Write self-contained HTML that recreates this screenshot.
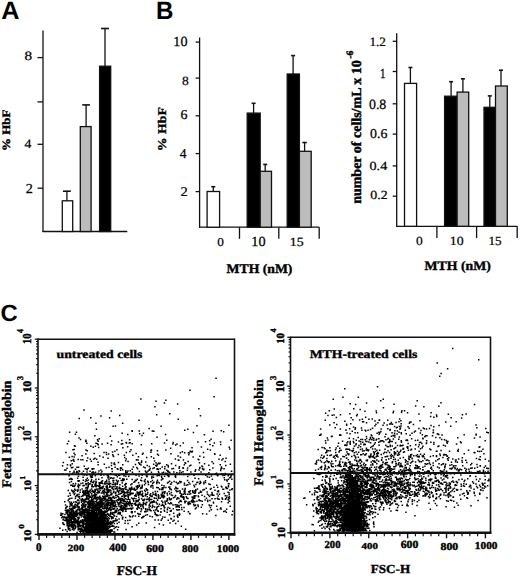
<!DOCTYPE html>
<html><head><meta charset="utf-8"><style>
html,body{margin:0;padding:0;background:#fff;width:520px;height:577px;overflow:hidden}
svg{display:block;text-rendering:geometricPrecision}
</style></head><body><svg width="520" height="577" viewBox="0 0 520 577"><line x1="43.00" y1="30.50" x2="43.00" y2="232.00" stroke="#111" stroke-width="1.3"/><line x1="42.40" y1="231.50" x2="127.30" y2="231.50" stroke="#111" stroke-width="1.3"/><line x1="37.50" y1="57.60" x2="43.00" y2="57.60" stroke="#111" stroke-width="1.3"/><line x1="37.50" y1="101.90" x2="43.00" y2="101.90" stroke="#111" stroke-width="1.3"/><line x1="37.50" y1="144.30" x2="43.00" y2="144.30" stroke="#111" stroke-width="1.3"/><line x1="37.50" y1="188.20" x2="43.00" y2="188.20" stroke="#111" stroke-width="1.3"/><rect x="62.30" y="200.80" width="10.40" height="30.70" fill="#fff" stroke="#111" stroke-width="1.3"/><line x1="66.90" y1="200.80" x2="66.90" y2="191.20" stroke="#111" stroke-width="1.3"/><line x1="62.95" y1="191.20" x2="70.85" y2="191.20" stroke="#111" stroke-width="1.6"/><rect x="80.30" y="126.60" width="10.80" height="104.90" fill="#bcbcbc" stroke="#111" stroke-width="1.3"/><line x1="86.10" y1="126.60" x2="86.10" y2="104.90" stroke="#111" stroke-width="1.3"/><line x1="82.25" y1="104.90" x2="89.95" y2="104.90" stroke="#111" stroke-width="1.6"/><rect x="99.60" y="66.20" width="11.10" height="165.30" fill="#000" stroke="#111" stroke-width="1.3"/><line x1="105.00" y1="66.20" x2="105.00" y2="28.50" stroke="#111" stroke-width="1.3"/><line x1="101.00" y1="28.50" x2="109.00" y2="28.50" stroke="#111" stroke-width="1.6"/><line x1="199.60" y1="37.50" x2="199.60" y2="227.80" stroke="#111" stroke-width="1.3"/><line x1="199.00" y1="227.20" x2="319.20" y2="227.20" stroke="#111" stroke-width="1.3"/><line x1="195.60" y1="42.10" x2="199.60" y2="42.10" stroke="#111" stroke-width="1.3"/><line x1="195.60" y1="78.10" x2="199.60" y2="78.10" stroke="#111" stroke-width="1.3"/><line x1="195.60" y1="115.80" x2="199.60" y2="115.80" stroke="#111" stroke-width="1.3"/><line x1="195.60" y1="153.60" x2="199.60" y2="153.60" stroke="#111" stroke-width="1.3"/><line x1="195.60" y1="191.60" x2="199.60" y2="191.60" stroke="#111" stroke-width="1.3"/><line x1="239.50" y1="227.20" x2="239.50" y2="238.80" stroke="#111" stroke-width="1.3"/><line x1="278.80" y1="227.20" x2="278.80" y2="238.80" stroke="#111" stroke-width="1.3"/><line x1="319.20" y1="227.20" x2="319.20" y2="238.80" stroke="#111" stroke-width="1.3"/><rect x="207.10" y="191.50" width="12.50" height="35.70" fill="#fff" stroke="#111" stroke-width="1.3"/><line x1="213.30" y1="191.50" x2="213.30" y2="186.70" stroke="#111" stroke-width="1.3"/><line x1="211.30" y1="186.70" x2="215.30" y2="186.70" stroke="#111" stroke-width="1.6"/><rect x="247.20" y="113.10" width="13.00" height="114.10" fill="#000" stroke="#111" stroke-width="1.3"/><line x1="253.60" y1="113.10" x2="253.60" y2="103.30" stroke="#111" stroke-width="1.3"/><line x1="251.60" y1="103.30" x2="255.60" y2="103.30" stroke="#111" stroke-width="1.6"/><rect x="260.20" y="171.30" width="11.30" height="55.90" fill="#bcbcbc" stroke="#111" stroke-width="1.3"/><line x1="265.20" y1="171.30" x2="265.20" y2="164.40" stroke="#111" stroke-width="1.3"/><line x1="263.20" y1="164.40" x2="267.20" y2="164.40" stroke="#111" stroke-width="1.6"/><rect x="287.20" y="74.00" width="12.20" height="153.20" fill="#000" stroke="#111" stroke-width="1.3"/><line x1="293.10" y1="74.00" x2="293.10" y2="55.60" stroke="#111" stroke-width="1.3"/><line x1="291.10" y1="55.60" x2="295.10" y2="55.60" stroke="#111" stroke-width="1.6"/><rect x="299.40" y="151.30" width="11.80" height="75.90" fill="#bcbcbc" stroke="#111" stroke-width="1.3"/><line x1="304.60" y1="151.30" x2="304.60" y2="142.50" stroke="#111" stroke-width="1.3"/><line x1="302.35" y1="142.50" x2="306.85" y2="142.50" stroke="#111" stroke-width="1.6"/><line x1="396.70" y1="33.30" x2="396.70" y2="226.90" stroke="#111" stroke-width="1.3"/><line x1="396.10" y1="226.30" x2="517.20" y2="226.30" stroke="#111" stroke-width="1.3"/><line x1="392.70" y1="41.30" x2="396.70" y2="41.30" stroke="#111" stroke-width="1.3"/><line x1="392.70" y1="71.50" x2="396.70" y2="71.50" stroke="#111" stroke-width="1.3"/><line x1="392.70" y1="103.80" x2="396.70" y2="103.80" stroke="#111" stroke-width="1.3"/><line x1="392.70" y1="134.10" x2="396.70" y2="134.10" stroke="#111" stroke-width="1.3"/><line x1="392.70" y1="165.90" x2="396.70" y2="165.90" stroke="#111" stroke-width="1.3"/><line x1="392.70" y1="196.20" x2="396.70" y2="196.20" stroke="#111" stroke-width="1.3"/><line x1="436.90" y1="226.30" x2="436.90" y2="238.10" stroke="#111" stroke-width="1.3"/><line x1="476.60" y1="226.30" x2="476.60" y2="238.10" stroke="#111" stroke-width="1.3"/><line x1="517.20" y1="226.30" x2="517.20" y2="238.10" stroke="#111" stroke-width="1.3"/><rect x="404.50" y="83.40" width="12.10" height="142.90" fill="#fff" stroke="#111" stroke-width="1.3"/><line x1="410.40" y1="83.40" x2="410.40" y2="67.50" stroke="#111" stroke-width="1.3"/><line x1="408.40" y1="67.50" x2="412.40" y2="67.50" stroke="#111" stroke-width="1.6"/><rect x="444.60" y="96.20" width="12.50" height="130.10" fill="#000" stroke="#111" stroke-width="1.3"/><line x1="451.10" y1="96.20" x2="451.10" y2="81.70" stroke="#111" stroke-width="1.3"/><line x1="449.10" y1="81.70" x2="453.10" y2="81.70" stroke="#111" stroke-width="1.6"/><rect x="457.10" y="92.10" width="11.60" height="134.20" fill="#bcbcbc" stroke="#111" stroke-width="1.3"/><line x1="462.90" y1="92.10" x2="462.90" y2="78.80" stroke="#111" stroke-width="1.3"/><line x1="460.90" y1="78.80" x2="464.90" y2="78.80" stroke="#111" stroke-width="1.6"/><rect x="484.00" y="107.30" width="11.50" height="119.00" fill="#000" stroke="#111" stroke-width="1.3"/><line x1="489.80" y1="107.30" x2="489.80" y2="95.90" stroke="#111" stroke-width="1.3"/><line x1="487.80" y1="95.90" x2="491.80" y2="95.90" stroke="#111" stroke-width="1.6"/><rect x="495.50" y="86.00" width="11.80" height="140.30" fill="#bcbcbc" stroke="#111" stroke-width="1.3"/><line x1="501.00" y1="86.00" x2="501.00" y2="70.20" stroke="#111" stroke-width="1.3"/><line x1="499.00" y1="70.20" x2="503.00" y2="70.20" stroke="#111" stroke-width="1.6"/><path fill="#000" d="M96.0 510.0h1.5v1.5h-1.5zM98.1 528.5h1.5v1.5h-1.5zM92.8 517.3h1.5v1.5h-1.5zM89.1 524.5h1.5v1.5h-1.5zM96.4 516.2h1.5v1.5h-1.5zM105.4 530.4h1.5v1.5h-1.5zM92.6 514.9h1.5v1.5h-1.5zM91.7 523.7h1.5v1.5h-1.5zM99.4 526.3h1.5v1.5h-1.5zM98.5 518.2h1.5v1.5h-1.5zM96.7 528.1h1.5v1.5h-1.5zM89.5 529.4h1.5v1.5h-1.5zM95.8 530.5h1.5v1.5h-1.5zM100.9 518.6h1.5v1.5h-1.5zM86.6 501.9h1.5v1.5h-1.5zM92.8 521.7h1.5v1.5h-1.5zM82.7 519.2h1.5v1.5h-1.5zM87.0 518.0h1.5v1.5h-1.5zM83.1 521.4h1.5v1.5h-1.5zM94.4 521.6h1.5v1.5h-1.5zM87.1 529.3h1.5v1.5h-1.5zM97.9 520.9h1.5v1.5h-1.5zM97.1 531.9h1.5v1.5h-1.5zM94.7 527.9h1.5v1.5h-1.5zM78.4 523.2h1.5v1.5h-1.5zM92.2 531.8h1.5v1.5h-1.5zM95.7 510.2h1.5v1.5h-1.5zM96.8 529.0h1.5v1.5h-1.5zM85.3 524.5h1.5v1.5h-1.5zM89.2 520.5h1.5v1.5h-1.5zM90.3 529.8h1.5v1.5h-1.5zM103.4 521.3h1.5v1.5h-1.5zM90.3 521.9h1.5v1.5h-1.5zM95.8 530.7h1.5v1.5h-1.5zM102.2 517.7h1.5v1.5h-1.5zM91.9 526.5h1.5v1.5h-1.5zM95.2 531.0h1.5v1.5h-1.5zM96.8 519.0h1.5v1.5h-1.5zM96.4 521.9h1.5v1.5h-1.5zM87.4 526.3h1.5v1.5h-1.5zM96.5 503.2h1.5v1.5h-1.5zM105.5 527.9h1.5v1.5h-1.5zM85.2 526.2h1.5v1.5h-1.5zM102.0 525.8h1.5v1.5h-1.5zM96.8 531.3h1.5v1.5h-1.5zM91.5 524.5h1.5v1.5h-1.5zM110.0 531.0h1.5v1.5h-1.5zM101.3 504.8h1.5v1.5h-1.5zM87.6 530.7h1.5v1.5h-1.5zM96.5 513.4h1.5v1.5h-1.5zM100.0 529.8h1.5v1.5h-1.5zM94.7 525.2h1.5v1.5h-1.5zM100.8 513.4h1.5v1.5h-1.5zM95.5 531.9h1.5v1.5h-1.5zM106.1 530.2h1.5v1.5h-1.5zM91.3 503.5h1.5v1.5h-1.5zM97.4 521.3h1.5v1.5h-1.5zM92.8 528.2h1.5v1.5h-1.5zM96.9 527.5h1.5v1.5h-1.5zM87.7 530.1h1.5v1.5h-1.5zM91.9 530.5h1.5v1.5h-1.5zM94.6 528.0h1.5v1.5h-1.5zM102.3 515.9h1.5v1.5h-1.5zM104.0 520.6h1.5v1.5h-1.5zM86.7 529.6h1.5v1.5h-1.5zM90.4 531.6h1.5v1.5h-1.5zM100.5 528.4h1.5v1.5h-1.5zM82.1 525.6h1.5v1.5h-1.5zM92.8 522.0h1.5v1.5h-1.5zM104.8 517.1h1.5v1.5h-1.5zM100.8 518.8h1.5v1.5h-1.5zM93.7 512.3h1.5v1.5h-1.5zM93.4 521.8h1.5v1.5h-1.5zM94.2 527.3h1.5v1.5h-1.5zM106.7 522.7h1.5v1.5h-1.5zM93.0 513.1h1.5v1.5h-1.5zM93.9 509.4h1.5v1.5h-1.5zM98.5 515.6h1.5v1.5h-1.5zM95.2 527.9h1.5v1.5h-1.5zM94.6 529.1h1.5v1.5h-1.5zM88.2 526.4h1.5v1.5h-1.5zM92.9 503.8h1.5v1.5h-1.5zM104.2 526.7h1.5v1.5h-1.5zM100.6 513.8h1.5v1.5h-1.5zM95.8 524.4h1.5v1.5h-1.5zM100.7 527.9h1.5v1.5h-1.5zM93.6 517.5h1.5v1.5h-1.5zM103.4 514.5h1.5v1.5h-1.5zM96.0 519.6h1.5v1.5h-1.5zM87.0 525.4h1.5v1.5h-1.5zM98.4 525.8h1.5v1.5h-1.5zM84.2 519.7h1.5v1.5h-1.5zM81.8 522.6h1.5v1.5h-1.5zM93.9 520.8h1.5v1.5h-1.5zM89.7 527.4h1.5v1.5h-1.5zM97.1 505.1h1.5v1.5h-1.5zM111.7 516.3h1.5v1.5h-1.5zM90.2 526.9h1.5v1.5h-1.5zM91.6 522.7h1.5v1.5h-1.5zM97.4 528.9h1.5v1.5h-1.5zM99.5 519.2h1.5v1.5h-1.5zM94.8 528.9h1.5v1.5h-1.5zM94.6 518.9h1.5v1.5h-1.5zM100.9 531.8h1.5v1.5h-1.5zM99.6 516.4h1.5v1.5h-1.5zM88.8 516.2h1.5v1.5h-1.5zM96.2 513.5h1.5v1.5h-1.5zM88.6 531.3h1.5v1.5h-1.5zM90.0 520.7h1.5v1.5h-1.5zM102.8 529.6h1.5v1.5h-1.5zM97.3 522.8h1.5v1.5h-1.5zM96.6 515.3h1.5v1.5h-1.5zM91.9 524.6h1.5v1.5h-1.5zM95.2 528.8h1.5v1.5h-1.5zM82.0 529.8h1.5v1.5h-1.5zM88.1 502.8h1.5v1.5h-1.5zM81.1 524.6h1.5v1.5h-1.5zM101.9 523.0h1.5v1.5h-1.5zM101.3 500.4h1.5v1.5h-1.5zM90.1 524.3h1.5v1.5h-1.5zM101.5 524.4h1.5v1.5h-1.5zM96.9 521.5h1.5v1.5h-1.5zM85.2 507.9h1.5v1.5h-1.5zM104.7 524.0h1.5v1.5h-1.5zM106.1 530.3h1.5v1.5h-1.5zM95.5 522.3h1.5v1.5h-1.5zM94.1 520.7h1.5v1.5h-1.5zM94.9 525.0h1.5v1.5h-1.5zM89.2 502.3h1.5v1.5h-1.5zM103.7 522.0h1.5v1.5h-1.5zM92.2 523.8h1.5v1.5h-1.5zM95.6 529.8h1.5v1.5h-1.5zM90.4 519.3h1.5v1.5h-1.5zM91.6 517.0h1.5v1.5h-1.5zM87.1 509.5h1.5v1.5h-1.5zM104.8 523.8h1.5v1.5h-1.5zM94.9 509.5h1.5v1.5h-1.5zM102.8 517.2h1.5v1.5h-1.5zM96.1 518.1h1.5v1.5h-1.5zM91.1 522.1h1.5v1.5h-1.5zM93.7 517.5h1.5v1.5h-1.5zM92.1 521.5h1.5v1.5h-1.5zM96.1 531.3h1.5v1.5h-1.5zM93.4 514.3h1.5v1.5h-1.5zM93.9 513.8h1.5v1.5h-1.5zM86.3 519.9h1.5v1.5h-1.5zM90.4 524.2h1.5v1.5h-1.5zM107.6 501.7h1.5v1.5h-1.5zM88.6 524.7h1.5v1.5h-1.5zM98.4 522.5h1.5v1.5h-1.5zM105.9 508.4h1.5v1.5h-1.5zM85.8 526.8h1.5v1.5h-1.5zM94.5 516.6h1.5v1.5h-1.5zM91.6 528.5h1.5v1.5h-1.5zM83.7 514.4h1.5v1.5h-1.5zM101.1 526.7h1.5v1.5h-1.5zM95.8 522.8h1.5v1.5h-1.5zM96.5 519.4h1.5v1.5h-1.5zM90.7 531.7h1.5v1.5h-1.5zM99.2 518.2h1.5v1.5h-1.5zM92.2 528.3h1.5v1.5h-1.5zM95.0 523.1h1.5v1.5h-1.5zM88.2 529.5h1.5v1.5h-1.5zM105.3 517.5h1.5v1.5h-1.5zM92.5 523.7h1.5v1.5h-1.5zM98.0 511.8h1.5v1.5h-1.5zM95.8 528.0h1.5v1.5h-1.5zM92.9 521.1h1.5v1.5h-1.5zM92.4 527.3h1.5v1.5h-1.5zM100.4 519.2h1.5v1.5h-1.5zM93.9 526.0h1.5v1.5h-1.5zM94.9 520.3h1.5v1.5h-1.5zM96.2 520.6h1.5v1.5h-1.5zM104.2 518.7h1.5v1.5h-1.5zM100.8 503.4h1.5v1.5h-1.5zM98.7 519.3h1.5v1.5h-1.5zM92.1 523.5h1.5v1.5h-1.5zM86.3 529.4h1.5v1.5h-1.5zM102.6 514.1h1.5v1.5h-1.5zM102.8 515.1h1.5v1.5h-1.5zM95.0 517.5h1.5v1.5h-1.5zM99.8 528.6h1.5v1.5h-1.5zM101.5 528.5h1.5v1.5h-1.5zM101.8 501.5h1.5v1.5h-1.5zM102.4 523.1h1.5v1.5h-1.5zM92.8 517.1h1.5v1.5h-1.5zM106.6 518.7h1.5v1.5h-1.5zM87.3 524.2h1.5v1.5h-1.5zM99.5 512.1h1.5v1.5h-1.5zM102.1 507.8h1.5v1.5h-1.5zM109.2 521.6h1.5v1.5h-1.5zM106.4 530.2h1.5v1.5h-1.5zM88.0 530.9h1.5v1.5h-1.5zM84.2 513.9h1.5v1.5h-1.5zM101.7 527.3h1.5v1.5h-1.5zM88.9 519.5h1.5v1.5h-1.5zM95.9 523.3h1.5v1.5h-1.5zM101.9 517.9h1.5v1.5h-1.5zM84.5 523.0h1.5v1.5h-1.5zM81.2 528.6h1.5v1.5h-1.5zM97.8 507.1h1.5v1.5h-1.5zM96.3 529.2h1.5v1.5h-1.5zM96.3 502.3h1.5v1.5h-1.5zM90.0 528.6h1.5v1.5h-1.5zM85.4 522.2h1.5v1.5h-1.5zM94.8 523.4h1.5v1.5h-1.5zM89.2 517.1h1.5v1.5h-1.5zM84.5 517.9h1.5v1.5h-1.5zM99.5 516.8h1.5v1.5h-1.5zM95.6 525.6h1.5v1.5h-1.5zM98.8 524.9h1.5v1.5h-1.5zM89.1 531.2h1.5v1.5h-1.5zM89.0 520.0h1.5v1.5h-1.5zM89.8 525.7h1.5v1.5h-1.5zM97.4 505.1h1.5v1.5h-1.5zM90.5 527.6h1.5v1.5h-1.5zM98.5 528.0h1.5v1.5h-1.5zM98.4 529.8h1.5v1.5h-1.5zM110.2 529.3h1.5v1.5h-1.5zM86.3 516.5h1.5v1.5h-1.5zM102.2 525.4h1.5v1.5h-1.5zM95.4 531.1h1.5v1.5h-1.5zM95.9 524.5h1.5v1.5h-1.5zM85.9 514.5h1.5v1.5h-1.5zM92.8 517.1h1.5v1.5h-1.5zM101.2 528.6h1.5v1.5h-1.5zM95.4 520.2h1.5v1.5h-1.5zM94.0 518.8h1.5v1.5h-1.5zM104.1 519.2h1.5v1.5h-1.5zM95.8 511.8h1.5v1.5h-1.5zM80.6 529.5h1.5v1.5h-1.5zM91.2 518.5h1.5v1.5h-1.5zM82.2 519.4h1.5v1.5h-1.5zM73.2 529.3h1.5v1.5h-1.5zM92.3 517.9h1.5v1.5h-1.5zM96.3 516.9h1.5v1.5h-1.5zM87.8 521.8h1.5v1.5h-1.5zM89.4 523.6h1.5v1.5h-1.5zM103.9 526.6h1.5v1.5h-1.5zM97.1 528.1h1.5v1.5h-1.5zM96.3 530.4h1.5v1.5h-1.5zM95.6 530.5h1.5v1.5h-1.5zM96.3 519.8h1.5v1.5h-1.5zM101.6 526.5h1.5v1.5h-1.5zM99.9 509.4h1.5v1.5h-1.5zM88.7 519.9h1.5v1.5h-1.5zM91.2 530.2h1.5v1.5h-1.5zM103.7 505.2h1.5v1.5h-1.5zM87.1 529.3h1.5v1.5h-1.5zM95.0 515.8h1.5v1.5h-1.5zM95.9 523.7h1.5v1.5h-1.5zM86.7 529.2h1.5v1.5h-1.5zM108.1 503.5h1.5v1.5h-1.5zM106.2 530.8h1.5v1.5h-1.5zM92.8 520.6h1.5v1.5h-1.5zM101.4 519.6h1.5v1.5h-1.5zM98.7 528.7h1.5v1.5h-1.5zM77.7 524.2h1.5v1.5h-1.5zM97.8 508.4h1.5v1.5h-1.5zM95.6 523.9h1.5v1.5h-1.5zM96.6 525.2h1.5v1.5h-1.5zM88.5 529.4h1.5v1.5h-1.5zM94.1 519.3h1.5v1.5h-1.5zM104.3 530.0h1.5v1.5h-1.5zM98.3 501.1h1.5v1.5h-1.5zM96.0 525.3h1.5v1.5h-1.5zM106.7 526.1h1.5v1.5h-1.5zM92.1 527.5h1.5v1.5h-1.5zM93.3 514.9h1.5v1.5h-1.5zM83.3 512.9h1.5v1.5h-1.5zM107.0 529.9h1.5v1.5h-1.5zM102.8 519.4h1.5v1.5h-1.5zM102.4 513.9h1.5v1.5h-1.5zM100.7 526.4h1.5v1.5h-1.5zM96.8 522.3h1.5v1.5h-1.5zM97.5 530.3h1.5v1.5h-1.5zM106.6 518.1h1.5v1.5h-1.5zM99.9 531.9h1.5v1.5h-1.5zM95.6 531.5h1.5v1.5h-1.5zM91.9 529.8h1.5v1.5h-1.5zM91.6 528.9h1.5v1.5h-1.5zM107.2 521.1h1.5v1.5h-1.5zM99.5 526.6h1.5v1.5h-1.5zM93.6 525.7h1.5v1.5h-1.5zM88.2 532.0h1.5v1.5h-1.5zM95.5 525.1h1.5v1.5h-1.5zM102.1 505.6h1.5v1.5h-1.5zM93.3 515.0h1.5v1.5h-1.5zM94.4 527.4h1.5v1.5h-1.5zM96.8 503.0h1.5v1.5h-1.5zM84.8 529.1h1.5v1.5h-1.5zM90.0 529.4h1.5v1.5h-1.5zM102.2 529.4h1.5v1.5h-1.5zM90.6 513.9h1.5v1.5h-1.5zM106.7 504.3h1.5v1.5h-1.5zM93.8 521.3h1.5v1.5h-1.5zM91.8 523.9h1.5v1.5h-1.5zM97.3 519.6h1.5v1.5h-1.5zM96.0 508.2h1.5v1.5h-1.5zM89.0 529.0h1.5v1.5h-1.5zM110.1 520.7h1.5v1.5h-1.5zM94.2 516.1h1.5v1.5h-1.5zM94.6 518.1h1.5v1.5h-1.5zM88.7 528.8h1.5v1.5h-1.5zM98.2 514.1h1.5v1.5h-1.5zM87.3 531.7h1.5v1.5h-1.5zM105.0 528.8h1.5v1.5h-1.5zM89.7 524.1h1.5v1.5h-1.5zM103.6 528.2h1.5v1.5h-1.5zM106.7 523.2h1.5v1.5h-1.5zM97.8 526.2h1.5v1.5h-1.5zM99.9 512.4h1.5v1.5h-1.5zM109.7 506.6h1.5v1.5h-1.5zM91.8 527.8h1.5v1.5h-1.5zM86.5 526.8h1.5v1.5h-1.5zM96.3 520.3h1.5v1.5h-1.5zM106.4 531.6h1.5v1.5h-1.5zM102.7 519.1h1.5v1.5h-1.5zM89.4 523.9h1.5v1.5h-1.5zM92.5 531.4h1.5v1.5h-1.5zM98.0 528.5h1.5v1.5h-1.5zM94.6 530.2h1.5v1.5h-1.5zM97.5 511.9h1.5v1.5h-1.5zM98.1 525.3h1.5v1.5h-1.5zM93.9 529.6h1.5v1.5h-1.5zM95.7 531.5h1.5v1.5h-1.5zM97.4 519.9h1.5v1.5h-1.5zM95.4 516.6h1.5v1.5h-1.5zM99.5 518.4h1.5v1.5h-1.5zM109.1 522.7h1.5v1.5h-1.5zM100.1 512.0h1.5v1.5h-1.5zM96.4 513.8h1.5v1.5h-1.5zM84.2 523.3h1.5v1.5h-1.5zM98.7 517.1h1.5v1.5h-1.5zM82.4 524.7h1.5v1.5h-1.5zM86.1 526.7h1.5v1.5h-1.5zM102.0 511.5h1.5v1.5h-1.5zM95.0 515.7h1.5v1.5h-1.5zM84.0 516.7h1.5v1.5h-1.5zM93.4 520.8h1.5v1.5h-1.5zM91.2 524.1h1.5v1.5h-1.5zM111.8 524.8h1.5v1.5h-1.5zM97.5 522.3h1.5v1.5h-1.5zM90.5 528.9h1.5v1.5h-1.5zM95.6 522.1h1.5v1.5h-1.5zM94.8 509.2h1.5v1.5h-1.5zM87.9 524.6h1.5v1.5h-1.5zM96.8 518.2h1.5v1.5h-1.5zM103.8 523.7h1.5v1.5h-1.5zM103.4 526.9h1.5v1.5h-1.5zM103.6 508.0h1.5v1.5h-1.5zM92.7 514.4h1.5v1.5h-1.5zM99.6 526.1h1.5v1.5h-1.5zM93.3 515.7h1.5v1.5h-1.5zM93.6 530.2h1.5v1.5h-1.5zM86.9 531.5h1.5v1.5h-1.5zM85.9 495.8h1.5v1.5h-1.5zM94.7 504.3h1.5v1.5h-1.5zM97.5 524.2h1.5v1.5h-1.5zM83.9 516.1h1.5v1.5h-1.5zM90.5 521.5h1.5v1.5h-1.5zM97.2 528.5h1.5v1.5h-1.5zM98.7 528.9h1.5v1.5h-1.5zM93.4 531.3h1.5v1.5h-1.5zM103.2 521.2h1.5v1.5h-1.5zM97.5 522.6h1.5v1.5h-1.5zM87.5 526.1h1.5v1.5h-1.5zM89.5 526.7h1.5v1.5h-1.5zM101.6 514.3h1.5v1.5h-1.5zM99.2 522.6h1.5v1.5h-1.5zM82.7 524.5h1.5v1.5h-1.5zM105.4 511.0h1.5v1.5h-1.5zM105.4 523.6h1.5v1.5h-1.5zM93.3 528.4h1.5v1.5h-1.5zM93.9 530.3h1.5v1.5h-1.5zM88.1 518.0h1.5v1.5h-1.5zM113.8 515.3h1.5v1.5h-1.5zM94.8 518.2h1.5v1.5h-1.5zM107.1 530.4h1.5v1.5h-1.5zM91.5 509.1h1.5v1.5h-1.5zM97.1 519.0h1.5v1.5h-1.5zM84.3 520.0h1.5v1.5h-1.5zM93.3 509.7h1.5v1.5h-1.5zM102.9 529.5h1.5v1.5h-1.5zM87.2 516.2h1.5v1.5h-1.5zM103.5 525.1h1.5v1.5h-1.5zM98.4 531.0h1.5v1.5h-1.5zM92.5 527.7h1.5v1.5h-1.5zM92.8 512.2h1.5v1.5h-1.5zM95.7 520.5h1.5v1.5h-1.5zM92.2 515.1h1.5v1.5h-1.5zM90.2 517.6h1.5v1.5h-1.5zM93.9 514.7h1.5v1.5h-1.5zM88.8 528.7h1.5v1.5h-1.5zM87.0 524.5h1.5v1.5h-1.5zM95.7 500.5h1.5v1.5h-1.5zM102.2 522.3h1.5v1.5h-1.5zM85.3 531.5h1.5v1.5h-1.5zM96.0 527.0h1.5v1.5h-1.5zM91.5 504.1h1.5v1.5h-1.5zM89.2 531.7h1.5v1.5h-1.5zM102.0 523.1h1.5v1.5h-1.5zM106.5 519.1h1.5v1.5h-1.5zM90.5 523.0h1.5v1.5h-1.5zM98.7 528.2h1.5v1.5h-1.5zM94.4 525.9h1.5v1.5h-1.5zM90.7 527.3h1.5v1.5h-1.5zM100.1 510.3h1.5v1.5h-1.5zM94.9 521.6h1.5v1.5h-1.5zM100.2 522.4h1.5v1.5h-1.5zM95.7 526.2h1.5v1.5h-1.5zM88.4 526.9h1.5v1.5h-1.5zM95.3 513.3h1.5v1.5h-1.5zM102.7 507.7h1.5v1.5h-1.5zM89.7 520.3h1.5v1.5h-1.5zM95.7 530.1h1.5v1.5h-1.5zM83.9 514.3h1.5v1.5h-1.5zM100.6 528.8h1.5v1.5h-1.5zM88.4 526.4h1.5v1.5h-1.5zM83.4 513.3h1.5v1.5h-1.5zM95.6 524.4h1.5v1.5h-1.5zM85.3 528.6h1.5v1.5h-1.5zM88.4 523.3h1.5v1.5h-1.5zM90.8 517.0h1.5v1.5h-1.5zM98.7 509.4h1.5v1.5h-1.5zM100.1 524.4h1.5v1.5h-1.5zM90.7 519.5h1.5v1.5h-1.5zM99.0 514.3h1.5v1.5h-1.5zM89.2 507.5h1.5v1.5h-1.5zM87.5 514.9h1.5v1.5h-1.5zM83.2 511.8h1.5v1.5h-1.5zM109.0 525.2h1.5v1.5h-1.5zM93.8 528.6h1.5v1.5h-1.5zM97.7 517.5h1.5v1.5h-1.5zM95.8 519.1h1.5v1.5h-1.5zM97.1 509.4h1.5v1.5h-1.5zM96.3 520.6h1.5v1.5h-1.5zM109.4 529.5h1.5v1.5h-1.5zM88.7 518.9h1.5v1.5h-1.5zM85.1 528.9h1.5v1.5h-1.5zM88.9 505.7h1.5v1.5h-1.5zM86.7 525.7h1.5v1.5h-1.5zM101.2 526.1h1.5v1.5h-1.5zM101.7 516.1h1.5v1.5h-1.5zM89.3 504.3h1.5v1.5h-1.5zM86.3 523.4h1.5v1.5h-1.5zM93.5 502.7h1.5v1.5h-1.5zM105.7 531.9h1.5v1.5h-1.5zM76.3 531.7h1.5v1.5h-1.5zM99.7 506.8h1.5v1.5h-1.5zM88.5 528.9h1.5v1.5h-1.5zM88.5 525.3h1.5v1.5h-1.5zM94.0 511.4h1.5v1.5h-1.5zM89.2 519.1h1.5v1.5h-1.5zM105.7 526.4h1.5v1.5h-1.5zM101.7 529.5h1.5v1.5h-1.5zM82.7 520.8h1.5v1.5h-1.5zM93.2 516.7h1.5v1.5h-1.5zM95.8 514.3h1.5v1.5h-1.5zM95.4 517.3h1.5v1.5h-1.5zM95.3 520.3h1.5v1.5h-1.5zM95.5 522.9h1.5v1.5h-1.5zM95.7 530.5h1.5v1.5h-1.5zM105.0 527.0h1.5v1.5h-1.5zM109.1 523.2h1.5v1.5h-1.5zM95.0 529.6h1.5v1.5h-1.5zM90.6 519.8h1.5v1.5h-1.5zM95.5 525.8h1.5v1.5h-1.5zM91.7 530.4h1.5v1.5h-1.5zM90.8 511.7h1.5v1.5h-1.5zM95.6 523.0h1.5v1.5h-1.5zM88.7 531.5h1.5v1.5h-1.5zM100.2 527.8h1.5v1.5h-1.5zM95.3 517.4h1.5v1.5h-1.5zM97.8 524.0h1.5v1.5h-1.5zM94.7 494.2h1.5v1.5h-1.5zM89.4 513.3h1.5v1.5h-1.5zM94.3 518.7h1.5v1.5h-1.5zM92.2 498.8h1.5v1.5h-1.5zM97.6 526.4h1.5v1.5h-1.5zM86.5 530.1h1.5v1.5h-1.5zM96.5 528.7h1.5v1.5h-1.5zM86.6 524.6h1.5v1.5h-1.5zM91.7 515.6h1.5v1.5h-1.5zM93.9 519.8h1.5v1.5h-1.5zM81.5 511.6h1.5v1.5h-1.5zM96.6 520.6h1.5v1.5h-1.5zM97.1 529.8h1.5v1.5h-1.5zM94.9 517.4h1.5v1.5h-1.5zM93.0 523.7h1.5v1.5h-1.5zM93.4 520.5h1.5v1.5h-1.5zM89.2 523.8h1.5v1.5h-1.5zM94.1 527.2h1.5v1.5h-1.5zM96.6 517.6h1.5v1.5h-1.5zM87.6 515.6h1.5v1.5h-1.5zM97.6 527.1h1.5v1.5h-1.5zM97.0 525.1h1.5v1.5h-1.5zM95.0 525.8h1.5v1.5h-1.5zM92.9 527.1h1.5v1.5h-1.5zM99.9 512.4h1.5v1.5h-1.5zM84.3 526.8h1.5v1.5h-1.5zM99.2 521.7h1.5v1.5h-1.5zM97.7 525.8h1.5v1.5h-1.5zM98.0 508.5h1.5v1.5h-1.5zM98.7 507.1h1.5v1.5h-1.5zM91.4 515.7h1.5v1.5h-1.5zM94.2 530.0h1.5v1.5h-1.5zM100.5 529.7h1.5v1.5h-1.5zM99.0 520.1h1.5v1.5h-1.5zM97.4 507.5h1.5v1.5h-1.5zM85.4 528.3h1.5v1.5h-1.5zM99.8 524.0h1.5v1.5h-1.5zM104.2 526.7h1.5v1.5h-1.5zM103.1 513.0h1.5v1.5h-1.5zM97.6 513.6h1.5v1.5h-1.5zM85.1 529.8h1.5v1.5h-1.5zM102.6 530.2h1.5v1.5h-1.5zM95.0 523.7h1.5v1.5h-1.5zM78.3 522.6h1.5v1.5h-1.5zM98.6 517.8h1.5v1.5h-1.5zM85.6 526.0h1.5v1.5h-1.5zM91.6 531.2h1.5v1.5h-1.5zM104.9 513.8h1.5v1.5h-1.5zM93.4 529.9h1.5v1.5h-1.5zM97.9 521.1h1.5v1.5h-1.5zM108.2 531.4h1.5v1.5h-1.5zM107.2 507.5h1.5v1.5h-1.5zM95.3 524.9h1.5v1.5h-1.5zM94.3 529.3h1.5v1.5h-1.5zM87.2 510.9h1.5v1.5h-1.5zM91.1 513.8h1.5v1.5h-1.5zM99.0 510.0h1.5v1.5h-1.5zM98.8 523.5h1.5v1.5h-1.5zM96.8 522.9h1.5v1.5h-1.5zM90.6 524.9h1.5v1.5h-1.5zM101.1 514.0h1.5v1.5h-1.5zM100.1 524.1h1.5v1.5h-1.5zM103.5 528.9h1.5v1.5h-1.5zM98.8 522.4h1.5v1.5h-1.5zM93.8 521.4h1.5v1.5h-1.5zM98.5 519.3h1.5v1.5h-1.5zM89.0 517.8h1.5v1.5h-1.5zM84.5 514.2h1.5v1.5h-1.5zM100.1 513.9h1.5v1.5h-1.5zM95.6 527.1h1.5v1.5h-1.5zM98.2 497.7h1.5v1.5h-1.5zM84.1 519.7h1.5v1.5h-1.5zM93.4 520.3h1.5v1.5h-1.5zM91.8 530.1h1.5v1.5h-1.5zM90.0 518.2h1.5v1.5h-1.5zM80.2 529.8h1.5v1.5h-1.5zM93.7 530.4h1.5v1.5h-1.5zM102.3 524.0h1.5v1.5h-1.5zM98.7 506.6h1.5v1.5h-1.5zM91.8 507.0h1.5v1.5h-1.5zM95.9 528.3h1.5v1.5h-1.5zM101.3 529.0h1.5v1.5h-1.5zM76.7 525.5h1.5v1.5h-1.5zM95.1 531.6h1.5v1.5h-1.5zM99.8 521.4h1.5v1.5h-1.5zM100.8 531.5h1.5v1.5h-1.5zM107.9 527.8h1.5v1.5h-1.5zM103.9 523.9h1.5v1.5h-1.5zM98.2 505.2h1.5v1.5h-1.5zM98.1 513.0h1.5v1.5h-1.5zM101.5 501.8h1.5v1.5h-1.5zM92.2 519.9h1.5v1.5h-1.5zM95.7 519.5h1.5v1.5h-1.5zM102.3 513.9h1.5v1.5h-1.5zM109.7 532.0h1.5v1.5h-1.5zM94.9 522.3h1.5v1.5h-1.5zM95.7 525.4h1.5v1.5h-1.5zM97.4 520.1h1.5v1.5h-1.5zM105.4 522.4h1.5v1.5h-1.5zM95.8 531.8h1.5v1.5h-1.5zM106.3 506.9h1.5v1.5h-1.5zM89.2 531.4h1.5v1.5h-1.5zM94.6 523.8h1.5v1.5h-1.5zM101.5 523.6h1.5v1.5h-1.5zM103.3 507.2h1.5v1.5h-1.5zM85.4 516.7h1.5v1.5h-1.5zM89.6 518.9h1.5v1.5h-1.5zM98.4 522.3h1.5v1.5h-1.5zM91.4 516.9h1.5v1.5h-1.5zM85.3 504.2h1.5v1.5h-1.5zM103.3 529.0h1.5v1.5h-1.5zM99.5 523.6h1.5v1.5h-1.5zM99.5 527.7h1.5v1.5h-1.5zM92.7 518.7h1.5v1.5h-1.5zM103.2 520.9h1.5v1.5h-1.5zM94.3 513.3h1.5v1.5h-1.5zM103.7 513.8h1.5v1.5h-1.5zM90.0 524.6h1.5v1.5h-1.5zM97.4 523.2h1.5v1.5h-1.5zM91.1 511.9h1.5v1.5h-1.5zM100.7 518.9h1.5v1.5h-1.5zM97.8 517.1h1.5v1.5h-1.5zM89.5 528.4h1.5v1.5h-1.5zM96.5 522.9h1.5v1.5h-1.5zM102.4 530.6h1.5v1.5h-1.5zM91.6 519.8h1.5v1.5h-1.5zM92.9 511.3h1.5v1.5h-1.5zM104.5 520.5h1.5v1.5h-1.5zM111.7 513.3h1.5v1.5h-1.5zM110.0 506.2h1.5v1.5h-1.5zM96.4 524.5h1.5v1.5h-1.5zM97.5 517.0h1.5v1.5h-1.5zM106.7 526.4h1.5v1.5h-1.5zM89.2 529.7h1.5v1.5h-1.5zM96.8 518.5h1.5v1.5h-1.5zM99.2 519.8h1.5v1.5h-1.5zM84.5 529.2h1.5v1.5h-1.5zM85.9 518.8h1.5v1.5h-1.5zM100.7 528.2h1.5v1.5h-1.5zM90.7 530.0h1.5v1.5h-1.5zM95.0 519.4h1.5v1.5h-1.5zM100.3 529.4h1.5v1.5h-1.5zM93.7 531.9h1.5v1.5h-1.5zM99.5 531.2h1.5v1.5h-1.5zM89.8 524.3h1.5v1.5h-1.5zM93.5 528.0h1.5v1.5h-1.5zM88.8 523.2h1.5v1.5h-1.5zM103.9 524.6h1.5v1.5h-1.5zM95.8 515.6h1.5v1.5h-1.5zM90.8 509.9h1.5v1.5h-1.5zM93.5 528.1h1.5v1.5h-1.5zM94.4 527.8h1.5v1.5h-1.5zM100.9 531.2h1.5v1.5h-1.5zM84.8 527.3h1.5v1.5h-1.5zM88.7 526.5h1.5v1.5h-1.5zM93.4 522.7h1.5v1.5h-1.5zM113.7 531.2h1.5v1.5h-1.5zM102.7 517.3h1.5v1.5h-1.5zM95.2 515.0h1.5v1.5h-1.5zM101.0 519.7h1.5v1.5h-1.5zM110.4 525.6h1.5v1.5h-1.5zM94.4 522.0h1.5v1.5h-1.5zM93.4 523.4h1.5v1.5h-1.5zM104.5 517.9h1.5v1.5h-1.5zM99.5 530.6h1.5v1.5h-1.5zM100.7 522.4h1.5v1.5h-1.5zM92.4 528.4h1.5v1.5h-1.5zM109.5 522.9h1.5v1.5h-1.5zM108.0 531.0h1.5v1.5h-1.5zM100.0 531.2h1.5v1.5h-1.5zM81.8 525.9h1.5v1.5h-1.5zM100.5 482.4h1.5v1.5h-1.5zM99.0 507.1h1.5v1.5h-1.5zM100.8 530.2h1.5v1.5h-1.5zM93.6 517.8h1.5v1.5h-1.5zM84.2 529.8h1.5v1.5h-1.5zM98.6 528.2h1.5v1.5h-1.5zM90.8 531.1h1.5v1.5h-1.5zM93.7 531.8h1.5v1.5h-1.5zM91.8 526.0h1.5v1.5h-1.5zM93.6 525.5h1.5v1.5h-1.5zM79.8 520.7h1.5v1.5h-1.5zM104.5 517.0h1.5v1.5h-1.5zM103.8 520.3h1.5v1.5h-1.5zM109.9 530.1h1.5v1.5h-1.5zM83.4 531.3h1.5v1.5h-1.5zM89.7 527.2h1.5v1.5h-1.5zM87.6 522.1h1.5v1.5h-1.5zM92.5 530.3h1.5v1.5h-1.5zM96.6 524.2h1.5v1.5h-1.5zM82.0 522.7h1.5v1.5h-1.5zM98.4 510.4h1.5v1.5h-1.5zM85.4 529.7h1.5v1.5h-1.5zM98.1 529.6h1.5v1.5h-1.5zM95.2 513.1h1.5v1.5h-1.5zM93.8 518.4h1.5v1.5h-1.5zM95.5 526.2h1.5v1.5h-1.5zM92.2 528.1h1.5v1.5h-1.5zM91.7 500.7h1.5v1.5h-1.5zM84.2 528.1h1.5v1.5h-1.5zM95.8 526.0h1.5v1.5h-1.5zM108.9 531.3h1.5v1.5h-1.5zM109.9 513.8h1.5v1.5h-1.5zM105.3 515.0h1.5v1.5h-1.5zM100.9 528.0h1.5v1.5h-1.5zM91.3 528.2h1.5v1.5h-1.5zM106.1 530.3h1.5v1.5h-1.5zM95.6 517.2h1.5v1.5h-1.5zM95.5 513.5h1.5v1.5h-1.5zM94.0 529.1h1.5v1.5h-1.5zM96.6 513.3h1.5v1.5h-1.5zM93.0 521.1h1.5v1.5h-1.5zM95.4 517.5h1.5v1.5h-1.5zM88.4 494.0h1.5v1.5h-1.5zM93.4 521.4h1.5v1.5h-1.5zM112.0 525.4h1.5v1.5h-1.5zM95.5 521.4h1.5v1.5h-1.5zM94.3 485.3h1.5v1.5h-1.5zM99.7 525.3h1.5v1.5h-1.5zM101.0 531.2h1.5v1.5h-1.5zM88.2 520.1h1.5v1.5h-1.5zM94.5 525.1h1.5v1.5h-1.5zM102.4 525.4h1.5v1.5h-1.5zM97.9 530.7h1.5v1.5h-1.5zM96.9 524.4h1.5v1.5h-1.5zM106.9 513.4h1.5v1.5h-1.5zM91.3 518.7h1.5v1.5h-1.5zM96.6 527.2h1.5v1.5h-1.5zM92.4 514.2h1.5v1.5h-1.5zM106.4 511.0h1.5v1.5h-1.5zM82.3 515.5h1.5v1.5h-1.5zM91.3 523.1h1.5v1.5h-1.5zM92.3 516.9h1.5v1.5h-1.5zM100.6 531.2h1.5v1.5h-1.5zM100.2 530.4h1.5v1.5h-1.5zM85.0 531.0h1.5v1.5h-1.5zM101.3 526.4h1.5v1.5h-1.5zM93.9 528.1h1.5v1.5h-1.5zM91.3 521.7h1.5v1.5h-1.5zM99.8 530.3h1.5v1.5h-1.5zM89.6 529.5h1.5v1.5h-1.5zM93.4 527.5h1.5v1.5h-1.5zM85.5 522.3h1.5v1.5h-1.5zM91.5 529.8h1.5v1.5h-1.5zM98.6 529.5h1.5v1.5h-1.5zM98.2 528.2h1.5v1.5h-1.5zM107.1 512.9h1.5v1.5h-1.5zM94.6 521.0h1.5v1.5h-1.5zM85.3 518.8h1.5v1.5h-1.5zM90.7 524.1h1.5v1.5h-1.5zM89.6 527.8h1.5v1.5h-1.5zM87.5 510.5h1.5v1.5h-1.5zM99.0 520.4h1.5v1.5h-1.5zM91.5 526.5h1.5v1.5h-1.5zM82.2 522.2h1.5v1.5h-1.5zM100.9 517.1h1.5v1.5h-1.5zM95.2 523.3h1.5v1.5h-1.5zM98.5 530.3h1.5v1.5h-1.5zM96.7 528.3h1.5v1.5h-1.5zM100.4 527.6h1.5v1.5h-1.5zM96.3 529.4h1.5v1.5h-1.5zM104.7 523.1h1.5v1.5h-1.5zM98.7 525.5h1.5v1.5h-1.5zM85.8 527.3h1.5v1.5h-1.5zM94.8 518.4h1.5v1.5h-1.5zM94.2 531.3h1.5v1.5h-1.5zM97.5 528.8h1.5v1.5h-1.5zM86.5 530.0h1.5v1.5h-1.5zM107.4 522.9h1.5v1.5h-1.5zM96.7 526.1h1.5v1.5h-1.5zM87.5 498.9h1.5v1.5h-1.5zM84.0 529.4h1.5v1.5h-1.5zM94.0 528.9h1.5v1.5h-1.5zM95.4 528.4h1.5v1.5h-1.5zM91.0 497.7h1.5v1.5h-1.5zM96.6 531.9h1.5v1.5h-1.5zM91.5 523.8h1.5v1.5h-1.5zM99.9 514.3h1.5v1.5h-1.5zM90.9 530.1h1.5v1.5h-1.5zM95.7 522.8h1.5v1.5h-1.5zM102.9 530.6h1.5v1.5h-1.5zM114.0 531.3h1.5v1.5h-1.5zM88.9 525.8h1.5v1.5h-1.5zM90.1 514.7h1.5v1.5h-1.5zM101.5 530.5h1.5v1.5h-1.5zM88.0 522.8h1.5v1.5h-1.5zM92.6 506.1h1.5v1.5h-1.5zM95.8 523.8h1.5v1.5h-1.5zM89.1 529.8h1.5v1.5h-1.5zM89.3 517.1h1.5v1.5h-1.5zM92.7 519.4h1.5v1.5h-1.5zM81.3 510.4h1.5v1.5h-1.5zM85.9 518.5h1.5v1.5h-1.5zM93.1 532.0h1.5v1.5h-1.5zM97.0 530.0h1.5v1.5h-1.5zM94.7 531.1h1.5v1.5h-1.5zM83.6 529.4h1.5v1.5h-1.5zM92.8 530.8h1.5v1.5h-1.5zM101.6 522.7h1.5v1.5h-1.5zM99.9 504.2h1.5v1.5h-1.5zM95.4 524.2h1.5v1.5h-1.5zM89.8 505.3h1.5v1.5h-1.5zM87.8 510.2h1.5v1.5h-1.5zM90.4 524.0h1.5v1.5h-1.5zM106.1 521.5h1.5v1.5h-1.5zM104.1 510.3h1.5v1.5h-1.5zM92.6 507.4h1.5v1.5h-1.5zM102.6 516.8h1.5v1.5h-1.5zM91.8 519.1h1.5v1.5h-1.5zM94.9 527.5h1.5v1.5h-1.5zM113.4 527.8h1.5v1.5h-1.5zM101.4 520.6h1.5v1.5h-1.5zM92.5 523.6h1.5v1.5h-1.5zM95.4 525.4h1.5v1.5h-1.5zM98.3 522.1h1.5v1.5h-1.5zM104.5 523.1h1.5v1.5h-1.5zM83.8 513.3h1.5v1.5h-1.5zM94.0 519.0h1.5v1.5h-1.5zM96.1 525.6h1.5v1.5h-1.5zM105.2 528.3h1.5v1.5h-1.5zM98.2 507.2h1.5v1.5h-1.5zM101.7 522.7h1.5v1.5h-1.5zM88.3 525.9h1.5v1.5h-1.5zM110.7 525.4h1.5v1.5h-1.5zM101.4 520.6h1.5v1.5h-1.5zM89.5 523.7h1.5v1.5h-1.5zM95.2 527.0h1.5v1.5h-1.5zM99.2 517.9h1.5v1.5h-1.5zM101.2 527.2h1.5v1.5h-1.5zM92.9 531.5h1.5v1.5h-1.5zM94.1 526.4h1.5v1.5h-1.5zM96.8 519.4h1.5v1.5h-1.5zM95.1 520.4h1.5v1.5h-1.5zM88.0 528.4h1.5v1.5h-1.5zM95.9 521.4h1.5v1.5h-1.5zM102.1 532.0h1.5v1.5h-1.5zM89.2 516.1h1.5v1.5h-1.5zM100.7 504.6h1.5v1.5h-1.5zM88.5 514.9h1.5v1.5h-1.5zM88.6 517.3h1.5v1.5h-1.5zM103.9 530.9h1.5v1.5h-1.5zM112.2 521.3h1.5v1.5h-1.5zM110.2 504.2h1.5v1.5h-1.5zM94.5 526.7h1.5v1.5h-1.5zM101.2 511.7h1.5v1.5h-1.5zM96.8 526.0h1.5v1.5h-1.5zM96.7 528.1h1.5v1.5h-1.5zM106.8 506.8h1.5v1.5h-1.5zM86.8 518.9h1.5v1.5h-1.5zM103.4 502.2h1.5v1.5h-1.5zM105.9 528.8h1.5v1.5h-1.5zM97.3 527.8h1.5v1.5h-1.5zM91.3 503.7h1.5v1.5h-1.5zM97.9 527.7h1.5v1.5h-1.5zM101.2 510.2h1.5v1.5h-1.5zM96.3 506.9h1.5v1.5h-1.5zM99.4 517.3h1.5v1.5h-1.5zM92.3 525.7h1.5v1.5h-1.5zM81.1 500.8h1.5v1.5h-1.5zM102.3 527.5h1.5v1.5h-1.5zM100.9 531.0h1.5v1.5h-1.5zM97.0 518.2h1.5v1.5h-1.5zM96.5 526.3h1.5v1.5h-1.5zM103.3 525.4h1.5v1.5h-1.5zM92.8 523.7h1.5v1.5h-1.5zM91.1 526.5h1.5v1.5h-1.5zM94.7 508.6h1.5v1.5h-1.5zM104.3 505.2h1.5v1.5h-1.5zM86.3 528.8h1.5v1.5h-1.5zM104.3 525.1h1.5v1.5h-1.5zM91.5 528.9h1.5v1.5h-1.5zM88.3 511.8h1.5v1.5h-1.5zM104.8 514.7h1.5v1.5h-1.5zM95.3 526.7h1.5v1.5h-1.5zM86.9 526.4h1.5v1.5h-1.5zM102.5 517.9h1.5v1.5h-1.5zM104.3 527.0h1.5v1.5h-1.5zM93.0 526.8h1.5v1.5h-1.5zM98.8 525.2h1.5v1.5h-1.5zM101.0 518.5h1.5v1.5h-1.5zM91.5 530.5h1.5v1.5h-1.5zM98.5 520.5h1.5v1.5h-1.5zM95.8 518.8h1.5v1.5h-1.5zM92.2 527.3h1.5v1.5h-1.5zM96.5 514.9h1.5v1.5h-1.5zM92.0 522.9h1.5v1.5h-1.5zM93.0 523.8h1.5v1.5h-1.5zM103.8 532.0h1.5v1.5h-1.5zM97.5 522.3h1.5v1.5h-1.5zM102.2 520.7h1.5v1.5h-1.5zM104.4 523.5h1.5v1.5h-1.5zM100.1 525.3h1.5v1.5h-1.5zM111.9 517.4h1.5v1.5h-1.5zM90.2 529.5h1.5v1.5h-1.5zM101.7 529.3h1.5v1.5h-1.5zM93.8 531.9h1.5v1.5h-1.5zM109.0 523.1h1.5v1.5h-1.5zM107.9 527.5h1.5v1.5h-1.5zM82.3 531.4h1.5v1.5h-1.5zM89.2 512.2h1.5v1.5h-1.5zM100.7 512.7h1.5v1.5h-1.5zM101.5 530.0h1.5v1.5h-1.5zM101.2 511.1h1.5v1.5h-1.5zM99.2 528.3h1.5v1.5h-1.5zM100.6 521.3h1.5v1.5h-1.5zM95.5 529.6h1.5v1.5h-1.5zM103.2 499.8h1.5v1.5h-1.5zM80.2 530.2h1.5v1.5h-1.5zM100.4 516.9h1.5v1.5h-1.5zM88.8 515.4h1.5v1.5h-1.5zM102.7 527.9h1.5v1.5h-1.5zM94.4 529.4h1.5v1.5h-1.5zM89.8 491.8h1.5v1.5h-1.5zM98.6 519.6h1.5v1.5h-1.5zM89.6 522.2h1.5v1.5h-1.5zM89.6 522.5h1.5v1.5h-1.5zM85.0 520.0h1.5v1.5h-1.5zM95.8 510.0h1.5v1.5h-1.5zM103.2 520.5h1.5v1.5h-1.5zM95.0 523.2h1.5v1.5h-1.5zM103.3 528.7h1.5v1.5h-1.5zM96.1 518.9h1.5v1.5h-1.5zM95.3 528.2h1.5v1.5h-1.5zM100.0 515.0h1.5v1.5h-1.5zM103.4 528.6h1.5v1.5h-1.5zM93.6 531.1h1.5v1.5h-1.5zM94.3 522.2h1.5v1.5h-1.5zM94.9 527.6h1.5v1.5h-1.5zM96.6 528.0h1.5v1.5h-1.5zM89.7 511.7h1.5v1.5h-1.5zM103.2 518.1h1.5v1.5h-1.5zM93.2 508.9h1.5v1.5h-1.5zM99.2 512.4h1.5v1.5h-1.5zM90.2 530.5h1.5v1.5h-1.5zM98.5 525.1h1.5v1.5h-1.5zM98.7 524.7h1.5v1.5h-1.5zM93.1 516.5h1.5v1.5h-1.5zM110.1 529.1h1.5v1.5h-1.5zM98.6 531.7h1.5v1.5h-1.5zM108.4 522.4h1.5v1.5h-1.5zM102.7 524.6h1.5v1.5h-1.5zM91.4 517.4h1.5v1.5h-1.5zM93.3 519.6h1.5v1.5h-1.5zM99.1 518.2h1.5v1.5h-1.5zM96.4 528.5h1.5v1.5h-1.5zM96.3 525.1h1.5v1.5h-1.5zM94.0 528.0h1.5v1.5h-1.5zM94.4 521.9h1.5v1.5h-1.5zM80.5 516.2h1.5v1.5h-1.5zM90.9 531.4h1.5v1.5h-1.5zM91.0 518.1h1.5v1.5h-1.5zM94.5 530.6h1.5v1.5h-1.5zM86.0 527.9h1.5v1.5h-1.5zM83.8 528.1h1.5v1.5h-1.5zM88.5 513.8h1.5v1.5h-1.5zM89.2 527.6h1.5v1.5h-1.5zM107.1 529.7h1.5v1.5h-1.5zM88.6 518.6h1.5v1.5h-1.5zM100.6 516.8h1.5v1.5h-1.5zM86.4 512.5h1.5v1.5h-1.5zM98.1 530.3h1.5v1.5h-1.5zM93.8 527.3h1.5v1.5h-1.5zM95.6 504.0h1.5v1.5h-1.5zM100.0 525.0h1.5v1.5h-1.5zM108.3 521.4h1.5v1.5h-1.5zM97.4 522.4h1.5v1.5h-1.5zM96.9 521.8h1.5v1.5h-1.5zM89.2 512.8h1.5v1.5h-1.5zM100.1 497.1h1.5v1.5h-1.5zM94.3 529.1h1.5v1.5h-1.5zM101.8 523.6h1.5v1.5h-1.5zM95.7 525.8h1.5v1.5h-1.5zM108.2 508.3h1.5v1.5h-1.5zM82.1 529.7h1.5v1.5h-1.5zM93.9 516.6h1.5v1.5h-1.5zM102.2 519.3h1.5v1.5h-1.5zM93.5 514.2h1.5v1.5h-1.5zM90.5 513.7h1.5v1.5h-1.5zM94.1 513.0h1.5v1.5h-1.5zM86.3 526.5h1.5v1.5h-1.5zM96.8 530.5h1.5v1.5h-1.5zM113.1 531.3h1.5v1.5h-1.5zM104.0 524.0h1.5v1.5h-1.5zM88.2 512.1h1.5v1.5h-1.5zM89.9 524.4h1.5v1.5h-1.5zM93.2 526.6h1.5v1.5h-1.5zM103.0 528.4h1.5v1.5h-1.5zM90.2 519.0h1.5v1.5h-1.5zM91.2 526.6h1.5v1.5h-1.5zM102.2 523.2h1.5v1.5h-1.5zM102.1 517.3h1.5v1.5h-1.5zM93.4 526.5h1.5v1.5h-1.5zM88.2 503.0h1.5v1.5h-1.5zM85.2 526.4h1.5v1.5h-1.5zM91.1 531.8h1.5v1.5h-1.5zM80.4 521.2h1.5v1.5h-1.5zM101.2 520.2h1.5v1.5h-1.5zM91.6 524.9h1.5v1.5h-1.5zM99.4 511.0h1.5v1.5h-1.5zM109.1 526.6h1.5v1.5h-1.5zM104.2 517.1h1.5v1.5h-1.5zM87.9 522.1h1.5v1.5h-1.5zM102.1 526.0h1.5v1.5h-1.5zM104.1 529.5h1.5v1.5h-1.5zM90.8 522.3h1.5v1.5h-1.5zM89.3 489.6h1.5v1.5h-1.5zM95.2 522.8h1.5v1.5h-1.5zM84.8 523.5h1.5v1.5h-1.5zM106.3 521.1h1.5v1.5h-1.5zM79.2 524.6h1.5v1.5h-1.5zM88.3 518.8h1.5v1.5h-1.5zM94.1 526.2h1.5v1.5h-1.5zM94.4 518.4h1.5v1.5h-1.5zM97.2 524.4h1.5v1.5h-1.5zM97.9 530.7h1.5v1.5h-1.5zM94.5 519.6h1.5v1.5h-1.5zM104.0 513.8h1.5v1.5h-1.5zM81.0 514.6h1.5v1.5h-1.5zM96.0 527.3h1.5v1.5h-1.5zM96.9 519.3h1.5v1.5h-1.5zM97.5 519.0h1.5v1.5h-1.5zM89.6 528.9h1.5v1.5h-1.5zM91.5 524.3h1.5v1.5h-1.5zM101.5 513.5h1.5v1.5h-1.5zM98.4 501.7h1.5v1.5h-1.5zM91.2 516.9h1.5v1.5h-1.5zM110.3 530.6h1.5v1.5h-1.5zM112.2 517.4h1.5v1.5h-1.5zM85.8 528.3h1.5v1.5h-1.5zM98.1 507.5h1.5v1.5h-1.5zM113.6 522.7h1.5v1.5h-1.5zM101.5 523.2h1.5v1.5h-1.5zM94.5 526.8h1.5v1.5h-1.5zM92.2 520.3h1.5v1.5h-1.5zM94.5 519.1h1.5v1.5h-1.5zM92.1 529.7h1.5v1.5h-1.5zM101.2 526.7h1.5v1.5h-1.5zM93.2 521.8h1.5v1.5h-1.5zM92.9 527.2h1.5v1.5h-1.5zM87.6 519.7h1.5v1.5h-1.5zM95.7 507.0h1.5v1.5h-1.5zM89.7 525.5h1.5v1.5h-1.5zM94.7 505.8h1.5v1.5h-1.5zM103.3 518.3h1.5v1.5h-1.5zM98.6 525.2h1.5v1.5h-1.5zM99.5 516.9h1.5v1.5h-1.5zM98.5 514.9h1.5v1.5h-1.5zM96.4 531.4h1.5v1.5h-1.5zM95.1 524.2h1.5v1.5h-1.5zM93.8 515.8h1.5v1.5h-1.5zM101.3 517.1h1.5v1.5h-1.5zM88.4 522.5h1.5v1.5h-1.5zM105.4 531.8h1.5v1.5h-1.5zM96.2 528.3h1.5v1.5h-1.5zM90.8 525.3h1.5v1.5h-1.5zM92.6 508.5h1.5v1.5h-1.5zM91.3 511.0h1.5v1.5h-1.5zM97.1 525.8h1.5v1.5h-1.5zM91.0 527.7h1.5v1.5h-1.5zM104.0 519.3h1.5v1.5h-1.5zM90.5 509.9h1.5v1.5h-1.5zM80.1 514.6h1.5v1.5h-1.5zM90.9 526.0h1.5v1.5h-1.5zM81.9 528.9h1.5v1.5h-1.5zM95.7 517.8h1.5v1.5h-1.5zM103.4 526.3h1.5v1.5h-1.5zM100.5 511.8h1.5v1.5h-1.5zM86.6 529.0h1.5v1.5h-1.5zM90.7 525.5h1.5v1.5h-1.5zM108.5 514.7h1.5v1.5h-1.5zM98.2 527.2h1.5v1.5h-1.5zM103.4 525.1h1.5v1.5h-1.5zM113.2 511.9h1.5v1.5h-1.5zM105.1 517.3h1.5v1.5h-1.5zM97.0 526.9h1.5v1.5h-1.5zM98.5 530.6h1.5v1.5h-1.5zM100.3 528.7h1.5v1.5h-1.5zM91.7 525.9h1.5v1.5h-1.5zM88.6 530.5h1.5v1.5h-1.5zM96.4 530.6h1.5v1.5h-1.5zM89.4 519.5h1.5v1.5h-1.5zM95.6 503.5h1.5v1.5h-1.5zM96.7 526.4h1.5v1.5h-1.5zM112.4 520.3h1.5v1.5h-1.5zM90.0 524.5h1.5v1.5h-1.5zM95.1 529.8h1.5v1.5h-1.5zM94.8 516.2h1.5v1.5h-1.5zM99.1 518.1h1.5v1.5h-1.5zM90.3 524.5h1.5v1.5h-1.5zM84.5 526.7h1.5v1.5h-1.5zM89.5 530.6h1.5v1.5h-1.5zM99.8 519.4h1.5v1.5h-1.5zM88.9 507.3h1.5v1.5h-1.5zM93.4 524.2h1.5v1.5h-1.5zM96.2 517.3h1.5v1.5h-1.5zM99.5 514.4h1.5v1.5h-1.5zM91.8 512.7h1.5v1.5h-1.5zM94.2 522.1h1.5v1.5h-1.5zM83.3 505.4h1.5v1.5h-1.5zM107.3 530.1h1.5v1.5h-1.5zM80.7 530.4h1.5v1.5h-1.5zM93.6 525.2h1.5v1.5h-1.5zM93.4 531.2h1.5v1.5h-1.5zM90.3 515.7h1.5v1.5h-1.5zM95.6 523.5h1.5v1.5h-1.5zM96.0 519.0h1.5v1.5h-1.5zM95.4 522.5h1.5v1.5h-1.5zM82.9 523.8h1.5v1.5h-1.5zM95.0 518.3h1.5v1.5h-1.5zM90.0 518.6h1.5v1.5h-1.5zM92.2 518.5h1.5v1.5h-1.5zM97.6 526.9h1.5v1.5h-1.5zM100.5 509.0h1.5v1.5h-1.5zM102.3 516.2h1.5v1.5h-1.5zM92.5 530.6h1.5v1.5h-1.5zM102.5 529.8h1.5v1.5h-1.5zM104.2 511.4h1.5v1.5h-1.5zM104.0 523.6h1.5v1.5h-1.5zM105.7 517.9h1.5v1.5h-1.5zM95.0 527.1h1.5v1.5h-1.5zM94.8 523.5h1.5v1.5h-1.5zM101.8 521.5h1.5v1.5h-1.5zM86.4 519.8h1.5v1.5h-1.5zM97.5 519.8h1.5v1.5h-1.5zM92.3 522.6h1.5v1.5h-1.5zM83.8 519.2h1.5v1.5h-1.5zM89.8 524.5h1.5v1.5h-1.5zM95.9 523.2h1.5v1.5h-1.5zM102.2 522.1h1.5v1.5h-1.5zM102.9 511.8h1.5v1.5h-1.5zM95.4 517.5h1.5v1.5h-1.5zM94.7 497.3h1.5v1.5h-1.5zM90.2 513.3h1.5v1.5h-1.5zM98.8 519.5h1.5v1.5h-1.5zM94.3 531.7h1.5v1.5h-1.5zM100.2 525.0h1.5v1.5h-1.5zM108.3 531.6h1.5v1.5h-1.5zM95.8 523.8h1.5v1.5h-1.5zM85.5 531.5h1.5v1.5h-1.5zM90.0 520.2h1.5v1.5h-1.5zM87.6 524.7h1.5v1.5h-1.5zM105.1 496.1h1.5v1.5h-1.5zM97.6 522.2h1.5v1.5h-1.5zM85.4 522.0h1.5v1.5h-1.5zM100.6 519.7h1.5v1.5h-1.5zM104.8 527.5h1.5v1.5h-1.5zM93.5 510.6h1.5v1.5h-1.5zM91.3 523.4h1.5v1.5h-1.5zM93.6 523.3h1.5v1.5h-1.5zM98.0 521.3h1.5v1.5h-1.5zM100.5 527.7h1.5v1.5h-1.5zM104.3 522.6h1.5v1.5h-1.5zM104.5 514.9h1.5v1.5h-1.5zM104.3 517.2h1.5v1.5h-1.5zM100.6 530.6h1.5v1.5h-1.5zM85.3 517.8h1.5v1.5h-1.5zM95.1 524.8h1.5v1.5h-1.5zM98.2 518.8h1.5v1.5h-1.5zM93.3 530.1h1.5v1.5h-1.5zM93.5 505.5h1.5v1.5h-1.5zM89.5 515.6h1.5v1.5h-1.5zM106.1 523.3h1.5v1.5h-1.5zM100.7 514.1h1.5v1.5h-1.5zM97.5 530.8h1.5v1.5h-1.5zM102.5 523.0h1.5v1.5h-1.5zM103.4 527.9h1.5v1.5h-1.5zM98.4 528.5h1.5v1.5h-1.5zM78.8 524.4h1.5v1.5h-1.5zM91.3 520.0h1.5v1.5h-1.5zM92.8 528.9h1.5v1.5h-1.5zM89.1 530.4h1.5v1.5h-1.5zM97.4 529.1h1.5v1.5h-1.5zM104.3 525.9h1.5v1.5h-1.5zM92.6 529.1h1.5v1.5h-1.5zM88.1 522.0h1.5v1.5h-1.5zM110.2 509.6h1.5v1.5h-1.5zM92.8 530.1h1.5v1.5h-1.5zM97.7 513.0h1.5v1.5h-1.5zM99.0 519.3h1.5v1.5h-1.5zM101.5 526.1h1.5v1.5h-1.5zM92.6 518.7h1.5v1.5h-1.5zM89.5 524.7h1.5v1.5h-1.5zM97.3 502.0h1.5v1.5h-1.5zM101.4 516.6h1.5v1.5h-1.5zM91.6 507.1h1.5v1.5h-1.5zM98.3 524.1h1.5v1.5h-1.5zM95.3 522.0h1.5v1.5h-1.5zM115.8 519.9h1.5v1.5h-1.5zM91.0 530.9h1.5v1.5h-1.5zM105.7 529.9h1.5v1.5h-1.5zM95.6 525.1h1.5v1.5h-1.5zM95.1 508.8h1.5v1.5h-1.5zM101.1 528.6h1.5v1.5h-1.5zM102.3 521.3h1.5v1.5h-1.5zM104.9 525.3h1.5v1.5h-1.5zM98.3 523.7h1.5v1.5h-1.5zM91.8 531.5h1.5v1.5h-1.5zM92.2 527.2h1.5v1.5h-1.5zM105.8 531.0h1.5v1.5h-1.5zM98.9 528.0h1.5v1.5h-1.5zM103.4 526.5h1.5v1.5h-1.5zM106.6 523.3h1.5v1.5h-1.5zM97.2 523.2h1.5v1.5h-1.5zM85.6 509.9h1.5v1.5h-1.5zM87.7 525.0h1.5v1.5h-1.5zM85.9 511.9h1.5v1.5h-1.5zM107.1 495.7h1.5v1.5h-1.5zM90.1 523.9h1.5v1.5h-1.5zM104.6 524.0h1.5v1.5h-1.5zM100.1 510.5h1.5v1.5h-1.5zM108.0 497.3h1.5v1.5h-1.5zM103.0 497.4h1.5v1.5h-1.5zM95.3 513.5h1.5v1.5h-1.5zM94.6 511.8h1.5v1.5h-1.5zM96.6 520.8h1.5v1.5h-1.5zM97.2 530.5h1.5v1.5h-1.5zM92.3 528.6h1.5v1.5h-1.5zM95.8 521.1h1.5v1.5h-1.5zM107.3 522.3h1.5v1.5h-1.5zM84.1 518.0h1.5v1.5h-1.5zM97.8 529.8h1.5v1.5h-1.5zM89.7 519.7h1.5v1.5h-1.5zM97.3 518.0h1.5v1.5h-1.5zM101.9 528.6h1.5v1.5h-1.5zM95.6 531.4h1.5v1.5h-1.5zM101.4 514.9h1.5v1.5h-1.5zM84.9 517.3h1.5v1.5h-1.5zM103.7 528.9h1.5v1.5h-1.5zM91.8 512.4h1.5v1.5h-1.5zM97.3 522.8h1.5v1.5h-1.5zM77.9 524.4h1.5v1.5h-1.5zM97.5 523.7h1.5v1.5h-1.5zM106.9 520.1h1.5v1.5h-1.5zM98.0 523.8h1.5v1.5h-1.5zM97.8 519.9h1.5v1.5h-1.5zM106.0 521.7h1.5v1.5h-1.5zM108.6 526.1h1.5v1.5h-1.5zM96.2 526.6h1.5v1.5h-1.5zM94.5 517.5h1.5v1.5h-1.5zM84.7 525.6h1.5v1.5h-1.5zM102.2 520.5h1.5v1.5h-1.5zM114.9 504.0h1.5v1.5h-1.5zM101.0 515.6h1.5v1.5h-1.5zM104.8 530.2h1.5v1.5h-1.5zM99.8 530.7h1.5v1.5h-1.5zM89.1 528.2h1.5v1.5h-1.5zM87.4 513.2h1.5v1.5h-1.5zM94.5 520.4h1.5v1.5h-1.5zM98.0 521.9h1.5v1.5h-1.5zM102.2 524.0h1.5v1.5h-1.5zM98.9 514.5h1.5v1.5h-1.5zM98.7 529.3h1.5v1.5h-1.5zM90.7 530.4h1.5v1.5h-1.5zM87.0 517.0h1.5v1.5h-1.5zM96.4 528.2h1.5v1.5h-1.5zM91.0 529.7h1.5v1.5h-1.5zM86.8 527.2h1.5v1.5h-1.5zM87.1 506.2h1.5v1.5h-1.5zM92.6 521.6h1.5v1.5h-1.5zM83.0 516.7h1.5v1.5h-1.5zM86.6 525.7h1.5v1.5h-1.5zM84.6 523.2h1.5v1.5h-1.5zM97.3 523.5h1.5v1.5h-1.5zM85.5 510.1h1.5v1.5h-1.5zM102.4 513.0h1.5v1.5h-1.5zM94.5 529.3h1.5v1.5h-1.5zM93.7 528.5h1.5v1.5h-1.5zM93.6 505.0h1.5v1.5h-1.5zM87.9 526.3h1.5v1.5h-1.5zM86.8 525.3h1.5v1.5h-1.5zM98.3 531.7h1.5v1.5h-1.5zM98.1 531.0h1.5v1.5h-1.5zM86.4 520.1h1.5v1.5h-1.5zM89.1 518.2h1.5v1.5h-1.5zM99.7 515.4h1.5v1.5h-1.5zM100.0 518.9h1.5v1.5h-1.5zM91.5 526.5h1.5v1.5h-1.5zM100.4 520.2h1.5v1.5h-1.5zM100.0 527.1h1.5v1.5h-1.5zM83.5 516.2h1.5v1.5h-1.5zM93.8 517.2h1.5v1.5h-1.5zM98.9 508.1h1.5v1.5h-1.5zM92.0 530.1h1.5v1.5h-1.5zM81.0 513.8h1.5v1.5h-1.5zM94.0 528.8h1.5v1.5h-1.5zM101.3 528.6h1.5v1.5h-1.5zM107.1 507.8h1.5v1.5h-1.5zM80.7 501.6h1.5v1.5h-1.5zM114.3 511.2h1.5v1.5h-1.5zM88.1 529.8h1.5v1.5h-1.5zM104.6 530.2h1.5v1.5h-1.5zM102.9 529.7h1.5v1.5h-1.5zM97.0 525.2h1.5v1.5h-1.5zM87.9 504.2h1.5v1.5h-1.5zM100.4 529.4h1.5v1.5h-1.5zM91.0 522.1h1.5v1.5h-1.5zM78.3 516.4h1.5v1.5h-1.5zM115.8 526.0h1.5v1.5h-1.5zM101.0 531.9h1.5v1.5h-1.5zM108.7 529.9h1.5v1.5h-1.5zM89.6 513.3h1.5v1.5h-1.5zM106.3 526.9h1.5v1.5h-1.5zM107.1 505.4h1.5v1.5h-1.5zM106.9 518.9h1.5v1.5h-1.5zM95.9 510.0h1.5v1.5h-1.5zM87.6 529.8h1.5v1.5h-1.5zM94.8 525.3h1.5v1.5h-1.5zM80.6 527.2h1.5v1.5h-1.5zM84.1 518.0h1.5v1.5h-1.5zM96.6 519.7h1.5v1.5h-1.5zM89.1 522.7h1.5v1.5h-1.5zM94.8 517.8h1.5v1.5h-1.5zM95.2 525.1h1.5v1.5h-1.5zM105.1 523.7h1.5v1.5h-1.5zM95.7 524.9h1.5v1.5h-1.5zM90.5 520.6h1.5v1.5h-1.5zM102.4 521.1h1.5v1.5h-1.5zM87.3 514.0h1.5v1.5h-1.5zM94.0 511.6h1.5v1.5h-1.5zM86.8 522.8h1.5v1.5h-1.5zM96.8 514.2h1.5v1.5h-1.5zM107.4 529.4h1.5v1.5h-1.5zM97.6 526.8h1.5v1.5h-1.5zM89.7 527.3h1.5v1.5h-1.5zM88.0 514.2h1.5v1.5h-1.5zM87.3 498.2h1.5v1.5h-1.5zM106.2 521.3h1.5v1.5h-1.5zM112.5 501.5h1.5v1.5h-1.5zM100.9 523.5h1.5v1.5h-1.5zM93.7 508.0h1.5v1.5h-1.5zM101.6 517.0h1.5v1.5h-1.5zM98.0 531.0h1.5v1.5h-1.5zM100.3 525.8h1.5v1.5h-1.5zM91.9 531.4h1.5v1.5h-1.5zM93.2 524.4h1.5v1.5h-1.5zM84.0 527.7h1.5v1.5h-1.5zM86.0 524.3h1.5v1.5h-1.5zM95.0 524.3h1.5v1.5h-1.5zM89.3 531.7h1.5v1.5h-1.5zM96.7 531.7h1.5v1.5h-1.5zM99.2 517.2h1.5v1.5h-1.5zM86.1 511.7h1.5v1.5h-1.5zM90.3 531.8h1.5v1.5h-1.5zM89.4 514.3h1.5v1.5h-1.5zM101.2 518.2h1.5v1.5h-1.5zM107.9 523.2h1.5v1.5h-1.5zM102.0 526.5h1.5v1.5h-1.5zM106.3 530.1h1.5v1.5h-1.5zM85.4 531.3h1.5v1.5h-1.5zM106.5 525.6h1.5v1.5h-1.5zM76.5 505.2h1.5v1.5h-1.5zM114.6 502.3h1.5v1.5h-1.5zM88.8 527.6h1.5v1.5h-1.5zM97.2 518.9h1.5v1.5h-1.5zM94.5 514.5h1.5v1.5h-1.5zM96.7 503.4h1.5v1.5h-1.5zM85.6 528.4h1.5v1.5h-1.5zM91.2 504.5h1.5v1.5h-1.5zM99.3 526.1h1.5v1.5h-1.5zM104.4 527.0h1.5v1.5h-1.5zM96.6 524.8h1.5v1.5h-1.5zM112.4 517.1h1.5v1.5h-1.5zM91.0 527.5h1.5v1.5h-1.5zM97.8 531.6h1.5v1.5h-1.5zM82.6 531.2h1.5v1.5h-1.5zM87.2 514.7h1.5v1.5h-1.5zM105.3 522.2h1.5v1.5h-1.5zM89.4 519.6h1.5v1.5h-1.5zM99.7 524.8h1.5v1.5h-1.5zM95.6 529.0h1.5v1.5h-1.5zM88.7 524.9h1.5v1.5h-1.5zM93.6 528.4h1.5v1.5h-1.5zM92.4 520.3h1.5v1.5h-1.5zM92.6 530.0h1.5v1.5h-1.5zM101.3 527.7h1.5v1.5h-1.5zM100.6 519.7h1.5v1.5h-1.5zM89.7 504.6h1.5v1.5h-1.5zM95.3 488.9h1.5v1.5h-1.5zM103.2 519.6h1.5v1.5h-1.5zM114.6 526.7h1.5v1.5h-1.5zM101.9 526.7h1.5v1.5h-1.5zM95.8 494.1h1.5v1.5h-1.5zM94.8 531.5h1.5v1.5h-1.5zM90.0 531.2h1.5v1.5h-1.5zM89.7 506.7h1.5v1.5h-1.5zM89.0 514.3h1.5v1.5h-1.5zM93.2 507.0h1.5v1.5h-1.5zM93.0 530.1h1.5v1.5h-1.5zM101.2 523.5h1.5v1.5h-1.5zM93.2 498.1h1.5v1.5h-1.5zM94.6 531.7h1.5v1.5h-1.5zM87.5 528.8h1.5v1.5h-1.5zM107.5 524.1h1.5v1.5h-1.5zM108.5 517.7h1.5v1.5h-1.5zM101.6 520.4h1.5v1.5h-1.5zM106.4 523.9h1.5v1.5h-1.5zM94.3 525.3h1.5v1.5h-1.5zM101.0 519.5h1.5v1.5h-1.5zM114.9 518.2h1.5v1.5h-1.5zM104.2 514.6h1.5v1.5h-1.5zM107.9 514.3h1.5v1.5h-1.5zM98.9 514.8h1.5v1.5h-1.5zM101.4 523.7h1.5v1.5h-1.5zM91.3 527.6h1.5v1.5h-1.5zM91.2 528.9h1.5v1.5h-1.5zM91.6 523.9h1.5v1.5h-1.5zM95.0 503.3h1.5v1.5h-1.5zM97.0 530.5h1.5v1.5h-1.5zM99.2 525.2h1.5v1.5h-1.5zM85.8 515.4h1.5v1.5h-1.5zM110.2 523.5h1.5v1.5h-1.5zM104.3 523.6h1.5v1.5h-1.5zM101.2 523.0h1.5v1.5h-1.5zM93.4 530.6h1.5v1.5h-1.5zM99.9 529.4h1.5v1.5h-1.5zM99.0 518.1h1.5v1.5h-1.5zM84.0 515.4h1.5v1.5h-1.5zM101.3 528.4h1.5v1.5h-1.5zM116.9 499.0h1.5v1.5h-1.5zM82.7 523.1h1.5v1.5h-1.5zM103.1 531.7h1.5v1.5h-1.5zM98.6 521.3h1.5v1.5h-1.5zM95.2 530.2h1.5v1.5h-1.5zM105.8 514.2h1.5v1.5h-1.5zM87.5 520.4h1.5v1.5h-1.5zM106.5 528.8h1.5v1.5h-1.5zM93.0 519.6h1.5v1.5h-1.5zM96.8 519.8h1.5v1.5h-1.5zM92.8 529.1h1.5v1.5h-1.5zM89.5 530.1h1.5v1.5h-1.5zM102.3 525.9h1.5v1.5h-1.5zM87.0 520.8h1.5v1.5h-1.5zM95.2 527.4h1.5v1.5h-1.5zM77.4 529.1h1.5v1.5h-1.5zM96.0 513.9h1.5v1.5h-1.5zM88.3 519.6h1.5v1.5h-1.5zM92.8 522.9h1.5v1.5h-1.5zM107.1 527.4h1.5v1.5h-1.5zM88.0 511.4h1.5v1.5h-1.5zM106.4 521.5h1.5v1.5h-1.5zM96.8 515.1h1.5v1.5h-1.5zM107.1 519.7h1.5v1.5h-1.5zM98.3 525.1h1.5v1.5h-1.5zM89.7 531.1h1.5v1.5h-1.5zM95.5 531.8h1.5v1.5h-1.5zM104.8 519.8h1.5v1.5h-1.5zM102.8 527.0h1.5v1.5h-1.5zM96.0 519.3h1.5v1.5h-1.5zM96.4 526.9h1.5v1.5h-1.5zM95.2 506.0h1.5v1.5h-1.5zM91.8 529.6h1.5v1.5h-1.5zM109.9 530.8h1.5v1.5h-1.5zM96.1 530.3h1.5v1.5h-1.5zM87.9 523.7h1.5v1.5h-1.5zM92.6 527.8h1.5v1.5h-1.5zM100.6 510.4h1.5v1.5h-1.5zM95.0 525.1h1.5v1.5h-1.5zM91.2 526.1h1.5v1.5h-1.5zM96.2 530.5h1.5v1.5h-1.5zM84.0 513.9h1.5v1.5h-1.5zM101.7 521.7h1.5v1.5h-1.5zM92.6 520.3h1.5v1.5h-1.5zM104.8 510.3h1.5v1.5h-1.5zM100.7 523.4h1.5v1.5h-1.5zM96.1 522.0h1.5v1.5h-1.5zM111.3 530.4h1.5v1.5h-1.5zM100.8 530.7h1.5v1.5h-1.5zM93.4 524.5h1.5v1.5h-1.5zM101.3 520.7h1.5v1.5h-1.5zM98.9 523.7h1.5v1.5h-1.5zM89.8 526.8h1.5v1.5h-1.5zM96.5 497.0h1.5v1.5h-1.5zM81.8 530.1h1.5v1.5h-1.5zM94.8 524.0h1.5v1.5h-1.5zM94.0 513.4h1.5v1.5h-1.5zM92.8 517.0h1.5v1.5h-1.5zM71.3 517.6h1.5v1.5h-1.5zM72.5 517.3h1.5v1.5h-1.5zM80.2 519.8h1.5v1.5h-1.5zM83.5 511.4h1.5v1.5h-1.5zM66.6 505.7h1.5v1.5h-1.5zM76.3 520.2h1.5v1.5h-1.5zM74.1 520.1h1.5v1.5h-1.5zM73.4 518.6h1.5v1.5h-1.5zM70.9 520.7h1.5v1.5h-1.5zM74.1 515.6h1.5v1.5h-1.5zM72.7 513.5h1.5v1.5h-1.5zM77.2 522.8h1.5v1.5h-1.5zM75.5 520.3h1.5v1.5h-1.5zM73.3 524.4h1.5v1.5h-1.5zM72.6 512.3h1.5v1.5h-1.5zM79.8 528.3h1.5v1.5h-1.5zM73.6 519.8h1.5v1.5h-1.5zM70.6 504.0h1.5v1.5h-1.5zM66.7 517.3h1.5v1.5h-1.5zM69.3 514.4h1.5v1.5h-1.5zM65.8 518.7h1.5v1.5h-1.5zM71.6 525.9h1.5v1.5h-1.5zM72.3 517.9h1.5v1.5h-1.5zM60.8 514.8h1.5v1.5h-1.5zM71.1 524.8h1.5v1.5h-1.5zM74.3 515.3h1.5v1.5h-1.5zM71.8 508.9h1.5v1.5h-1.5zM66.2 510.2h1.5v1.5h-1.5zM77.4 528.7h1.5v1.5h-1.5zM67.5 524.5h1.5v1.5h-1.5zM64.9 528.9h1.5v1.5h-1.5zM65.6 510.2h1.5v1.5h-1.5zM70.9 513.4h1.5v1.5h-1.5zM75.9 512.7h1.5v1.5h-1.5zM76.8 523.8h1.5v1.5h-1.5zM72.1 525.8h1.5v1.5h-1.5zM65.0 517.1h1.5v1.5h-1.5zM67.7 516.9h1.5v1.5h-1.5zM66.5 523.6h1.5v1.5h-1.5zM70.1 516.7h1.5v1.5h-1.5zM62.1 513.1h1.5v1.5h-1.5zM71.6 516.1h1.5v1.5h-1.5zM74.2 524.9h1.5v1.5h-1.5zM73.3 519.5h1.5v1.5h-1.5zM66.3 516.5h1.5v1.5h-1.5zM63.7 519.5h1.5v1.5h-1.5zM67.8 520.6h1.5v1.5h-1.5zM76.8 522.5h1.5v1.5h-1.5zM76.2 512.6h1.5v1.5h-1.5zM68.7 518.0h1.5v1.5h-1.5zM77.0 516.8h1.5v1.5h-1.5zM69.4 524.5h1.5v1.5h-1.5zM78.6 522.0h1.5v1.5h-1.5zM73.4 516.5h1.5v1.5h-1.5zM68.7 524.7h1.5v1.5h-1.5zM75.0 526.5h1.5v1.5h-1.5zM67.1 520.0h1.5v1.5h-1.5zM66.3 509.2h1.5v1.5h-1.5zM63.7 516.3h1.5v1.5h-1.5zM72.3 507.4h1.5v1.5h-1.5zM70.7 518.6h1.5v1.5h-1.5zM70.6 519.8h1.5v1.5h-1.5zM69.0 527.4h1.5v1.5h-1.5zM78.2 521.7h1.5v1.5h-1.5zM68.9 507.6h1.5v1.5h-1.5zM67.4 515.4h1.5v1.5h-1.5zM77.2 512.5h1.5v1.5h-1.5zM78.1 512.7h1.5v1.5h-1.5zM72.7 517.7h1.5v1.5h-1.5zM62.3 519.1h1.5v1.5h-1.5zM68.0 516.8h1.5v1.5h-1.5zM74.1 513.0h1.5v1.5h-1.5zM71.1 514.4h1.5v1.5h-1.5zM78.8 514.2h1.5v1.5h-1.5zM64.2 516.6h1.5v1.5h-1.5zM74.4 523.0h1.5v1.5h-1.5zM67.9 519.5h1.5v1.5h-1.5zM77.6 524.2h1.5v1.5h-1.5zM70.6 510.6h1.5v1.5h-1.5zM67.8 519.2h1.5v1.5h-1.5zM64.0 500.9h1.5v1.5h-1.5zM65.4 520.0h1.5v1.5h-1.5zM68.0 525.6h1.5v1.5h-1.5zM65.9 517.8h1.5v1.5h-1.5zM77.0 508.6h1.5v1.5h-1.5zM77.7 518.8h1.5v1.5h-1.5zM72.4 513.4h1.5v1.5h-1.5zM65.8 517.0h1.5v1.5h-1.5zM70.4 520.3h1.5v1.5h-1.5zM67.6 495.6h1.5v1.5h-1.5zM78.3 517.2h1.5v1.5h-1.5zM72.6 521.4h1.5v1.5h-1.5zM73.4 521.1h1.5v1.5h-1.5zM69.0 515.0h1.5v1.5h-1.5zM60.9 514.8h1.5v1.5h-1.5zM67.1 512.2h1.5v1.5h-1.5zM65.4 516.7h1.5v1.5h-1.5zM72.9 527.7h1.5v1.5h-1.5zM71.5 513.9h1.5v1.5h-1.5zM67.0 519.8h1.5v1.5h-1.5zM69.1 519.7h1.5v1.5h-1.5zM78.8 528.0h1.5v1.5h-1.5zM66.2 521.7h1.5v1.5h-1.5zM66.4 522.7h1.5v1.5h-1.5zM69.9 517.9h1.5v1.5h-1.5zM67.5 527.8h1.5v1.5h-1.5zM68.9 517.3h1.5v1.5h-1.5zM73.7 516.8h1.5v1.5h-1.5zM79.7 525.5h1.5v1.5h-1.5zM62.1 522.0h1.5v1.5h-1.5zM70.9 523.7h1.5v1.5h-1.5zM71.2 511.3h1.5v1.5h-1.5zM70.1 520.1h1.5v1.5h-1.5zM69.3 529.3h1.5v1.5h-1.5zM76.0 520.7h1.5v1.5h-1.5zM68.7 511.7h1.5v1.5h-1.5zM70.4 522.1h1.5v1.5h-1.5zM71.0 516.7h1.5v1.5h-1.5zM71.5 523.6h1.5v1.5h-1.5zM70.1 504.1h1.5v1.5h-1.5zM76.0 511.3h1.5v1.5h-1.5zM71.0 509.8h1.5v1.5h-1.5zM71.9 526.9h1.5v1.5h-1.5zM70.7 525.4h1.5v1.5h-1.5zM66.0 510.1h1.5v1.5h-1.5zM66.9 519.0h1.5v1.5h-1.5zM65.7 519.5h1.5v1.5h-1.5zM72.0 515.3h1.5v1.5h-1.5zM67.4 526.4h1.5v1.5h-1.5zM65.7 512.2h1.5v1.5h-1.5zM72.2 517.5h1.5v1.5h-1.5zM73.6 514.3h1.5v1.5h-1.5zM62.2 522.3h1.5v1.5h-1.5zM79.4 514.1h1.5v1.5h-1.5zM71.2 522.6h1.5v1.5h-1.5zM70.5 511.0h1.5v1.5h-1.5zM76.3 509.7h1.5v1.5h-1.5zM71.3 511.3h1.5v1.5h-1.5zM68.0 514.0h1.5v1.5h-1.5zM82.0 513.2h1.5v1.5h-1.5zM70.5 511.8h1.5v1.5h-1.5zM75.2 519.6h1.5v1.5h-1.5zM65.7 517.0h1.5v1.5h-1.5zM70.5 519.6h1.5v1.5h-1.5zM72.9 527.4h1.5v1.5h-1.5zM83.0 521.4h1.5v1.5h-1.5zM66.5 513.0h1.5v1.5h-1.5zM70.8 507.7h1.5v1.5h-1.5zM74.3 522.0h1.5v1.5h-1.5zM71.4 524.0h1.5v1.5h-1.5zM65.0 507.5h1.5v1.5h-1.5zM73.0 523.8h1.5v1.5h-1.5zM71.5 503.1h1.5v1.5h-1.5zM73.2 517.3h1.5v1.5h-1.5zM76.7 523.8h1.5v1.5h-1.5zM76.1 510.8h1.5v1.5h-1.5zM73.0 505.8h1.5v1.5h-1.5zM72.6 527.7h1.5v1.5h-1.5zM65.5 506.7h1.5v1.5h-1.5zM70.3 519.6h1.5v1.5h-1.5zM72.1 507.2h1.5v1.5h-1.5zM69.0 520.3h1.5v1.5h-1.5zM71.5 528.7h1.5v1.5h-1.5zM66.9 514.1h1.5v1.5h-1.5zM78.7 511.2h1.5v1.5h-1.5zM81.8 503.0h1.5v1.5h-1.5zM69.1 505.6h1.5v1.5h-1.5zM73.0 512.8h1.5v1.5h-1.5zM69.8 519.3h1.5v1.5h-1.5zM77.3 521.3h1.5v1.5h-1.5zM73.2 519.7h1.5v1.5h-1.5zM71.4 523.5h1.5v1.5h-1.5zM69.9 519.6h1.5v1.5h-1.5zM66.0 516.4h1.5v1.5h-1.5zM74.4 517.9h1.5v1.5h-1.5zM67.4 499.7h1.5v1.5h-1.5zM73.7 512.3h1.5v1.5h-1.5zM71.6 521.0h1.5v1.5h-1.5zM76.5 513.7h1.5v1.5h-1.5zM70.9 526.2h1.5v1.5h-1.5zM76.1 521.9h1.5v1.5h-1.5zM66.4 530.7h1.5v1.5h-1.5zM74.0 507.6h1.5v1.5h-1.5zM69.9 513.5h1.5v1.5h-1.5zM72.0 525.9h1.5v1.5h-1.5zM71.4 518.1h1.5v1.5h-1.5zM75.7 511.0h1.5v1.5h-1.5zM60.9 514.2h1.5v1.5h-1.5zM72.6 515.0h1.5v1.5h-1.5zM63.5 523.7h1.5v1.5h-1.5zM77.0 522.1h1.5v1.5h-1.5zM61.1 517.0h1.5v1.5h-1.5zM66.0 511.2h1.5v1.5h-1.5zM62.6 523.5h1.5v1.5h-1.5zM79.2 525.5h1.5v1.5h-1.5zM64.6 509.6h1.5v1.5h-1.5zM71.6 524.2h1.5v1.5h-1.5zM68.3 510.1h1.5v1.5h-1.5zM62.0 515.9h1.5v1.5h-1.5zM69.3 511.5h1.5v1.5h-1.5zM74.3 505.4h1.5v1.5h-1.5zM70.1 512.8h1.5v1.5h-1.5zM75.7 512.2h1.5v1.5h-1.5zM69.2 524.1h1.5v1.5h-1.5zM71.0 522.5h1.5v1.5h-1.5zM69.1 513.1h1.5v1.5h-1.5zM72.7 506.9h1.5v1.5h-1.5zM80.5 507.9h1.5v1.5h-1.5zM72.8 501.4h1.5v1.5h-1.5zM72.0 515.5h1.5v1.5h-1.5zM67.9 516.2h1.5v1.5h-1.5zM67.2 510.6h1.5v1.5h-1.5zM78.3 517.5h1.5v1.5h-1.5zM65.4 518.1h1.5v1.5h-1.5zM66.4 525.0h1.5v1.5h-1.5zM70.5 510.7h1.5v1.5h-1.5zM68.9 525.2h1.5v1.5h-1.5zM80.8 514.1h1.5v1.5h-1.5zM59.2 527.6h1.5v1.5h-1.5zM72.8 510.0h1.5v1.5h-1.5zM74.6 524.9h1.5v1.5h-1.5zM65.4 511.7h1.5v1.5h-1.5zM67.8 528.8h1.5v1.5h-1.5zM73.2 520.7h1.5v1.5h-1.5zM79.1 509.4h1.5v1.5h-1.5zM66.4 523.3h1.5v1.5h-1.5zM63.1 517.2h1.5v1.5h-1.5zM75.9 521.0h1.5v1.5h-1.5zM69.3 515.5h1.5v1.5h-1.5zM59.9 514.6h1.5v1.5h-1.5zM78.3 525.4h1.5v1.5h-1.5zM70.0 513.6h1.5v1.5h-1.5zM76.6 523.2h1.5v1.5h-1.5zM70.8 524.7h1.5v1.5h-1.5zM69.1 517.6h1.5v1.5h-1.5zM68.7 522.4h1.5v1.5h-1.5zM78.4 501.6h1.5v1.5h-1.5zM78.2 528.5h1.5v1.5h-1.5zM60.3 512.5h1.5v1.5h-1.5zM66.3 510.7h1.5v1.5h-1.5zM79.9 531.5h1.5v1.5h-1.5zM69.2 529.8h1.5v1.5h-1.5zM64.2 513.7h1.5v1.5h-1.5zM71.0 521.0h1.5v1.5h-1.5zM70.5 515.0h1.5v1.5h-1.5zM70.5 509.7h1.5v1.5h-1.5zM68.6 520.3h1.5v1.5h-1.5zM69.4 525.1h1.5v1.5h-1.5zM72.7 516.2h1.5v1.5h-1.5zM66.9 524.2h1.5v1.5h-1.5zM69.6 515.5h1.5v1.5h-1.5zM70.3 516.0h1.5v1.5h-1.5zM77.5 527.3h1.5v1.5h-1.5zM72.9 505.6h1.5v1.5h-1.5zM70.5 510.1h1.5v1.5h-1.5zM73.7 511.7h1.5v1.5h-1.5zM73.0 525.9h1.5v1.5h-1.5zM76.4 520.5h1.5v1.5h-1.5zM73.5 521.5h1.5v1.5h-1.5zM80.0 520.6h1.5v1.5h-1.5zM77.7 525.5h1.5v1.5h-1.5zM70.8 514.6h1.5v1.5h-1.5zM68.9 516.0h1.5v1.5h-1.5zM75.4 515.1h1.5v1.5h-1.5zM73.6 521.2h1.5v1.5h-1.5zM70.5 508.6h1.5v1.5h-1.5zM63.6 516.3h1.5v1.5h-1.5zM72.7 522.1h1.5v1.5h-1.5zM74.9 518.0h1.5v1.5h-1.5zM75.0 510.9h1.5v1.5h-1.5zM64.6 519.8h1.5v1.5h-1.5zM76.2 519.4h1.5v1.5h-1.5zM68.3 522.3h1.5v1.5h-1.5zM72.9 513.0h1.5v1.5h-1.5zM73.1 520.8h1.5v1.5h-1.5zM67.0 521.9h1.5v1.5h-1.5zM68.0 522.8h1.5v1.5h-1.5zM60.6 513.8h1.5v1.5h-1.5zM66.4 521.4h1.5v1.5h-1.5zM62.0 529.4h1.5v1.5h-1.5zM73.2 513.3h1.5v1.5h-1.5zM71.3 522.6h1.5v1.5h-1.5zM75.6 515.2h1.5v1.5h-1.5zM72.8 515.0h1.5v1.5h-1.5zM67.8 509.2h1.5v1.5h-1.5zM72.7 510.3h1.5v1.5h-1.5zM69.0 521.7h1.5v1.5h-1.5zM74.0 518.8h1.5v1.5h-1.5zM72.6 526.7h1.5v1.5h-1.5zM66.1 505.9h1.5v1.5h-1.5zM166.7 509.1h1.5v1.5h-1.5zM108.3 480.4h1.5v1.5h-1.5zM75.6 501.4h1.5v1.5h-1.5zM97.5 503.1h1.5v1.5h-1.5zM144.8 482.4h1.5v1.5h-1.5zM204.4 499.2h1.5v1.5h-1.5zM72.5 491.9h1.5v1.5h-1.5zM74.1 492.5h1.5v1.5h-1.5zM71.9 518.2h1.5v1.5h-1.5zM164.0 467.9h1.5v1.5h-1.5zM179.2 490.1h1.5v1.5h-1.5zM124.9 516.7h1.5v1.5h-1.5zM123.1 502.5h1.5v1.5h-1.5zM133.6 487.5h1.5v1.5h-1.5zM138.0 496.4h1.5v1.5h-1.5zM109.4 489.3h1.5v1.5h-1.5zM91.5 468.6h1.5v1.5h-1.5zM121.6 487.9h1.5v1.5h-1.5zM214.7 473.0h1.5v1.5h-1.5zM170.6 489.1h1.5v1.5h-1.5zM80.7 512.4h1.5v1.5h-1.5zM117.6 480.2h1.5v1.5h-1.5zM98.8 511.4h1.5v1.5h-1.5zM111.4 487.8h1.5v1.5h-1.5zM78.2 493.4h1.5v1.5h-1.5zM155.9 508.5h1.5v1.5h-1.5zM163.3 506.1h1.5v1.5h-1.5zM128.2 502.0h1.5v1.5h-1.5zM163.8 492.6h1.5v1.5h-1.5zM106.4 482.7h1.5v1.5h-1.5zM90.0 500.9h1.5v1.5h-1.5zM106.6 474.8h1.5v1.5h-1.5zM152.3 487.2h1.5v1.5h-1.5zM126.7 508.1h1.5v1.5h-1.5zM119.7 508.3h1.5v1.5h-1.5zM120.1 498.9h1.5v1.5h-1.5zM184.2 502.0h1.5v1.5h-1.5zM89.8 503.1h1.5v1.5h-1.5zM88.9 490.8h1.5v1.5h-1.5zM103.9 497.3h1.5v1.5h-1.5zM101.6 487.5h1.5v1.5h-1.5zM115.4 509.5h1.5v1.5h-1.5zM70.7 515.6h1.5v1.5h-1.5zM216.7 508.8h1.5v1.5h-1.5zM87.7 527.3h1.5v1.5h-1.5zM145.2 503.9h1.5v1.5h-1.5zM223.5 492.7h1.5v1.5h-1.5zM169.4 499.1h1.5v1.5h-1.5zM159.3 497.3h1.5v1.5h-1.5zM97.8 472.5h1.5v1.5h-1.5zM89.0 517.2h1.5v1.5h-1.5zM107.8 504.2h1.5v1.5h-1.5zM82.9 509.0h1.5v1.5h-1.5zM91.1 514.4h1.5v1.5h-1.5zM150.1 480.9h1.5v1.5h-1.5zM114.0 500.5h1.5v1.5h-1.5zM226.5 480.3h1.5v1.5h-1.5zM104.2 516.2h1.5v1.5h-1.5zM141.4 474.4h1.5v1.5h-1.5zM100.1 469.3h1.5v1.5h-1.5zM114.8 511.7h1.5v1.5h-1.5zM115.9 500.0h1.5v1.5h-1.5zM191.6 496.7h1.5v1.5h-1.5zM137.2 491.4h1.5v1.5h-1.5zM74.9 521.4h1.5v1.5h-1.5zM176.1 490.7h1.5v1.5h-1.5zM107.2 490.4h1.5v1.5h-1.5zM72.3 511.3h1.5v1.5h-1.5zM189.7 503.1h1.5v1.5h-1.5zM114.5 505.2h1.5v1.5h-1.5zM91.2 490.5h1.5v1.5h-1.5zM84.7 510.6h1.5v1.5h-1.5zM194.6 508.0h1.5v1.5h-1.5zM115.2 491.5h1.5v1.5h-1.5zM179.4 491.6h1.5v1.5h-1.5zM110.1 490.1h1.5v1.5h-1.5zM88.8 500.8h1.5v1.5h-1.5zM109.9 485.7h1.5v1.5h-1.5zM183.7 489.7h1.5v1.5h-1.5zM170.1 517.8h1.5v1.5h-1.5zM163.2 494.5h1.5v1.5h-1.5zM94.6 490.1h1.5v1.5h-1.5zM127.8 498.5h1.5v1.5h-1.5zM112.2 480.1h1.5v1.5h-1.5zM120.6 505.5h1.5v1.5h-1.5zM108.3 490.6h1.5v1.5h-1.5zM98.3 518.0h1.5v1.5h-1.5zM99.0 500.8h1.5v1.5h-1.5zM82.4 509.7h1.5v1.5h-1.5zM104.8 514.2h1.5v1.5h-1.5zM102.3 518.7h1.5v1.5h-1.5zM180.7 493.2h1.5v1.5h-1.5zM136.8 492.9h1.5v1.5h-1.5zM160.5 504.8h1.5v1.5h-1.5zM93.8 518.5h1.5v1.5h-1.5zM75.3 515.0h1.5v1.5h-1.5zM122.6 489.2h1.5v1.5h-1.5zM209.7 507.0h1.5v1.5h-1.5zM97.1 484.9h1.5v1.5h-1.5zM201.9 512.9h1.5v1.5h-1.5zM68.2 498.4h1.5v1.5h-1.5zM146.2 489.5h1.5v1.5h-1.5zM87.8 483.9h1.5v1.5h-1.5zM140.1 503.7h1.5v1.5h-1.5zM115.1 510.1h1.5v1.5h-1.5zM220.4 508.3h1.5v1.5h-1.5zM150.2 486.2h1.5v1.5h-1.5zM148.6 499.3h1.5v1.5h-1.5zM128.9 504.9h1.5v1.5h-1.5zM217.2 498.0h1.5v1.5h-1.5zM85.7 497.9h1.5v1.5h-1.5zM99.8 500.2h1.5v1.5h-1.5zM112.6 483.8h1.5v1.5h-1.5zM111.4 529.2h1.5v1.5h-1.5zM156.0 486.8h1.5v1.5h-1.5zM91.9 508.7h1.5v1.5h-1.5zM110.7 501.0h1.5v1.5h-1.5zM131.6 502.8h1.5v1.5h-1.5zM106.4 501.4h1.5v1.5h-1.5zM117.0 489.4h1.5v1.5h-1.5zM85.4 498.3h1.5v1.5h-1.5zM142.0 516.4h1.5v1.5h-1.5zM92.9 502.0h1.5v1.5h-1.5zM91.6 502.5h1.5v1.5h-1.5zM144.8 493.2h1.5v1.5h-1.5zM148.7 497.1h1.5v1.5h-1.5zM213.1 494.6h1.5v1.5h-1.5zM121.9 485.6h1.5v1.5h-1.5zM86.4 517.0h1.5v1.5h-1.5zM78.3 470.1h1.5v1.5h-1.5zM84.4 509.6h1.5v1.5h-1.5zM145.2 510.9h1.5v1.5h-1.5zM76.8 490.5h1.5v1.5h-1.5zM102.7 485.5h1.5v1.5h-1.5zM108.2 482.9h1.5v1.5h-1.5zM77.8 480.6h1.5v1.5h-1.5zM83.3 500.6h1.5v1.5h-1.5zM94.7 495.5h1.5v1.5h-1.5zM107.3 500.1h1.5v1.5h-1.5zM119.6 506.6h1.5v1.5h-1.5zM208.6 476.6h1.5v1.5h-1.5zM89.8 475.2h1.5v1.5h-1.5zM119.5 499.2h1.5v1.5h-1.5zM176.1 498.6h1.5v1.5h-1.5zM206.9 499.4h1.5v1.5h-1.5zM111.3 522.7h1.5v1.5h-1.5zM83.9 511.2h1.5v1.5h-1.5zM96.5 507.9h1.5v1.5h-1.5zM201.3 494.6h1.5v1.5h-1.5zM197.5 505.8h1.5v1.5h-1.5zM113.1 525.5h1.5v1.5h-1.5zM69.1 492.6h1.5v1.5h-1.5zM167.7 475.7h1.5v1.5h-1.5zM85.9 531.8h1.5v1.5h-1.5zM124.1 500.8h1.5v1.5h-1.5zM94.3 488.7h1.5v1.5h-1.5zM104.6 516.3h1.5v1.5h-1.5zM121.8 518.2h1.5v1.5h-1.5zM85.0 500.8h1.5v1.5h-1.5zM76.7 505.2h1.5v1.5h-1.5zM83.3 510.6h1.5v1.5h-1.5zM161.0 476.7h1.5v1.5h-1.5zM144.5 478.7h1.5v1.5h-1.5zM117.3 490.5h1.5v1.5h-1.5zM113.4 500.5h1.5v1.5h-1.5zM123.9 503.2h1.5v1.5h-1.5zM118.3 487.4h1.5v1.5h-1.5zM226.2 495.2h1.5v1.5h-1.5zM77.2 479.9h1.5v1.5h-1.5zM116.6 482.5h1.5v1.5h-1.5zM112.3 507.7h1.5v1.5h-1.5zM116.5 489.0h1.5v1.5h-1.5zM95.2 478.4h1.5v1.5h-1.5zM213.1 486.4h1.5v1.5h-1.5zM71.7 515.8h1.5v1.5h-1.5zM96.0 504.1h1.5v1.5h-1.5zM75.2 506.6h1.5v1.5h-1.5zM113.7 497.6h1.5v1.5h-1.5zM95.9 499.9h1.5v1.5h-1.5zM142.6 502.0h1.5v1.5h-1.5zM103.8 487.9h1.5v1.5h-1.5zM68.8 481.8h1.5v1.5h-1.5zM120.5 506.3h1.5v1.5h-1.5zM106.6 519.8h1.5v1.5h-1.5zM74.9 495.9h1.5v1.5h-1.5zM162.5 496.1h1.5v1.5h-1.5zM138.3 492.2h1.5v1.5h-1.5zM112.7 508.4h1.5v1.5h-1.5zM88.3 496.3h1.5v1.5h-1.5zM124.8 510.4h1.5v1.5h-1.5zM77.1 485.2h1.5v1.5h-1.5zM108.1 476.2h1.5v1.5h-1.5zM121.9 510.8h1.5v1.5h-1.5zM113.4 505.5h1.5v1.5h-1.5zM134.9 504.4h1.5v1.5h-1.5zM102.8 496.8h1.5v1.5h-1.5zM118.0 498.3h1.5v1.5h-1.5zM121.8 491.7h1.5v1.5h-1.5zM170.8 463.1h1.5v1.5h-1.5zM114.1 506.3h1.5v1.5h-1.5zM129.7 502.7h1.5v1.5h-1.5zM225.6 487.7h1.5v1.5h-1.5zM124.3 522.6h1.5v1.5h-1.5zM74.7 489.4h1.5v1.5h-1.5zM187.8 501.5h1.5v1.5h-1.5zM156.0 514.0h1.5v1.5h-1.5zM192.9 503.6h1.5v1.5h-1.5zM121.3 491.5h1.5v1.5h-1.5zM193.2 484.5h1.5v1.5h-1.5zM147.3 481.0h1.5v1.5h-1.5zM156.7 490.7h1.5v1.5h-1.5zM123.3 507.6h1.5v1.5h-1.5zM118.0 490.9h1.5v1.5h-1.5zM126.4 498.9h1.5v1.5h-1.5zM77.8 466.5h1.5v1.5h-1.5zM78.8 530.5h1.5v1.5h-1.5zM187.0 475.8h1.5v1.5h-1.5zM67.5 489.7h1.5v1.5h-1.5zM209.6 488.5h1.5v1.5h-1.5zM179.9 495.7h1.5v1.5h-1.5zM111.3 506.2h1.5v1.5h-1.5zM125.2 510.5h1.5v1.5h-1.5zM116.4 519.3h1.5v1.5h-1.5zM111.5 470.8h1.5v1.5h-1.5zM106.4 485.9h1.5v1.5h-1.5zM99.3 489.8h1.5v1.5h-1.5zM92.8 494.4h1.5v1.5h-1.5zM99.2 526.0h1.5v1.5h-1.5zM85.0 504.0h1.5v1.5h-1.5zM110.1 496.9h1.5v1.5h-1.5zM191.9 480.7h1.5v1.5h-1.5zM115.0 511.8h1.5v1.5h-1.5zM170.6 491.8h1.5v1.5h-1.5zM107.4 501.9h1.5v1.5h-1.5zM97.0 498.8h1.5v1.5h-1.5zM129.7 507.6h1.5v1.5h-1.5zM87.5 494.6h1.5v1.5h-1.5zM95.3 498.2h1.5v1.5h-1.5zM92.1 526.0h1.5v1.5h-1.5zM112.7 481.8h1.5v1.5h-1.5zM131.4 468.5h1.5v1.5h-1.5zM101.1 511.1h1.5v1.5h-1.5zM109.8 482.7h1.5v1.5h-1.5zM176.7 506.1h1.5v1.5h-1.5zM137.9 503.6h1.5v1.5h-1.5zM107.3 474.3h1.5v1.5h-1.5zM125.4 494.8h1.5v1.5h-1.5zM119.2 477.5h1.5v1.5h-1.5zM78.7 495.8h1.5v1.5h-1.5zM99.3 484.8h1.5v1.5h-1.5zM69.4 503.0h1.5v1.5h-1.5zM85.3 479.1h1.5v1.5h-1.5zM86.6 474.0h1.5v1.5h-1.5zM105.7 489.1h1.5v1.5h-1.5zM97.0 506.9h1.5v1.5h-1.5zM117.4 502.7h1.5v1.5h-1.5zM122.4 510.1h1.5v1.5h-1.5zM93.6 490.6h1.5v1.5h-1.5zM94.0 491.7h1.5v1.5h-1.5zM140.0 505.4h1.5v1.5h-1.5zM141.5 484.6h1.5v1.5h-1.5zM192.5 500.0h1.5v1.5h-1.5zM166.7 473.0h1.5v1.5h-1.5zM102.1 487.1h1.5v1.5h-1.5zM227.6 475.1h1.5v1.5h-1.5zM89.6 509.4h1.5v1.5h-1.5zM175.8 506.1h1.5v1.5h-1.5zM107.5 523.3h1.5v1.5h-1.5zM120.5 488.8h1.5v1.5h-1.5zM104.1 513.9h1.5v1.5h-1.5zM121.8 479.5h1.5v1.5h-1.5zM135.2 494.7h1.5v1.5h-1.5zM137.4 486.6h1.5v1.5h-1.5zM163.8 510.5h1.5v1.5h-1.5zM97.2 507.0h1.5v1.5h-1.5zM138.8 494.0h1.5v1.5h-1.5zM140.1 486.8h1.5v1.5h-1.5zM177.2 509.3h1.5v1.5h-1.5zM75.6 494.9h1.5v1.5h-1.5zM81.8 511.5h1.5v1.5h-1.5zM125.1 486.4h1.5v1.5h-1.5zM93.2 502.1h1.5v1.5h-1.5zM136.2 500.3h1.5v1.5h-1.5zM101.6 492.3h1.5v1.5h-1.5zM104.0 482.3h1.5v1.5h-1.5zM111.1 501.1h1.5v1.5h-1.5zM146.9 480.4h1.5v1.5h-1.5zM116.0 511.0h1.5v1.5h-1.5zM161.6 491.6h1.5v1.5h-1.5zM149.7 509.7h1.5v1.5h-1.5zM115.0 494.8h1.5v1.5h-1.5zM92.4 511.8h1.5v1.5h-1.5zM184.5 493.4h1.5v1.5h-1.5zM227.8 484.9h1.5v1.5h-1.5zM90.0 512.8h1.5v1.5h-1.5zM110.8 521.7h1.5v1.5h-1.5zM138.5 498.6h1.5v1.5h-1.5zM122.8 490.3h1.5v1.5h-1.5zM127.9 493.9h1.5v1.5h-1.5zM99.7 511.2h1.5v1.5h-1.5zM108.8 486.6h1.5v1.5h-1.5zM129.0 500.7h1.5v1.5h-1.5zM90.8 488.2h1.5v1.5h-1.5zM142.7 507.3h1.5v1.5h-1.5zM117.9 491.6h1.5v1.5h-1.5zM101.2 482.2h1.5v1.5h-1.5zM75.5 509.6h1.5v1.5h-1.5zM119.4 501.4h1.5v1.5h-1.5zM102.7 489.8h1.5v1.5h-1.5zM92.6 491.6h1.5v1.5h-1.5zM84.8 494.3h1.5v1.5h-1.5zM123.4 498.9h1.5v1.5h-1.5zM86.2 521.7h1.5v1.5h-1.5zM83.1 499.6h1.5v1.5h-1.5zM154.0 511.5h1.5v1.5h-1.5zM116.8 529.0h1.5v1.5h-1.5zM90.9 478.9h1.5v1.5h-1.5zM92.3 472.3h1.5v1.5h-1.5zM139.4 490.8h1.5v1.5h-1.5zM90.8 511.2h1.5v1.5h-1.5zM114.1 502.0h1.5v1.5h-1.5zM105.5 486.2h1.5v1.5h-1.5zM73.5 490.6h1.5v1.5h-1.5zM105.6 507.9h1.5v1.5h-1.5zM116.8 481.7h1.5v1.5h-1.5zM95.3 488.8h1.5v1.5h-1.5zM174.1 488.2h1.5v1.5h-1.5zM187.2 497.8h1.5v1.5h-1.5zM171.8 494.7h1.5v1.5h-1.5zM192.1 501.5h1.5v1.5h-1.5zM139.0 494.1h1.5v1.5h-1.5zM158.6 503.5h1.5v1.5h-1.5zM179.0 480.7h1.5v1.5h-1.5zM80.3 499.3h1.5v1.5h-1.5zM161.7 492.7h1.5v1.5h-1.5zM163.2 491.2h1.5v1.5h-1.5zM86.4 494.9h1.5v1.5h-1.5zM77.9 520.6h1.5v1.5h-1.5zM143.6 480.2h1.5v1.5h-1.5zM217.8 491.1h1.5v1.5h-1.5zM81.0 507.7h1.5v1.5h-1.5zM86.4 513.3h1.5v1.5h-1.5zM161.8 503.5h1.5v1.5h-1.5zM218.4 498.5h1.5v1.5h-1.5zM151.1 495.7h1.5v1.5h-1.5zM74.4 512.7h1.5v1.5h-1.5zM111.9 496.6h1.5v1.5h-1.5zM121.1 495.7h1.5v1.5h-1.5zM137.3 505.5h1.5v1.5h-1.5zM86.0 468.2h1.5v1.5h-1.5zM93.2 500.9h1.5v1.5h-1.5zM86.8 494.8h1.5v1.5h-1.5zM154.9 494.4h1.5v1.5h-1.5zM92.2 501.5h1.5v1.5h-1.5zM112.8 489.1h1.5v1.5h-1.5zM197.9 478.1h1.5v1.5h-1.5zM161.1 496.3h1.5v1.5h-1.5zM70.9 513.1h1.5v1.5h-1.5zM93.5 491.6h1.5v1.5h-1.5zM82.5 530.7h1.5v1.5h-1.5zM124.9 495.5h1.5v1.5h-1.5zM168.5 497.3h1.5v1.5h-1.5zM141.9 492.5h1.5v1.5h-1.5zM90.9 520.7h1.5v1.5h-1.5zM134.6 502.6h1.5v1.5h-1.5zM113.6 512.0h1.5v1.5h-1.5zM120.9 505.0h1.5v1.5h-1.5zM92.5 491.2h1.5v1.5h-1.5zM100.4 501.8h1.5v1.5h-1.5zM94.2 507.8h1.5v1.5h-1.5zM114.7 482.5h1.5v1.5h-1.5zM91.9 499.5h1.5v1.5h-1.5zM167.5 519.4h1.5v1.5h-1.5zM208.4 504.2h1.5v1.5h-1.5zM203.5 488.8h1.5v1.5h-1.5zM154.5 490.8h1.5v1.5h-1.5zM69.3 497.8h1.5v1.5h-1.5zM137.8 493.8h1.5v1.5h-1.5zM73.1 514.0h1.5v1.5h-1.5zM123.4 499.3h1.5v1.5h-1.5zM77.5 517.9h1.5v1.5h-1.5zM70.5 513.4h1.5v1.5h-1.5zM104.8 511.7h1.5v1.5h-1.5zM120.7 509.4h1.5v1.5h-1.5zM74.2 506.0h1.5v1.5h-1.5zM208.8 495.7h1.5v1.5h-1.5zM122.1 508.9h1.5v1.5h-1.5zM183.7 482.5h1.5v1.5h-1.5zM225.9 497.0h1.5v1.5h-1.5zM108.2 478.5h1.5v1.5h-1.5zM105.7 485.8h1.5v1.5h-1.5zM99.4 516.5h1.5v1.5h-1.5zM136.4 486.4h1.5v1.5h-1.5zM220.0 507.3h1.5v1.5h-1.5zM101.8 480.0h1.5v1.5h-1.5zM128.4 494.0h1.5v1.5h-1.5zM75.7 515.7h1.5v1.5h-1.5zM85.9 531.8h1.5v1.5h-1.5zM92.3 506.1h1.5v1.5h-1.5zM183.4 510.5h1.5v1.5h-1.5zM73.7 485.8h1.5v1.5h-1.5zM98.3 517.4h1.5v1.5h-1.5zM102.1 503.2h1.5v1.5h-1.5zM139.6 491.6h1.5v1.5h-1.5zM111.6 499.4h1.5v1.5h-1.5zM98.0 496.8h1.5v1.5h-1.5zM125.5 502.0h1.5v1.5h-1.5zM118.9 489.6h1.5v1.5h-1.5zM178.5 506.4h1.5v1.5h-1.5zM210.4 487.7h1.5v1.5h-1.5zM104.4 516.5h1.5v1.5h-1.5zM182.5 493.4h1.5v1.5h-1.5zM92.7 516.7h1.5v1.5h-1.5zM80.9 504.4h1.5v1.5h-1.5zM83.7 493.0h1.5v1.5h-1.5zM103.6 483.3h1.5v1.5h-1.5zM154.3 519.2h1.5v1.5h-1.5zM187.8 503.8h1.5v1.5h-1.5zM100.3 513.8h1.5v1.5h-1.5zM179.8 481.7h1.5v1.5h-1.5zM110.0 511.5h1.5v1.5h-1.5zM94.0 491.0h1.5v1.5h-1.5zM196.2 500.4h1.5v1.5h-1.5zM149.2 515.4h1.5v1.5h-1.5zM180.9 494.4h1.5v1.5h-1.5zM215.9 505.5h1.5v1.5h-1.5zM122.5 489.6h1.5v1.5h-1.5zM106.2 488.9h1.5v1.5h-1.5zM133.2 481.5h1.5v1.5h-1.5zM152.9 509.8h1.5v1.5h-1.5zM123.5 478.5h1.5v1.5h-1.5zM228.3 483.0h1.5v1.5h-1.5zM78.9 527.5h1.5v1.5h-1.5zM230.8 470.4h1.5v1.5h-1.5zM86.5 477.6h1.5v1.5h-1.5zM209.0 505.1h1.5v1.5h-1.5zM127.6 494.6h1.5v1.5h-1.5zM144.9 514.6h1.5v1.5h-1.5zM136.3 500.1h1.5v1.5h-1.5zM149.8 495.3h1.5v1.5h-1.5zM107.9 491.7h1.5v1.5h-1.5zM104.1 511.6h1.5v1.5h-1.5zM121.2 499.7h1.5v1.5h-1.5zM103.1 513.1h1.5v1.5h-1.5zM135.1 493.6h1.5v1.5h-1.5zM133.5 497.6h1.5v1.5h-1.5zM87.4 485.1h1.5v1.5h-1.5zM87.3 490.7h1.5v1.5h-1.5zM155.1 492.7h1.5v1.5h-1.5zM204.8 481.7h1.5v1.5h-1.5zM229.5 505.4h1.5v1.5h-1.5zM207.9 494.5h1.5v1.5h-1.5zM74.5 527.8h1.5v1.5h-1.5zM122.3 499.5h1.5v1.5h-1.5zM144.8 503.8h1.5v1.5h-1.5zM130.0 488.1h1.5v1.5h-1.5zM118.3 505.4h1.5v1.5h-1.5zM88.3 510.3h1.5v1.5h-1.5zM88.7 502.6h1.5v1.5h-1.5zM203.8 495.8h1.5v1.5h-1.5zM83.1 494.3h1.5v1.5h-1.5zM88.4 513.6h1.5v1.5h-1.5zM141.6 517.0h1.5v1.5h-1.5zM80.3 524.6h1.5v1.5h-1.5zM124.1 484.1h1.5v1.5h-1.5zM154.6 512.7h1.5v1.5h-1.5zM136.0 504.3h1.5v1.5h-1.5zM200.6 506.6h1.5v1.5h-1.5zM70.9 489.5h1.5v1.5h-1.5zM201.5 500.6h1.5v1.5h-1.5zM131.3 482.9h1.5v1.5h-1.5zM176.6 504.2h1.5v1.5h-1.5zM179.3 492.4h1.5v1.5h-1.5zM116.6 489.5h1.5v1.5h-1.5zM227.6 483.0h1.5v1.5h-1.5zM160.2 511.4h1.5v1.5h-1.5zM100.1 505.6h1.5v1.5h-1.5zM69.8 503.6h1.5v1.5h-1.5zM127.3 522.7h1.5v1.5h-1.5zM146.8 488.9h1.5v1.5h-1.5zM214.2 489.6h1.5v1.5h-1.5zM120.6 492.6h1.5v1.5h-1.5zM76.8 522.1h1.5v1.5h-1.5zM189.9 493.1h1.5v1.5h-1.5zM176.1 490.9h1.5v1.5h-1.5zM77.8 487.0h1.5v1.5h-1.5zM85.5 508.8h1.5v1.5h-1.5zM176.1 488.1h1.5v1.5h-1.5zM122.4 473.3h1.5v1.5h-1.5zM72.1 508.5h1.5v1.5h-1.5zM98.7 506.3h1.5v1.5h-1.5zM127.7 503.1h1.5v1.5h-1.5zM168.8 514.1h1.5v1.5h-1.5zM95.8 505.8h1.5v1.5h-1.5zM71.4 478.5h1.5v1.5h-1.5zM95.5 513.7h1.5v1.5h-1.5zM105.3 502.8h1.5v1.5h-1.5zM111.7 483.7h1.5v1.5h-1.5zM84.0 493.4h1.5v1.5h-1.5zM112.3 496.7h1.5v1.5h-1.5zM91.8 505.7h1.5v1.5h-1.5zM87.9 502.8h1.5v1.5h-1.5zM87.4 501.1h1.5v1.5h-1.5zM116.8 490.3h1.5v1.5h-1.5zM90.6 499.9h1.5v1.5h-1.5zM99.3 487.5h1.5v1.5h-1.5zM103.1 525.8h1.5v1.5h-1.5zM165.2 486.8h1.5v1.5h-1.5zM193.5 500.7h1.5v1.5h-1.5zM109.4 499.7h1.5v1.5h-1.5zM124.0 504.6h1.5v1.5h-1.5zM83.4 492.3h1.5v1.5h-1.5zM90.3 502.7h1.5v1.5h-1.5zM96.2 492.0h1.5v1.5h-1.5zM114.4 510.3h1.5v1.5h-1.5zM80.7 498.9h1.5v1.5h-1.5zM171.0 481.7h1.5v1.5h-1.5zM98.7 485.1h1.5v1.5h-1.5zM128.6 503.3h1.5v1.5h-1.5zM105.0 498.2h1.5v1.5h-1.5zM133.5 503.2h1.5v1.5h-1.5zM150.9 498.8h1.5v1.5h-1.5zM83.1 501.2h1.5v1.5h-1.5zM107.7 483.5h1.5v1.5h-1.5zM129.6 491.1h1.5v1.5h-1.5zM135.6 479.7h1.5v1.5h-1.5zM82.6 479.5h1.5v1.5h-1.5zM107.6 517.1h1.5v1.5h-1.5zM188.8 491.6h1.5v1.5h-1.5zM137.6 503.8h1.5v1.5h-1.5zM124.6 520.0h1.5v1.5h-1.5zM85.5 516.6h1.5v1.5h-1.5zM97.2 507.5h1.5v1.5h-1.5zM140.8 476.9h1.5v1.5h-1.5zM88.9 499.8h1.5v1.5h-1.5zM178.2 497.8h1.5v1.5h-1.5zM129.1 499.0h1.5v1.5h-1.5zM156.6 506.1h1.5v1.5h-1.5zM151.5 495.2h1.5v1.5h-1.5zM211.9 494.6h1.5v1.5h-1.5zM162.1 516.2h1.5v1.5h-1.5zM148.7 504.0h1.5v1.5h-1.5zM150.6 456.0h1.5v1.5h-1.5zM184.4 488.1h1.5v1.5h-1.5zM145.8 498.8h1.5v1.5h-1.5zM84.9 491.8h1.5v1.5h-1.5zM94.8 514.2h1.5v1.5h-1.5zM91.0 499.6h1.5v1.5h-1.5zM112.1 487.9h1.5v1.5h-1.5zM178.5 514.1h1.5v1.5h-1.5zM130.3 508.0h1.5v1.5h-1.5zM91.1 506.5h1.5v1.5h-1.5zM166.4 499.7h1.5v1.5h-1.5zM156.5 503.2h1.5v1.5h-1.5zM123.6 495.4h1.5v1.5h-1.5zM114.2 485.9h1.5v1.5h-1.5zM194.5 490.9h1.5v1.5h-1.5zM112.5 485.9h1.5v1.5h-1.5zM189.2 483.3h1.5v1.5h-1.5zM97.4 508.7h1.5v1.5h-1.5zM117.0 495.7h1.5v1.5h-1.5zM109.2 504.8h1.5v1.5h-1.5zM92.8 491.6h1.5v1.5h-1.5zM130.1 503.0h1.5v1.5h-1.5zM76.1 504.4h1.5v1.5h-1.5zM76.9 477.4h1.5v1.5h-1.5zM127.0 501.0h1.5v1.5h-1.5zM179.0 513.5h1.5v1.5h-1.5zM107.4 498.3h1.5v1.5h-1.5zM145.4 493.9h1.5v1.5h-1.5zM103.6 507.0h1.5v1.5h-1.5zM86.0 486.8h1.5v1.5h-1.5zM142.8 500.1h1.5v1.5h-1.5zM91.0 510.7h1.5v1.5h-1.5zM140.6 493.7h1.5v1.5h-1.5zM191.4 496.2h1.5v1.5h-1.5zM194.7 504.8h1.5v1.5h-1.5zM87.2 503.2h1.5v1.5h-1.5zM145.7 474.9h1.5v1.5h-1.5zM118.3 521.6h1.5v1.5h-1.5zM81.1 521.0h1.5v1.5h-1.5zM106.4 495.4h1.5v1.5h-1.5zM84.8 520.7h1.5v1.5h-1.5zM82.0 473.7h1.5v1.5h-1.5zM157.2 514.8h1.5v1.5h-1.5zM104.1 517.7h1.5v1.5h-1.5zM95.5 507.6h1.5v1.5h-1.5zM97.8 485.6h1.5v1.5h-1.5zM139.8 487.8h1.5v1.5h-1.5zM196.7 488.3h1.5v1.5h-1.5zM145.0 493.9h1.5v1.5h-1.5zM173.4 480.8h1.5v1.5h-1.5zM205.9 513.3h1.5v1.5h-1.5zM78.9 497.6h1.5v1.5h-1.5zM211.6 478.6h1.5v1.5h-1.5zM83.9 516.2h1.5v1.5h-1.5zM192.0 491.2h1.5v1.5h-1.5zM125.4 482.9h1.5v1.5h-1.5zM167.6 481.5h1.5v1.5h-1.5zM99.4 502.1h1.5v1.5h-1.5zM68.3 475.1h1.5v1.5h-1.5zM103.4 493.2h1.5v1.5h-1.5zM138.5 484.5h1.5v1.5h-1.5zM131.2 512.0h1.5v1.5h-1.5zM124.6 508.5h1.5v1.5h-1.5zM180.2 504.1h1.5v1.5h-1.5zM151.2 475.7h1.5v1.5h-1.5zM125.3 528.8h1.5v1.5h-1.5zM82.6 527.1h1.5v1.5h-1.5zM107.8 489.1h1.5v1.5h-1.5zM170.7 494.3h1.5v1.5h-1.5zM184.9 528.4h1.5v1.5h-1.5zM81.9 506.9h1.5v1.5h-1.5zM151.5 500.9h1.5v1.5h-1.5zM91.6 484.0h1.5v1.5h-1.5zM160.4 519.4h1.5v1.5h-1.5zM124.9 505.6h1.5v1.5h-1.5zM92.7 486.0h1.5v1.5h-1.5zM162.2 487.5h1.5v1.5h-1.5zM112.2 511.7h1.5v1.5h-1.5zM166.8 499.6h1.5v1.5h-1.5zM210.6 509.1h1.5v1.5h-1.5zM186.8 479.8h1.5v1.5h-1.5zM99.5 506.1h1.5v1.5h-1.5zM88.5 483.2h1.5v1.5h-1.5zM136.6 488.0h1.5v1.5h-1.5zM102.4 512.0h1.5v1.5h-1.5zM137.7 499.8h1.5v1.5h-1.5zM227.7 486.1h1.5v1.5h-1.5zM94.6 494.4h1.5v1.5h-1.5zM105.9 479.4h1.5v1.5h-1.5zM147.7 483.7h1.5v1.5h-1.5zM155.0 493.0h1.5v1.5h-1.5zM107.2 490.5h1.5v1.5h-1.5zM162.9 504.8h1.5v1.5h-1.5zM194.0 501.1h1.5v1.5h-1.5zM225.1 486.6h1.5v1.5h-1.5zM109.0 495.1h1.5v1.5h-1.5zM105.4 514.6h1.5v1.5h-1.5zM148.1 498.2h1.5v1.5h-1.5zM228.8 500.4h1.5v1.5h-1.5zM178.1 501.8h1.5v1.5h-1.5zM156.0 481.3h1.5v1.5h-1.5zM102.3 512.7h1.5v1.5h-1.5zM108.0 508.3h1.5v1.5h-1.5zM85.2 493.1h1.5v1.5h-1.5zM82.7 500.1h1.5v1.5h-1.5zM198.1 492.4h1.5v1.5h-1.5zM90.6 520.5h1.5v1.5h-1.5zM181.1 495.6h1.5v1.5h-1.5zM145.6 501.9h1.5v1.5h-1.5zM116.0 509.7h1.5v1.5h-1.5zM88.5 508.5h1.5v1.5h-1.5zM84.5 505.1h1.5v1.5h-1.5zM141.2 487.2h1.5v1.5h-1.5zM115.6 474.5h1.5v1.5h-1.5zM76.8 499.8h1.5v1.5h-1.5zM113.0 479.7h1.5v1.5h-1.5zM188.4 493.5h1.5v1.5h-1.5zM98.4 520.2h1.5v1.5h-1.5zM100.3 499.2h1.5v1.5h-1.5zM153.1 481.4h1.5v1.5h-1.5zM105.9 480.9h1.5v1.5h-1.5zM100.9 511.8h1.5v1.5h-1.5zM125.0 469.9h1.5v1.5h-1.5zM152.2 505.8h1.5v1.5h-1.5zM132.1 507.3h1.5v1.5h-1.5zM125.8 505.1h1.5v1.5h-1.5zM140.0 479.6h1.5v1.5h-1.5zM139.2 492.6h1.5v1.5h-1.5zM81.4 488.3h1.5v1.5h-1.5zM231.3 514.1h1.5v1.5h-1.5zM117.7 499.6h1.5v1.5h-1.5zM111.0 500.7h1.5v1.5h-1.5zM87.5 491.0h1.5v1.5h-1.5zM87.1 507.2h1.5v1.5h-1.5zM71.1 484.5h1.5v1.5h-1.5zM72.8 511.3h1.5v1.5h-1.5zM79.5 520.7h1.5v1.5h-1.5zM99.2 522.1h1.5v1.5h-1.5zM101.7 482.8h1.5v1.5h-1.5zM129.1 488.5h1.5v1.5h-1.5zM138.7 507.3h1.5v1.5h-1.5zM77.5 485.6h1.5v1.5h-1.5zM83.9 503.2h1.5v1.5h-1.5zM193.5 495.7h1.5v1.5h-1.5zM85.8 521.0h1.5v1.5h-1.5zM170.0 502.1h1.5v1.5h-1.5zM99.1 498.4h1.5v1.5h-1.5zM157.6 494.0h1.5v1.5h-1.5zM120.0 505.9h1.5v1.5h-1.5zM98.8 486.5h1.5v1.5h-1.5zM90.4 480.6h1.5v1.5h-1.5zM105.7 510.3h1.5v1.5h-1.5zM231.5 488.1h1.5v1.5h-1.5zM142.4 516.1h1.5v1.5h-1.5zM222.9 488.4h1.5v1.5h-1.5zM148.8 508.6h1.5v1.5h-1.5zM91.3 502.4h1.5v1.5h-1.5zM93.7 497.8h1.5v1.5h-1.5zM99.1 503.1h1.5v1.5h-1.5zM91.1 486.0h1.5v1.5h-1.5zM107.1 509.7h1.5v1.5h-1.5zM106.1 505.6h1.5v1.5h-1.5zM94.0 495.7h1.5v1.5h-1.5zM110.6 499.6h1.5v1.5h-1.5zM85.9 497.1h1.5v1.5h-1.5zM133.0 500.5h1.5v1.5h-1.5zM124.9 508.6h1.5v1.5h-1.5zM79.4 491.6h1.5v1.5h-1.5zM84.0 499.6h1.5v1.5h-1.5zM111.3 487.2h1.5v1.5h-1.5zM99.9 481.8h1.5v1.5h-1.5zM110.0 503.8h1.5v1.5h-1.5zM84.0 511.0h1.5v1.5h-1.5zM162.0 501.4h1.5v1.5h-1.5zM151.8 504.5h1.5v1.5h-1.5zM107.2 525.7h1.5v1.5h-1.5zM174.9 476.6h1.5v1.5h-1.5zM105.7 493.9h1.5v1.5h-1.5zM194.9 468.9h1.5v1.5h-1.5zM228.4 497.7h1.5v1.5h-1.5zM98.5 491.8h1.5v1.5h-1.5zM91.1 496.5h1.5v1.5h-1.5zM153.7 497.4h1.5v1.5h-1.5zM99.4 486.5h1.5v1.5h-1.5zM102.4 499.5h1.5v1.5h-1.5zM162.7 496.9h1.5v1.5h-1.5zM115.3 496.7h1.5v1.5h-1.5zM131.3 525.9h1.5v1.5h-1.5zM99.3 509.4h1.5v1.5h-1.5zM149.6 505.6h1.5v1.5h-1.5zM113.1 477.3h1.5v1.5h-1.5zM104.8 491.6h1.5v1.5h-1.5zM175.0 486.4h1.5v1.5h-1.5zM184.5 487.7h1.5v1.5h-1.5zM166.6 498.0h1.5v1.5h-1.5zM70.2 477.8h1.5v1.5h-1.5zM113.3 501.6h1.5v1.5h-1.5zM134.7 515.3h1.5v1.5h-1.5zM92.5 491.5h1.5v1.5h-1.5zM116.4 483.4h1.5v1.5h-1.5zM104.8 498.0h1.5v1.5h-1.5zM183.4 490.7h1.5v1.5h-1.5zM84.9 487.2h1.5v1.5h-1.5zM162.1 478.1h1.5v1.5h-1.5zM106.4 491.5h1.5v1.5h-1.5zM101.2 477.0h1.5v1.5h-1.5zM104.0 495.5h1.5v1.5h-1.5zM94.8 471.5h1.5v1.5h-1.5zM128.8 515.3h1.5v1.5h-1.5zM125.3 486.1h1.5v1.5h-1.5zM88.8 496.3h1.5v1.5h-1.5zM141.8 495.7h1.5v1.5h-1.5zM120.9 514.8h1.5v1.5h-1.5zM169.8 483.2h1.5v1.5h-1.5zM82.8 503.3h1.5v1.5h-1.5zM193.4 504.9h1.5v1.5h-1.5zM188.8 501.3h1.5v1.5h-1.5zM126.5 501.0h1.5v1.5h-1.5zM101.4 498.1h1.5v1.5h-1.5zM75.4 513.8h1.5v1.5h-1.5zM177.3 505.5h1.5v1.5h-1.5zM202.1 489.2h1.5v1.5h-1.5zM111.5 499.8h1.5v1.5h-1.5zM98.3 505.4h1.5v1.5h-1.5zM145.5 487.9h1.5v1.5h-1.5zM160.7 475.6h1.5v1.5h-1.5zM113.8 501.4h1.5v1.5h-1.5zM101.4 486.3h1.5v1.5h-1.5zM88.1 496.1h1.5v1.5h-1.5zM100.7 498.8h1.5v1.5h-1.5zM151.0 477.3h1.5v1.5h-1.5zM94.8 513.3h1.5v1.5h-1.5zM92.6 508.2h1.5v1.5h-1.5zM77.0 525.8h1.5v1.5h-1.5zM197.5 495.2h1.5v1.5h-1.5zM101.7 486.3h1.5v1.5h-1.5zM97.8 503.1h1.5v1.5h-1.5zM79.5 489.3h1.5v1.5h-1.5zM109.9 509.0h1.5v1.5h-1.5zM177.5 482.2h1.5v1.5h-1.5zM159.5 497.4h1.5v1.5h-1.5zM155.6 502.0h1.5v1.5h-1.5zM109.8 477.5h1.5v1.5h-1.5zM180.2 495.0h1.5v1.5h-1.5zM122.2 491.0h1.5v1.5h-1.5zM166.7 494.3h1.5v1.5h-1.5zM133.5 488.9h1.5v1.5h-1.5zM77.1 499.2h1.5v1.5h-1.5zM195.5 507.0h1.5v1.5h-1.5zM89.7 496.3h1.5v1.5h-1.5zM128.1 491.9h1.5v1.5h-1.5zM110.9 493.9h1.5v1.5h-1.5zM74.2 504.3h1.5v1.5h-1.5zM77.7 475.5h1.5v1.5h-1.5zM120.7 507.7h1.5v1.5h-1.5zM142.6 495.6h1.5v1.5h-1.5zM133.9 495.0h1.5v1.5h-1.5zM134.2 511.1h1.5v1.5h-1.5zM113.1 514.3h1.5v1.5h-1.5zM127.4 489.6h1.5v1.5h-1.5zM158.8 488.2h1.5v1.5h-1.5zM109.7 497.2h1.5v1.5h-1.5zM96.4 521.4h1.5v1.5h-1.5zM148.4 500.3h1.5v1.5h-1.5zM137.6 494.4h1.5v1.5h-1.5zM143.9 489.5h1.5v1.5h-1.5zM108.7 483.5h1.5v1.5h-1.5zM114.7 492.8h1.5v1.5h-1.5zM138.5 485.5h1.5v1.5h-1.5zM206.6 476.0h1.5v1.5h-1.5zM85.8 486.8h1.5v1.5h-1.5zM94.1 505.9h1.5v1.5h-1.5zM184.1 489.4h1.5v1.5h-1.5zM112.9 496.1h1.5v1.5h-1.5zM148.4 509.1h1.5v1.5h-1.5zM74.6 513.8h1.5v1.5h-1.5zM138.3 492.0h1.5v1.5h-1.5zM64.8 504.3h1.5v1.5h-1.5zM107.9 489.5h1.5v1.5h-1.5zM205.7 497.5h1.5v1.5h-1.5zM167.0 471.0h1.5v1.5h-1.5zM98.7 503.1h1.5v1.5h-1.5zM180.6 471.8h1.5v1.5h-1.5zM187.2 502.9h1.5v1.5h-1.5zM97.2 492.3h1.5v1.5h-1.5zM91.3 484.8h1.5v1.5h-1.5zM139.5 513.4h1.5v1.5h-1.5zM88.7 513.5h1.5v1.5h-1.5zM93.1 494.5h1.5v1.5h-1.5zM83.4 484.8h1.5v1.5h-1.5zM95.5 481.5h1.5v1.5h-1.5zM141.3 490.5h1.5v1.5h-1.5zM170.2 483.6h1.5v1.5h-1.5zM163.5 509.5h1.5v1.5h-1.5zM130.2 503.2h1.5v1.5h-1.5zM160.7 479.2h1.5v1.5h-1.5zM225.0 497.9h1.5v1.5h-1.5zM185.9 497.3h1.5v1.5h-1.5zM92.4 523.7h1.5v1.5h-1.5zM124.6 500.7h1.5v1.5h-1.5zM99.3 521.0h1.5v1.5h-1.5zM193.6 490.3h1.5v1.5h-1.5zM120.5 479.7h1.5v1.5h-1.5zM184.4 491.3h1.5v1.5h-1.5zM135.5 495.6h1.5v1.5h-1.5zM84.4 506.1h1.5v1.5h-1.5zM87.4 492.9h1.5v1.5h-1.5zM166.6 508.6h1.5v1.5h-1.5zM91.0 506.5h1.5v1.5h-1.5zM182.3 470.9h1.5v1.5h-1.5zM115.9 515.7h1.5v1.5h-1.5zM71.0 509.4h1.5v1.5h-1.5zM89.1 519.4h1.5v1.5h-1.5zM175.5 481.4h1.5v1.5h-1.5zM156.7 499.2h1.5v1.5h-1.5zM106.6 516.1h1.5v1.5h-1.5zM113.4 515.3h1.5v1.5h-1.5zM124.5 484.3h1.5v1.5h-1.5zM177.0 487.7h1.5v1.5h-1.5zM103.8 489.0h1.5v1.5h-1.5zM174.1 496.2h1.5v1.5h-1.5zM106.9 487.6h1.5v1.5h-1.5zM80.3 482.7h1.5v1.5h-1.5zM97.3 491.0h1.5v1.5h-1.5zM70.1 524.3h1.5v1.5h-1.5zM170.6 518.2h1.5v1.5h-1.5zM71.5 522.2h1.5v1.5h-1.5zM94.8 496.6h1.5v1.5h-1.5zM80.0 521.9h1.5v1.5h-1.5zM146.7 510.2h1.5v1.5h-1.5zM74.7 500.9h1.5v1.5h-1.5zM115.4 510.4h1.5v1.5h-1.5zM92.9 517.7h1.5v1.5h-1.5zM118.7 486.5h1.5v1.5h-1.5zM120.5 492.5h1.5v1.5h-1.5zM92.0 489.8h1.5v1.5h-1.5zM101.6 487.7h1.5v1.5h-1.5zM100.9 480.8h1.5v1.5h-1.5zM115.6 499.7h1.5v1.5h-1.5zM70.9 504.5h1.5v1.5h-1.5zM173.4 515.7h1.5v1.5h-1.5zM153.1 499.9h1.5v1.5h-1.5zM170.8 502.8h1.5v1.5h-1.5zM151.4 484.6h1.5v1.5h-1.5zM221.1 486.2h1.5v1.5h-1.5zM84.7 480.8h1.5v1.5h-1.5zM138.8 484.5h1.5v1.5h-1.5zM200.1 481.7h1.5v1.5h-1.5zM106.3 492.9h1.5v1.5h-1.5zM151.0 495.5h1.5v1.5h-1.5zM113.6 504.4h1.5v1.5h-1.5zM108.3 500.0h1.5v1.5h-1.5zM96.2 513.4h1.5v1.5h-1.5zM77.7 496.2h1.5v1.5h-1.5zM70.2 503.3h1.5v1.5h-1.5zM145.5 522.3h1.5v1.5h-1.5zM121.9 508.4h1.5v1.5h-1.5zM164.4 501.9h1.5v1.5h-1.5zM78.4 505.9h1.5v1.5h-1.5zM180.4 481.1h1.5v1.5h-1.5zM94.4 509.2h1.5v1.5h-1.5zM84.8 518.9h1.5v1.5h-1.5zM99.1 495.4h1.5v1.5h-1.5zM100.0 487.0h1.5v1.5h-1.5zM230.0 476.5h1.5v1.5h-1.5zM183.3 506.7h1.5v1.5h-1.5zM119.1 502.5h1.5v1.5h-1.5zM198.4 499.1h1.5v1.5h-1.5zM121.9 479.9h1.5v1.5h-1.5zM158.8 488.7h1.5v1.5h-1.5zM85.4 501.0h1.5v1.5h-1.5zM98.4 490.9h1.5v1.5h-1.5zM155.7 501.4h1.5v1.5h-1.5zM120.7 501.8h1.5v1.5h-1.5zM115.9 500.0h1.5v1.5h-1.5zM167.5 502.2h1.5v1.5h-1.5zM112.5 503.0h1.5v1.5h-1.5zM102.5 495.7h1.5v1.5h-1.5zM127.5 495.8h1.5v1.5h-1.5zM90.0 480.9h1.5v1.5h-1.5zM116.5 488.4h1.5v1.5h-1.5zM138.0 499.2h1.5v1.5h-1.5zM177.4 520.5h1.5v1.5h-1.5zM155.7 514.7h1.5v1.5h-1.5zM228.7 497.8h1.5v1.5h-1.5zM101.2 505.6h1.5v1.5h-1.5zM132.4 515.0h1.5v1.5h-1.5zM92.5 506.2h1.5v1.5h-1.5zM81.0 500.2h1.5v1.5h-1.5zM94.5 509.5h1.5v1.5h-1.5zM192.3 496.6h1.5v1.5h-1.5zM149.7 498.8h1.5v1.5h-1.5zM172.3 504.3h1.5v1.5h-1.5zM164.0 506.8h1.5v1.5h-1.5zM108.5 501.9h1.5v1.5h-1.5zM194.7 492.1h1.5v1.5h-1.5zM83.0 516.1h1.5v1.5h-1.5zM173.4 519.4h1.5v1.5h-1.5zM118.0 511.9h1.5v1.5h-1.5zM164.3 491.0h1.5v1.5h-1.5zM189.2 512.9h1.5v1.5h-1.5zM130.8 487.4h1.5v1.5h-1.5zM122.2 506.9h1.5v1.5h-1.5zM121.8 497.9h1.5v1.5h-1.5zM140.6 507.8h1.5v1.5h-1.5zM136.8 491.4h1.5v1.5h-1.5zM110.0 499.6h1.5v1.5h-1.5zM89.6 496.4h1.5v1.5h-1.5zM162.1 488.7h1.5v1.5h-1.5zM80.0 525.3h1.5v1.5h-1.5zM134.8 502.9h1.5v1.5h-1.5zM81.9 494.8h1.5v1.5h-1.5zM107.6 502.9h1.5v1.5h-1.5zM118.0 493.4h1.5v1.5h-1.5zM90.7 499.2h1.5v1.5h-1.5zM105.8 499.3h1.5v1.5h-1.5zM105.0 511.2h1.5v1.5h-1.5zM106.0 487.3h1.5v1.5h-1.5zM105.4 485.8h1.5v1.5h-1.5zM224.7 498.6h1.5v1.5h-1.5zM103.5 512.5h1.5v1.5h-1.5zM186.6 493.4h1.5v1.5h-1.5zM102.5 510.7h1.5v1.5h-1.5zM109.7 498.5h1.5v1.5h-1.5zM106.7 489.8h1.5v1.5h-1.5zM122.4 491.1h1.5v1.5h-1.5zM91.7 481.5h1.5v1.5h-1.5zM86.1 495.5h1.5v1.5h-1.5zM117.2 513.2h1.5v1.5h-1.5zM76.8 514.2h1.5v1.5h-1.5zM168.3 490.7h1.5v1.5h-1.5zM223.9 474.5h1.5v1.5h-1.5zM88.3 506.4h1.5v1.5h-1.5zM144.9 509.2h1.5v1.5h-1.5zM204.7 480.0h1.5v1.5h-1.5zM170.7 498.0h1.5v1.5h-1.5zM181.8 488.3h1.5v1.5h-1.5zM116.2 486.2h1.5v1.5h-1.5zM109.6 513.1h1.5v1.5h-1.5zM112.4 504.8h1.5v1.5h-1.5zM109.2 507.6h1.5v1.5h-1.5zM119.5 493.0h1.5v1.5h-1.5zM100.6 492.3h1.5v1.5h-1.5zM78.0 509.1h1.5v1.5h-1.5zM111.2 493.1h1.5v1.5h-1.5zM116.5 522.7h1.5v1.5h-1.5zM113.0 495.7h1.5v1.5h-1.5zM74.6 497.7h1.5v1.5h-1.5zM87.2 501.7h1.5v1.5h-1.5zM118.3 518.2h1.5v1.5h-1.5zM148.6 499.2h1.5v1.5h-1.5zM144.0 511.1h1.5v1.5h-1.5zM82.0 482.2h1.5v1.5h-1.5zM104.2 504.5h1.5v1.5h-1.5zM193.9 497.4h1.5v1.5h-1.5zM143.2 499.7h1.5v1.5h-1.5zM76.9 494.9h1.5v1.5h-1.5zM132.1 498.0h1.5v1.5h-1.5zM147.0 491.7h1.5v1.5h-1.5zM160.3 508.0h1.5v1.5h-1.5zM161.1 484.6h1.5v1.5h-1.5zM141.6 504.3h1.5v1.5h-1.5zM169.8 488.2h1.5v1.5h-1.5zM95.1 498.1h1.5v1.5h-1.5zM135.5 485.7h1.5v1.5h-1.5zM89.5 502.6h1.5v1.5h-1.5zM159.4 514.3h1.5v1.5h-1.5zM99.7 516.1h1.5v1.5h-1.5zM110.4 503.2h1.5v1.5h-1.5zM121.5 482.3h1.5v1.5h-1.5zM113.0 505.5h1.5v1.5h-1.5zM216.4 493.3h1.5v1.5h-1.5zM119.2 484.0h1.5v1.5h-1.5zM148.4 504.7h1.5v1.5h-1.5zM117.7 496.0h1.5v1.5h-1.5zM87.8 497.9h1.5v1.5h-1.5zM93.2 509.3h1.5v1.5h-1.5zM85.3 498.7h1.5v1.5h-1.5zM185.6 484.4h1.5v1.5h-1.5zM163.3 485.1h1.5v1.5h-1.5zM179.9 499.8h1.5v1.5h-1.5zM139.0 463.5h1.5v1.5h-1.5zM93.8 496.7h1.5v1.5h-1.5zM94.0 505.0h1.5v1.5h-1.5zM128.2 508.1h1.5v1.5h-1.5zM97.7 514.1h1.5v1.5h-1.5zM94.5 490.5h1.5v1.5h-1.5zM97.1 503.2h1.5v1.5h-1.5zM129.4 501.3h1.5v1.5h-1.5zM185.6 496.1h1.5v1.5h-1.5zM104.2 517.7h1.5v1.5h-1.5zM130.6 511.2h1.5v1.5h-1.5zM156.0 482.8h1.5v1.5h-1.5zM168.9 503.0h1.5v1.5h-1.5zM88.8 501.7h1.5v1.5h-1.5zM150.0 501.6h1.5v1.5h-1.5zM220.6 485.4h1.5v1.5h-1.5zM130.1 484.1h1.5v1.5h-1.5zM123.3 488.1h1.5v1.5h-1.5zM123.5 492.6h1.5v1.5h-1.5zM203.7 488.8h1.5v1.5h-1.5zM109.3 515.6h1.5v1.5h-1.5zM74.3 484.5h1.5v1.5h-1.5zM81.7 509.7h1.5v1.5h-1.5zM175.3 506.2h1.5v1.5h-1.5zM211.3 498.0h1.5v1.5h-1.5zM117.9 509.9h1.5v1.5h-1.5zM104.6 495.3h1.5v1.5h-1.5zM216.9 486.6h1.5v1.5h-1.5zM91.5 484.4h1.5v1.5h-1.5zM197.8 496.0h1.5v1.5h-1.5zM89.0 509.6h1.5v1.5h-1.5zM110.0 503.9h1.5v1.5h-1.5zM170.5 509.8h1.5v1.5h-1.5zM212.7 501.5h1.5v1.5h-1.5zM157.4 474.4h1.5v1.5h-1.5zM151.4 506.8h1.5v1.5h-1.5zM198.3 499.8h1.5v1.5h-1.5zM144.6 490.8h1.5v1.5h-1.5zM84.3 498.5h1.5v1.5h-1.5zM161.2 488.5h1.5v1.5h-1.5zM146.7 508.4h1.5v1.5h-1.5zM88.9 515.9h1.5v1.5h-1.5zM158.5 482.2h1.5v1.5h-1.5zM108.0 509.2h1.5v1.5h-1.5zM99.6 502.3h1.5v1.5h-1.5zM103.5 498.0h1.5v1.5h-1.5zM84.3 526.9h1.5v1.5h-1.5zM135.4 501.1h1.5v1.5h-1.5zM110.9 508.6h1.5v1.5h-1.5zM177.4 490.5h1.5v1.5h-1.5zM83.3 506.2h1.5v1.5h-1.5zM158.6 523.3h1.5v1.5h-1.5zM127.8 489.5h1.5v1.5h-1.5zM179.2 500.6h1.5v1.5h-1.5zM119.4 508.5h1.5v1.5h-1.5zM124.3 507.1h1.5v1.5h-1.5zM157.6 497.6h1.5v1.5h-1.5zM77.5 489.3h1.5v1.5h-1.5zM167.3 506.7h1.5v1.5h-1.5zM109.7 508.2h1.5v1.5h-1.5zM120.6 490.4h1.5v1.5h-1.5zM91.2 494.8h1.5v1.5h-1.5zM113.2 491.0h1.5v1.5h-1.5zM153.3 493.8h1.5v1.5h-1.5zM183.1 498.5h1.5v1.5h-1.5zM199.8 500.0h1.5v1.5h-1.5zM116.0 506.0h1.5v1.5h-1.5zM168.1 486.6h1.5v1.5h-1.5zM231.1 478.6h1.5v1.5h-1.5zM168.0 474.5h1.5v1.5h-1.5zM172.6 508.1h1.5v1.5h-1.5zM95.5 504.4h1.5v1.5h-1.5zM210.3 494.2h1.5v1.5h-1.5zM112.1 502.3h1.5v1.5h-1.5zM157.5 510.5h1.5v1.5h-1.5zM77.6 472.4h1.5v1.5h-1.5zM116.5 480.8h1.5v1.5h-1.5zM156.9 499.4h1.5v1.5h-1.5zM69.6 509.1h1.5v1.5h-1.5zM77.0 502.5h1.5v1.5h-1.5zM169.5 510.3h1.5v1.5h-1.5zM125.2 503.6h1.5v1.5h-1.5zM82.0 491.5h1.5v1.5h-1.5zM136.5 478.6h1.5v1.5h-1.5zM86.8 489.8h1.5v1.5h-1.5zM94.2 484.1h1.5v1.5h-1.5zM96.1 515.2h1.5v1.5h-1.5zM77.7 483.4h1.5v1.5h-1.5zM110.5 497.9h1.5v1.5h-1.5zM176.6 497.2h1.5v1.5h-1.5zM194.3 477.5h1.5v1.5h-1.5zM117.8 512.0h1.5v1.5h-1.5zM169.0 507.5h1.5v1.5h-1.5zM79.4 512.4h1.5v1.5h-1.5zM86.1 479.9h1.5v1.5h-1.5zM128.7 487.5h1.5v1.5h-1.5zM82.8 526.3h1.5v1.5h-1.5zM223.5 477.1h1.5v1.5h-1.5zM94.9 501.1h1.5v1.5h-1.5zM187.9 491.0h1.5v1.5h-1.5zM130.8 508.6h1.5v1.5h-1.5zM116.6 476.0h1.5v1.5h-1.5zM231.0 488.7h1.5v1.5h-1.5zM85.4 483.9h1.5v1.5h-1.5zM94.4 514.6h1.5v1.5h-1.5zM225.6 486.4h1.5v1.5h-1.5zM163.7 496.0h1.5v1.5h-1.5zM94.7 504.3h1.5v1.5h-1.5zM70.8 514.1h1.5v1.5h-1.5zM100.5 510.1h1.5v1.5h-1.5zM96.9 516.7h1.5v1.5h-1.5zM137.3 506.8h1.5v1.5h-1.5zM124.9 492.1h1.5v1.5h-1.5zM208.7 510.3h1.5v1.5h-1.5zM111.9 513.6h1.5v1.5h-1.5zM83.2 510.4h1.5v1.5h-1.5zM129.2 519.5h1.5v1.5h-1.5zM146.1 501.6h1.5v1.5h-1.5zM95.1 504.8h1.5v1.5h-1.5zM120.7 502.1h1.5v1.5h-1.5zM199.7 490.5h1.5v1.5h-1.5zM76.6 489.3h1.5v1.5h-1.5zM84.1 491.0h1.5v1.5h-1.5zM144.5 494.9h1.5v1.5h-1.5zM69.6 494.5h1.5v1.5h-1.5zM88.0 512.5h1.5v1.5h-1.5zM119.6 511.7h1.5v1.5h-1.5zM115.1 491.7h1.5v1.5h-1.5zM195.0 489.1h1.5v1.5h-1.5zM126.4 471.8h1.5v1.5h-1.5zM127.7 502.1h1.5v1.5h-1.5zM154.8 509.2h1.5v1.5h-1.5zM104.1 496.9h1.5v1.5h-1.5zM101.3 506.8h1.5v1.5h-1.5zM94.3 513.3h1.5v1.5h-1.5zM94.8 483.0h1.5v1.5h-1.5zM91.1 475.5h1.5v1.5h-1.5zM166.5 492.6h1.5v1.5h-1.5zM80.5 511.2h1.5v1.5h-1.5zM109.3 497.1h1.5v1.5h-1.5zM122.6 500.2h1.5v1.5h-1.5zM138.0 515.6h1.5v1.5h-1.5zM107.0 489.6h1.5v1.5h-1.5zM200.7 491.2h1.5v1.5h-1.5zM82.6 484.7h1.5v1.5h-1.5zM98.7 508.4h1.5v1.5h-1.5zM104.7 500.9h1.5v1.5h-1.5zM87.4 503.3h1.5v1.5h-1.5zM176.7 515.5h1.5v1.5h-1.5zM171.2 468.1h1.5v1.5h-1.5zM117.7 526.6h1.5v1.5h-1.5zM175.9 509.1h1.5v1.5h-1.5zM120.2 504.2h1.5v1.5h-1.5zM113.7 520.2h1.5v1.5h-1.5zM116.3 494.5h1.5v1.5h-1.5zM96.5 507.3h1.5v1.5h-1.5zM106.5 499.5h1.5v1.5h-1.5zM112.0 497.1h1.5v1.5h-1.5zM206.7 493.6h1.5v1.5h-1.5zM119.1 498.4h1.5v1.5h-1.5zM86.3 495.8h1.5v1.5h-1.5zM135.3 488.7h1.5v1.5h-1.5zM93.0 504.7h1.5v1.5h-1.5zM185.2 500.5h1.5v1.5h-1.5zM149.4 502.6h1.5v1.5h-1.5zM123.7 495.4h1.5v1.5h-1.5zM151.3 502.0h1.5v1.5h-1.5zM94.8 506.2h1.5v1.5h-1.5zM178.6 512.8h1.5v1.5h-1.5zM123.3 474.9h1.5v1.5h-1.5zM110.7 516.1h1.5v1.5h-1.5zM122.1 478.0h1.5v1.5h-1.5zM175.4 487.2h1.5v1.5h-1.5zM183.6 484.3h1.5v1.5h-1.5zM155.2 494.3h1.5v1.5h-1.5zM129.4 492.7h1.5v1.5h-1.5zM121.7 495.6h1.5v1.5h-1.5zM126.2 491.6h1.5v1.5h-1.5zM97.1 489.5h1.5v1.5h-1.5zM70.7 480.8h1.5v1.5h-1.5zM131.5 511.1h1.5v1.5h-1.5zM130.9 492.6h1.5v1.5h-1.5zM87.6 479.2h1.5v1.5h-1.5zM92.7 482.1h1.5v1.5h-1.5zM92.8 514.9h1.5v1.5h-1.5zM96.8 496.5h1.5v1.5h-1.5zM192.6 491.9h1.5v1.5h-1.5zM81.5 498.2h1.5v1.5h-1.5zM169.3 522.2h1.5v1.5h-1.5zM85.6 489.4h1.5v1.5h-1.5zM188.9 512.8h1.5v1.5h-1.5zM125.1 471.1h1.5v1.5h-1.5zM87.8 492.1h1.5v1.5h-1.5zM181.5 496.6h1.5v1.5h-1.5zM205.5 487.4h1.5v1.5h-1.5zM146.5 495.9h1.5v1.5h-1.5zM109.0 506.9h1.5v1.5h-1.5zM172.8 497.1h1.5v1.5h-1.5zM229.2 489.2h1.5v1.5h-1.5zM228.4 500.6h1.5v1.5h-1.5zM93.8 491.0h1.5v1.5h-1.5zM199.5 482.4h1.5v1.5h-1.5zM102.6 485.8h1.5v1.5h-1.5zM196.1 481.8h1.5v1.5h-1.5zM147.6 481.7h1.5v1.5h-1.5zM85.0 491.4h1.5v1.5h-1.5zM85.1 483.0h1.5v1.5h-1.5zM88.9 500.1h1.5v1.5h-1.5zM107.4 494.4h1.5v1.5h-1.5zM105.7 481.0h1.5v1.5h-1.5zM83.6 474.2h1.5v1.5h-1.5zM77.2 506.5h1.5v1.5h-1.5zM172.9 512.5h1.5v1.5h-1.5zM173.1 471.3h1.5v1.5h-1.5zM177.9 482.5h1.5v1.5h-1.5zM204.9 474.6h1.5v1.5h-1.5zM100.3 488.0h1.5v1.5h-1.5zM183.8 492.5h1.5v1.5h-1.5zM137.1 505.9h1.5v1.5h-1.5zM86.1 514.3h1.5v1.5h-1.5zM152.1 485.2h1.5v1.5h-1.5zM146.7 493.5h1.5v1.5h-1.5zM88.2 516.3h1.5v1.5h-1.5zM81.9 508.6h1.5v1.5h-1.5zM164.9 503.6h1.5v1.5h-1.5zM111.9 503.4h1.5v1.5h-1.5zM85.8 497.8h1.5v1.5h-1.5zM229.1 476.9h1.5v1.5h-1.5zM131.4 505.2h1.5v1.5h-1.5zM211.5 493.2h1.5v1.5h-1.5zM88.7 497.0h1.5v1.5h-1.5zM106.8 513.1h1.5v1.5h-1.5zM82.1 495.2h1.5v1.5h-1.5zM78.4 507.6h1.5v1.5h-1.5zM93.7 497.1h1.5v1.5h-1.5zM98.7 501.0h1.5v1.5h-1.5zM99.1 498.9h1.5v1.5h-1.5zM201.6 504.0h1.5v1.5h-1.5zM82.5 491.0h1.5v1.5h-1.5zM90.7 515.7h1.5v1.5h-1.5zM129.9 487.6h1.5v1.5h-1.5zM142.6 503.6h1.5v1.5h-1.5zM181.1 508.7h1.5v1.5h-1.5zM92.0 501.8h1.5v1.5h-1.5zM210.7 504.7h1.5v1.5h-1.5zM79.0 508.9h1.5v1.5h-1.5zM142.0 499.5h1.5v1.5h-1.5zM130.5 488.4h1.5v1.5h-1.5zM82.4 490.0h1.5v1.5h-1.5zM85.1 494.3h1.5v1.5h-1.5zM97.1 504.2h1.5v1.5h-1.5zM99.1 520.9h1.5v1.5h-1.5zM113.5 502.3h1.5v1.5h-1.5zM87.2 505.4h1.5v1.5h-1.5zM119.8 500.6h1.5v1.5h-1.5zM76.9 509.0h1.5v1.5h-1.5zM91.1 507.9h1.5v1.5h-1.5zM157.5 487.1h1.5v1.5h-1.5zM85.9 519.6h1.5v1.5h-1.5zM110.5 499.4h1.5v1.5h-1.5zM137.8 482.1h1.5v1.5h-1.5zM84.3 511.9h1.5v1.5h-1.5zM131.0 510.9h1.5v1.5h-1.5zM137.3 500.7h1.5v1.5h-1.5zM118.3 503.5h1.5v1.5h-1.5zM199.7 491.4h1.5v1.5h-1.5zM144.1 480.8h1.5v1.5h-1.5zM123.2 500.4h1.5v1.5h-1.5zM88.1 493.1h1.5v1.5h-1.5zM184.3 501.7h1.5v1.5h-1.5zM96.5 507.0h1.5v1.5h-1.5zM141.6 494.0h1.5v1.5h-1.5zM80.2 510.8h1.5v1.5h-1.5zM70.1 484.6h1.5v1.5h-1.5zM81.2 507.0h1.5v1.5h-1.5zM135.3 500.1h1.5v1.5h-1.5zM140.1 510.8h1.5v1.5h-1.5zM127.2 504.1h1.5v1.5h-1.5zM88.6 514.8h1.5v1.5h-1.5zM122.4 505.2h1.5v1.5h-1.5zM91.2 525.3h1.5v1.5h-1.5zM110.6 499.7h1.5v1.5h-1.5zM174.4 475.6h1.5v1.5h-1.5zM157.6 519.3h1.5v1.5h-1.5zM230.3 475.0h1.5v1.5h-1.5zM74.7 503.4h1.5v1.5h-1.5zM98.3 488.1h1.5v1.5h-1.5zM117.8 512.4h1.5v1.5h-1.5zM100.4 472.5h1.5v1.5h-1.5zM131.4 512.1h1.5v1.5h-1.5zM146.7 498.4h1.5v1.5h-1.5zM126.0 478.5h1.5v1.5h-1.5zM87.5 518.8h1.5v1.5h-1.5zM174.9 522.8h1.5v1.5h-1.5zM132.7 499.2h1.5v1.5h-1.5zM120.2 509.1h1.5v1.5h-1.5zM101.9 513.3h1.5v1.5h-1.5zM95.5 513.1h1.5v1.5h-1.5zM107.8 519.5h1.5v1.5h-1.5zM104.7 480.9h1.5v1.5h-1.5zM98.7 483.5h1.5v1.5h-1.5zM121.8 516.8h1.5v1.5h-1.5zM182.9 496.5h1.5v1.5h-1.5zM70.3 508.7h1.5v1.5h-1.5zM87.5 485.5h1.5v1.5h-1.5zM144.9 508.0h1.5v1.5h-1.5zM68.8 478.4h1.5v1.5h-1.5zM93.1 500.6h1.5v1.5h-1.5zM97.5 511.3h1.5v1.5h-1.5zM78.2 502.8h1.5v1.5h-1.5zM187.4 501.6h1.5v1.5h-1.5zM86.4 469.1h1.5v1.5h-1.5zM78.1 499.4h1.5v1.5h-1.5zM217.2 498.3h1.5v1.5h-1.5zM174.8 494.7h1.5v1.5h-1.5zM123.0 479.5h1.5v1.5h-1.5zM111.3 512.5h1.5v1.5h-1.5zM164.2 516.6h1.5v1.5h-1.5zM95.3 482.3h1.5v1.5h-1.5zM97.3 491.9h1.5v1.5h-1.5zM180.6 500.7h1.5v1.5h-1.5zM99.8 501.4h1.5v1.5h-1.5zM91.4 485.3h1.5v1.5h-1.5zM86.1 483.0h1.5v1.5h-1.5zM110.6 502.0h1.5v1.5h-1.5zM127.4 489.8h1.5v1.5h-1.5zM182.8 495.9h1.5v1.5h-1.5zM86.9 457.2h1.5v1.5h-1.5zM91.3 509.5h1.5v1.5h-1.5zM176.7 482.9h1.5v1.5h-1.5zM180.6 525.6h1.5v1.5h-1.5zM228.4 492.2h1.5v1.5h-1.5zM125.0 488.5h1.5v1.5h-1.5zM112.6 520.4h1.5v1.5h-1.5zM135.9 524.2h1.5v1.5h-1.5zM120.6 497.8h1.5v1.5h-1.5zM203.1 483.1h1.5v1.5h-1.5zM114.2 483.5h1.5v1.5h-1.5zM174.4 503.9h1.5v1.5h-1.5zM129.7 494.1h1.5v1.5h-1.5zM143.3 515.6h1.5v1.5h-1.5zM146.4 475.6h1.5v1.5h-1.5zM124.0 506.5h1.5v1.5h-1.5zM89.7 482.9h1.5v1.5h-1.5zM82.8 505.3h1.5v1.5h-1.5zM166.0 500.4h1.5v1.5h-1.5zM70.5 478.2h1.5v1.5h-1.5zM74.5 514.6h1.5v1.5h-1.5zM99.3 482.4h1.5v1.5h-1.5zM133.8 503.0h1.5v1.5h-1.5zM163.7 507.2h1.5v1.5h-1.5zM75.2 514.1h1.5v1.5h-1.5zM114.6 484.3h1.5v1.5h-1.5zM87.3 502.3h1.5v1.5h-1.5zM152.7 501.6h1.5v1.5h-1.5zM141.0 517.1h1.5v1.5h-1.5zM188.1 481.7h1.5v1.5h-1.5zM95.4 485.9h1.5v1.5h-1.5zM217.7 489.9h1.5v1.5h-1.5zM193.8 486.0h1.5v1.5h-1.5zM190.6 501.0h1.5v1.5h-1.5zM123.6 496.9h1.5v1.5h-1.5zM104.0 498.7h1.5v1.5h-1.5zM169.1 503.1h1.5v1.5h-1.5zM103.0 497.0h1.5v1.5h-1.5zM118.3 509.1h1.5v1.5h-1.5zM70.4 511.9h1.5v1.5h-1.5zM166.4 511.4h1.5v1.5h-1.5zM160.7 495.1h1.5v1.5h-1.5zM80.6 512.0h1.5v1.5h-1.5zM91.4 508.1h1.5v1.5h-1.5zM227.7 478.5h1.5v1.5h-1.5zM143.8 498.4h1.5v1.5h-1.5zM113.2 500.1h1.5v1.5h-1.5zM69.0 525.0h1.5v1.5h-1.5zM104.1 507.4h1.5v1.5h-1.5zM195.2 483.7h1.5v1.5h-1.5zM76.4 493.8h1.5v1.5h-1.5zM157.6 496.3h1.5v1.5h-1.5zM109.3 502.3h1.5v1.5h-1.5zM68.7 501.3h1.5v1.5h-1.5zM107.2 494.5h1.5v1.5h-1.5zM138.9 502.3h1.5v1.5h-1.5zM110.0 473.0h1.5v1.5h-1.5zM72.6 485.3h1.5v1.5h-1.5zM77.1 504.1h1.5v1.5h-1.5zM140.9 480.0h1.5v1.5h-1.5zM146.6 514.1h1.5v1.5h-1.5zM108.3 482.3h1.5v1.5h-1.5zM82.2 498.7h1.5v1.5h-1.5zM96.3 488.2h1.5v1.5h-1.5zM110.3 504.5h1.5v1.5h-1.5zM109.0 497.8h1.5v1.5h-1.5zM105.7 492.0h1.5v1.5h-1.5zM198.7 482.9h1.5v1.5h-1.5zM84.0 494.0h1.5v1.5h-1.5zM152.2 491.8h1.5v1.5h-1.5zM227.4 498.9h1.5v1.5h-1.5zM91.6 476.6h1.5v1.5h-1.5zM198.1 492.2h1.5v1.5h-1.5zM119.1 502.3h1.5v1.5h-1.5zM228.6 496.0h1.5v1.5h-1.5zM170.1 510.6h1.5v1.5h-1.5zM125.0 508.7h1.5v1.5h-1.5zM101.1 521.6h1.5v1.5h-1.5zM194.1 492.5h1.5v1.5h-1.5zM143.3 498.9h1.5v1.5h-1.5zM135.3 495.5h1.5v1.5h-1.5zM89.0 518.9h1.5v1.5h-1.5zM214.3 498.1h1.5v1.5h-1.5zM73.5 511.5h1.5v1.5h-1.5zM208.1 483.2h1.5v1.5h-1.5zM151.6 515.9h1.5v1.5h-1.5zM225.9 508.6h1.5v1.5h-1.5zM157.0 481.2h1.5v1.5h-1.5zM127.1 494.1h1.5v1.5h-1.5zM176.7 514.3h1.5v1.5h-1.5zM87.5 481.9h1.5v1.5h-1.5zM78.6 480.0h1.5v1.5h-1.5zM78.2 485.1h1.5v1.5h-1.5zM172.2 520.6h1.5v1.5h-1.5zM119.3 497.7h1.5v1.5h-1.5zM197.2 504.3h1.5v1.5h-1.5zM192.4 497.9h1.5v1.5h-1.5zM79.1 524.7h1.5v1.5h-1.5zM163.8 475.6h1.5v1.5h-1.5zM158.0 505.5h1.5v1.5h-1.5zM95.8 496.8h1.5v1.5h-1.5zM84.3 489.8h1.5v1.5h-1.5zM86.2 492.5h1.5v1.5h-1.5zM195.2 490.1h1.5v1.5h-1.5zM112.1 505.0h1.5v1.5h-1.5zM87.5 498.0h1.5v1.5h-1.5zM117.6 502.4h1.5v1.5h-1.5zM162.6 524.3h1.5v1.5h-1.5zM87.1 486.9h1.5v1.5h-1.5zM142.3 505.9h1.5v1.5h-1.5zM221.8 498.6h1.5v1.5h-1.5zM137.7 503.5h1.5v1.5h-1.5zM219.6 507.9h1.5v1.5h-1.5zM86.5 518.7h1.5v1.5h-1.5zM225.6 511.6h1.5v1.5h-1.5zM132.1 492.4h1.5v1.5h-1.5zM166.8 482.2h1.5v1.5h-1.5zM125.0 498.0h1.5v1.5h-1.5zM178.7 509.1h1.5v1.5h-1.5zM126.4 503.1h1.5v1.5h-1.5zM77.7 525.1h1.5v1.5h-1.5zM105.8 526.1h1.5v1.5h-1.5zM211.2 491.8h1.5v1.5h-1.5zM95.2 480.4h1.5v1.5h-1.5zM80.9 507.2h1.5v1.5h-1.5zM86.7 510.4h1.5v1.5h-1.5zM160.9 500.2h1.5v1.5h-1.5zM194.8 504.3h1.5v1.5h-1.5zM209.2 499.8h1.5v1.5h-1.5zM206.4 491.3h1.5v1.5h-1.5zM153.9 506.2h1.5v1.5h-1.5zM73.9 488.4h1.5v1.5h-1.5zM87.8 515.2h1.5v1.5h-1.5zM129.9 489.4h1.5v1.5h-1.5zM92.1 496.1h1.5v1.5h-1.5zM216.6 497.6h1.5v1.5h-1.5zM122.9 503.1h1.5v1.5h-1.5zM153.7 501.3h1.5v1.5h-1.5zM152.8 476.5h1.5v1.5h-1.5zM100.0 511.8h1.5v1.5h-1.5zM197.0 481.4h1.5v1.5h-1.5zM116.3 485.9h1.5v1.5h-1.5zM84.8 506.3h1.5v1.5h-1.5zM112.0 477.8h1.5v1.5h-1.5zM153.8 526.8h1.5v1.5h-1.5zM127.2 495.7h1.5v1.5h-1.5zM227.3 491.5h1.5v1.5h-1.5zM99.8 500.3h1.5v1.5h-1.5zM169.1 486.3h1.5v1.5h-1.5zM227.9 496.9h1.5v1.5h-1.5zM100.9 503.1h1.5v1.5h-1.5zM95.6 484.6h1.5v1.5h-1.5zM182.6 496.9h1.5v1.5h-1.5zM101.4 514.8h1.5v1.5h-1.5zM73.6 493.7h1.5v1.5h-1.5zM177.0 496.9h1.5v1.5h-1.5zM123.0 506.6h1.5v1.5h-1.5zM114.9 492.2h1.5v1.5h-1.5zM103.5 511.0h1.5v1.5h-1.5zM119.5 512.5h1.5v1.5h-1.5zM117.4 503.0h1.5v1.5h-1.5zM224.6 495.0h1.5v1.5h-1.5zM70.5 501.5h1.5v1.5h-1.5zM95.4 517.8h1.5v1.5h-1.5zM90.4 476.7h1.5v1.5h-1.5zM127.6 490.0h1.5v1.5h-1.5zM99.2 498.6h1.5v1.5h-1.5zM149.3 494.7h1.5v1.5h-1.5zM100.3 487.6h1.5v1.5h-1.5zM99.4 514.8h1.5v1.5h-1.5zM126.5 492.3h1.5v1.5h-1.5zM81.7 518.9h1.5v1.5h-1.5zM111.5 486.4h1.5v1.5h-1.5zM78.8 509.6h1.5v1.5h-1.5zM118.1 502.3h1.5v1.5h-1.5zM161.7 478.2h1.5v1.5h-1.5zM150.3 485.1h1.5v1.5h-1.5zM85.5 521.1h1.5v1.5h-1.5zM125.3 508.2h1.5v1.5h-1.5zM162.1 494.4h1.5v1.5h-1.5zM103.2 503.6h1.5v1.5h-1.5zM136.6 487.9h1.5v1.5h-1.5zM123.1 508.2h1.5v1.5h-1.5zM104.7 526.2h1.5v1.5h-1.5zM96.6 513.5h1.5v1.5h-1.5zM168.9 498.6h1.5v1.5h-1.5zM106.0 492.6h1.5v1.5h-1.5zM85.0 490.7h1.5v1.5h-1.5zM199.5 480.7h1.5v1.5h-1.5zM98.3 497.3h1.5v1.5h-1.5zM170.1 498.7h1.5v1.5h-1.5zM86.8 490.9h1.5v1.5h-1.5zM137.6 499.5h1.5v1.5h-1.5zM124.6 505.3h1.5v1.5h-1.5zM131.0 504.8h1.5v1.5h-1.5zM86.6 488.0h1.5v1.5h-1.5zM115.7 479.5h1.5v1.5h-1.5zM225.9 479.3h1.5v1.5h-1.5zM112.3 521.5h1.5v1.5h-1.5zM98.7 485.3h1.5v1.5h-1.5zM137.0 512.7h1.5v1.5h-1.5zM117.7 504.1h1.5v1.5h-1.5zM123.7 491.3h1.5v1.5h-1.5zM131.6 516.0h1.5v1.5h-1.5zM76.6 519.9h1.5v1.5h-1.5zM105.5 510.5h1.5v1.5h-1.5zM110.4 476.9h1.5v1.5h-1.5zM109.0 485.2h1.5v1.5h-1.5zM149.2 508.8h1.5v1.5h-1.5zM118.3 497.6h1.5v1.5h-1.5zM127.6 497.1h1.5v1.5h-1.5zM71.1 497.6h1.5v1.5h-1.5zM175.7 504.3h1.5v1.5h-1.5zM93.2 480.6h1.5v1.5h-1.5zM144.2 502.7h1.5v1.5h-1.5zM131.1 487.9h1.5v1.5h-1.5zM95.9 524.4h1.5v1.5h-1.5zM137.8 493.2h1.5v1.5h-1.5zM96.5 498.7h1.5v1.5h-1.5zM223.9 478.9h1.5v1.5h-1.5zM94.2 493.0h1.5v1.5h-1.5zM72.3 490.2h1.5v1.5h-1.5zM81.4 505.5h1.5v1.5h-1.5zM168.9 480.6h1.5v1.5h-1.5zM168.0 471.2h1.5v1.5h-1.5zM119.8 487.5h1.5v1.5h-1.5zM89.5 489.6h1.5v1.5h-1.5zM134.1 481.0h1.5v1.5h-1.5zM191.8 490.0h1.5v1.5h-1.5zM104.9 483.3h1.5v1.5h-1.5zM82.7 492.9h1.5v1.5h-1.5zM131.1 507.6h1.5v1.5h-1.5zM156.8 510.0h1.5v1.5h-1.5zM203.1 481.4h1.5v1.5h-1.5zM110.2 491.7h1.5v1.5h-1.5zM130.1 507.5h1.5v1.5h-1.5zM90.5 500.7h1.5v1.5h-1.5zM134.6 479.4h1.5v1.5h-1.5zM94.2 525.0h1.5v1.5h-1.5zM227.4 502.1h1.5v1.5h-1.5zM134.5 489.4h1.5v1.5h-1.5zM163.2 486.7h1.5v1.5h-1.5zM138.0 513.3h1.5v1.5h-1.5zM150.3 509.9h1.5v1.5h-1.5zM103.8 498.0h1.5v1.5h-1.5zM151.7 479.8h1.5v1.5h-1.5zM140.9 497.9h1.5v1.5h-1.5zM87.2 486.5h1.5v1.5h-1.5zM105.1 500.5h1.5v1.5h-1.5zM139.1 504.0h1.5v1.5h-1.5zM160.2 511.1h1.5v1.5h-1.5zM79.0 484.4h1.5v1.5h-1.5zM149.2 494.2h1.5v1.5h-1.5zM80.8 495.8h1.5v1.5h-1.5zM101.9 495.5h1.5v1.5h-1.5zM94.6 494.7h1.5v1.5h-1.5zM129.9 487.7h1.5v1.5h-1.5zM146.2 476.1h1.5v1.5h-1.5zM91.9 516.1h1.5v1.5h-1.5zM96.3 501.8h1.5v1.5h-1.5zM80.2 508.3h1.5v1.5h-1.5zM107.1 476.9h1.5v1.5h-1.5zM88.3 505.3h1.5v1.5h-1.5zM178.7 514.6h1.5v1.5h-1.5zM195.1 495.1h1.5v1.5h-1.5zM136.1 507.8h1.5v1.5h-1.5zM220.8 501.0h1.5v1.5h-1.5zM104.4 506.4h1.5v1.5h-1.5zM122.1 516.6h1.5v1.5h-1.5zM92.3 528.4h1.5v1.5h-1.5zM224.6 472.7h1.5v1.5h-1.5zM183.2 497.0h1.5v1.5h-1.5zM103.2 513.3h1.5v1.5h-1.5zM126.6 490.7h1.5v1.5h-1.5zM98.4 481.9h1.5v1.5h-1.5zM231.9 510.4h1.5v1.5h-1.5zM190.8 500.1h1.5v1.5h-1.5zM169.0 493.0h1.5v1.5h-1.5zM101.3 512.2h1.5v1.5h-1.5zM109.8 493.7h1.5v1.5h-1.5zM76.9 520.0h1.5v1.5h-1.5zM90.6 510.5h1.5v1.5h-1.5zM228.4 494.0h1.5v1.5h-1.5zM87.5 495.1h1.5v1.5h-1.5zM100.1 500.0h1.5v1.5h-1.5zM188.7 503.0h1.5v1.5h-1.5zM191.7 499.2h1.5v1.5h-1.5zM101.9 529.8h1.5v1.5h-1.5zM101.2 470.7h1.5v1.5h-1.5zM96.2 506.5h1.5v1.5h-1.5zM105.4 504.3h1.5v1.5h-1.5zM141.4 494.6h1.5v1.5h-1.5zM90.9 492.9h1.5v1.5h-1.5zM88.3 496.3h1.5v1.5h-1.5zM163.2 505.0h1.5v1.5h-1.5zM82.0 525.6h1.5v1.5h-1.5zM82.7 504.1h1.5v1.5h-1.5zM156.1 507.0h1.5v1.5h-1.5zM102.5 508.1h1.5v1.5h-1.5zM153.5 497.3h1.5v1.5h-1.5zM102.4 497.0h1.5v1.5h-1.5zM72.5 483.1h1.5v1.5h-1.5zM88.8 503.3h1.5v1.5h-1.5zM161.4 517.9h1.5v1.5h-1.5zM112.8 491.8h1.5v1.5h-1.5zM131.0 486.5h1.5v1.5h-1.5zM224.4 510.2h1.5v1.5h-1.5zM112.7 491.5h1.5v1.5h-1.5zM142.1 495.6h1.5v1.5h-1.5zM137.5 505.3h1.5v1.5h-1.5zM155.7 495.1h1.5v1.5h-1.5zM89.3 495.6h1.5v1.5h-1.5zM103.1 492.1h1.5v1.5h-1.5zM82.3 485.0h1.5v1.5h-1.5zM155.5 497.4h1.5v1.5h-1.5zM218.7 493.5h1.5v1.5h-1.5zM182.6 467.6h1.5v1.5h-1.5zM109.1 514.7h1.5v1.5h-1.5zM97.3 504.6h1.5v1.5h-1.5zM93.9 505.9h1.5v1.5h-1.5zM125.8 488.8h1.5v1.5h-1.5zM106.4 484.9h1.5v1.5h-1.5zM81.8 520.8h1.5v1.5h-1.5zM124.9 482.7h1.5v1.5h-1.5zM94.4 517.7h1.5v1.5h-1.5zM97.4 464.1h1.5v1.5h-1.5zM130.0 507.5h1.5v1.5h-1.5zM143.8 483.9h1.5v1.5h-1.5zM98.9 504.4h1.5v1.5h-1.5zM169.0 487.9h1.5v1.5h-1.5zM82.2 512.5h1.5v1.5h-1.5zM110.4 498.1h1.5v1.5h-1.5zM135.2 498.1h1.5v1.5h-1.5zM83.1 500.2h1.5v1.5h-1.5zM161.6 487.1h1.5v1.5h-1.5zM113.5 505.7h1.5v1.5h-1.5zM164.3 500.6h1.5v1.5h-1.5zM73.8 521.5h1.5v1.5h-1.5zM193.9 496.5h1.5v1.5h-1.5zM84.2 508.6h1.5v1.5h-1.5zM116.0 487.6h1.5v1.5h-1.5zM160.7 488.7h1.5v1.5h-1.5zM148.4 506.7h1.5v1.5h-1.5zM189.5 490.1h1.5v1.5h-1.5zM95.1 482.3h1.5v1.5h-1.5zM106.0 503.1h1.5v1.5h-1.5zM88.2 518.0h1.5v1.5h-1.5zM221.1 467.4h1.5v1.5h-1.5zM136.3 491.2h1.5v1.5h-1.5zM101.8 490.6h1.5v1.5h-1.5zM161.5 466.3h1.5v1.5h-1.5zM86.6 512.8h1.5v1.5h-1.5zM152.4 493.6h1.5v1.5h-1.5zM138.0 522.6h1.5v1.5h-1.5zM226.7 487.8h1.5v1.5h-1.5zM122.8 493.9h1.5v1.5h-1.5zM136.6 508.4h1.5v1.5h-1.5zM140.8 509.0h1.5v1.5h-1.5zM102.7 502.8h1.5v1.5h-1.5zM73.4 505.5h1.5v1.5h-1.5zM98.0 478.4h1.5v1.5h-1.5zM122.2 502.4h1.5v1.5h-1.5zM88.3 503.5h1.5v1.5h-1.5zM217.5 495.3h1.5v1.5h-1.5zM102.4 522.6h1.5v1.5h-1.5zM106.1 506.9h1.5v1.5h-1.5zM96.7 519.7h1.5v1.5h-1.5zM82.8 499.7h1.5v1.5h-1.5zM101.1 516.1h1.5v1.5h-1.5zM160.5 493.8h1.5v1.5h-1.5zM87.6 523.6h1.5v1.5h-1.5zM187.1 483.9h1.5v1.5h-1.5zM80.7 521.0h1.5v1.5h-1.5zM83.8 501.6h1.5v1.5h-1.5zM86.2 497.0h1.5v1.5h-1.5zM108.1 514.6h1.5v1.5h-1.5zM222.9 510.8h1.5v1.5h-1.5zM131.4 478.7h1.5v1.5h-1.5zM70.6 510.6h1.5v1.5h-1.5zM175.3 489.9h1.5v1.5h-1.5zM178.4 504.7h1.5v1.5h-1.5zM123.9 494.3h1.5v1.5h-1.5zM129.5 516.0h1.5v1.5h-1.5zM187.6 511.0h1.5v1.5h-1.5zM119.3 513.4h1.5v1.5h-1.5zM116.5 508.0h1.5v1.5h-1.5zM162.0 504.5h1.5v1.5h-1.5zM84.3 506.3h1.5v1.5h-1.5zM131.4 493.0h1.5v1.5h-1.5zM126.0 506.1h1.5v1.5h-1.5zM209.4 483.8h1.5v1.5h-1.5zM92.5 510.4h1.5v1.5h-1.5zM121.8 490.4h1.5v1.5h-1.5zM74.9 482.8h1.5v1.5h-1.5zM82.3 476.4h1.5v1.5h-1.5zM215.1 514.8h1.5v1.5h-1.5zM168.2 475.7h1.5v1.5h-1.5zM177.2 516.6h1.5v1.5h-1.5zM156.7 479.6h1.5v1.5h-1.5zM193.4 495.1h1.5v1.5h-1.5zM149.9 493.1h1.5v1.5h-1.5zM180.9 506.7h1.5v1.5h-1.5zM124.5 486.7h1.5v1.5h-1.5zM103.5 490.8h1.5v1.5h-1.5zM142.2 505.1h1.5v1.5h-1.5zM113.9 508.1h1.5v1.5h-1.5zM114.5 488.1h1.5v1.5h-1.5zM136.8 485.0h1.5v1.5h-1.5zM132.2 488.6h1.5v1.5h-1.5zM221.3 497.2h1.5v1.5h-1.5zM92.4 500.9h1.5v1.5h-1.5zM141.5 486.0h1.5v1.5h-1.5zM216.0 484.6h1.5v1.5h-1.5zM72.0 485.6h1.5v1.5h-1.5zM158.1 495.3h1.5v1.5h-1.5zM84.5 511.6h1.5v1.5h-1.5zM127.8 495.0h1.5v1.5h-1.5zM132.4 492.7h1.5v1.5h-1.5zM86.9 508.9h1.5v1.5h-1.5zM222.1 488.5h1.5v1.5h-1.5zM91.8 512.9h1.5v1.5h-1.5zM81.6 497.9h1.5v1.5h-1.5zM207.0 500.7h1.5v1.5h-1.5zM69.1 471.0h1.5v1.5h-1.5zM152.0 482.5h1.5v1.5h-1.5zM216.8 490.7h1.5v1.5h-1.5zM154.5 513.5h1.5v1.5h-1.5zM110.7 516.6h1.5v1.5h-1.5zM86.9 491.3h1.5v1.5h-1.5zM116.7 501.5h1.5v1.5h-1.5zM98.8 496.3h1.5v1.5h-1.5zM127.0 519.7h1.5v1.5h-1.5zM114.3 520.0h1.5v1.5h-1.5zM130.9 497.2h1.5v1.5h-1.5zM71.4 505.3h1.5v1.5h-1.5zM110.8 518.1h1.5v1.5h-1.5zM212.8 502.3h1.5v1.5h-1.5zM71.6 490.6h1.5v1.5h-1.5zM184.0 500.5h1.5v1.5h-1.5zM148.6 465.7h1.5v1.5h-1.5zM197.1 441.3h1.5v1.5h-1.5zM137.9 461.9h1.5v1.5h-1.5zM128.5 442.2h1.5v1.5h-1.5zM95.9 458.4h1.5v1.5h-1.5zM177.5 418.6h1.5v1.5h-1.5zM73.3 452.4h1.5v1.5h-1.5zM121.9 468.9h1.5v1.5h-1.5zM166.8 473.9h1.5v1.5h-1.5zM94.6 474.9h1.5v1.5h-1.5zM146.5 464.8h1.5v1.5h-1.5zM108.8 416.9h1.5v1.5h-1.5zM111.4 468.0h1.5v1.5h-1.5zM123.3 473.8h1.5v1.5h-1.5zM73.7 445.0h1.5v1.5h-1.5zM101.4 443.2h1.5v1.5h-1.5zM222.6 473.5h1.5v1.5h-1.5zM159.3 462.5h1.5v1.5h-1.5zM155.3 462.0h1.5v1.5h-1.5zM76.0 470.7h1.5v1.5h-1.5zM162.9 471.5h1.5v1.5h-1.5zM178.7 466.0h1.5v1.5h-1.5zM156.5 463.7h1.5v1.5h-1.5zM74.2 453.9h1.5v1.5h-1.5zM110.8 462.3h1.5v1.5h-1.5zM78.8 470.7h1.5v1.5h-1.5zM125.0 472.5h1.5v1.5h-1.5zM146.1 471.8h1.5v1.5h-1.5zM122.1 447.1h1.5v1.5h-1.5zM127.2 470.2h1.5v1.5h-1.5zM140.9 460.2h1.5v1.5h-1.5zM157.5 468.5h1.5v1.5h-1.5zM92.9 467.9h1.5v1.5h-1.5zM92.5 446.4h1.5v1.5h-1.5zM176.3 443.3h1.5v1.5h-1.5zM107.3 457.5h1.5v1.5h-1.5zM85.1 453.3h1.5v1.5h-1.5zM135.4 452.8h1.5v1.5h-1.5zM106.8 442.6h1.5v1.5h-1.5zM128.0 475.6h1.5v1.5h-1.5zM119.7 467.7h1.5v1.5h-1.5zM151.0 442.9h1.5v1.5h-1.5zM163.7 402.3h1.5v1.5h-1.5zM85.2 449.2h1.5v1.5h-1.5zM67.9 440.5h1.5v1.5h-1.5zM194.4 470.4h1.5v1.5h-1.5zM91.7 474.6h1.5v1.5h-1.5zM120.9 467.5h1.5v1.5h-1.5zM93.5 452.8h1.5v1.5h-1.5zM79.8 438.7h1.5v1.5h-1.5zM74.8 468.6h1.5v1.5h-1.5zM167.3 470.7h1.5v1.5h-1.5zM133.0 473.5h1.5v1.5h-1.5zM121.9 443.1h1.5v1.5h-1.5zM65.2 451.8h1.5v1.5h-1.5zM114.2 450.5h1.5v1.5h-1.5zM152.2 467.8h1.5v1.5h-1.5zM129.5 470.0h1.5v1.5h-1.5zM169.9 447.4h1.5v1.5h-1.5zM125.8 442.3h1.5v1.5h-1.5zM153.5 467.1h1.5v1.5h-1.5zM142.9 466.2h1.5v1.5h-1.5zM96.8 442.9h1.5v1.5h-1.5zM182.5 442.2h1.5v1.5h-1.5zM138.6 470.8h1.5v1.5h-1.5zM159.4 468.0h1.5v1.5h-1.5zM74.4 445.5h1.5v1.5h-1.5zM73.4 448.8h1.5v1.5h-1.5zM114.2 463.8h1.5v1.5h-1.5zM86.1 442.4h1.5v1.5h-1.5zM150.2 449.7h1.5v1.5h-1.5zM140.7 461.7h1.5v1.5h-1.5zM177.5 459.3h1.5v1.5h-1.5zM148.8 469.6h1.5v1.5h-1.5zM71.5 462.9h1.5v1.5h-1.5zM165.0 472.5h1.5v1.5h-1.5zM93.1 458.5h1.5v1.5h-1.5zM89.3 473.7h1.5v1.5h-1.5zM125.1 475.4h1.5v1.5h-1.5zM121.9 422.4h1.5v1.5h-1.5zM169.0 471.8h1.5v1.5h-1.5zM141.3 434.8h1.5v1.5h-1.5zM187.7 473.4h1.5v1.5h-1.5zM112.8 455.7h1.5v1.5h-1.5zM137.4 459.2h1.5v1.5h-1.5zM99.0 455.2h1.5v1.5h-1.5zM103.3 451.8h1.5v1.5h-1.5zM182.7 459.3h1.5v1.5h-1.5zM142.7 432.6h1.5v1.5h-1.5zM142.3 452.5h1.5v1.5h-1.5zM86.3 471.3h1.5v1.5h-1.5zM199.1 455.6h1.5v1.5h-1.5zM114.3 474.2h1.5v1.5h-1.5zM93.1 467.9h1.5v1.5h-1.5zM121.4 432.4h1.5v1.5h-1.5zM152.6 474.1h1.5v1.5h-1.5zM156.0 465.2h1.5v1.5h-1.5zM188.4 473.8h1.5v1.5h-1.5zM74.6 433.6h1.5v1.5h-1.5zM103.0 474.1h1.5v1.5h-1.5zM192.4 456.3h1.5v1.5h-1.5zM224.5 460.7h1.5v1.5h-1.5zM94.1 434.9h1.5v1.5h-1.5zM118.0 474.4h1.5v1.5h-1.5zM85.4 440.4h1.5v1.5h-1.5zM82.7 470.4h1.5v1.5h-1.5zM117.7 461.7h1.5v1.5h-1.5zM68.9 431.4h1.5v1.5h-1.5zM164.2 466.1h1.5v1.5h-1.5zM119.8 469.5h1.5v1.5h-1.5zM111.0 440.3h1.5v1.5h-1.5zM163.8 442.2h1.5v1.5h-1.5zM110.4 410.3h1.5v1.5h-1.5zM66.7 443.0h1.5v1.5h-1.5zM123.6 454.6h1.5v1.5h-1.5zM219.9 469.7h1.5v1.5h-1.5zM126.9 445.9h1.5v1.5h-1.5zM145.9 456.8h1.5v1.5h-1.5zM113.6 462.3h1.5v1.5h-1.5zM112.6 455.3h1.5v1.5h-1.5zM145.1 471.3h1.5v1.5h-1.5zM66.7 464.1h1.5v1.5h-1.5zM95.7 428.6h1.5v1.5h-1.5zM110.4 444.0h1.5v1.5h-1.5zM187.7 452.1h1.5v1.5h-1.5zM150.7 449.2h1.5v1.5h-1.5zM140.3 464.3h1.5v1.5h-1.5zM153.1 430.4h1.5v1.5h-1.5zM190.1 464.6h1.5v1.5h-1.5zM78.3 437.3h1.5v1.5h-1.5zM100.3 474.4h1.5v1.5h-1.5zM129.4 441.9h1.5v1.5h-1.5zM135.8 459.1h1.5v1.5h-1.5zM141.7 453.6h1.5v1.5h-1.5zM156.8 453.6h1.5v1.5h-1.5zM160.4 425.6h1.5v1.5h-1.5zM145.0 461.2h1.5v1.5h-1.5zM131.2 430.1h1.5v1.5h-1.5zM94.7 445.6h1.5v1.5h-1.5zM165.1 449.3h1.5v1.5h-1.5zM212.3 430.4h1.5v1.5h-1.5zM144.7 470.2h1.5v1.5h-1.5zM73.3 470.5h1.5v1.5h-1.5zM69.9 465.0h1.5v1.5h-1.5zM76.7 471.3h1.5v1.5h-1.5zM172.8 467.7h1.5v1.5h-1.5zM135.3 474.6h1.5v1.5h-1.5zM121.1 439.7h1.5v1.5h-1.5zM161.5 472.3h1.5v1.5h-1.5zM123.2 474.9h1.5v1.5h-1.5zM123.9 456.8h1.5v1.5h-1.5zM84.6 467.9h1.5v1.5h-1.5zM131.7 471.4h1.5v1.5h-1.5zM125.4 458.3h1.5v1.5h-1.5zM184.8 462.5h1.5v1.5h-1.5zM229.6 463.6h1.5v1.5h-1.5zM150.2 451.5h1.5v1.5h-1.5zM92.3 471.0h1.5v1.5h-1.5zM178.1 459.6h1.5v1.5h-1.5zM138.5 430.2h1.5v1.5h-1.5zM208.1 464.6h1.5v1.5h-1.5zM191.3 447.0h1.5v1.5h-1.5zM122.0 464.0h1.5v1.5h-1.5zM203.2 468.6h1.5v1.5h-1.5zM152.9 463.5h1.5v1.5h-1.5zM183.0 473.7h1.5v1.5h-1.5zM70.7 467.1h1.5v1.5h-1.5zM108.3 466.4h1.5v1.5h-1.5zM208.9 440.0h1.5v1.5h-1.5zM179.6 445.0h1.5v1.5h-1.5zM221.1 459.3h1.5v1.5h-1.5zM206.6 473.7h1.5v1.5h-1.5zM86.5 449.9h1.5v1.5h-1.5zM82.1 459.0h1.5v1.5h-1.5zM125.4 441.8h1.5v1.5h-1.5zM70.5 459.9h1.5v1.5h-1.5zM166.9 474.4h1.5v1.5h-1.5zM174.6 458.3h1.5v1.5h-1.5zM178.7 472.2h1.5v1.5h-1.5zM203.6 433.9h1.5v1.5h-1.5zM115.7 474.3h1.5v1.5h-1.5zM62.6 461.8h1.5v1.5h-1.5zM91.2 471.8h1.5v1.5h-1.5zM203.0 456.5h1.5v1.5h-1.5zM85.8 474.3h1.5v1.5h-1.5zM78.5 417.8h1.5v1.5h-1.5zM179.6 451.9h1.5v1.5h-1.5zM166.0 439.4h1.5v1.5h-1.5zM219.5 463.9h1.5v1.5h-1.5zM201.2 465.2h1.5v1.5h-1.5zM212.7 462.8h1.5v1.5h-1.5zM216.9 475.0h1.5v1.5h-1.5zM225.3 457.4h1.5v1.5h-1.5zM105.8 453.8h1.5v1.5h-1.5zM76.2 466.4h1.5v1.5h-1.5zM217.1 474.2h1.5v1.5h-1.5zM111.8 451.2h1.5v1.5h-1.5zM85.1 439.6h1.5v1.5h-1.5zM158.5 463.1h1.5v1.5h-1.5zM203.8 462.9h1.5v1.5h-1.5zM116.5 468.0h1.5v1.5h-1.5zM209.0 469.1h1.5v1.5h-1.5zM228.5 446.4h1.5v1.5h-1.5zM153.0 457.4h1.5v1.5h-1.5zM100.2 415.2h1.5v1.5h-1.5zM111.9 454.0h1.5v1.5h-1.5zM89.3 470.6h1.5v1.5h-1.5zM136.8 467.9h1.5v1.5h-1.5zM129.1 450.7h1.5v1.5h-1.5zM110.7 464.7h1.5v1.5h-1.5zM130.3 448.9h1.5v1.5h-1.5zM105.6 451.7h1.5v1.5h-1.5zM209.3 443.7h1.5v1.5h-1.5zM219.4 454.5h1.5v1.5h-1.5zM135.7 459.3h1.5v1.5h-1.5zM80.2 458.9h1.5v1.5h-1.5zM111.0 467.9h1.5v1.5h-1.5zM179.1 470.0h1.5v1.5h-1.5zM230.4 439.6h1.5v1.5h-1.5zM191.6 450.4h1.5v1.5h-1.5zM71.4 455.8h1.5v1.5h-1.5zM120.6 443.2h1.5v1.5h-1.5zM71.7 473.1h1.5v1.5h-1.5zM157.7 454.6h1.5v1.5h-1.5zM128.8 439.0h1.5v1.5h-1.5zM137.7 455.9h1.5v1.5h-1.5zM109.6 435.6h1.5v1.5h-1.5zM75.6 472.1h1.5v1.5h-1.5zM196.2 424.9h1.5v1.5h-1.5zM119.9 467.0h1.5v1.5h-1.5zM72.2 449.1h1.5v1.5h-1.5zM95.2 422.4h1.5v1.5h-1.5zM68.6 456.6h1.5v1.5h-1.5zM212.1 467.2h1.5v1.5h-1.5zM90.0 417.1h1.5v1.5h-1.5zM223.3 468.1h1.5v1.5h-1.5zM229.0 448.2h1.5v1.5h-1.5zM81.3 455.1h1.5v1.5h-1.5zM197.4 458.5h1.5v1.5h-1.5zM97.4 444.0h1.5v1.5h-1.5zM184.0 429.4h1.5v1.5h-1.5zM228.2 424.5h1.5v1.5h-1.5zM140.6 443.9h1.5v1.5h-1.5zM97.4 440.6h1.5v1.5h-1.5zM174.8 474.9h1.5v1.5h-1.5zM165.9 464.1h1.5v1.5h-1.5zM102.4 456.4h1.5v1.5h-1.5zM153.8 460.2h1.5v1.5h-1.5zM148.4 427.8h1.5v1.5h-1.5zM131.5 430.6h1.5v1.5h-1.5zM124.9 459.9h1.5v1.5h-1.5zM220.5 430.1h1.5v1.5h-1.5zM174.9 464.8h1.5v1.5h-1.5zM131.5 442.9h1.5v1.5h-1.5zM158.0 471.9h1.5v1.5h-1.5zM169.0 413.1h1.5v1.5h-1.5zM211.3 461.1h1.5v1.5h-1.5zM138.3 419.4h1.5v1.5h-1.5zM201.7 468.1h1.5v1.5h-1.5zM87.6 467.4h1.5v1.5h-1.5zM186.9 467.3h1.5v1.5h-1.5zM182.2 466.9h1.5v1.5h-1.5zM62.1 473.2h1.5v1.5h-1.5zM172.1 443.3h1.5v1.5h-1.5zM72.8 458.7h1.5v1.5h-1.5zM218.2 458.5h1.5v1.5h-1.5zM156.6 467.9h1.5v1.5h-1.5zM86.1 459.9h1.5v1.5h-1.5zM187.4 460.8h1.5v1.5h-1.5zM107.5 475.2h1.5v1.5h-1.5zM72.0 466.7h1.5v1.5h-1.5zM157.7 470.8h1.5v1.5h-1.5zM199.2 466.7h1.5v1.5h-1.5zM184.3 462.0h1.5v1.5h-1.5zM199.7 414.9h1.5v1.5h-1.5zM183.6 464.1h1.5v1.5h-1.5zM127.0 433.8h1.5v1.5h-1.5zM97.9 446.7h1.5v1.5h-1.5zM119.0 414.8h1.5v1.5h-1.5zM204.8 441.1h1.5v1.5h-1.5zM73.4 471.5h1.5v1.5h-1.5zM219.9 443.7h1.5v1.5h-1.5zM61.8 464.9h1.5v1.5h-1.5zM156.6 463.4h1.5v1.5h-1.5zM215.9 472.6h1.5v1.5h-1.5zM150.7 471.6h1.5v1.5h-1.5zM189.5 450.4h1.5v1.5h-1.5zM65.2 469.3h1.5v1.5h-1.5zM188.5 452.2h1.5v1.5h-1.5zM167.4 464.7h1.5v1.5h-1.5zM170.2 452.9h1.5v1.5h-1.5zM107.9 453.3h1.5v1.5h-1.5zM166.1 469.4h1.5v1.5h-1.5zM192.7 431.7h1.5v1.5h-1.5zM206.9 448.4h1.5v1.5h-1.5zM73.4 456.3h1.5v1.5h-1.5zM214.1 453.6h1.5v1.5h-1.5zM183.9 452.1h1.5v1.5h-1.5zM154.9 464.8h1.5v1.5h-1.5zM188.1 454.1h1.5v1.5h-1.5zM190.1 471.3h1.5v1.5h-1.5zM155.9 414.1h1.5v1.5h-1.5zM209.6 449.2h1.5v1.5h-1.5zM212.1 444.9h1.5v1.5h-1.5zM200.7 446.3h1.5v1.5h-1.5zM98.5 438.1h1.5v1.5h-1.5zM127.3 460.7h1.5v1.5h-1.5zM220.2 468.2h1.5v1.5h-1.5zM158.5 474.8h1.5v1.5h-1.5zM89.6 458.5h1.5v1.5h-1.5zM200.3 471.3h1.5v1.5h-1.5zM90.6 460.6h1.5v1.5h-1.5zM227.7 474.0h1.5v1.5h-1.5zM174.9 444.2h1.5v1.5h-1.5zM225.0 464.7h1.5v1.5h-1.5zM114.4 466.5h1.5v1.5h-1.5zM213.6 442.3h1.5v1.5h-1.5zM113.3 463.2h1.5v1.5h-1.5zM73.3 460.4h1.5v1.5h-1.5zM191.2 451.3h1.5v1.5h-1.5zM222.2 474.7h1.5v1.5h-1.5zM220.7 466.3h1.5v1.5h-1.5zM83.3 409.2h1.5v1.5h-1.5zM156.7 450.1h1.5v1.5h-1.5zM176.1 472.0h1.5v1.5h-1.5zM114.7 425.2h1.5v1.5h-1.5zM187.1 428.6h1.5v1.5h-1.5zM125.6 451.8h1.5v1.5h-1.5zM210.7 475.2h1.5v1.5h-1.5zM157.8 462.5h1.5v1.5h-1.5zM134.7 463.7h1.5v1.5h-1.5zM147.2 470.6h1.5v1.5h-1.5zM132.1 454.4h1.5v1.5h-1.5zM144.4 467.1h1.5v1.5h-1.5zM181.6 450.9h1.5v1.5h-1.5zM117.2 468.4h1.5v1.5h-1.5zM178.4 467.5h1.5v1.5h-1.5zM138.3 475.3h1.5v1.5h-1.5zM210.3 438.4h1.5v1.5h-1.5zM63.9 469.2h1.5v1.5h-1.5zM193.3 474.5h1.5v1.5h-1.5zM112.4 425.5h1.5v1.5h-1.5zM201.8 465.9h1.5v1.5h-1.5zM116.2 449.1h1.5v1.5h-1.5zM81.3 472.6h1.5v1.5h-1.5zM172.5 441.7h1.5v1.5h-1.5zM96.8 438.9h1.5v1.5h-1.5zM198.9 467.4h1.5v1.5h-1.5zM156.3 468.6h1.5v1.5h-1.5zM208.1 471.9h1.5v1.5h-1.5zM177.3 455.3h1.5v1.5h-1.5zM138.8 462.7h1.5v1.5h-1.5zM164.8 433.8h1.5v1.5h-1.5zM69.7 464.3h1.5v1.5h-1.5zM77.5 458.8h1.5v1.5h-1.5zM103.6 463.6h1.5v1.5h-1.5zM149.5 467.8h1.5v1.5h-1.5zM216.1 474.0h1.5v1.5h-1.5zM105.6 467.0h1.5v1.5h-1.5zM75.7 431.6h1.5v1.5h-1.5zM202.7 451.8h1.5v1.5h-1.5zM213.9 453.0h1.5v1.5h-1.5zM156.3 436.6h1.5v1.5h-1.5zM98.2 470.3h1.5v1.5h-1.5zM203.7 433.9h1.5v1.5h-1.5zM117.7 441.2h1.5v1.5h-1.5zM167.5 470.4h1.5v1.5h-1.5zM198.3 469.3h1.5v1.5h-1.5zM118.9 474.4h1.5v1.5h-1.5zM97.3 461.4h1.5v1.5h-1.5zM72.1 472.4h1.5v1.5h-1.5zM219.8 441.3h1.5v1.5h-1.5zM66.3 467.5h1.5v1.5h-1.5zM202.7 469.1h1.5v1.5h-1.5zM222.9 430.9h1.5v1.5h-1.5zM132.6 466.3h1.5v1.5h-1.5zM83.5 465.5h1.5v1.5h-1.5zM179.7 456.6h1.5v1.5h-1.5zM94.2 457.5h1.5v1.5h-1.5zM136.1 466.7h1.5v1.5h-1.5zM117.6 453.7h1.5v1.5h-1.5zM186.6 469.4h1.5v1.5h-1.5zM190.1 450.9h1.5v1.5h-1.5zM167.6 466.3h1.5v1.5h-1.5zM148.5 469.1h1.5v1.5h-1.5zM188.8 465.2h1.5v1.5h-1.5zM91.4 467.9h1.5v1.5h-1.5zM95.3 442.6h1.5v1.5h-1.5zM90.1 445.4h1.5v1.5h-1.5zM93.3 472.6h1.5v1.5h-1.5zM138.9 433.1h1.5v1.5h-1.5zM84.9 440.8h1.5v1.5h-1.5zM221.2 473.0h1.5v1.5h-1.5zM72.3 459.4h1.5v1.5h-1.5zM222.3 458.1h1.5v1.5h-1.5zM198.1 458.9h1.5v1.5h-1.5zM156.3 475.1h1.5v1.5h-1.5zM151.6 430.3h1.5v1.5h-1.5zM198.7 462.0h1.5v1.5h-1.5zM215.3 377.6h1.5v1.5h-1.5zM189.2 389.4h1.5v1.5h-1.5zM213.3 396.1h1.5v1.5h-1.5zM140.1 398.2h1.5v1.5h-1.5zM155.3 400.6h1.5v1.5h-1.5zM165.1 399.4h1.5v1.5h-1.5zM154.2 406.1h1.5v1.5h-1.5zM176.9 403.2h1.5v1.5h-1.5zM198.1 407.9h1.5v1.5h-1.5z"/><line x1="38.00" y1="339.20" x2="234.50" y2="339.20" stroke="#111" stroke-width="1.4"/><line x1="38.00" y1="338.50" x2="38.00" y2="535.60" stroke="#111" stroke-width="1.6"/><line x1="234.50" y1="338.50" x2="234.50" y2="535.60" stroke="#111" stroke-width="1.6"/><line x1="37.20" y1="534.40" x2="235.30" y2="534.40" stroke="#111" stroke-width="2.6"/><line x1="38.00" y1="474.30" x2="234.50" y2="474.30" stroke="#111" stroke-width="2.0"/><line x1="34.80" y1="534.40" x2="38.00" y2="534.40" stroke="#111" stroke-width="1.3"/><line x1="36.00" y1="519.71" x2="38.00" y2="519.71" stroke="#111" stroke-width="1.1"/><line x1="36.00" y1="511.12" x2="38.00" y2="511.12" stroke="#111" stroke-width="1.1"/><line x1="36.00" y1="505.02" x2="38.00" y2="505.02" stroke="#111" stroke-width="1.1"/><line x1="36.00" y1="500.29" x2="38.00" y2="500.29" stroke="#111" stroke-width="1.1"/><line x1="36.00" y1="496.43" x2="38.00" y2="496.43" stroke="#111" stroke-width="1.1"/><line x1="36.00" y1="493.16" x2="38.00" y2="493.16" stroke="#111" stroke-width="1.1"/><line x1="36.00" y1="490.33" x2="38.00" y2="490.33" stroke="#111" stroke-width="1.1"/><line x1="36.00" y1="487.83" x2="38.00" y2="487.83" stroke="#111" stroke-width="1.1"/><line x1="34.80" y1="485.60" x2="38.00" y2="485.60" stroke="#111" stroke-width="1.3"/><line x1="36.00" y1="470.91" x2="38.00" y2="470.91" stroke="#111" stroke-width="1.1"/><line x1="36.00" y1="462.32" x2="38.00" y2="462.32" stroke="#111" stroke-width="1.1"/><line x1="36.00" y1="456.22" x2="38.00" y2="456.22" stroke="#111" stroke-width="1.1"/><line x1="36.00" y1="451.49" x2="38.00" y2="451.49" stroke="#111" stroke-width="1.1"/><line x1="36.00" y1="447.63" x2="38.00" y2="447.63" stroke="#111" stroke-width="1.1"/><line x1="36.00" y1="444.36" x2="38.00" y2="444.36" stroke="#111" stroke-width="1.1"/><line x1="36.00" y1="441.53" x2="38.00" y2="441.53" stroke="#111" stroke-width="1.1"/><line x1="36.00" y1="439.03" x2="38.00" y2="439.03" stroke="#111" stroke-width="1.1"/><line x1="34.80" y1="436.80" x2="38.00" y2="436.80" stroke="#111" stroke-width="1.3"/><line x1="36.00" y1="422.11" x2="38.00" y2="422.11" stroke="#111" stroke-width="1.1"/><line x1="36.00" y1="413.52" x2="38.00" y2="413.52" stroke="#111" stroke-width="1.1"/><line x1="36.00" y1="407.42" x2="38.00" y2="407.42" stroke="#111" stroke-width="1.1"/><line x1="36.00" y1="402.69" x2="38.00" y2="402.69" stroke="#111" stroke-width="1.1"/><line x1="36.00" y1="398.83" x2="38.00" y2="398.83" stroke="#111" stroke-width="1.1"/><line x1="36.00" y1="395.56" x2="38.00" y2="395.56" stroke="#111" stroke-width="1.1"/><line x1="36.00" y1="392.73" x2="38.00" y2="392.73" stroke="#111" stroke-width="1.1"/><line x1="36.00" y1="390.23" x2="38.00" y2="390.23" stroke="#111" stroke-width="1.1"/><line x1="34.80" y1="388.00" x2="38.00" y2="388.00" stroke="#111" stroke-width="1.3"/><line x1="36.00" y1="373.31" x2="38.00" y2="373.31" stroke="#111" stroke-width="1.1"/><line x1="36.00" y1="364.72" x2="38.00" y2="364.72" stroke="#111" stroke-width="1.1"/><line x1="36.00" y1="358.62" x2="38.00" y2="358.62" stroke="#111" stroke-width="1.1"/><line x1="36.00" y1="353.89" x2="38.00" y2="353.89" stroke="#111" stroke-width="1.1"/><line x1="36.00" y1="350.03" x2="38.00" y2="350.03" stroke="#111" stroke-width="1.1"/><line x1="36.00" y1="346.76" x2="38.00" y2="346.76" stroke="#111" stroke-width="1.1"/><line x1="36.00" y1="343.93" x2="38.00" y2="343.93" stroke="#111" stroke-width="1.1"/><line x1="36.00" y1="341.43" x2="38.00" y2="341.43" stroke="#111" stroke-width="1.1"/><line x1="34.80" y1="339.20" x2="38.00" y2="339.20" stroke="#111" stroke-width="1.3"/><line x1="39.00" y1="534.40" x2="39.00" y2="539.90" stroke="#111" stroke-width="1.4"/><line x1="46.60" y1="534.40" x2="46.60" y2="537.90" stroke="#111" stroke-width="1.2"/><line x1="54.19" y1="534.40" x2="54.19" y2="537.90" stroke="#111" stroke-width="1.2"/><line x1="61.79" y1="534.40" x2="61.79" y2="537.90" stroke="#111" stroke-width="1.2"/><line x1="69.38" y1="534.40" x2="69.38" y2="537.90" stroke="#111" stroke-width="1.2"/><line x1="76.98" y1="534.40" x2="76.98" y2="539.90" stroke="#111" stroke-width="1.4"/><line x1="84.58" y1="534.40" x2="84.58" y2="537.90" stroke="#111" stroke-width="1.2"/><line x1="92.17" y1="534.40" x2="92.17" y2="537.90" stroke="#111" stroke-width="1.2"/><line x1="99.77" y1="534.40" x2="99.77" y2="537.90" stroke="#111" stroke-width="1.2"/><line x1="107.36" y1="534.40" x2="107.36" y2="537.90" stroke="#111" stroke-width="1.2"/><line x1="114.96" y1="534.40" x2="114.96" y2="539.90" stroke="#111" stroke-width="1.4"/><line x1="122.56" y1="534.40" x2="122.56" y2="537.90" stroke="#111" stroke-width="1.2"/><line x1="130.15" y1="534.40" x2="130.15" y2="537.90" stroke="#111" stroke-width="1.2"/><line x1="137.75" y1="534.40" x2="137.75" y2="537.90" stroke="#111" stroke-width="1.2"/><line x1="145.34" y1="534.40" x2="145.34" y2="537.90" stroke="#111" stroke-width="1.2"/><line x1="152.94" y1="534.40" x2="152.94" y2="539.90" stroke="#111" stroke-width="1.4"/><line x1="160.54" y1="534.40" x2="160.54" y2="537.90" stroke="#111" stroke-width="1.2"/><line x1="168.13" y1="534.40" x2="168.13" y2="537.90" stroke="#111" stroke-width="1.2"/><line x1="175.73" y1="534.40" x2="175.73" y2="537.90" stroke="#111" stroke-width="1.2"/><line x1="183.32" y1="534.40" x2="183.32" y2="537.90" stroke="#111" stroke-width="1.2"/><line x1="190.92" y1="534.40" x2="190.92" y2="539.90" stroke="#111" stroke-width="1.4"/><line x1="198.52" y1="534.40" x2="198.52" y2="537.90" stroke="#111" stroke-width="1.2"/><line x1="206.11" y1="534.40" x2="206.11" y2="537.90" stroke="#111" stroke-width="1.2"/><line x1="213.71" y1="534.40" x2="213.71" y2="537.90" stroke="#111" stroke-width="1.2"/><line x1="221.30" y1="534.40" x2="221.30" y2="537.90" stroke="#111" stroke-width="1.2"/><line x1="228.90" y1="534.40" x2="228.90" y2="539.90" stroke="#111" stroke-width="1.4"/><path fill="#000" d="M357.7 524.9h1.5v1.5h-1.5zM355.1 501.5h1.5v1.5h-1.5zM347.3 515.8h1.5v1.5h-1.5zM357.1 518.9h1.5v1.5h-1.5zM348.9 513.6h1.5v1.5h-1.5zM361.3 521.0h1.5v1.5h-1.5zM348.5 518.0h1.5v1.5h-1.5zM349.0 500.6h1.5v1.5h-1.5zM350.5 489.5h1.5v1.5h-1.5zM345.6 489.7h1.5v1.5h-1.5zM350.7 503.6h1.5v1.5h-1.5zM335.7 513.9h1.5v1.5h-1.5zM366.5 524.1h1.5v1.5h-1.5zM354.7 519.7h1.5v1.5h-1.5zM346.6 508.4h1.5v1.5h-1.5zM354.0 489.5h1.5v1.5h-1.5zM352.6 505.6h1.5v1.5h-1.5zM353.3 528.3h1.5v1.5h-1.5zM342.4 529.8h1.5v1.5h-1.5zM351.8 522.4h1.5v1.5h-1.5zM339.6 510.1h1.5v1.5h-1.5zM351.3 481.7h1.5v1.5h-1.5zM346.5 528.8h1.5v1.5h-1.5zM348.4 513.7h1.5v1.5h-1.5zM350.4 491.0h1.5v1.5h-1.5zM358.4 523.2h1.5v1.5h-1.5zM361.1 515.0h1.5v1.5h-1.5zM352.8 517.1h1.5v1.5h-1.5zM345.2 500.7h1.5v1.5h-1.5zM362.9 527.9h1.5v1.5h-1.5zM342.9 529.0h1.5v1.5h-1.5zM348.8 528.7h1.5v1.5h-1.5zM351.1 527.6h1.5v1.5h-1.5zM347.5 527.7h1.5v1.5h-1.5zM361.8 516.6h1.5v1.5h-1.5zM355.4 519.5h1.5v1.5h-1.5zM360.0 522.3h1.5v1.5h-1.5zM350.5 528.7h1.5v1.5h-1.5zM358.6 484.9h1.5v1.5h-1.5zM351.5 529.0h1.5v1.5h-1.5zM354.6 520.0h1.5v1.5h-1.5zM355.3 504.5h1.5v1.5h-1.5zM356.5 509.2h1.5v1.5h-1.5zM351.1 510.1h1.5v1.5h-1.5zM342.2 514.7h1.5v1.5h-1.5zM350.4 518.4h1.5v1.5h-1.5zM334.0 515.9h1.5v1.5h-1.5zM350.6 502.3h1.5v1.5h-1.5zM346.9 495.6h1.5v1.5h-1.5zM358.2 517.5h1.5v1.5h-1.5zM333.7 521.1h1.5v1.5h-1.5zM366.4 501.6h1.5v1.5h-1.5zM350.1 494.2h1.5v1.5h-1.5zM341.5 530.3h1.5v1.5h-1.5zM355.5 510.4h1.5v1.5h-1.5zM355.9 492.3h1.5v1.5h-1.5zM355.5 509.5h1.5v1.5h-1.5zM367.6 513.7h1.5v1.5h-1.5zM346.8 506.8h1.5v1.5h-1.5zM354.6 528.5h1.5v1.5h-1.5zM353.6 512.0h1.5v1.5h-1.5zM347.8 497.1h1.5v1.5h-1.5zM354.5 501.1h1.5v1.5h-1.5zM361.2 523.4h1.5v1.5h-1.5zM346.6 509.2h1.5v1.5h-1.5zM355.6 529.8h1.5v1.5h-1.5zM359.5 518.2h1.5v1.5h-1.5zM357.0 514.2h1.5v1.5h-1.5zM341.4 497.4h1.5v1.5h-1.5zM354.5 515.1h1.5v1.5h-1.5zM349.8 481.9h1.5v1.5h-1.5zM361.0 500.6h1.5v1.5h-1.5zM351.6 522.6h1.5v1.5h-1.5zM366.1 513.2h1.5v1.5h-1.5zM344.0 529.9h1.5v1.5h-1.5zM356.0 507.8h1.5v1.5h-1.5zM346.4 491.9h1.5v1.5h-1.5zM363.4 504.9h1.5v1.5h-1.5zM346.1 530.2h1.5v1.5h-1.5zM357.7 505.2h1.5v1.5h-1.5zM352.2 526.4h1.5v1.5h-1.5zM341.2 525.6h1.5v1.5h-1.5zM345.3 508.2h1.5v1.5h-1.5zM353.2 496.5h1.5v1.5h-1.5zM356.1 519.8h1.5v1.5h-1.5zM349.9 507.2h1.5v1.5h-1.5zM354.6 527.7h1.5v1.5h-1.5zM354.7 516.9h1.5v1.5h-1.5zM354.5 528.7h1.5v1.5h-1.5zM344.3 524.4h1.5v1.5h-1.5zM353.5 523.0h1.5v1.5h-1.5zM356.2 515.2h1.5v1.5h-1.5zM342.2 522.8h1.5v1.5h-1.5zM363.2 499.2h1.5v1.5h-1.5zM362.6 508.1h1.5v1.5h-1.5zM353.6 528.7h1.5v1.5h-1.5zM367.0 523.8h1.5v1.5h-1.5zM346.9 523.0h1.5v1.5h-1.5zM346.0 479.8h1.5v1.5h-1.5zM348.2 506.4h1.5v1.5h-1.5zM347.5 522.0h1.5v1.5h-1.5zM365.3 515.6h1.5v1.5h-1.5zM352.9 529.5h1.5v1.5h-1.5zM352.1 525.6h1.5v1.5h-1.5zM355.0 498.9h1.5v1.5h-1.5zM363.6 524.8h1.5v1.5h-1.5zM353.7 514.2h1.5v1.5h-1.5zM349.9 491.9h1.5v1.5h-1.5zM354.4 514.6h1.5v1.5h-1.5zM361.3 529.6h1.5v1.5h-1.5zM351.1 515.5h1.5v1.5h-1.5zM362.3 489.1h1.5v1.5h-1.5zM354.6 526.8h1.5v1.5h-1.5zM351.3 513.0h1.5v1.5h-1.5zM355.9 497.7h1.5v1.5h-1.5zM366.2 496.2h1.5v1.5h-1.5zM350.8 530.0h1.5v1.5h-1.5zM362.1 514.2h1.5v1.5h-1.5zM356.4 526.6h1.5v1.5h-1.5zM353.6 520.6h1.5v1.5h-1.5zM352.9 519.0h1.5v1.5h-1.5zM358.2 502.7h1.5v1.5h-1.5zM356.8 528.4h1.5v1.5h-1.5zM355.1 511.8h1.5v1.5h-1.5zM357.1 505.8h1.5v1.5h-1.5zM346.6 494.7h1.5v1.5h-1.5zM348.0 528.5h1.5v1.5h-1.5zM350.1 521.7h1.5v1.5h-1.5zM351.1 515.4h1.5v1.5h-1.5zM350.0 521.7h1.5v1.5h-1.5zM356.2 524.4h1.5v1.5h-1.5zM346.0 498.0h1.5v1.5h-1.5zM350.9 498.2h1.5v1.5h-1.5zM358.5 495.0h1.5v1.5h-1.5zM364.2 495.7h1.5v1.5h-1.5zM352.9 521.3h1.5v1.5h-1.5zM360.8 522.5h1.5v1.5h-1.5zM362.0 527.6h1.5v1.5h-1.5zM345.5 523.1h1.5v1.5h-1.5zM354.2 518.5h1.5v1.5h-1.5zM345.3 515.3h1.5v1.5h-1.5zM349.9 504.3h1.5v1.5h-1.5zM355.4 519.1h1.5v1.5h-1.5zM356.2 509.4h1.5v1.5h-1.5zM351.6 502.7h1.5v1.5h-1.5zM350.9 521.7h1.5v1.5h-1.5zM356.2 523.4h1.5v1.5h-1.5zM346.9 517.9h1.5v1.5h-1.5zM340.8 525.2h1.5v1.5h-1.5zM352.7 521.7h1.5v1.5h-1.5zM347.6 526.7h1.5v1.5h-1.5zM351.2 525.0h1.5v1.5h-1.5zM344.9 473.7h1.5v1.5h-1.5zM346.1 487.8h1.5v1.5h-1.5zM345.4 520.9h1.5v1.5h-1.5zM343.7 511.3h1.5v1.5h-1.5zM346.9 518.9h1.5v1.5h-1.5zM347.1 527.7h1.5v1.5h-1.5zM352.7 526.0h1.5v1.5h-1.5zM374.3 516.0h1.5v1.5h-1.5zM348.2 523.4h1.5v1.5h-1.5zM356.5 492.1h1.5v1.5h-1.5zM344.0 498.1h1.5v1.5h-1.5zM346.3 518.3h1.5v1.5h-1.5zM350.1 527.3h1.5v1.5h-1.5zM352.7 484.5h1.5v1.5h-1.5zM352.9 503.2h1.5v1.5h-1.5zM354.1 503.4h1.5v1.5h-1.5zM351.6 517.4h1.5v1.5h-1.5zM360.1 530.0h1.5v1.5h-1.5zM358.2 497.2h1.5v1.5h-1.5zM348.7 508.2h1.5v1.5h-1.5zM351.0 481.7h1.5v1.5h-1.5zM357.0 518.0h1.5v1.5h-1.5zM351.0 502.9h1.5v1.5h-1.5zM365.5 517.3h1.5v1.5h-1.5zM347.8 525.6h1.5v1.5h-1.5zM362.8 530.3h1.5v1.5h-1.5zM346.1 487.0h1.5v1.5h-1.5zM340.9 480.1h1.5v1.5h-1.5zM354.8 506.2h1.5v1.5h-1.5zM359.4 512.9h1.5v1.5h-1.5zM346.4 528.6h1.5v1.5h-1.5zM359.0 493.2h1.5v1.5h-1.5zM348.8 494.9h1.5v1.5h-1.5zM350.3 513.1h1.5v1.5h-1.5zM363.7 512.0h1.5v1.5h-1.5zM353.6 500.2h1.5v1.5h-1.5zM354.5 512.7h1.5v1.5h-1.5zM342.0 528.8h1.5v1.5h-1.5zM353.5 511.0h1.5v1.5h-1.5zM354.3 506.9h1.5v1.5h-1.5zM363.6 525.2h1.5v1.5h-1.5zM346.1 508.6h1.5v1.5h-1.5zM347.9 520.3h1.5v1.5h-1.5zM357.0 521.7h1.5v1.5h-1.5zM346.9 473.5h1.5v1.5h-1.5zM361.1 510.9h1.5v1.5h-1.5zM352.6 505.7h1.5v1.5h-1.5zM346.1 518.1h1.5v1.5h-1.5zM347.9 522.1h1.5v1.5h-1.5zM343.0 519.8h1.5v1.5h-1.5zM342.4 500.2h1.5v1.5h-1.5zM360.2 519.8h1.5v1.5h-1.5zM345.6 507.4h1.5v1.5h-1.5zM349.3 527.2h1.5v1.5h-1.5zM363.3 511.8h1.5v1.5h-1.5zM347.4 511.8h1.5v1.5h-1.5zM353.8 482.0h1.5v1.5h-1.5zM355.8 530.3h1.5v1.5h-1.5zM351.0 505.5h1.5v1.5h-1.5zM351.0 455.8h1.5v1.5h-1.5zM350.0 498.9h1.5v1.5h-1.5zM341.6 515.2h1.5v1.5h-1.5zM352.6 523.7h1.5v1.5h-1.5zM353.5 526.2h1.5v1.5h-1.5zM355.4 495.2h1.5v1.5h-1.5zM345.9 527.3h1.5v1.5h-1.5zM334.3 522.3h1.5v1.5h-1.5zM339.0 525.6h1.5v1.5h-1.5zM352.9 528.0h1.5v1.5h-1.5zM356.1 509.1h1.5v1.5h-1.5zM349.3 529.3h1.5v1.5h-1.5zM342.3 512.4h1.5v1.5h-1.5zM351.1 502.5h1.5v1.5h-1.5zM358.5 526.4h1.5v1.5h-1.5zM351.9 512.9h1.5v1.5h-1.5zM342.2 498.7h1.5v1.5h-1.5zM355.4 505.7h1.5v1.5h-1.5zM350.9 514.9h1.5v1.5h-1.5zM351.0 489.0h1.5v1.5h-1.5zM352.7 483.8h1.5v1.5h-1.5zM356.1 495.3h1.5v1.5h-1.5zM351.5 467.7h1.5v1.5h-1.5zM345.6 509.1h1.5v1.5h-1.5zM351.5 530.3h1.5v1.5h-1.5zM353.1 514.0h1.5v1.5h-1.5zM360.3 478.2h1.5v1.5h-1.5zM343.8 493.9h1.5v1.5h-1.5zM351.3 525.4h1.5v1.5h-1.5zM346.2 488.4h1.5v1.5h-1.5zM354.1 515.7h1.5v1.5h-1.5zM348.5 502.5h1.5v1.5h-1.5zM331.1 497.4h1.5v1.5h-1.5zM358.7 525.5h1.5v1.5h-1.5zM344.7 521.9h1.5v1.5h-1.5zM341.9 461.6h1.5v1.5h-1.5zM344.9 501.1h1.5v1.5h-1.5zM343.3 515.7h1.5v1.5h-1.5zM351.2 523.3h1.5v1.5h-1.5zM353.2 504.0h1.5v1.5h-1.5zM351.7 483.1h1.5v1.5h-1.5zM354.7 509.9h1.5v1.5h-1.5zM346.5 517.5h1.5v1.5h-1.5zM356.3 472.9h1.5v1.5h-1.5zM351.5 503.7h1.5v1.5h-1.5zM355.2 512.6h1.5v1.5h-1.5zM356.4 520.8h1.5v1.5h-1.5zM349.7 513.2h1.5v1.5h-1.5zM360.7 521.9h1.5v1.5h-1.5zM357.7 490.7h1.5v1.5h-1.5zM349.4 523.4h1.5v1.5h-1.5zM364.3 521.9h1.5v1.5h-1.5zM363.6 491.9h1.5v1.5h-1.5zM341.7 508.8h1.5v1.5h-1.5zM336.8 515.6h1.5v1.5h-1.5zM348.0 519.9h1.5v1.5h-1.5zM355.4 506.1h1.5v1.5h-1.5zM358.6 522.5h1.5v1.5h-1.5zM356.8 517.9h1.5v1.5h-1.5zM352.1 494.7h1.5v1.5h-1.5zM358.9 523.8h1.5v1.5h-1.5zM357.1 509.3h1.5v1.5h-1.5zM349.2 500.0h1.5v1.5h-1.5zM353.5 522.5h1.5v1.5h-1.5zM347.9 453.9h1.5v1.5h-1.5zM348.0 510.5h1.5v1.5h-1.5zM346.6 522.5h1.5v1.5h-1.5zM362.3 509.4h1.5v1.5h-1.5zM356.9 524.6h1.5v1.5h-1.5zM358.1 497.2h1.5v1.5h-1.5zM349.7 506.6h1.5v1.5h-1.5zM352.1 481.5h1.5v1.5h-1.5zM360.6 519.3h1.5v1.5h-1.5zM350.4 522.6h1.5v1.5h-1.5zM360.4 513.5h1.5v1.5h-1.5zM352.2 524.6h1.5v1.5h-1.5zM352.1 482.7h1.5v1.5h-1.5zM356.1 527.1h1.5v1.5h-1.5zM358.2 504.9h1.5v1.5h-1.5zM364.3 528.4h1.5v1.5h-1.5zM349.9 525.4h1.5v1.5h-1.5zM363.8 507.2h1.5v1.5h-1.5zM347.1 524.1h1.5v1.5h-1.5zM346.5 526.8h1.5v1.5h-1.5zM337.1 456.3h1.5v1.5h-1.5zM358.1 529.0h1.5v1.5h-1.5zM362.4 528.7h1.5v1.5h-1.5zM344.2 501.7h1.5v1.5h-1.5zM350.1 507.2h1.5v1.5h-1.5zM350.6 520.5h1.5v1.5h-1.5zM341.7 484.3h1.5v1.5h-1.5zM352.8 500.6h1.5v1.5h-1.5zM354.4 510.9h1.5v1.5h-1.5zM348.9 519.5h1.5v1.5h-1.5zM345.4 523.7h1.5v1.5h-1.5zM353.3 522.6h1.5v1.5h-1.5zM356.4 529.5h1.5v1.5h-1.5zM342.7 523.5h1.5v1.5h-1.5zM351.7 518.6h1.5v1.5h-1.5zM356.2 529.1h1.5v1.5h-1.5zM354.6 522.7h1.5v1.5h-1.5zM364.1 508.3h1.5v1.5h-1.5zM343.6 504.9h1.5v1.5h-1.5zM361.3 518.1h1.5v1.5h-1.5zM350.4 476.6h1.5v1.5h-1.5zM356.5 521.9h1.5v1.5h-1.5zM351.3 500.2h1.5v1.5h-1.5zM344.6 483.4h1.5v1.5h-1.5zM340.7 496.0h1.5v1.5h-1.5zM368.7 518.7h1.5v1.5h-1.5zM343.2 508.1h1.5v1.5h-1.5zM350.5 500.7h1.5v1.5h-1.5zM362.1 511.3h1.5v1.5h-1.5zM354.5 505.7h1.5v1.5h-1.5zM353.6 493.8h1.5v1.5h-1.5zM338.6 508.0h1.5v1.5h-1.5zM348.2 516.9h1.5v1.5h-1.5zM343.3 480.1h1.5v1.5h-1.5zM340.1 518.4h1.5v1.5h-1.5zM354.9 527.7h1.5v1.5h-1.5zM358.1 522.0h1.5v1.5h-1.5zM347.1 508.4h1.5v1.5h-1.5zM347.9 525.4h1.5v1.5h-1.5zM355.3 511.1h1.5v1.5h-1.5zM358.4 507.8h1.5v1.5h-1.5zM345.2 521.0h1.5v1.5h-1.5zM360.4 516.6h1.5v1.5h-1.5zM358.8 521.9h1.5v1.5h-1.5zM352.4 528.0h1.5v1.5h-1.5zM344.8 528.8h1.5v1.5h-1.5zM356.3 496.7h1.5v1.5h-1.5zM364.4 512.0h1.5v1.5h-1.5zM348.3 503.5h1.5v1.5h-1.5zM363.2 520.6h1.5v1.5h-1.5zM350.0 513.7h1.5v1.5h-1.5zM356.0 471.5h1.5v1.5h-1.5zM353.0 526.1h1.5v1.5h-1.5zM362.5 501.5h1.5v1.5h-1.5zM347.7 504.4h1.5v1.5h-1.5zM358.1 490.8h1.5v1.5h-1.5zM350.6 486.5h1.5v1.5h-1.5zM352.2 513.5h1.5v1.5h-1.5zM353.8 523.7h1.5v1.5h-1.5zM338.7 491.6h1.5v1.5h-1.5zM350.6 480.4h1.5v1.5h-1.5zM359.3 486.9h1.5v1.5h-1.5zM358.2 489.9h1.5v1.5h-1.5zM341.3 502.6h1.5v1.5h-1.5zM344.7 498.0h1.5v1.5h-1.5zM349.6 529.0h1.5v1.5h-1.5zM365.3 527.2h1.5v1.5h-1.5zM349.5 507.3h1.5v1.5h-1.5zM352.4 516.0h1.5v1.5h-1.5zM350.7 507.0h1.5v1.5h-1.5zM354.5 513.1h1.5v1.5h-1.5zM346.2 508.3h1.5v1.5h-1.5zM354.2 523.1h1.5v1.5h-1.5zM355.7 528.4h1.5v1.5h-1.5zM359.6 518.5h1.5v1.5h-1.5zM346.4 528.7h1.5v1.5h-1.5zM358.6 487.8h1.5v1.5h-1.5zM365.7 525.5h1.5v1.5h-1.5zM357.9 517.4h1.5v1.5h-1.5zM335.6 515.7h1.5v1.5h-1.5zM365.6 524.4h1.5v1.5h-1.5zM360.9 512.3h1.5v1.5h-1.5zM355.9 510.3h1.5v1.5h-1.5zM358.2 479.8h1.5v1.5h-1.5zM373.1 523.8h1.5v1.5h-1.5zM347.5 530.3h1.5v1.5h-1.5zM349.7 514.5h1.5v1.5h-1.5zM360.1 495.2h1.5v1.5h-1.5zM354.2 515.4h1.5v1.5h-1.5zM337.6 516.3h1.5v1.5h-1.5zM354.0 512.6h1.5v1.5h-1.5zM354.9 528.9h1.5v1.5h-1.5zM346.0 511.2h1.5v1.5h-1.5zM355.1 494.5h1.5v1.5h-1.5zM354.2 528.0h1.5v1.5h-1.5zM340.0 519.6h1.5v1.5h-1.5zM356.0 487.1h1.5v1.5h-1.5zM367.3 475.9h1.5v1.5h-1.5zM364.5 520.4h1.5v1.5h-1.5zM344.6 524.0h1.5v1.5h-1.5zM343.3 525.8h1.5v1.5h-1.5zM352.9 530.3h1.5v1.5h-1.5zM354.4 498.8h1.5v1.5h-1.5zM343.2 516.4h1.5v1.5h-1.5zM347.3 516.7h1.5v1.5h-1.5zM361.9 486.3h1.5v1.5h-1.5zM354.1 504.5h1.5v1.5h-1.5zM359.7 518.1h1.5v1.5h-1.5zM352.2 509.8h1.5v1.5h-1.5zM359.6 528.2h1.5v1.5h-1.5zM348.8 526.1h1.5v1.5h-1.5zM348.9 529.9h1.5v1.5h-1.5zM345.9 522.4h1.5v1.5h-1.5zM339.2 521.8h1.5v1.5h-1.5zM349.7 492.8h1.5v1.5h-1.5zM343.0 529.6h1.5v1.5h-1.5zM349.2 523.1h1.5v1.5h-1.5zM353.4 530.4h1.5v1.5h-1.5zM353.6 513.1h1.5v1.5h-1.5zM355.2 522.8h1.5v1.5h-1.5zM349.7 505.5h1.5v1.5h-1.5zM352.0 527.0h1.5v1.5h-1.5zM360.5 529.5h1.5v1.5h-1.5zM351.4 515.5h1.5v1.5h-1.5zM352.6 507.6h1.5v1.5h-1.5zM335.4 522.6h1.5v1.5h-1.5zM344.8 511.9h1.5v1.5h-1.5zM360.0 496.0h1.5v1.5h-1.5zM346.4 520.5h1.5v1.5h-1.5zM344.9 520.6h1.5v1.5h-1.5zM359.1 521.9h1.5v1.5h-1.5zM343.9 524.6h1.5v1.5h-1.5zM359.3 494.6h1.5v1.5h-1.5zM351.7 487.1h1.5v1.5h-1.5zM348.0 500.5h1.5v1.5h-1.5zM338.1 497.0h1.5v1.5h-1.5zM361.6 448.2h1.5v1.5h-1.5zM339.7 515.1h1.5v1.5h-1.5zM343.8 490.4h1.5v1.5h-1.5zM357.9 523.6h1.5v1.5h-1.5zM343.7 526.4h1.5v1.5h-1.5zM355.9 509.1h1.5v1.5h-1.5zM352.1 510.0h1.5v1.5h-1.5zM350.5 513.4h1.5v1.5h-1.5zM345.0 495.8h1.5v1.5h-1.5zM347.8 498.6h1.5v1.5h-1.5zM354.3 512.2h1.5v1.5h-1.5zM345.5 521.0h1.5v1.5h-1.5zM356.8 525.5h1.5v1.5h-1.5zM354.0 510.5h1.5v1.5h-1.5zM356.1 482.8h1.5v1.5h-1.5zM354.0 498.5h1.5v1.5h-1.5zM358.1 524.2h1.5v1.5h-1.5zM355.0 517.0h1.5v1.5h-1.5zM354.6 517.1h1.5v1.5h-1.5zM346.0 517.6h1.5v1.5h-1.5zM340.3 519.3h1.5v1.5h-1.5zM352.7 529.0h1.5v1.5h-1.5zM359.0 469.7h1.5v1.5h-1.5zM345.9 528.8h1.5v1.5h-1.5zM341.3 497.8h1.5v1.5h-1.5zM348.5 490.8h1.5v1.5h-1.5zM354.9 473.2h1.5v1.5h-1.5zM358.3 521.0h1.5v1.5h-1.5zM350.1 528.7h1.5v1.5h-1.5zM344.1 525.8h1.5v1.5h-1.5zM351.9 511.8h1.5v1.5h-1.5zM357.1 489.3h1.5v1.5h-1.5zM352.0 486.4h1.5v1.5h-1.5zM359.4 518.4h1.5v1.5h-1.5zM348.8 518.4h1.5v1.5h-1.5zM358.4 498.3h1.5v1.5h-1.5zM363.7 509.1h1.5v1.5h-1.5zM345.4 528.7h1.5v1.5h-1.5zM346.3 495.1h1.5v1.5h-1.5zM356.9 510.7h1.5v1.5h-1.5zM374.1 505.9h1.5v1.5h-1.5zM355.9 514.0h1.5v1.5h-1.5zM352.2 525.8h1.5v1.5h-1.5zM361.5 514.7h1.5v1.5h-1.5zM351.6 513.5h1.5v1.5h-1.5zM341.1 524.6h1.5v1.5h-1.5zM345.7 521.5h1.5v1.5h-1.5zM361.7 527.3h1.5v1.5h-1.5zM340.6 507.9h1.5v1.5h-1.5zM342.4 527.5h1.5v1.5h-1.5zM358.1 510.7h1.5v1.5h-1.5zM353.4 502.6h1.5v1.5h-1.5zM360.8 504.2h1.5v1.5h-1.5zM345.0 529.2h1.5v1.5h-1.5zM347.2 519.9h1.5v1.5h-1.5zM349.9 519.8h1.5v1.5h-1.5zM343.7 520.0h1.5v1.5h-1.5zM350.7 524.8h1.5v1.5h-1.5zM351.2 515.0h1.5v1.5h-1.5zM358.4 524.2h1.5v1.5h-1.5zM351.7 527.5h1.5v1.5h-1.5zM349.6 509.9h1.5v1.5h-1.5zM355.8 505.5h1.5v1.5h-1.5zM360.1 497.8h1.5v1.5h-1.5zM359.6 525.8h1.5v1.5h-1.5zM354.3 500.3h1.5v1.5h-1.5zM349.7 515.8h1.5v1.5h-1.5zM343.2 526.8h1.5v1.5h-1.5zM352.8 489.5h1.5v1.5h-1.5zM352.2 516.5h1.5v1.5h-1.5zM363.8 523.0h1.5v1.5h-1.5zM353.9 511.8h1.5v1.5h-1.5zM357.6 528.9h1.5v1.5h-1.5zM361.5 508.9h1.5v1.5h-1.5zM339.3 528.2h1.5v1.5h-1.5zM347.8 500.8h1.5v1.5h-1.5zM350.7 517.9h1.5v1.5h-1.5zM353.2 522.6h1.5v1.5h-1.5zM344.4 525.8h1.5v1.5h-1.5zM358.3 517.5h1.5v1.5h-1.5zM358.7 498.4h1.5v1.5h-1.5zM355.9 479.9h1.5v1.5h-1.5zM357.1 529.5h1.5v1.5h-1.5zM344.7 513.1h1.5v1.5h-1.5zM360.3 514.8h1.5v1.5h-1.5zM348.1 527.4h1.5v1.5h-1.5zM339.2 527.6h1.5v1.5h-1.5zM353.2 514.7h1.5v1.5h-1.5zM355.3 498.0h1.5v1.5h-1.5zM347.6 512.7h1.5v1.5h-1.5zM340.8 506.0h1.5v1.5h-1.5zM344.3 500.8h1.5v1.5h-1.5zM351.3 522.9h1.5v1.5h-1.5zM334.6 493.9h1.5v1.5h-1.5zM359.5 516.6h1.5v1.5h-1.5zM359.3 519.4h1.5v1.5h-1.5zM351.1 508.9h1.5v1.5h-1.5zM359.7 515.3h1.5v1.5h-1.5zM351.2 523.2h1.5v1.5h-1.5zM344.4 501.8h1.5v1.5h-1.5zM356.8 526.8h1.5v1.5h-1.5zM345.9 484.8h1.5v1.5h-1.5zM342.5 523.3h1.5v1.5h-1.5zM345.5 511.1h1.5v1.5h-1.5zM360.5 526.3h1.5v1.5h-1.5zM350.2 526.7h1.5v1.5h-1.5zM372.0 517.0h1.5v1.5h-1.5zM347.8 509.1h1.5v1.5h-1.5zM356.6 509.7h1.5v1.5h-1.5zM350.8 520.4h1.5v1.5h-1.5zM358.2 524.9h1.5v1.5h-1.5zM346.4 508.2h1.5v1.5h-1.5zM352.0 481.9h1.5v1.5h-1.5zM344.1 523.2h1.5v1.5h-1.5zM337.1 513.0h1.5v1.5h-1.5zM352.8 488.5h1.5v1.5h-1.5zM344.3 520.6h1.5v1.5h-1.5zM343.3 510.4h1.5v1.5h-1.5zM356.4 520.1h1.5v1.5h-1.5zM351.2 529.7h1.5v1.5h-1.5zM355.0 515.3h1.5v1.5h-1.5zM364.4 495.8h1.5v1.5h-1.5zM353.6 485.9h1.5v1.5h-1.5zM355.5 514.7h1.5v1.5h-1.5zM344.0 521.9h1.5v1.5h-1.5zM358.2 529.9h1.5v1.5h-1.5zM345.0 525.7h1.5v1.5h-1.5zM356.9 482.5h1.5v1.5h-1.5zM350.9 496.4h1.5v1.5h-1.5zM353.0 512.6h1.5v1.5h-1.5zM369.3 514.0h1.5v1.5h-1.5zM347.8 519.1h1.5v1.5h-1.5zM350.0 486.5h1.5v1.5h-1.5zM353.1 489.1h1.5v1.5h-1.5zM351.1 525.1h1.5v1.5h-1.5zM339.6 513.1h1.5v1.5h-1.5zM356.9 487.2h1.5v1.5h-1.5zM358.8 520.0h1.5v1.5h-1.5zM364.5 489.8h1.5v1.5h-1.5zM348.4 471.9h1.5v1.5h-1.5zM343.6 498.9h1.5v1.5h-1.5zM356.9 523.8h1.5v1.5h-1.5zM345.2 518.3h1.5v1.5h-1.5zM352.3 503.7h1.5v1.5h-1.5zM353.7 514.5h1.5v1.5h-1.5zM349.2 482.6h1.5v1.5h-1.5zM357.3 485.8h1.5v1.5h-1.5zM345.9 465.4h1.5v1.5h-1.5zM369.0 529.8h1.5v1.5h-1.5zM357.8 490.6h1.5v1.5h-1.5zM348.0 514.8h1.5v1.5h-1.5zM345.6 516.4h1.5v1.5h-1.5zM351.1 525.6h1.5v1.5h-1.5zM349.1 516.7h1.5v1.5h-1.5zM346.6 525.2h1.5v1.5h-1.5zM359.2 499.3h1.5v1.5h-1.5zM344.8 494.6h1.5v1.5h-1.5zM356.3 502.3h1.5v1.5h-1.5zM352.5 499.5h1.5v1.5h-1.5zM357.8 503.2h1.5v1.5h-1.5zM347.8 471.8h1.5v1.5h-1.5zM367.3 510.7h1.5v1.5h-1.5zM352.9 498.2h1.5v1.5h-1.5zM366.4 507.1h1.5v1.5h-1.5zM349.1 512.1h1.5v1.5h-1.5zM361.8 512.9h1.5v1.5h-1.5zM351.6 528.5h1.5v1.5h-1.5zM364.1 472.4h1.5v1.5h-1.5zM351.1 516.1h1.5v1.5h-1.5zM348.0 494.2h1.5v1.5h-1.5zM356.6 519.1h1.5v1.5h-1.5zM355.0 457.2h1.5v1.5h-1.5zM353.2 489.8h1.5v1.5h-1.5zM359.9 508.8h1.5v1.5h-1.5zM363.9 524.1h1.5v1.5h-1.5zM359.5 516.2h1.5v1.5h-1.5zM368.6 488.0h1.5v1.5h-1.5zM348.1 473.9h1.5v1.5h-1.5zM348.5 512.0h1.5v1.5h-1.5zM355.3 505.6h1.5v1.5h-1.5zM354.0 470.5h1.5v1.5h-1.5zM348.7 506.7h1.5v1.5h-1.5zM351.9 519.9h1.5v1.5h-1.5zM363.7 500.0h1.5v1.5h-1.5zM358.9 500.9h1.5v1.5h-1.5zM346.8 506.5h1.5v1.5h-1.5zM340.5 502.7h1.5v1.5h-1.5zM344.7 524.9h1.5v1.5h-1.5zM353.7 527.2h1.5v1.5h-1.5zM347.0 522.0h1.5v1.5h-1.5zM346.6 471.5h1.5v1.5h-1.5zM357.5 496.2h1.5v1.5h-1.5zM350.5 465.8h1.5v1.5h-1.5zM349.8 506.4h1.5v1.5h-1.5zM354.0 524.3h1.5v1.5h-1.5zM362.6 524.9h1.5v1.5h-1.5zM354.6 504.0h1.5v1.5h-1.5zM357.3 514.6h1.5v1.5h-1.5zM353.0 522.2h1.5v1.5h-1.5zM363.3 522.3h1.5v1.5h-1.5zM343.9 502.2h1.5v1.5h-1.5zM344.6 492.8h1.5v1.5h-1.5zM348.9 517.5h1.5v1.5h-1.5zM366.6 500.8h1.5v1.5h-1.5zM363.3 517.9h1.5v1.5h-1.5zM344.8 526.0h1.5v1.5h-1.5zM349.3 502.9h1.5v1.5h-1.5zM356.3 498.8h1.5v1.5h-1.5zM353.0 521.3h1.5v1.5h-1.5zM358.7 459.4h1.5v1.5h-1.5zM349.0 518.6h1.5v1.5h-1.5zM340.9 521.4h1.5v1.5h-1.5zM356.8 488.2h1.5v1.5h-1.5zM361.2 490.1h1.5v1.5h-1.5zM341.7 489.3h1.5v1.5h-1.5zM339.3 504.0h1.5v1.5h-1.5zM349.3 528.8h1.5v1.5h-1.5zM339.4 528.4h1.5v1.5h-1.5zM355.5 517.5h1.5v1.5h-1.5zM344.4 519.0h1.5v1.5h-1.5zM357.7 519.8h1.5v1.5h-1.5zM350.1 489.1h1.5v1.5h-1.5zM353.4 530.1h1.5v1.5h-1.5zM357.1 529.6h1.5v1.5h-1.5zM351.1 528.8h1.5v1.5h-1.5zM345.4 513.9h1.5v1.5h-1.5zM358.9 516.0h1.5v1.5h-1.5zM342.2 519.0h1.5v1.5h-1.5zM362.3 506.3h1.5v1.5h-1.5zM348.2 515.3h1.5v1.5h-1.5zM348.8 483.4h1.5v1.5h-1.5zM355.3 518.7h1.5v1.5h-1.5zM355.4 521.6h1.5v1.5h-1.5zM356.0 528.4h1.5v1.5h-1.5zM342.2 491.9h1.5v1.5h-1.5zM346.3 507.2h1.5v1.5h-1.5zM354.9 528.1h1.5v1.5h-1.5zM355.1 516.6h1.5v1.5h-1.5zM351.9 528.9h1.5v1.5h-1.5zM361.6 526.5h1.5v1.5h-1.5zM351.3 510.2h1.5v1.5h-1.5zM360.1 459.6h1.5v1.5h-1.5zM354.9 515.4h1.5v1.5h-1.5zM351.2 507.1h1.5v1.5h-1.5zM355.6 506.7h1.5v1.5h-1.5zM356.9 497.6h1.5v1.5h-1.5zM346.5 514.3h1.5v1.5h-1.5zM355.8 497.3h1.5v1.5h-1.5zM363.7 524.9h1.5v1.5h-1.5zM350.5 512.2h1.5v1.5h-1.5zM353.5 526.4h1.5v1.5h-1.5zM350.9 514.2h1.5v1.5h-1.5zM358.7 527.6h1.5v1.5h-1.5zM338.1 519.3h1.5v1.5h-1.5zM363.7 525.3h1.5v1.5h-1.5zM356.1 520.1h1.5v1.5h-1.5zM354.5 522.0h1.5v1.5h-1.5zM355.1 518.1h1.5v1.5h-1.5zM357.2 517.1h1.5v1.5h-1.5zM360.9 524.6h1.5v1.5h-1.5zM353.7 513.6h1.5v1.5h-1.5zM362.9 502.7h1.5v1.5h-1.5zM356.5 521.6h1.5v1.5h-1.5zM348.2 510.4h1.5v1.5h-1.5zM358.0 527.1h1.5v1.5h-1.5zM366.8 495.5h1.5v1.5h-1.5zM350.4 520.6h1.5v1.5h-1.5zM355.6 522.5h1.5v1.5h-1.5zM349.7 494.2h1.5v1.5h-1.5zM352.5 498.6h1.5v1.5h-1.5zM366.2 486.6h1.5v1.5h-1.5zM357.4 527.4h1.5v1.5h-1.5zM348.3 514.6h1.5v1.5h-1.5zM353.0 515.1h1.5v1.5h-1.5zM363.3 462.4h1.5v1.5h-1.5zM341.4 498.3h1.5v1.5h-1.5zM353.3 504.6h1.5v1.5h-1.5zM343.8 494.2h1.5v1.5h-1.5zM347.4 512.6h1.5v1.5h-1.5zM355.9 499.1h1.5v1.5h-1.5zM354.8 503.7h1.5v1.5h-1.5zM343.0 488.3h1.5v1.5h-1.5zM346.8 528.9h1.5v1.5h-1.5zM348.1 525.2h1.5v1.5h-1.5zM355.7 506.6h1.5v1.5h-1.5zM352.3 521.1h1.5v1.5h-1.5zM358.6 529.5h1.5v1.5h-1.5zM354.9 513.2h1.5v1.5h-1.5zM355.4 513.5h1.5v1.5h-1.5zM360.7 516.3h1.5v1.5h-1.5zM354.9 477.8h1.5v1.5h-1.5zM340.8 521.2h1.5v1.5h-1.5zM348.0 512.2h1.5v1.5h-1.5zM362.5 508.9h1.5v1.5h-1.5zM360.0 524.6h1.5v1.5h-1.5zM341.6 524.7h1.5v1.5h-1.5zM347.7 501.4h1.5v1.5h-1.5zM367.1 527.2h1.5v1.5h-1.5zM360.9 526.3h1.5v1.5h-1.5zM361.1 527.1h1.5v1.5h-1.5zM341.5 525.1h1.5v1.5h-1.5zM343.2 512.2h1.5v1.5h-1.5zM348.5 525.5h1.5v1.5h-1.5zM343.2 518.1h1.5v1.5h-1.5zM353.4 523.5h1.5v1.5h-1.5zM345.1 512.0h1.5v1.5h-1.5zM355.9 510.0h1.5v1.5h-1.5zM351.1 519.7h1.5v1.5h-1.5zM348.7 517.5h1.5v1.5h-1.5zM357.1 512.6h1.5v1.5h-1.5zM355.7 501.8h1.5v1.5h-1.5zM353.5 530.2h1.5v1.5h-1.5zM350.1 502.3h1.5v1.5h-1.5zM352.3 511.9h1.5v1.5h-1.5zM339.3 524.4h1.5v1.5h-1.5zM339.1 500.1h1.5v1.5h-1.5zM347.9 518.2h1.5v1.5h-1.5zM353.6 506.1h1.5v1.5h-1.5zM355.4 516.2h1.5v1.5h-1.5zM345.8 518.9h1.5v1.5h-1.5zM349.2 506.2h1.5v1.5h-1.5zM343.9 524.3h1.5v1.5h-1.5zM352.3 529.7h1.5v1.5h-1.5zM352.0 526.7h1.5v1.5h-1.5zM352.3 469.4h1.5v1.5h-1.5zM354.5 528.0h1.5v1.5h-1.5zM359.8 529.8h1.5v1.5h-1.5zM357.3 529.8h1.5v1.5h-1.5zM344.6 525.7h1.5v1.5h-1.5zM358.4 524.5h1.5v1.5h-1.5zM355.2 527.1h1.5v1.5h-1.5zM353.3 513.5h1.5v1.5h-1.5zM364.2 521.3h1.5v1.5h-1.5zM351.9 509.9h1.5v1.5h-1.5zM350.7 524.3h1.5v1.5h-1.5zM358.5 525.2h1.5v1.5h-1.5zM354.8 526.3h1.5v1.5h-1.5zM350.8 529.7h1.5v1.5h-1.5zM358.4 516.7h1.5v1.5h-1.5zM367.1 527.6h1.5v1.5h-1.5zM363.8 518.6h1.5v1.5h-1.5zM348.9 501.0h1.5v1.5h-1.5zM352.0 508.2h1.5v1.5h-1.5zM353.8 515.6h1.5v1.5h-1.5zM340.9 525.9h1.5v1.5h-1.5zM364.5 439.1h1.5v1.5h-1.5zM342.7 516.2h1.5v1.5h-1.5zM344.1 529.4h1.5v1.5h-1.5zM353.5 494.1h1.5v1.5h-1.5zM358.3 519.3h1.5v1.5h-1.5zM356.3 481.8h1.5v1.5h-1.5zM346.7 523.0h1.5v1.5h-1.5zM348.2 525.0h1.5v1.5h-1.5zM353.5 508.4h1.5v1.5h-1.5zM359.1 529.3h1.5v1.5h-1.5zM335.3 519.2h1.5v1.5h-1.5zM354.4 495.3h1.5v1.5h-1.5zM361.4 526.2h1.5v1.5h-1.5zM365.0 464.0h1.5v1.5h-1.5zM357.4 490.2h1.5v1.5h-1.5zM347.6 511.2h1.5v1.5h-1.5zM359.3 501.4h1.5v1.5h-1.5zM365.6 485.7h1.5v1.5h-1.5zM348.3 500.0h1.5v1.5h-1.5zM347.7 530.1h1.5v1.5h-1.5zM351.6 523.8h1.5v1.5h-1.5zM349.8 505.4h1.5v1.5h-1.5zM338.6 523.9h1.5v1.5h-1.5zM336.4 529.9h1.5v1.5h-1.5zM343.7 516.9h1.5v1.5h-1.5zM348.3 520.9h1.5v1.5h-1.5zM355.7 507.7h1.5v1.5h-1.5zM349.0 523.8h1.5v1.5h-1.5zM353.9 504.5h1.5v1.5h-1.5zM362.1 527.3h1.5v1.5h-1.5zM373.3 526.1h1.5v1.5h-1.5zM358.7 504.0h1.5v1.5h-1.5zM346.0 494.0h1.5v1.5h-1.5zM359.5 493.3h1.5v1.5h-1.5zM352.7 519.7h1.5v1.5h-1.5zM355.0 478.9h1.5v1.5h-1.5zM359.3 498.0h1.5v1.5h-1.5zM358.0 524.2h1.5v1.5h-1.5zM343.6 498.9h1.5v1.5h-1.5zM344.8 523.3h1.5v1.5h-1.5zM354.5 501.5h1.5v1.5h-1.5zM367.1 525.6h1.5v1.5h-1.5zM356.8 502.2h1.5v1.5h-1.5zM350.1 509.6h1.5v1.5h-1.5zM349.3 508.7h1.5v1.5h-1.5zM347.8 520.7h1.5v1.5h-1.5zM343.7 501.0h1.5v1.5h-1.5zM348.8 529.0h1.5v1.5h-1.5zM353.3 521.0h1.5v1.5h-1.5zM347.3 525.2h1.5v1.5h-1.5zM352.7 499.1h1.5v1.5h-1.5zM350.7 516.0h1.5v1.5h-1.5zM351.1 492.9h1.5v1.5h-1.5zM349.6 520.3h1.5v1.5h-1.5zM352.7 530.1h1.5v1.5h-1.5zM334.4 505.1h1.5v1.5h-1.5zM354.4 507.3h1.5v1.5h-1.5zM353.3 528.5h1.5v1.5h-1.5zM348.4 511.0h1.5v1.5h-1.5zM353.8 514.1h1.5v1.5h-1.5zM347.8 514.4h1.5v1.5h-1.5zM353.5 530.2h1.5v1.5h-1.5zM346.6 506.5h1.5v1.5h-1.5zM357.3 499.5h1.5v1.5h-1.5zM355.0 517.8h1.5v1.5h-1.5zM342.7 519.7h1.5v1.5h-1.5zM347.8 525.5h1.5v1.5h-1.5zM357.4 520.8h1.5v1.5h-1.5zM355.4 505.4h1.5v1.5h-1.5zM353.6 514.4h1.5v1.5h-1.5zM347.9 511.1h1.5v1.5h-1.5zM353.7 506.5h1.5v1.5h-1.5zM354.6 516.9h1.5v1.5h-1.5zM352.5 514.2h1.5v1.5h-1.5zM346.9 514.8h1.5v1.5h-1.5zM351.0 479.4h1.5v1.5h-1.5zM349.2 473.6h1.5v1.5h-1.5zM344.6 516.8h1.5v1.5h-1.5zM345.0 512.6h1.5v1.5h-1.5zM347.0 512.2h1.5v1.5h-1.5zM342.3 510.5h1.5v1.5h-1.5zM355.8 526.4h1.5v1.5h-1.5zM357.8 501.2h1.5v1.5h-1.5zM358.6 520.7h1.5v1.5h-1.5zM347.2 522.7h1.5v1.5h-1.5zM347.4 510.0h1.5v1.5h-1.5zM354.3 517.4h1.5v1.5h-1.5zM349.4 524.2h1.5v1.5h-1.5zM350.4 524.6h1.5v1.5h-1.5zM350.4 522.3h1.5v1.5h-1.5zM341.5 523.2h1.5v1.5h-1.5zM361.2 526.5h1.5v1.5h-1.5zM342.7 507.5h1.5v1.5h-1.5zM341.8 497.0h1.5v1.5h-1.5zM358.1 525.6h1.5v1.5h-1.5zM345.0 503.2h1.5v1.5h-1.5zM359.9 478.9h1.5v1.5h-1.5zM354.9 492.8h1.5v1.5h-1.5zM349.9 528.0h1.5v1.5h-1.5zM344.4 524.2h1.5v1.5h-1.5zM353.2 511.7h1.5v1.5h-1.5zM351.8 487.3h1.5v1.5h-1.5zM344.3 524.0h1.5v1.5h-1.5zM346.6 493.9h1.5v1.5h-1.5zM352.1 487.1h1.5v1.5h-1.5zM355.5 498.3h1.5v1.5h-1.5zM358.7 509.2h1.5v1.5h-1.5zM350.0 512.7h1.5v1.5h-1.5zM362.3 502.7h1.5v1.5h-1.5zM357.4 528.8h1.5v1.5h-1.5zM346.5 486.4h1.5v1.5h-1.5zM356.5 475.2h1.5v1.5h-1.5zM359.9 514.9h1.5v1.5h-1.5zM340.4 517.9h1.5v1.5h-1.5zM358.8 523.4h1.5v1.5h-1.5zM355.3 510.0h1.5v1.5h-1.5zM358.8 510.7h1.5v1.5h-1.5zM353.7 495.7h1.5v1.5h-1.5zM349.6 528.3h1.5v1.5h-1.5zM349.0 515.5h1.5v1.5h-1.5zM357.4 507.5h1.5v1.5h-1.5zM357.4 510.4h1.5v1.5h-1.5zM343.4 510.1h1.5v1.5h-1.5zM360.7 509.0h1.5v1.5h-1.5zM360.5 518.5h1.5v1.5h-1.5zM359.5 465.3h1.5v1.5h-1.5zM347.6 499.4h1.5v1.5h-1.5zM361.1 527.4h1.5v1.5h-1.5zM356.0 515.6h1.5v1.5h-1.5zM358.8 511.3h1.5v1.5h-1.5zM352.2 510.0h1.5v1.5h-1.5zM349.6 523.6h1.5v1.5h-1.5zM347.7 511.5h1.5v1.5h-1.5zM348.4 528.0h1.5v1.5h-1.5zM358.6 521.8h1.5v1.5h-1.5zM347.3 510.7h1.5v1.5h-1.5zM348.3 525.8h1.5v1.5h-1.5zM354.7 487.3h1.5v1.5h-1.5zM350.7 510.5h1.5v1.5h-1.5zM338.6 517.3h1.5v1.5h-1.5zM348.1 510.8h1.5v1.5h-1.5zM363.4 503.6h1.5v1.5h-1.5zM357.0 517.8h1.5v1.5h-1.5zM345.7 513.9h1.5v1.5h-1.5zM345.0 529.1h1.5v1.5h-1.5zM349.4 508.1h1.5v1.5h-1.5zM354.0 486.8h1.5v1.5h-1.5zM347.2 494.9h1.5v1.5h-1.5zM355.5 511.2h1.5v1.5h-1.5zM343.0 503.2h1.5v1.5h-1.5zM360.6 516.4h1.5v1.5h-1.5zM334.5 500.9h1.5v1.5h-1.5zM354.2 501.4h1.5v1.5h-1.5zM355.6 524.6h1.5v1.5h-1.5zM353.2 525.4h1.5v1.5h-1.5zM352.1 492.6h1.5v1.5h-1.5zM354.4 525.6h1.5v1.5h-1.5zM353.2 524.7h1.5v1.5h-1.5zM353.1 507.8h1.5v1.5h-1.5zM363.2 526.5h1.5v1.5h-1.5zM359.5 505.8h1.5v1.5h-1.5zM358.8 506.9h1.5v1.5h-1.5zM348.2 510.0h1.5v1.5h-1.5zM349.2 517.5h1.5v1.5h-1.5zM359.7 514.8h1.5v1.5h-1.5zM345.4 523.9h1.5v1.5h-1.5zM359.4 523.4h1.5v1.5h-1.5zM343.4 477.3h1.5v1.5h-1.5zM366.9 468.5h1.5v1.5h-1.5zM360.9 515.9h1.5v1.5h-1.5zM348.8 511.3h1.5v1.5h-1.5zM338.7 489.6h1.5v1.5h-1.5zM352.2 528.5h1.5v1.5h-1.5zM360.6 525.0h1.5v1.5h-1.5zM356.6 528.1h1.5v1.5h-1.5zM350.7 524.5h1.5v1.5h-1.5zM366.4 522.6h1.5v1.5h-1.5zM356.2 468.9h1.5v1.5h-1.5zM355.3 515.0h1.5v1.5h-1.5zM350.5 527.0h1.5v1.5h-1.5zM356.4 530.3h1.5v1.5h-1.5zM370.2 479.9h1.5v1.5h-1.5zM355.6 517.0h1.5v1.5h-1.5zM354.0 483.4h1.5v1.5h-1.5zM365.5 525.4h1.5v1.5h-1.5zM360.6 527.9h1.5v1.5h-1.5zM349.0 509.9h1.5v1.5h-1.5zM354.9 505.0h1.5v1.5h-1.5zM342.5 517.3h1.5v1.5h-1.5zM356.8 495.0h1.5v1.5h-1.5zM346.6 512.1h1.5v1.5h-1.5zM348.9 528.7h1.5v1.5h-1.5zM348.7 528.6h1.5v1.5h-1.5zM347.7 492.0h1.5v1.5h-1.5zM364.0 497.7h1.5v1.5h-1.5zM362.5 506.9h1.5v1.5h-1.5zM350.6 528.2h1.5v1.5h-1.5zM353.2 528.7h1.5v1.5h-1.5zM363.9 497.8h1.5v1.5h-1.5zM350.6 493.9h1.5v1.5h-1.5zM349.5 528.8h1.5v1.5h-1.5zM346.8 529.7h1.5v1.5h-1.5zM363.1 484.9h1.5v1.5h-1.5zM352.6 507.0h1.5v1.5h-1.5zM349.6 520.0h1.5v1.5h-1.5zM346.3 529.5h1.5v1.5h-1.5zM359.0 525.2h1.5v1.5h-1.5zM347.3 514.8h1.5v1.5h-1.5zM349.0 522.8h1.5v1.5h-1.5zM341.1 511.5h1.5v1.5h-1.5zM345.0 529.3h1.5v1.5h-1.5zM349.0 521.8h1.5v1.5h-1.5zM349.2 479.7h1.5v1.5h-1.5zM342.2 484.8h1.5v1.5h-1.5zM348.3 530.2h1.5v1.5h-1.5zM351.5 515.8h1.5v1.5h-1.5zM334.7 523.5h1.5v1.5h-1.5zM356.4 510.5h1.5v1.5h-1.5zM350.6 518.9h1.5v1.5h-1.5zM343.3 519.9h1.5v1.5h-1.5zM350.6 521.6h1.5v1.5h-1.5zM355.4 526.7h1.5v1.5h-1.5zM352.4 526.4h1.5v1.5h-1.5zM352.7 507.5h1.5v1.5h-1.5zM352.5 527.6h1.5v1.5h-1.5zM356.8 505.8h1.5v1.5h-1.5zM343.2 508.9h1.5v1.5h-1.5zM348.4 497.6h1.5v1.5h-1.5zM355.0 504.7h1.5v1.5h-1.5zM352.6 518.0h1.5v1.5h-1.5zM345.2 510.1h1.5v1.5h-1.5zM350.5 512.4h1.5v1.5h-1.5zM347.7 521.7h1.5v1.5h-1.5zM352.5 523.8h1.5v1.5h-1.5zM341.2 527.6h1.5v1.5h-1.5zM341.4 523.1h1.5v1.5h-1.5zM342.6 527.4h1.5v1.5h-1.5zM351.5 478.4h1.5v1.5h-1.5zM369.1 495.6h1.5v1.5h-1.5zM359.0 507.2h1.5v1.5h-1.5zM360.7 495.9h1.5v1.5h-1.5zM352.5 510.0h1.5v1.5h-1.5zM363.2 526.4h1.5v1.5h-1.5zM354.8 529.2h1.5v1.5h-1.5zM352.8 500.3h1.5v1.5h-1.5zM359.7 507.4h1.5v1.5h-1.5zM344.1 507.9h1.5v1.5h-1.5zM337.5 482.3h1.5v1.5h-1.5zM344.3 505.1h1.5v1.5h-1.5zM361.9 517.1h1.5v1.5h-1.5zM358.5 500.3h1.5v1.5h-1.5zM353.6 511.3h1.5v1.5h-1.5zM350.8 489.6h1.5v1.5h-1.5zM351.2 523.3h1.5v1.5h-1.5zM355.0 523.1h1.5v1.5h-1.5zM346.5 514.6h1.5v1.5h-1.5zM357.6 498.5h1.5v1.5h-1.5zM345.8 524.1h1.5v1.5h-1.5zM361.5 526.5h1.5v1.5h-1.5zM350.1 509.9h1.5v1.5h-1.5zM346.1 521.9h1.5v1.5h-1.5zM350.4 502.3h1.5v1.5h-1.5zM346.1 481.4h1.5v1.5h-1.5zM351.4 528.8h1.5v1.5h-1.5zM340.1 528.0h1.5v1.5h-1.5zM349.0 503.5h1.5v1.5h-1.5zM352.9 483.5h1.5v1.5h-1.5zM354.9 501.0h1.5v1.5h-1.5zM349.7 506.6h1.5v1.5h-1.5zM360.6 492.0h1.5v1.5h-1.5zM350.9 524.8h1.5v1.5h-1.5zM350.5 509.4h1.5v1.5h-1.5zM361.7 505.5h1.5v1.5h-1.5zM352.3 501.3h1.5v1.5h-1.5zM346.0 528.5h1.5v1.5h-1.5zM352.6 495.7h1.5v1.5h-1.5zM351.2 521.9h1.5v1.5h-1.5zM358.3 499.5h1.5v1.5h-1.5zM348.3 520.3h1.5v1.5h-1.5zM358.2 516.1h1.5v1.5h-1.5zM349.2 521.6h1.5v1.5h-1.5zM358.7 520.9h1.5v1.5h-1.5zM364.5 483.6h1.5v1.5h-1.5zM351.8 495.2h1.5v1.5h-1.5zM351.6 510.7h1.5v1.5h-1.5zM359.7 505.1h1.5v1.5h-1.5zM342.3 524.8h1.5v1.5h-1.5zM347.6 512.9h1.5v1.5h-1.5zM346.9 530.3h1.5v1.5h-1.5zM338.3 530.3h1.5v1.5h-1.5zM332.6 512.2h1.5v1.5h-1.5zM349.5 501.8h1.5v1.5h-1.5zM358.5 514.3h1.5v1.5h-1.5zM360.9 512.1h1.5v1.5h-1.5zM333.7 492.4h1.5v1.5h-1.5zM351.3 489.4h1.5v1.5h-1.5zM361.4 520.9h1.5v1.5h-1.5zM346.4 520.3h1.5v1.5h-1.5zM354.7 524.3h1.5v1.5h-1.5zM352.4 512.6h1.5v1.5h-1.5zM356.7 522.1h1.5v1.5h-1.5zM360.8 493.6h1.5v1.5h-1.5zM357.1 525.2h1.5v1.5h-1.5zM349.8 504.0h1.5v1.5h-1.5zM357.1 503.7h1.5v1.5h-1.5zM347.8 508.7h1.5v1.5h-1.5zM358.9 496.3h1.5v1.5h-1.5zM360.2 527.0h1.5v1.5h-1.5zM358.8 487.8h1.5v1.5h-1.5zM343.6 512.5h1.5v1.5h-1.5zM355.4 502.5h1.5v1.5h-1.5zM354.9 512.7h1.5v1.5h-1.5zM358.3 499.6h1.5v1.5h-1.5zM348.3 523.4h1.5v1.5h-1.5zM351.8 517.1h1.5v1.5h-1.5zM361.9 509.2h1.5v1.5h-1.5zM348.3 519.4h1.5v1.5h-1.5zM358.5 519.2h1.5v1.5h-1.5zM353.4 492.6h1.5v1.5h-1.5zM365.6 504.2h1.5v1.5h-1.5zM354.6 523.7h1.5v1.5h-1.5zM341.4 516.2h1.5v1.5h-1.5zM350.5 527.1h1.5v1.5h-1.5zM354.1 519.8h1.5v1.5h-1.5zM361.0 486.7h1.5v1.5h-1.5zM356.9 523.5h1.5v1.5h-1.5zM350.4 509.7h1.5v1.5h-1.5zM343.7 493.3h1.5v1.5h-1.5zM352.6 514.6h1.5v1.5h-1.5zM351.5 506.4h1.5v1.5h-1.5zM361.5 495.8h1.5v1.5h-1.5zM358.7 499.5h1.5v1.5h-1.5zM342.8 519.0h1.5v1.5h-1.5zM336.5 529.2h1.5v1.5h-1.5zM349.6 528.7h1.5v1.5h-1.5zM354.2 502.9h1.5v1.5h-1.5zM345.7 505.0h1.5v1.5h-1.5zM348.8 518.6h1.5v1.5h-1.5zM360.5 521.0h1.5v1.5h-1.5zM357.4 502.3h1.5v1.5h-1.5zM340.6 506.5h1.5v1.5h-1.5zM354.8 516.2h1.5v1.5h-1.5zM353.5 488.7h1.5v1.5h-1.5zM351.0 528.5h1.5v1.5h-1.5zM356.4 505.7h1.5v1.5h-1.5zM369.4 485.4h1.5v1.5h-1.5zM354.0 519.4h1.5v1.5h-1.5zM347.4 510.5h1.5v1.5h-1.5zM349.0 527.0h1.5v1.5h-1.5zM357.3 525.6h1.5v1.5h-1.5zM365.7 530.1h1.5v1.5h-1.5zM356.6 504.9h1.5v1.5h-1.5zM356.1 524.1h1.5v1.5h-1.5zM354.2 501.7h1.5v1.5h-1.5zM349.4 529.4h1.5v1.5h-1.5zM352.9 524.0h1.5v1.5h-1.5zM344.1 467.9h1.5v1.5h-1.5zM357.5 517.6h1.5v1.5h-1.5zM355.7 480.3h1.5v1.5h-1.5zM353.7 522.5h1.5v1.5h-1.5zM346.5 516.3h1.5v1.5h-1.5zM350.6 509.7h1.5v1.5h-1.5zM348.5 499.3h1.5v1.5h-1.5zM350.5 526.7h1.5v1.5h-1.5zM354.9 517.7h1.5v1.5h-1.5zM358.8 529.7h1.5v1.5h-1.5zM361.1 510.7h1.5v1.5h-1.5zM345.4 517.2h1.5v1.5h-1.5zM350.2 516.3h1.5v1.5h-1.5zM344.9 510.0h1.5v1.5h-1.5zM361.0 517.4h1.5v1.5h-1.5zM346.6 514.3h1.5v1.5h-1.5zM361.7 520.1h1.5v1.5h-1.5zM349.0 522.3h1.5v1.5h-1.5zM359.5 510.5h1.5v1.5h-1.5zM348.7 524.5h1.5v1.5h-1.5zM350.9 482.1h1.5v1.5h-1.5zM353.3 484.7h1.5v1.5h-1.5zM353.1 525.5h1.5v1.5h-1.5zM351.5 486.9h1.5v1.5h-1.5zM357.0 519.4h1.5v1.5h-1.5zM360.7 524.3h1.5v1.5h-1.5zM358.4 497.3h1.5v1.5h-1.5zM349.2 529.6h1.5v1.5h-1.5zM339.8 527.8h1.5v1.5h-1.5zM353.2 518.5h1.5v1.5h-1.5zM333.0 513.2h1.5v1.5h-1.5zM357.1 485.1h1.5v1.5h-1.5zM356.7 507.9h1.5v1.5h-1.5zM344.1 495.3h1.5v1.5h-1.5zM356.5 505.1h1.5v1.5h-1.5zM347.9 513.1h1.5v1.5h-1.5zM361.2 499.6h1.5v1.5h-1.5zM347.2 479.2h1.5v1.5h-1.5zM346.8 528.7h1.5v1.5h-1.5zM348.0 491.0h1.5v1.5h-1.5zM354.1 511.8h1.5v1.5h-1.5zM345.4 514.1h1.5v1.5h-1.5zM367.9 505.1h1.5v1.5h-1.5zM349.9 517.1h1.5v1.5h-1.5zM364.5 509.2h1.5v1.5h-1.5zM350.5 513.7h1.5v1.5h-1.5zM350.3 527.8h1.5v1.5h-1.5zM347.6 515.6h1.5v1.5h-1.5zM347.3 511.3h1.5v1.5h-1.5zM355.5 522.1h1.5v1.5h-1.5zM360.7 515.1h1.5v1.5h-1.5zM353.2 502.5h1.5v1.5h-1.5zM346.4 486.7h1.5v1.5h-1.5zM353.9 528.2h1.5v1.5h-1.5zM347.1 525.3h1.5v1.5h-1.5zM334.1 508.8h1.5v1.5h-1.5zM353.3 522.0h1.5v1.5h-1.5zM348.1 526.1h1.5v1.5h-1.5zM352.8 498.6h1.5v1.5h-1.5zM349.7 521.8h1.5v1.5h-1.5zM350.7 526.8h1.5v1.5h-1.5zM363.1 517.2h1.5v1.5h-1.5zM359.0 516.7h1.5v1.5h-1.5zM362.9 523.8h1.5v1.5h-1.5zM353.9 507.8h1.5v1.5h-1.5zM354.0 520.7h1.5v1.5h-1.5zM364.6 505.3h1.5v1.5h-1.5zM348.2 527.0h1.5v1.5h-1.5zM354.8 504.4h1.5v1.5h-1.5zM353.4 503.3h1.5v1.5h-1.5zM354.5 514.1h1.5v1.5h-1.5zM356.6 499.3h1.5v1.5h-1.5zM353.3 511.1h1.5v1.5h-1.5zM358.0 499.3h1.5v1.5h-1.5zM346.7 499.3h1.5v1.5h-1.5zM355.9 526.3h1.5v1.5h-1.5zM345.3 506.1h1.5v1.5h-1.5zM359.8 514.9h1.5v1.5h-1.5zM359.2 515.7h1.5v1.5h-1.5zM351.0 501.5h1.5v1.5h-1.5zM349.0 505.6h1.5v1.5h-1.5zM352.3 514.3h1.5v1.5h-1.5zM356.2 518.3h1.5v1.5h-1.5zM342.1 469.0h1.5v1.5h-1.5zM345.6 512.2h1.5v1.5h-1.5zM358.9 528.5h1.5v1.5h-1.5zM351.0 493.4h1.5v1.5h-1.5zM343.7 527.0h1.5v1.5h-1.5zM337.2 530.2h1.5v1.5h-1.5zM349.4 493.1h1.5v1.5h-1.5zM340.4 493.9h1.5v1.5h-1.5zM353.3 523.0h1.5v1.5h-1.5zM351.8 517.0h1.5v1.5h-1.5zM364.9 501.4h1.5v1.5h-1.5zM343.8 514.0h1.5v1.5h-1.5zM356.7 522.3h1.5v1.5h-1.5zM344.2 521.3h1.5v1.5h-1.5zM345.3 508.0h1.5v1.5h-1.5zM350.9 520.0h1.5v1.5h-1.5zM346.6 504.9h1.5v1.5h-1.5zM364.7 486.0h1.5v1.5h-1.5zM352.0 513.1h1.5v1.5h-1.5zM347.2 504.1h1.5v1.5h-1.5zM368.1 527.5h1.5v1.5h-1.5zM346.9 494.7h1.5v1.5h-1.5zM349.7 516.2h1.5v1.5h-1.5zM350.9 522.3h1.5v1.5h-1.5zM347.0 517.3h1.5v1.5h-1.5zM356.4 484.7h1.5v1.5h-1.5zM360.4 502.0h1.5v1.5h-1.5zM343.5 527.1h1.5v1.5h-1.5zM348.9 489.2h1.5v1.5h-1.5zM349.7 516.0h1.5v1.5h-1.5zM342.7 491.4h1.5v1.5h-1.5zM343.3 527.6h1.5v1.5h-1.5zM349.7 512.6h1.5v1.5h-1.5zM346.1 526.4h1.5v1.5h-1.5zM357.8 503.5h1.5v1.5h-1.5zM353.4 484.6h1.5v1.5h-1.5zM354.1 528.9h1.5v1.5h-1.5zM345.9 524.6h1.5v1.5h-1.5zM348.1 510.3h1.5v1.5h-1.5zM354.8 526.9h1.5v1.5h-1.5zM356.0 519.6h1.5v1.5h-1.5zM351.6 501.1h1.5v1.5h-1.5zM355.8 521.4h1.5v1.5h-1.5zM350.4 504.5h1.5v1.5h-1.5zM344.2 527.0h1.5v1.5h-1.5zM354.2 509.8h1.5v1.5h-1.5zM349.3 523.5h1.5v1.5h-1.5zM340.6 525.2h1.5v1.5h-1.5zM357.8 507.1h1.5v1.5h-1.5zM354.7 492.1h1.5v1.5h-1.5zM348.9 494.2h1.5v1.5h-1.5zM362.2 525.6h1.5v1.5h-1.5zM358.7 521.2h1.5v1.5h-1.5zM347.7 504.2h1.5v1.5h-1.5zM350.0 505.4h1.5v1.5h-1.5zM360.8 514.3h1.5v1.5h-1.5zM352.0 495.6h1.5v1.5h-1.5zM352.3 501.4h1.5v1.5h-1.5zM362.2 498.5h1.5v1.5h-1.5zM360.0 510.4h1.5v1.5h-1.5zM365.0 506.7h1.5v1.5h-1.5zM342.1 523.9h1.5v1.5h-1.5zM351.7 512.7h1.5v1.5h-1.5zM348.4 517.2h1.5v1.5h-1.5zM362.1 504.6h1.5v1.5h-1.5zM362.8 484.7h1.5v1.5h-1.5zM348.9 467.3h1.5v1.5h-1.5zM353.2 526.3h1.5v1.5h-1.5zM358.5 515.2h1.5v1.5h-1.5zM355.7 517.7h1.5v1.5h-1.5zM358.9 530.0h1.5v1.5h-1.5zM365.3 523.3h1.5v1.5h-1.5zM353.0 512.3h1.5v1.5h-1.5zM344.8 501.8h1.5v1.5h-1.5zM351.5 511.5h1.5v1.5h-1.5zM352.0 514.3h1.5v1.5h-1.5zM349.7 497.3h1.5v1.5h-1.5zM356.9 491.6h1.5v1.5h-1.5zM357.1 525.5h1.5v1.5h-1.5zM358.3 527.2h1.5v1.5h-1.5zM355.4 498.8h1.5v1.5h-1.5zM345.4 528.5h1.5v1.5h-1.5zM349.9 517.6h1.5v1.5h-1.5zM346.5 519.0h1.5v1.5h-1.5zM354.4 514.5h1.5v1.5h-1.5zM351.4 510.4h1.5v1.5h-1.5zM352.0 515.4h1.5v1.5h-1.5zM355.8 507.6h1.5v1.5h-1.5zM350.3 520.1h1.5v1.5h-1.5zM359.4 513.6h1.5v1.5h-1.5zM359.2 508.6h1.5v1.5h-1.5zM345.9 497.7h1.5v1.5h-1.5zM361.0 520.1h1.5v1.5h-1.5zM350.0 486.7h1.5v1.5h-1.5zM347.4 514.7h1.5v1.5h-1.5zM343.8 499.4h1.5v1.5h-1.5zM354.5 502.0h1.5v1.5h-1.5zM360.3 514.7h1.5v1.5h-1.5zM342.1 516.3h1.5v1.5h-1.5zM355.1 512.8h1.5v1.5h-1.5zM356.6 506.8h1.5v1.5h-1.5zM356.5 487.6h1.5v1.5h-1.5zM355.1 506.8h1.5v1.5h-1.5zM349.1 491.7h1.5v1.5h-1.5zM358.2 500.6h1.5v1.5h-1.5zM354.5 475.5h1.5v1.5h-1.5zM354.3 511.3h1.5v1.5h-1.5zM350.5 516.4h1.5v1.5h-1.5zM351.9 515.4h1.5v1.5h-1.5zM356.3 522.3h1.5v1.5h-1.5zM359.2 506.8h1.5v1.5h-1.5zM339.5 513.4h1.5v1.5h-1.5zM343.7 524.0h1.5v1.5h-1.5zM341.4 516.1h1.5v1.5h-1.5zM348.7 503.2h1.5v1.5h-1.5zM347.8 507.4h1.5v1.5h-1.5zM353.6 511.1h1.5v1.5h-1.5zM350.2 524.6h1.5v1.5h-1.5zM361.1 527.7h1.5v1.5h-1.5zM348.1 487.5h1.5v1.5h-1.5zM347.5 518.8h1.5v1.5h-1.5zM346.7 528.4h1.5v1.5h-1.5zM350.2 497.3h1.5v1.5h-1.5zM353.3 526.5h1.5v1.5h-1.5zM346.1 518.4h1.5v1.5h-1.5zM343.1 506.0h1.5v1.5h-1.5zM353.4 508.8h1.5v1.5h-1.5zM348.6 521.2h1.5v1.5h-1.5zM345.7 525.9h1.5v1.5h-1.5zM350.4 504.4h1.5v1.5h-1.5zM354.4 512.7h1.5v1.5h-1.5zM365.8 516.8h1.5v1.5h-1.5zM363.0 516.4h1.5v1.5h-1.5zM346.3 503.4h1.5v1.5h-1.5zM349.2 491.6h1.5v1.5h-1.5zM339.2 494.3h1.5v1.5h-1.5zM339.9 505.2h1.5v1.5h-1.5zM358.2 507.5h1.5v1.5h-1.5zM351.2 497.7h1.5v1.5h-1.5zM342.4 524.8h1.5v1.5h-1.5zM347.7 525.8h1.5v1.5h-1.5zM348.8 499.1h1.5v1.5h-1.5zM347.7 526.8h1.5v1.5h-1.5zM361.9 529.0h1.5v1.5h-1.5zM339.3 491.1h1.5v1.5h-1.5zM349.1 514.5h1.5v1.5h-1.5zM353.8 506.9h1.5v1.5h-1.5zM355.3 495.7h1.5v1.5h-1.5zM337.6 524.6h1.5v1.5h-1.5zM353.4 526.4h1.5v1.5h-1.5zM348.3 511.9h1.5v1.5h-1.5zM341.6 513.5h1.5v1.5h-1.5zM357.3 497.1h1.5v1.5h-1.5zM372.9 521.3h1.5v1.5h-1.5zM358.9 506.4h1.5v1.5h-1.5zM350.2 517.7h1.5v1.5h-1.5zM340.5 525.3h1.5v1.5h-1.5zM358.0 523.9h1.5v1.5h-1.5zM360.1 489.8h1.5v1.5h-1.5zM344.8 506.2h1.5v1.5h-1.5zM358.4 516.4h1.5v1.5h-1.5zM340.2 495.3h1.5v1.5h-1.5zM343.7 511.6h1.5v1.5h-1.5zM342.9 525.8h1.5v1.5h-1.5zM357.2 500.0h1.5v1.5h-1.5zM361.7 525.4h1.5v1.5h-1.5zM352.6 522.9h1.5v1.5h-1.5zM355.5 501.7h1.5v1.5h-1.5zM362.9 508.4h1.5v1.5h-1.5zM355.7 495.5h1.5v1.5h-1.5zM361.0 522.2h1.5v1.5h-1.5zM361.8 514.4h1.5v1.5h-1.5zM345.3 523.5h1.5v1.5h-1.5zM366.9 493.4h1.5v1.5h-1.5zM360.2 529.1h1.5v1.5h-1.5zM353.3 496.4h1.5v1.5h-1.5zM357.8 492.5h1.5v1.5h-1.5zM354.5 520.0h1.5v1.5h-1.5zM353.9 512.2h1.5v1.5h-1.5zM345.7 525.3h1.5v1.5h-1.5zM349.7 512.5h1.5v1.5h-1.5zM350.2 499.0h1.5v1.5h-1.5zM359.6 530.3h1.5v1.5h-1.5zM355.6 474.8h1.5v1.5h-1.5zM355.1 517.4h1.5v1.5h-1.5zM351.6 521.2h1.5v1.5h-1.5zM360.8 503.4h1.5v1.5h-1.5zM346.4 510.1h1.5v1.5h-1.5zM358.8 523.6h1.5v1.5h-1.5zM349.7 525.8h1.5v1.5h-1.5zM356.7 520.1h1.5v1.5h-1.5zM363.0 520.9h1.5v1.5h-1.5zM357.8 513.3h1.5v1.5h-1.5zM342.6 493.4h1.5v1.5h-1.5zM350.9 523.6h1.5v1.5h-1.5zM344.8 516.0h1.5v1.5h-1.5zM355.6 498.1h1.5v1.5h-1.5zM359.3 522.3h1.5v1.5h-1.5zM350.8 482.4h1.5v1.5h-1.5zM355.9 510.4h1.5v1.5h-1.5zM351.1 529.7h1.5v1.5h-1.5zM365.2 520.3h1.5v1.5h-1.5zM353.3 511.4h1.5v1.5h-1.5zM354.0 512.6h1.5v1.5h-1.5zM356.2 525.4h1.5v1.5h-1.5zM359.5 497.5h1.5v1.5h-1.5zM357.1 527.0h1.5v1.5h-1.5zM352.8 520.8h1.5v1.5h-1.5zM355.9 524.6h1.5v1.5h-1.5zM356.4 500.8h1.5v1.5h-1.5zM350.0 495.0h1.5v1.5h-1.5zM348.6 495.5h1.5v1.5h-1.5zM350.9 525.5h1.5v1.5h-1.5zM355.6 490.8h1.5v1.5h-1.5zM349.5 483.3h1.5v1.5h-1.5zM345.3 524.3h1.5v1.5h-1.5zM350.3 511.9h1.5v1.5h-1.5zM349.2 523.6h1.5v1.5h-1.5zM356.5 529.4h1.5v1.5h-1.5zM349.1 529.3h1.5v1.5h-1.5zM365.0 493.1h1.5v1.5h-1.5zM355.5 530.3h1.5v1.5h-1.5zM346.3 508.4h1.5v1.5h-1.5zM360.5 528.2h1.5v1.5h-1.5zM350.1 515.4h1.5v1.5h-1.5zM347.1 484.5h1.5v1.5h-1.5zM356.8 493.3h1.5v1.5h-1.5zM343.1 501.5h1.5v1.5h-1.5zM352.1 516.9h1.5v1.5h-1.5zM356.2 526.2h1.5v1.5h-1.5zM357.5 524.1h1.5v1.5h-1.5zM349.0 520.7h1.5v1.5h-1.5zM349.2 498.2h1.5v1.5h-1.5zM352.0 464.6h1.5v1.5h-1.5zM360.6 476.6h1.5v1.5h-1.5zM340.6 509.1h1.5v1.5h-1.5zM358.0 526.7h1.5v1.5h-1.5zM354.5 485.2h1.5v1.5h-1.5zM361.6 514.0h1.5v1.5h-1.5zM345.1 490.8h1.5v1.5h-1.5zM360.2 520.1h1.5v1.5h-1.5zM346.8 488.9h1.5v1.5h-1.5zM354.5 519.5h1.5v1.5h-1.5zM349.9 524.5h1.5v1.5h-1.5zM352.1 502.7h1.5v1.5h-1.5zM355.1 507.9h1.5v1.5h-1.5zM358.3 516.3h1.5v1.5h-1.5zM348.4 468.8h1.5v1.5h-1.5zM344.8 502.2h1.5v1.5h-1.5zM357.2 514.9h1.5v1.5h-1.5zM350.2 521.5h1.5v1.5h-1.5zM359.5 486.4h1.5v1.5h-1.5zM362.0 509.0h1.5v1.5h-1.5zM351.0 496.1h1.5v1.5h-1.5zM351.4 499.7h1.5v1.5h-1.5zM347.8 482.8h1.5v1.5h-1.5zM339.1 495.8h1.5v1.5h-1.5zM352.5 508.1h1.5v1.5h-1.5zM357.4 504.3h1.5v1.5h-1.5zM359.6 503.2h1.5v1.5h-1.5zM352.4 513.2h1.5v1.5h-1.5zM364.9 529.8h1.5v1.5h-1.5zM349.1 517.6h1.5v1.5h-1.5zM349.0 498.0h1.5v1.5h-1.5zM349.6 521.5h1.5v1.5h-1.5zM350.7 508.0h1.5v1.5h-1.5zM348.0 519.0h1.5v1.5h-1.5zM349.8 523.1h1.5v1.5h-1.5zM354.5 509.4h1.5v1.5h-1.5zM353.3 496.0h1.5v1.5h-1.5zM345.6 505.3h1.5v1.5h-1.5zM356.0 487.2h1.5v1.5h-1.5zM347.2 498.8h1.5v1.5h-1.5zM355.6 501.7h1.5v1.5h-1.5zM353.1 513.2h1.5v1.5h-1.5zM339.8 528.4h1.5v1.5h-1.5zM345.7 448.2h1.5v1.5h-1.5zM358.9 519.0h1.5v1.5h-1.5zM348.3 495.4h1.5v1.5h-1.5zM348.2 501.0h1.5v1.5h-1.5zM349.7 509.0h1.5v1.5h-1.5zM353.4 529.9h1.5v1.5h-1.5zM356.4 526.4h1.5v1.5h-1.5zM350.6 517.6h1.5v1.5h-1.5zM363.8 488.4h1.5v1.5h-1.5zM348.8 522.7h1.5v1.5h-1.5zM349.5 503.9h1.5v1.5h-1.5zM351.4 524.2h1.5v1.5h-1.5zM362.3 509.4h1.5v1.5h-1.5zM368.2 523.7h1.5v1.5h-1.5zM350.3 502.7h1.5v1.5h-1.5zM351.5 521.0h1.5v1.5h-1.5zM356.8 485.0h1.5v1.5h-1.5zM351.8 519.3h1.5v1.5h-1.5zM358.4 508.8h1.5v1.5h-1.5zM345.5 511.7h1.5v1.5h-1.5zM358.3 525.9h1.5v1.5h-1.5zM338.1 513.1h1.5v1.5h-1.5zM356.1 460.5h1.5v1.5h-1.5zM357.1 467.7h1.5v1.5h-1.5zM369.2 511.6h1.5v1.5h-1.5zM346.5 526.8h1.5v1.5h-1.5zM357.3 501.6h1.5v1.5h-1.5zM356.9 490.6h1.5v1.5h-1.5zM346.3 444.3h1.5v1.5h-1.5zM354.3 523.4h1.5v1.5h-1.5zM347.0 513.7h1.5v1.5h-1.5zM344.8 514.7h1.5v1.5h-1.5zM342.5 523.5h1.5v1.5h-1.5zM351.1 514.8h1.5v1.5h-1.5zM345.5 507.2h1.5v1.5h-1.5zM338.7 530.0h1.5v1.5h-1.5zM354.5 526.7h1.5v1.5h-1.5zM341.1 519.4h1.5v1.5h-1.5zM357.2 509.5h1.5v1.5h-1.5zM354.2 527.3h1.5v1.5h-1.5zM347.0 495.2h1.5v1.5h-1.5zM341.9 519.4h1.5v1.5h-1.5zM346.4 521.8h1.5v1.5h-1.5zM343.5 529.8h1.5v1.5h-1.5zM350.0 525.2h1.5v1.5h-1.5zM350.1 511.5h1.5v1.5h-1.5zM369.2 456.8h1.5v1.5h-1.5zM338.4 485.3h1.5v1.5h-1.5zM348.5 474.6h1.5v1.5h-1.5zM356.3 495.0h1.5v1.5h-1.5zM359.5 510.3h1.5v1.5h-1.5zM361.6 513.7h1.5v1.5h-1.5zM345.9 521.8h1.5v1.5h-1.5zM357.9 485.4h1.5v1.5h-1.5zM333.1 523.9h1.5v1.5h-1.5zM351.0 493.0h1.5v1.5h-1.5zM358.3 514.9h1.5v1.5h-1.5zM357.3 475.6h1.5v1.5h-1.5zM343.0 519.0h1.5v1.5h-1.5zM346.9 501.5h1.5v1.5h-1.5zM337.9 529.2h1.5v1.5h-1.5zM347.5 523.6h1.5v1.5h-1.5zM343.2 525.2h1.5v1.5h-1.5zM354.3 511.6h1.5v1.5h-1.5zM347.4 496.8h1.5v1.5h-1.5zM356.5 530.2h1.5v1.5h-1.5zM351.7 521.9h1.5v1.5h-1.5zM350.2 529.6h1.5v1.5h-1.5zM364.5 524.2h1.5v1.5h-1.5zM360.4 510.9h1.5v1.5h-1.5zM343.5 505.3h1.5v1.5h-1.5zM361.9 513.2h1.5v1.5h-1.5zM357.7 523.1h1.5v1.5h-1.5zM355.5 514.8h1.5v1.5h-1.5zM340.3 507.4h1.5v1.5h-1.5zM349.9 503.0h1.5v1.5h-1.5zM335.9 511.5h1.5v1.5h-1.5zM343.0 507.4h1.5v1.5h-1.5zM347.7 520.4h1.5v1.5h-1.5zM361.1 494.7h1.5v1.5h-1.5zM352.8 506.8h1.5v1.5h-1.5zM354.0 496.2h1.5v1.5h-1.5zM357.5 487.4h1.5v1.5h-1.5zM346.3 509.2h1.5v1.5h-1.5zM360.0 475.6h1.5v1.5h-1.5zM354.0 514.5h1.5v1.5h-1.5zM345.9 519.8h1.5v1.5h-1.5zM348.6 515.9h1.5v1.5h-1.5zM350.8 472.5h1.5v1.5h-1.5zM356.6 519.7h1.5v1.5h-1.5zM362.2 519.9h1.5v1.5h-1.5zM350.4 521.2h1.5v1.5h-1.5zM350.9 515.0h1.5v1.5h-1.5zM374.3 472.9h1.5v1.5h-1.5zM364.8 521.5h1.5v1.5h-1.5zM353.8 506.8h1.5v1.5h-1.5zM350.0 509.9h1.5v1.5h-1.5zM357.1 495.3h1.5v1.5h-1.5zM354.5 523.4h1.5v1.5h-1.5zM347.0 506.4h1.5v1.5h-1.5zM361.7 504.6h1.5v1.5h-1.5zM369.8 510.9h1.5v1.5h-1.5zM346.7 526.6h1.5v1.5h-1.5zM347.1 526.8h1.5v1.5h-1.5zM349.0 505.2h1.5v1.5h-1.5zM343.8 523.9h1.5v1.5h-1.5zM358.0 525.0h1.5v1.5h-1.5zM342.6 509.1h1.5v1.5h-1.5zM357.0 509.1h1.5v1.5h-1.5zM357.6 496.4h1.5v1.5h-1.5zM342.3 524.2h1.5v1.5h-1.5zM353.5 530.0h1.5v1.5h-1.5zM354.3 524.1h1.5v1.5h-1.5zM358.5 506.4h1.5v1.5h-1.5zM355.0 500.3h1.5v1.5h-1.5zM348.5 489.0h1.5v1.5h-1.5zM360.3 519.3h1.5v1.5h-1.5zM362.0 514.8h1.5v1.5h-1.5zM361.7 522.7h1.5v1.5h-1.5zM347.4 515.5h1.5v1.5h-1.5zM356.1 519.3h1.5v1.5h-1.5zM346.2 504.7h1.5v1.5h-1.5zM351.3 530.4h1.5v1.5h-1.5zM357.6 521.5h1.5v1.5h-1.5zM342.6 525.0h1.5v1.5h-1.5zM371.6 507.6h1.5v1.5h-1.5zM360.9 512.7h1.5v1.5h-1.5zM347.2 500.0h1.5v1.5h-1.5zM348.6 478.2h1.5v1.5h-1.5zM352.0 502.3h1.5v1.5h-1.5zM351.5 507.9h1.5v1.5h-1.5zM344.1 521.2h1.5v1.5h-1.5zM341.8 507.1h1.5v1.5h-1.5zM348.2 461.5h1.5v1.5h-1.5zM352.0 505.3h1.5v1.5h-1.5zM363.3 527.9h1.5v1.5h-1.5zM354.7 504.5h1.5v1.5h-1.5zM356.8 501.9h1.5v1.5h-1.5zM348.5 522.6h1.5v1.5h-1.5zM360.0 525.9h1.5v1.5h-1.5zM350.2 504.1h1.5v1.5h-1.5zM358.5 500.6h1.5v1.5h-1.5zM356.9 524.6h1.5v1.5h-1.5zM364.4 501.7h1.5v1.5h-1.5zM359.3 527.1h1.5v1.5h-1.5zM352.4 527.3h1.5v1.5h-1.5zM345.2 473.8h1.5v1.5h-1.5zM350.4 510.4h1.5v1.5h-1.5zM347.7 504.3h1.5v1.5h-1.5zM363.0 518.3h1.5v1.5h-1.5zM349.4 528.3h1.5v1.5h-1.5zM336.6 505.3h1.5v1.5h-1.5zM355.1 529.3h1.5v1.5h-1.5zM358.1 530.3h1.5v1.5h-1.5zM346.1 520.3h1.5v1.5h-1.5zM357.4 518.9h1.5v1.5h-1.5zM343.3 514.6h1.5v1.5h-1.5zM354.2 498.6h1.5v1.5h-1.5zM351.4 526.4h1.5v1.5h-1.5zM354.6 504.0h1.5v1.5h-1.5zM355.4 510.1h1.5v1.5h-1.5zM347.8 527.3h1.5v1.5h-1.5zM358.1 524.7h1.5v1.5h-1.5zM349.0 507.7h1.5v1.5h-1.5zM353.3 512.1h1.5v1.5h-1.5zM362.3 497.8h1.5v1.5h-1.5zM346.1 524.7h1.5v1.5h-1.5zM353.0 477.0h1.5v1.5h-1.5zM363.6 512.9h1.5v1.5h-1.5zM361.2 530.0h1.5v1.5h-1.5zM347.7 501.4h1.5v1.5h-1.5zM348.2 478.2h1.5v1.5h-1.5zM356.3 515.1h1.5v1.5h-1.5zM353.0 499.2h1.5v1.5h-1.5zM343.0 521.0h1.5v1.5h-1.5zM356.9 529.6h1.5v1.5h-1.5zM341.3 530.2h1.5v1.5h-1.5zM353.4 510.6h1.5v1.5h-1.5zM357.3 518.1h1.5v1.5h-1.5zM347.8 505.6h1.5v1.5h-1.5zM341.5 515.0h1.5v1.5h-1.5zM343.6 527.4h1.5v1.5h-1.5zM339.1 505.6h1.5v1.5h-1.5zM364.9 528.3h1.5v1.5h-1.5zM339.1 461.3h1.5v1.5h-1.5zM343.5 530.0h1.5v1.5h-1.5zM354.7 530.0h1.5v1.5h-1.5zM352.8 520.6h1.5v1.5h-1.5zM359.6 522.1h1.5v1.5h-1.5zM361.6 488.1h1.5v1.5h-1.5zM355.6 515.7h1.5v1.5h-1.5zM352.0 517.0h1.5v1.5h-1.5zM348.5 525.7h1.5v1.5h-1.5zM351.2 519.6h1.5v1.5h-1.5zM359.0 521.0h1.5v1.5h-1.5zM356.7 528.9h1.5v1.5h-1.5zM356.8 522.3h1.5v1.5h-1.5zM340.8 509.3h1.5v1.5h-1.5zM347.1 505.1h1.5v1.5h-1.5zM347.7 478.4h1.5v1.5h-1.5zM348.7 521.7h1.5v1.5h-1.5zM345.1 520.0h1.5v1.5h-1.5zM357.2 525.9h1.5v1.5h-1.5zM359.9 501.2h1.5v1.5h-1.5zM365.1 498.5h1.5v1.5h-1.5zM348.8 497.5h1.5v1.5h-1.5zM351.8 523.1h1.5v1.5h-1.5zM353.1 513.6h1.5v1.5h-1.5zM352.4 521.0h1.5v1.5h-1.5zM346.6 524.5h1.5v1.5h-1.5zM358.0 517.7h1.5v1.5h-1.5zM338.3 525.2h1.5v1.5h-1.5zM349.1 510.4h1.5v1.5h-1.5zM339.2 527.3h1.5v1.5h-1.5zM356.9 505.7h1.5v1.5h-1.5zM342.7 486.3h1.5v1.5h-1.5zM344.4 492.0h1.5v1.5h-1.5zM352.4 516.1h1.5v1.5h-1.5zM345.2 528.8h1.5v1.5h-1.5zM349.8 505.3h1.5v1.5h-1.5zM366.2 519.7h1.5v1.5h-1.5zM343.9 523.6h1.5v1.5h-1.5zM346.7 518.4h1.5v1.5h-1.5zM356.5 526.0h1.5v1.5h-1.5zM353.3 528.9h1.5v1.5h-1.5zM355.6 520.8h1.5v1.5h-1.5zM350.4 520.4h1.5v1.5h-1.5zM359.1 512.9h1.5v1.5h-1.5zM354.9 518.3h1.5v1.5h-1.5zM361.7 512.8h1.5v1.5h-1.5zM343.0 530.4h1.5v1.5h-1.5zM354.3 517.7h1.5v1.5h-1.5zM350.9 519.8h1.5v1.5h-1.5zM355.3 503.1h1.5v1.5h-1.5zM345.9 523.9h1.5v1.5h-1.5zM358.2 484.8h1.5v1.5h-1.5zM343.1 511.8h1.5v1.5h-1.5zM358.7 506.1h1.5v1.5h-1.5zM356.3 503.3h1.5v1.5h-1.5zM339.9 528.6h1.5v1.5h-1.5zM355.3 520.1h1.5v1.5h-1.5zM338.9 470.6h1.5v1.5h-1.5zM356.4 511.9h1.5v1.5h-1.5zM341.2 513.4h1.5v1.5h-1.5zM352.0 511.1h1.5v1.5h-1.5zM350.6 493.4h1.5v1.5h-1.5zM341.1 504.7h1.5v1.5h-1.5zM339.5 507.6h1.5v1.5h-1.5zM356.0 473.3h1.5v1.5h-1.5zM349.1 473.4h1.5v1.5h-1.5zM360.1 522.2h1.5v1.5h-1.5zM352.2 514.1h1.5v1.5h-1.5zM371.8 513.1h1.5v1.5h-1.5zM353.7 484.3h1.5v1.5h-1.5zM364.9 524.3h1.5v1.5h-1.5zM355.0 528.0h1.5v1.5h-1.5zM353.1 512.8h1.5v1.5h-1.5zM356.3 526.2h1.5v1.5h-1.5zM347.2 508.7h1.5v1.5h-1.5zM348.0 506.4h1.5v1.5h-1.5zM364.1 521.6h1.5v1.5h-1.5zM351.2 499.4h1.5v1.5h-1.5zM344.5 523.5h1.5v1.5h-1.5zM356.1 472.3h1.5v1.5h-1.5zM346.7 503.8h1.5v1.5h-1.5zM353.1 528.4h1.5v1.5h-1.5zM360.6 518.5h1.5v1.5h-1.5zM360.8 480.4h1.5v1.5h-1.5zM357.2 497.9h1.5v1.5h-1.5zM356.5 501.3h1.5v1.5h-1.5zM354.7 515.8h1.5v1.5h-1.5zM352.4 515.7h1.5v1.5h-1.5zM368.6 476.2h1.5v1.5h-1.5zM352.2 506.8h1.5v1.5h-1.5zM364.5 504.5h1.5v1.5h-1.5zM351.9 513.7h1.5v1.5h-1.5zM361.2 516.8h1.5v1.5h-1.5zM332.8 515.8h1.5v1.5h-1.5zM353.8 517.4h1.5v1.5h-1.5zM348.4 477.8h1.5v1.5h-1.5zM363.8 502.7h1.5v1.5h-1.5zM363.3 515.5h1.5v1.5h-1.5zM348.4 516.5h1.5v1.5h-1.5zM359.3 521.1h1.5v1.5h-1.5zM355.0 521.5h1.5v1.5h-1.5zM353.5 479.4h1.5v1.5h-1.5zM359.7 530.0h1.5v1.5h-1.5zM364.2 496.5h1.5v1.5h-1.5zM356.1 472.4h1.5v1.5h-1.5zM332.7 503.7h1.5v1.5h-1.5zM346.5 504.2h1.5v1.5h-1.5zM352.4 525.4h1.5v1.5h-1.5zM368.9 512.6h1.5v1.5h-1.5zM353.0 489.5h1.5v1.5h-1.5zM342.5 491.9h1.5v1.5h-1.5zM362.6 505.9h1.5v1.5h-1.5zM355.9 464.8h1.5v1.5h-1.5zM353.0 509.4h1.5v1.5h-1.5zM360.5 517.8h1.5v1.5h-1.5zM350.4 471.9h1.5v1.5h-1.5zM360.2 528.7h1.5v1.5h-1.5zM356.3 488.5h1.5v1.5h-1.5zM360.0 524.2h1.5v1.5h-1.5zM350.6 529.8h1.5v1.5h-1.5zM365.0 521.0h1.5v1.5h-1.5zM343.3 494.1h1.5v1.5h-1.5zM343.6 511.0h1.5v1.5h-1.5zM356.8 505.3h1.5v1.5h-1.5zM351.1 530.4h1.5v1.5h-1.5zM354.7 516.7h1.5v1.5h-1.5zM353.6 504.4h1.5v1.5h-1.5zM352.2 497.5h1.5v1.5h-1.5zM345.9 516.7h1.5v1.5h-1.5zM355.5 505.0h1.5v1.5h-1.5zM362.5 511.8h1.5v1.5h-1.5zM347.4 511.8h1.5v1.5h-1.5zM366.6 482.5h1.5v1.5h-1.5zM364.4 528.3h1.5v1.5h-1.5zM347.4 515.8h1.5v1.5h-1.5zM359.0 502.9h1.5v1.5h-1.5zM345.7 523.3h1.5v1.5h-1.5zM352.5 522.1h1.5v1.5h-1.5zM345.7 514.1h1.5v1.5h-1.5zM349.6 511.7h1.5v1.5h-1.5zM340.4 449.4h1.5v1.5h-1.5zM352.3 503.6h1.5v1.5h-1.5zM346.0 495.9h1.5v1.5h-1.5zM347.1 525.5h1.5v1.5h-1.5zM339.6 521.5h1.5v1.5h-1.5zM353.7 483.9h1.5v1.5h-1.5zM366.7 523.2h1.5v1.5h-1.5zM350.8 518.6h1.5v1.5h-1.5zM352.3 489.9h1.5v1.5h-1.5zM345.4 491.0h1.5v1.5h-1.5zM350.1 521.5h1.5v1.5h-1.5zM347.4 522.4h1.5v1.5h-1.5zM342.4 518.6h1.5v1.5h-1.5zM347.1 527.4h1.5v1.5h-1.5zM349.7 510.8h1.5v1.5h-1.5zM355.5 503.6h1.5v1.5h-1.5zM351.0 526.2h1.5v1.5h-1.5zM355.3 515.4h1.5v1.5h-1.5zM362.4 510.6h1.5v1.5h-1.5zM359.8 517.4h1.5v1.5h-1.5zM350.4 485.3h1.5v1.5h-1.5zM340.9 487.5h1.5v1.5h-1.5zM352.0 494.8h1.5v1.5h-1.5zM353.9 487.4h1.5v1.5h-1.5zM360.2 525.1h1.5v1.5h-1.5zM354.2 470.3h1.5v1.5h-1.5zM372.8 522.3h1.5v1.5h-1.5zM351.0 512.3h1.5v1.5h-1.5zM357.9 517.5h1.5v1.5h-1.5zM346.8 524.2h1.5v1.5h-1.5zM346.2 520.4h1.5v1.5h-1.5zM351.1 526.4h1.5v1.5h-1.5zM354.6 520.6h1.5v1.5h-1.5zM358.0 526.5h1.5v1.5h-1.5zM361.1 504.1h1.5v1.5h-1.5zM363.7 529.8h1.5v1.5h-1.5zM362.7 514.4h1.5v1.5h-1.5zM352.3 526.4h1.5v1.5h-1.5zM357.1 493.1h1.5v1.5h-1.5zM362.2 503.5h1.5v1.5h-1.5zM346.3 500.5h1.5v1.5h-1.5zM357.8 515.3h1.5v1.5h-1.5zM356.7 521.5h1.5v1.5h-1.5zM352.2 512.0h1.5v1.5h-1.5zM365.7 505.7h1.5v1.5h-1.5zM348.2 522.7h1.5v1.5h-1.5zM346.2 451.3h1.5v1.5h-1.5zM352.8 477.3h1.5v1.5h-1.5zM348.7 505.4h1.5v1.5h-1.5zM362.5 506.8h1.5v1.5h-1.5zM341.4 525.4h1.5v1.5h-1.5zM343.9 481.0h1.5v1.5h-1.5zM355.3 515.6h1.5v1.5h-1.5zM358.3 527.5h1.5v1.5h-1.5zM344.8 497.5h1.5v1.5h-1.5zM362.2 526.1h1.5v1.5h-1.5zM339.6 510.5h1.5v1.5h-1.5zM360.2 523.2h1.5v1.5h-1.5zM346.8 480.4h1.5v1.5h-1.5zM349.7 507.5h1.5v1.5h-1.5zM365.6 486.7h1.5v1.5h-1.5zM352.6 522.1h1.5v1.5h-1.5zM348.5 512.8h1.5v1.5h-1.5zM354.7 519.4h1.5v1.5h-1.5zM366.2 524.2h1.5v1.5h-1.5zM353.4 521.4h1.5v1.5h-1.5zM347.6 506.7h1.5v1.5h-1.5zM348.4 494.8h1.5v1.5h-1.5zM348.9 511.5h1.5v1.5h-1.5zM355.2 517.5h1.5v1.5h-1.5zM355.6 475.0h1.5v1.5h-1.5zM358.5 494.7h1.5v1.5h-1.5zM345.3 512.8h1.5v1.5h-1.5zM356.3 504.7h1.5v1.5h-1.5zM344.4 507.5h1.5v1.5h-1.5zM349.5 475.7h1.5v1.5h-1.5zM350.4 515.0h1.5v1.5h-1.5zM359.2 515.2h1.5v1.5h-1.5zM345.9 490.5h1.5v1.5h-1.5zM351.3 507.2h1.5v1.5h-1.5zM357.4 528.3h1.5v1.5h-1.5zM343.2 496.0h1.5v1.5h-1.5zM345.4 519.8h1.5v1.5h-1.5zM356.0 521.8h1.5v1.5h-1.5zM351.9 485.1h1.5v1.5h-1.5zM350.5 476.9h1.5v1.5h-1.5zM351.7 480.8h1.5v1.5h-1.5zM346.2 518.7h1.5v1.5h-1.5zM348.8 518.4h1.5v1.5h-1.5zM358.0 504.2h1.5v1.5h-1.5zM352.8 528.8h1.5v1.5h-1.5zM356.5 484.7h1.5v1.5h-1.5zM351.2 501.8h1.5v1.5h-1.5zM348.8 483.4h1.5v1.5h-1.5zM352.8 484.1h1.5v1.5h-1.5zM347.2 495.6h1.5v1.5h-1.5zM353.1 489.9h1.5v1.5h-1.5zM350.0 474.4h1.5v1.5h-1.5zM350.1 514.9h1.5v1.5h-1.5zM350.2 517.1h1.5v1.5h-1.5zM347.1 503.5h1.5v1.5h-1.5zM357.6 521.9h1.5v1.5h-1.5zM344.6 493.7h1.5v1.5h-1.5zM352.4 478.2h1.5v1.5h-1.5zM345.7 496.0h1.5v1.5h-1.5zM355.5 512.6h1.5v1.5h-1.5zM350.4 497.2h1.5v1.5h-1.5zM352.2 496.0h1.5v1.5h-1.5zM353.5 530.3h1.5v1.5h-1.5zM353.0 489.3h1.5v1.5h-1.5zM352.2 516.3h1.5v1.5h-1.5zM353.1 514.8h1.5v1.5h-1.5zM353.0 526.7h1.5v1.5h-1.5zM349.3 486.2h1.5v1.5h-1.5zM350.1 488.2h1.5v1.5h-1.5zM350.3 519.6h1.5v1.5h-1.5zM348.2 508.2h1.5v1.5h-1.5zM348.9 489.2h1.5v1.5h-1.5zM357.4 504.3h1.5v1.5h-1.5zM344.9 494.6h1.5v1.5h-1.5zM359.0 506.5h1.5v1.5h-1.5zM349.0 485.7h1.5v1.5h-1.5zM354.2 486.4h1.5v1.5h-1.5zM351.4 489.6h1.5v1.5h-1.5zM350.6 524.9h1.5v1.5h-1.5zM353.9 503.4h1.5v1.5h-1.5zM359.1 498.0h1.5v1.5h-1.5zM350.9 527.9h1.5v1.5h-1.5zM351.3 496.0h1.5v1.5h-1.5zM349.0 485.5h1.5v1.5h-1.5zM360.6 497.4h1.5v1.5h-1.5zM356.7 477.3h1.5v1.5h-1.5zM356.5 516.8h1.5v1.5h-1.5zM351.6 488.6h1.5v1.5h-1.5zM342.9 489.2h1.5v1.5h-1.5zM353.6 488.0h1.5v1.5h-1.5zM343.4 505.0h1.5v1.5h-1.5zM348.6 497.0h1.5v1.5h-1.5zM355.8 484.2h1.5v1.5h-1.5zM348.8 474.4h1.5v1.5h-1.5zM348.3 510.6h1.5v1.5h-1.5zM341.8 513.7h1.5v1.5h-1.5zM354.6 521.5h1.5v1.5h-1.5zM353.3 516.5h1.5v1.5h-1.5zM349.2 516.1h1.5v1.5h-1.5zM353.0 510.9h1.5v1.5h-1.5zM344.1 515.1h1.5v1.5h-1.5zM347.2 523.1h1.5v1.5h-1.5zM352.3 497.7h1.5v1.5h-1.5zM355.4 497.4h1.5v1.5h-1.5zM351.3 513.3h1.5v1.5h-1.5zM345.9 491.3h1.5v1.5h-1.5zM349.2 515.5h1.5v1.5h-1.5zM356.4 505.2h1.5v1.5h-1.5zM348.7 525.5h1.5v1.5h-1.5zM352.5 528.1h1.5v1.5h-1.5zM353.3 498.4h1.5v1.5h-1.5zM348.9 485.0h1.5v1.5h-1.5zM351.5 475.1h1.5v1.5h-1.5zM343.3 526.3h1.5v1.5h-1.5zM348.8 530.2h1.5v1.5h-1.5zM351.5 508.1h1.5v1.5h-1.5zM354.2 492.9h1.5v1.5h-1.5zM357.2 479.2h1.5v1.5h-1.5zM349.2 508.0h1.5v1.5h-1.5zM353.5 500.8h1.5v1.5h-1.5zM347.8 518.2h1.5v1.5h-1.5zM347.9 479.5h1.5v1.5h-1.5zM351.1 515.2h1.5v1.5h-1.5zM351.4 480.6h1.5v1.5h-1.5zM348.0 520.3h1.5v1.5h-1.5zM363.7 519.6h1.5v1.5h-1.5zM351.3 511.8h1.5v1.5h-1.5zM354.4 509.8h1.5v1.5h-1.5zM350.2 506.8h1.5v1.5h-1.5zM363.9 504.6h1.5v1.5h-1.5zM341.3 496.2h1.5v1.5h-1.5zM349.8 514.8h1.5v1.5h-1.5zM352.2 500.3h1.5v1.5h-1.5zM356.7 499.6h1.5v1.5h-1.5zM351.1 488.6h1.5v1.5h-1.5zM346.9 475.0h1.5v1.5h-1.5zM358.4 500.6h1.5v1.5h-1.5zM354.3 482.7h1.5v1.5h-1.5zM350.2 481.6h1.5v1.5h-1.5zM350.2 499.1h1.5v1.5h-1.5zM350.2 476.3h1.5v1.5h-1.5zM352.1 526.2h1.5v1.5h-1.5zM343.7 514.7h1.5v1.5h-1.5zM352.0 488.7h1.5v1.5h-1.5zM348.6 526.4h1.5v1.5h-1.5zM353.5 522.6h1.5v1.5h-1.5zM352.8 527.5h1.5v1.5h-1.5zM346.6 480.9h1.5v1.5h-1.5zM357.4 508.0h1.5v1.5h-1.5zM354.7 517.3h1.5v1.5h-1.5zM347.3 482.3h1.5v1.5h-1.5zM346.6 492.1h1.5v1.5h-1.5zM348.3 517.6h1.5v1.5h-1.5zM352.9 520.2h1.5v1.5h-1.5zM357.0 489.9h1.5v1.5h-1.5zM347.3 475.9h1.5v1.5h-1.5zM347.9 519.5h1.5v1.5h-1.5zM351.1 478.5h1.5v1.5h-1.5zM351.1 493.5h1.5v1.5h-1.5zM350.8 523.5h1.5v1.5h-1.5zM349.9 521.3h1.5v1.5h-1.5zM359.2 515.5h1.5v1.5h-1.5zM355.7 520.9h1.5v1.5h-1.5zM349.8 485.1h1.5v1.5h-1.5zM356.9 475.2h1.5v1.5h-1.5zM359.8 507.3h1.5v1.5h-1.5zM353.4 518.0h1.5v1.5h-1.5zM352.7 515.2h1.5v1.5h-1.5zM349.1 478.8h1.5v1.5h-1.5zM351.9 493.2h1.5v1.5h-1.5zM352.3 478.9h1.5v1.5h-1.5zM357.2 488.1h1.5v1.5h-1.5zM347.1 516.8h1.5v1.5h-1.5zM344.0 518.7h1.5v1.5h-1.5zM349.1 486.0h1.5v1.5h-1.5zM353.0 480.2h1.5v1.5h-1.5zM342.3 526.6h1.5v1.5h-1.5zM350.4 516.9h1.5v1.5h-1.5zM347.7 513.4h1.5v1.5h-1.5zM346.3 491.5h1.5v1.5h-1.5zM351.9 519.1h1.5v1.5h-1.5zM356.5 504.2h1.5v1.5h-1.5zM345.2 502.9h1.5v1.5h-1.5zM352.3 481.2h1.5v1.5h-1.5zM354.2 503.3h1.5v1.5h-1.5zM351.3 502.8h1.5v1.5h-1.5zM348.5 509.4h1.5v1.5h-1.5zM355.3 527.0h1.5v1.5h-1.5zM353.2 508.8h1.5v1.5h-1.5zM346.7 490.3h1.5v1.5h-1.5zM342.3 474.8h1.5v1.5h-1.5zM348.1 476.4h1.5v1.5h-1.5zM352.2 479.0h1.5v1.5h-1.5zM354.7 480.9h1.5v1.5h-1.5zM348.7 528.0h1.5v1.5h-1.5zM349.5 479.4h1.5v1.5h-1.5zM343.2 517.8h1.5v1.5h-1.5zM349.2 483.4h1.5v1.5h-1.5zM351.8 488.9h1.5v1.5h-1.5zM348.6 483.8h1.5v1.5h-1.5zM350.8 503.9h1.5v1.5h-1.5zM346.9 507.4h1.5v1.5h-1.5zM347.2 497.3h1.5v1.5h-1.5zM352.5 482.0h1.5v1.5h-1.5zM344.3 494.5h1.5v1.5h-1.5zM351.3 504.3h1.5v1.5h-1.5zM356.6 521.3h1.5v1.5h-1.5zM348.7 500.3h1.5v1.5h-1.5zM349.0 474.9h1.5v1.5h-1.5zM347.5 518.1h1.5v1.5h-1.5zM345.4 487.2h1.5v1.5h-1.5zM348.6 485.5h1.5v1.5h-1.5zM345.5 476.5h1.5v1.5h-1.5zM350.2 485.3h1.5v1.5h-1.5zM348.7 495.5h1.5v1.5h-1.5zM346.1 503.3h1.5v1.5h-1.5zM351.3 506.9h1.5v1.5h-1.5zM355.6 495.9h1.5v1.5h-1.5zM354.7 518.9h1.5v1.5h-1.5zM349.9 513.0h1.5v1.5h-1.5zM351.0 481.2h1.5v1.5h-1.5zM346.5 527.0h1.5v1.5h-1.5zM350.0 478.3h1.5v1.5h-1.5zM354.1 490.2h1.5v1.5h-1.5zM354.5 530.4h1.5v1.5h-1.5zM357.1 503.3h1.5v1.5h-1.5zM344.4 506.1h1.5v1.5h-1.5zM358.1 495.2h1.5v1.5h-1.5zM352.8 507.7h1.5v1.5h-1.5zM358.0 475.3h1.5v1.5h-1.5zM351.1 505.5h1.5v1.5h-1.5zM356.6 530.4h1.5v1.5h-1.5zM351.0 515.2h1.5v1.5h-1.5zM346.4 516.5h1.5v1.5h-1.5zM352.5 525.8h1.5v1.5h-1.5zM348.8 528.4h1.5v1.5h-1.5zM350.9 483.1h1.5v1.5h-1.5zM353.4 528.7h1.5v1.5h-1.5zM354.5 527.2h1.5v1.5h-1.5zM354.0 527.5h1.5v1.5h-1.5zM355.4 494.6h1.5v1.5h-1.5zM344.2 505.4h1.5v1.5h-1.5zM356.2 508.7h1.5v1.5h-1.5zM347.4 487.3h1.5v1.5h-1.5zM351.5 504.4h1.5v1.5h-1.5zM349.2 507.4h1.5v1.5h-1.5zM345.9 490.6h1.5v1.5h-1.5zM355.0 512.6h1.5v1.5h-1.5zM346.5 517.6h1.5v1.5h-1.5zM348.6 481.9h1.5v1.5h-1.5zM341.0 495.2h1.5v1.5h-1.5zM343.6 529.4h1.5v1.5h-1.5zM355.3 524.9h1.5v1.5h-1.5zM349.2 518.6h1.5v1.5h-1.5zM354.6 518.0h1.5v1.5h-1.5zM351.0 497.7h1.5v1.5h-1.5zM348.9 496.8h1.5v1.5h-1.5zM354.2 477.6h1.5v1.5h-1.5zM347.9 486.7h1.5v1.5h-1.5zM352.1 508.4h1.5v1.5h-1.5zM346.2 488.4h1.5v1.5h-1.5zM344.7 475.0h1.5v1.5h-1.5zM343.7 506.9h1.5v1.5h-1.5zM355.2 528.6h1.5v1.5h-1.5zM359.7 524.5h1.5v1.5h-1.5zM356.3 488.4h1.5v1.5h-1.5zM348.2 487.1h1.5v1.5h-1.5zM348.8 499.3h1.5v1.5h-1.5zM346.6 494.3h1.5v1.5h-1.5zM351.1 485.2h1.5v1.5h-1.5zM355.7 501.4h1.5v1.5h-1.5zM350.8 516.6h1.5v1.5h-1.5zM351.0 495.3h1.5v1.5h-1.5zM336.6 525.4h1.5v1.5h-1.5zM352.5 490.7h1.5v1.5h-1.5zM345.7 508.0h1.5v1.5h-1.5zM350.0 507.7h1.5v1.5h-1.5zM352.7 496.2h1.5v1.5h-1.5zM351.6 490.7h1.5v1.5h-1.5zM354.4 510.1h1.5v1.5h-1.5zM358.0 480.2h1.5v1.5h-1.5zM340.9 477.1h1.5v1.5h-1.5zM344.2 476.4h1.5v1.5h-1.5zM358.5 478.3h1.5v1.5h-1.5zM353.3 502.1h1.5v1.5h-1.5zM347.9 517.2h1.5v1.5h-1.5zM350.0 482.5h1.5v1.5h-1.5zM351.2 500.8h1.5v1.5h-1.5zM355.9 514.6h1.5v1.5h-1.5zM349.7 502.4h1.5v1.5h-1.5zM351.2 507.6h1.5v1.5h-1.5zM345.2 504.8h1.5v1.5h-1.5zM357.8 476.8h1.5v1.5h-1.5zM353.2 503.1h1.5v1.5h-1.5zM349.1 511.2h1.5v1.5h-1.5zM345.2 488.6h1.5v1.5h-1.5zM351.1 482.5h1.5v1.5h-1.5zM355.1 491.3h1.5v1.5h-1.5zM361.6 527.5h1.5v1.5h-1.5zM359.8 512.8h1.5v1.5h-1.5zM349.5 478.6h1.5v1.5h-1.5zM349.4 497.9h1.5v1.5h-1.5zM346.9 527.1h1.5v1.5h-1.5zM353.3 491.3h1.5v1.5h-1.5zM347.9 491.5h1.5v1.5h-1.5zM353.9 517.1h1.5v1.5h-1.5zM352.7 490.3h1.5v1.5h-1.5zM353.1 518.9h1.5v1.5h-1.5zM346.9 476.6h1.5v1.5h-1.5zM356.5 495.1h1.5v1.5h-1.5zM350.4 523.0h1.5v1.5h-1.5zM345.8 500.0h1.5v1.5h-1.5zM351.1 482.5h1.5v1.5h-1.5zM352.1 522.6h1.5v1.5h-1.5zM351.6 481.7h1.5v1.5h-1.5zM355.6 481.0h1.5v1.5h-1.5zM356.7 525.6h1.5v1.5h-1.5zM361.6 482.7h1.5v1.5h-1.5zM356.8 496.1h1.5v1.5h-1.5zM339.7 498.7h1.5v1.5h-1.5zM359.8 476.6h1.5v1.5h-1.5zM351.2 497.4h1.5v1.5h-1.5zM357.1 505.7h1.5v1.5h-1.5zM350.3 521.0h1.5v1.5h-1.5zM353.8 490.3h1.5v1.5h-1.5zM354.2 481.8h1.5v1.5h-1.5zM348.6 512.4h1.5v1.5h-1.5zM348.8 476.6h1.5v1.5h-1.5zM338.3 484.0h1.5v1.5h-1.5zM353.9 508.5h1.5v1.5h-1.5zM350.7 519.2h1.5v1.5h-1.5zM350.3 511.2h1.5v1.5h-1.5zM356.9 500.6h1.5v1.5h-1.5zM352.9 526.1h1.5v1.5h-1.5zM352.4 476.7h1.5v1.5h-1.5zM342.8 510.2h1.5v1.5h-1.5zM352.1 519.2h1.5v1.5h-1.5zM350.0 496.6h1.5v1.5h-1.5zM355.8 489.0h1.5v1.5h-1.5zM349.1 523.1h1.5v1.5h-1.5zM345.8 510.5h1.5v1.5h-1.5zM350.3 508.5h1.5v1.5h-1.5zM359.7 483.1h1.5v1.5h-1.5zM347.4 517.1h1.5v1.5h-1.5zM357.2 511.5h1.5v1.5h-1.5zM350.6 520.7h1.5v1.5h-1.5zM342.2 503.3h1.5v1.5h-1.5zM354.2 509.4h1.5v1.5h-1.5zM362.0 491.4h1.5v1.5h-1.5zM353.4 511.1h1.5v1.5h-1.5zM346.6 521.8h1.5v1.5h-1.5zM350.4 523.9h1.5v1.5h-1.5zM347.4 491.3h1.5v1.5h-1.5zM364.3 523.3h1.5v1.5h-1.5zM353.9 522.3h1.5v1.5h-1.5zM340.7 491.3h1.5v1.5h-1.5zM355.1 488.5h1.5v1.5h-1.5zM353.4 528.7h1.5v1.5h-1.5zM346.7 525.7h1.5v1.5h-1.5zM348.6 516.7h1.5v1.5h-1.5zM351.1 512.0h1.5v1.5h-1.5zM359.2 502.7h1.5v1.5h-1.5zM349.0 522.4h1.5v1.5h-1.5zM348.0 478.4h1.5v1.5h-1.5zM355.7 522.8h1.5v1.5h-1.5zM348.5 480.3h1.5v1.5h-1.5zM346.7 515.9h1.5v1.5h-1.5zM350.8 498.3h1.5v1.5h-1.5zM355.1 506.2h1.5v1.5h-1.5zM352.0 522.0h1.5v1.5h-1.5zM349.7 525.4h1.5v1.5h-1.5zM357.9 506.3h1.5v1.5h-1.5zM357.7 507.0h1.5v1.5h-1.5zM344.1 529.9h1.5v1.5h-1.5zM346.1 511.2h1.5v1.5h-1.5zM350.4 528.5h1.5v1.5h-1.5zM352.1 489.4h1.5v1.5h-1.5zM351.0 479.4h1.5v1.5h-1.5zM351.7 520.7h1.5v1.5h-1.5zM353.4 506.0h1.5v1.5h-1.5zM345.6 478.9h1.5v1.5h-1.5zM341.5 513.7h1.5v1.5h-1.5zM352.7 522.1h1.5v1.5h-1.5zM357.0 491.4h1.5v1.5h-1.5zM352.3 517.9h1.5v1.5h-1.5zM349.5 503.5h1.5v1.5h-1.5zM353.9 514.5h1.5v1.5h-1.5zM349.9 509.3h1.5v1.5h-1.5zM345.5 520.1h1.5v1.5h-1.5zM354.8 510.0h1.5v1.5h-1.5zM352.9 481.5h1.5v1.5h-1.5zM354.5 492.6h1.5v1.5h-1.5zM349.2 481.0h1.5v1.5h-1.5zM353.9 513.5h1.5v1.5h-1.5zM349.9 519.9h1.5v1.5h-1.5zM349.2 515.4h1.5v1.5h-1.5zM357.0 480.5h1.5v1.5h-1.5zM351.9 479.2h1.5v1.5h-1.5zM346.1 517.9h1.5v1.5h-1.5zM349.5 517.4h1.5v1.5h-1.5zM357.4 507.1h1.5v1.5h-1.5zM353.1 516.8h1.5v1.5h-1.5zM359.8 484.3h1.5v1.5h-1.5zM354.3 491.5h1.5v1.5h-1.5zM352.6 477.8h1.5v1.5h-1.5zM356.2 507.8h1.5v1.5h-1.5zM348.7 474.3h1.5v1.5h-1.5zM356.3 508.5h1.5v1.5h-1.5zM351.1 518.3h1.5v1.5h-1.5zM350.3 484.2h1.5v1.5h-1.5zM353.2 492.3h1.5v1.5h-1.5zM349.4 506.4h1.5v1.5h-1.5zM346.4 495.5h1.5v1.5h-1.5zM347.4 529.5h1.5v1.5h-1.5zM353.8 500.0h1.5v1.5h-1.5zM351.8 501.6h1.5v1.5h-1.5zM354.7 482.5h1.5v1.5h-1.5zM347.5 527.3h1.5v1.5h-1.5zM349.6 514.5h1.5v1.5h-1.5zM358.8 513.0h1.5v1.5h-1.5zM347.2 526.8h1.5v1.5h-1.5zM357.2 500.5h1.5v1.5h-1.5zM350.3 484.9h1.5v1.5h-1.5zM353.9 496.7h1.5v1.5h-1.5zM352.6 526.2h1.5v1.5h-1.5zM350.4 518.6h1.5v1.5h-1.5zM352.0 504.5h1.5v1.5h-1.5zM355.8 489.3h1.5v1.5h-1.5zM348.4 510.4h1.5v1.5h-1.5zM347.2 474.4h1.5v1.5h-1.5zM355.4 503.2h1.5v1.5h-1.5zM349.7 474.3h1.5v1.5h-1.5zM350.7 485.1h1.5v1.5h-1.5zM350.7 521.1h1.5v1.5h-1.5zM349.6 480.1h1.5v1.5h-1.5zM343.4 506.9h1.5v1.5h-1.5zM351.1 477.3h1.5v1.5h-1.5zM349.4 509.3h1.5v1.5h-1.5zM345.5 486.6h1.5v1.5h-1.5zM349.0 489.3h1.5v1.5h-1.5zM352.6 516.7h1.5v1.5h-1.5zM359.3 528.0h1.5v1.5h-1.5zM349.1 522.0h1.5v1.5h-1.5zM357.5 509.6h1.5v1.5h-1.5zM349.5 479.4h1.5v1.5h-1.5zM353.6 501.8h1.5v1.5h-1.5zM350.4 478.7h1.5v1.5h-1.5zM354.9 483.4h1.5v1.5h-1.5zM352.1 479.6h1.5v1.5h-1.5zM349.8 498.9h1.5v1.5h-1.5zM344.6 494.9h1.5v1.5h-1.5zM355.9 493.9h1.5v1.5h-1.5zM344.8 476.6h1.5v1.5h-1.5zM348.8 482.6h1.5v1.5h-1.5zM359.4 497.5h1.5v1.5h-1.5zM352.6 496.2h1.5v1.5h-1.5zM351.9 498.6h1.5v1.5h-1.5zM352.1 492.3h1.5v1.5h-1.5zM352.6 483.5h1.5v1.5h-1.5zM353.1 495.8h1.5v1.5h-1.5zM350.8 491.9h1.5v1.5h-1.5zM350.0 525.8h1.5v1.5h-1.5zM353.6 523.3h1.5v1.5h-1.5zM354.4 490.2h1.5v1.5h-1.5zM353.1 511.7h1.5v1.5h-1.5zM355.8 489.0h1.5v1.5h-1.5zM359.9 474.8h1.5v1.5h-1.5zM359.2 490.0h1.5v1.5h-1.5zM352.0 499.8h1.5v1.5h-1.5zM346.7 527.0h1.5v1.5h-1.5zM356.7 484.0h1.5v1.5h-1.5zM352.1 491.2h1.5v1.5h-1.5zM355.0 518.5h1.5v1.5h-1.5zM350.0 482.9h1.5v1.5h-1.5zM355.4 484.4h1.5v1.5h-1.5zM346.6 483.0h1.5v1.5h-1.5zM352.3 509.2h1.5v1.5h-1.5zM345.6 489.3h1.5v1.5h-1.5zM360.6 497.2h1.5v1.5h-1.5zM350.5 516.4h1.5v1.5h-1.5zM342.3 519.9h1.5v1.5h-1.5zM357.3 516.0h1.5v1.5h-1.5zM357.7 527.8h1.5v1.5h-1.5zM346.6 491.2h1.5v1.5h-1.5zM353.3 478.5h1.5v1.5h-1.5zM357.5 479.9h1.5v1.5h-1.5zM350.8 482.9h1.5v1.5h-1.5zM353.4 513.4h1.5v1.5h-1.5zM350.7 518.6h1.5v1.5h-1.5zM350.3 508.3h1.5v1.5h-1.5zM357.8 493.0h1.5v1.5h-1.5zM348.2 479.8h1.5v1.5h-1.5zM351.8 505.2h1.5v1.5h-1.5zM354.2 480.2h1.5v1.5h-1.5zM351.9 481.9h1.5v1.5h-1.5zM355.4 508.9h1.5v1.5h-1.5zM342.9 524.7h1.5v1.5h-1.5zM356.8 495.0h1.5v1.5h-1.5zM346.4 508.8h1.5v1.5h-1.5zM350.7 479.6h1.5v1.5h-1.5zM350.2 503.0h1.5v1.5h-1.5zM353.8 499.9h1.5v1.5h-1.5zM350.9 496.6h1.5v1.5h-1.5zM349.8 513.7h1.5v1.5h-1.5zM354.7 519.4h1.5v1.5h-1.5zM360.8 499.9h1.5v1.5h-1.5zM349.0 526.3h1.5v1.5h-1.5zM348.8 497.3h1.5v1.5h-1.5zM349.1 500.0h1.5v1.5h-1.5zM346.3 478.2h1.5v1.5h-1.5zM346.3 529.9h1.5v1.5h-1.5zM349.6 517.6h1.5v1.5h-1.5zM354.8 517.9h1.5v1.5h-1.5zM349.4 478.5h1.5v1.5h-1.5zM348.0 503.6h1.5v1.5h-1.5zM351.2 476.4h1.5v1.5h-1.5zM348.1 501.4h1.5v1.5h-1.5zM363.7 519.7h1.5v1.5h-1.5zM358.5 528.3h1.5v1.5h-1.5zM351.8 495.1h1.5v1.5h-1.5zM344.2 478.3h1.5v1.5h-1.5zM349.2 505.0h1.5v1.5h-1.5zM347.6 477.5h1.5v1.5h-1.5zM347.7 508.4h1.5v1.5h-1.5zM349.3 479.6h1.5v1.5h-1.5zM349.0 506.4h1.5v1.5h-1.5zM348.6 511.5h1.5v1.5h-1.5zM345.9 474.4h1.5v1.5h-1.5zM353.2 506.5h1.5v1.5h-1.5zM347.8 522.1h1.5v1.5h-1.5zM341.6 511.2h1.5v1.5h-1.5zM347.0 499.5h1.5v1.5h-1.5zM355.1 477.1h1.5v1.5h-1.5zM356.9 483.8h1.5v1.5h-1.5zM346.6 508.2h1.5v1.5h-1.5zM350.8 478.9h1.5v1.5h-1.5zM354.0 495.9h1.5v1.5h-1.5zM355.6 517.4h1.5v1.5h-1.5zM349.5 520.6h1.5v1.5h-1.5zM352.8 528.7h1.5v1.5h-1.5zM349.6 520.5h1.5v1.5h-1.5zM343.6 521.7h1.5v1.5h-1.5zM355.6 522.3h1.5v1.5h-1.5zM351.2 521.9h1.5v1.5h-1.5zM353.4 510.2h1.5v1.5h-1.5zM350.6 530.4h1.5v1.5h-1.5zM347.7 518.0h1.5v1.5h-1.5zM349.4 496.7h1.5v1.5h-1.5zM353.0 503.6h1.5v1.5h-1.5zM345.9 496.3h1.5v1.5h-1.5zM358.3 494.3h1.5v1.5h-1.5zM361.6 490.6h1.5v1.5h-1.5zM341.5 521.7h1.5v1.5h-1.5zM355.6 490.0h1.5v1.5h-1.5zM349.6 485.0h1.5v1.5h-1.5zM354.2 491.0h1.5v1.5h-1.5zM352.4 502.0h1.5v1.5h-1.5zM350.7 525.6h1.5v1.5h-1.5zM355.5 518.5h1.5v1.5h-1.5zM352.0 504.4h1.5v1.5h-1.5zM358.1 512.3h1.5v1.5h-1.5zM353.0 509.0h1.5v1.5h-1.5zM345.2 516.9h1.5v1.5h-1.5zM350.8 504.7h1.5v1.5h-1.5zM351.6 485.5h1.5v1.5h-1.5zM349.0 526.8h1.5v1.5h-1.5zM346.2 475.7h1.5v1.5h-1.5zM360.2 522.7h1.5v1.5h-1.5zM351.3 483.2h1.5v1.5h-1.5zM351.4 519.1h1.5v1.5h-1.5zM344.4 517.1h1.5v1.5h-1.5zM354.0 480.6h1.5v1.5h-1.5zM351.1 476.8h1.5v1.5h-1.5zM356.4 499.9h1.5v1.5h-1.5zM359.0 489.2h1.5v1.5h-1.5zM348.7 517.1h1.5v1.5h-1.5zM348.4 526.4h1.5v1.5h-1.5zM356.7 512.5h1.5v1.5h-1.5zM356.3 514.3h1.5v1.5h-1.5zM353.0 513.5h1.5v1.5h-1.5zM354.8 495.4h1.5v1.5h-1.5zM350.2 520.9h1.5v1.5h-1.5zM351.5 510.3h1.5v1.5h-1.5zM351.6 499.1h1.5v1.5h-1.5zM342.2 475.9h1.5v1.5h-1.5zM354.9 499.7h1.5v1.5h-1.5zM355.0 491.6h1.5v1.5h-1.5zM347.5 503.8h1.5v1.5h-1.5zM349.2 486.1h1.5v1.5h-1.5zM352.9 529.3h1.5v1.5h-1.5zM354.8 508.7h1.5v1.5h-1.5zM351.7 520.0h1.5v1.5h-1.5zM349.6 511.5h1.5v1.5h-1.5zM353.5 514.7h1.5v1.5h-1.5zM352.2 491.3h1.5v1.5h-1.5zM347.2 496.7h1.5v1.5h-1.5zM350.2 493.8h1.5v1.5h-1.5zM350.0 506.7h1.5v1.5h-1.5zM354.5 521.8h1.5v1.5h-1.5zM345.8 519.1h1.5v1.5h-1.5zM348.1 500.6h1.5v1.5h-1.5zM349.9 517.7h1.5v1.5h-1.5zM351.7 506.5h1.5v1.5h-1.5zM362.0 478.1h1.5v1.5h-1.5zM350.8 514.5h1.5v1.5h-1.5zM356.2 525.9h1.5v1.5h-1.5zM355.0 476.1h1.5v1.5h-1.5zM357.3 484.7h1.5v1.5h-1.5zM359.2 525.7h1.5v1.5h-1.5zM354.1 480.4h1.5v1.5h-1.5zM347.4 497.3h1.5v1.5h-1.5zM350.0 521.2h1.5v1.5h-1.5zM358.2 488.6h1.5v1.5h-1.5zM361.1 507.2h1.5v1.5h-1.5zM357.2 478.4h1.5v1.5h-1.5zM362.2 476.4h1.5v1.5h-1.5zM354.6 528.0h1.5v1.5h-1.5zM347.9 482.1h1.5v1.5h-1.5zM352.0 529.4h1.5v1.5h-1.5zM352.9 479.9h1.5v1.5h-1.5zM355.7 503.8h1.5v1.5h-1.5zM355.4 527.0h1.5v1.5h-1.5zM347.8 508.8h1.5v1.5h-1.5zM356.8 513.1h1.5v1.5h-1.5zM349.1 491.7h1.5v1.5h-1.5zM352.8 491.0h1.5v1.5h-1.5zM354.5 510.7h1.5v1.5h-1.5zM354.7 490.7h1.5v1.5h-1.5zM349.2 518.6h1.5v1.5h-1.5zM351.0 525.7h1.5v1.5h-1.5zM355.7 522.8h1.5v1.5h-1.5zM349.6 515.1h1.5v1.5h-1.5zM346.4 521.6h1.5v1.5h-1.5zM340.4 502.1h1.5v1.5h-1.5zM351.7 476.4h1.5v1.5h-1.5zM347.6 478.3h1.5v1.5h-1.5zM351.6 487.6h1.5v1.5h-1.5zM346.9 485.0h1.5v1.5h-1.5zM349.7 523.8h1.5v1.5h-1.5zM349.9 527.2h1.5v1.5h-1.5zM355.8 493.7h1.5v1.5h-1.5zM347.7 507.6h1.5v1.5h-1.5zM346.3 520.9h1.5v1.5h-1.5zM352.1 527.1h1.5v1.5h-1.5zM355.2 514.3h1.5v1.5h-1.5zM347.5 506.0h1.5v1.5h-1.5zM351.6 508.5h1.5v1.5h-1.5zM353.8 522.9h1.5v1.5h-1.5zM343.3 481.4h1.5v1.5h-1.5zM352.0 489.9h1.5v1.5h-1.5zM350.4 519.8h1.5v1.5h-1.5zM352.5 524.7h1.5v1.5h-1.5zM348.5 486.7h1.5v1.5h-1.5zM329.8 517.0h1.5v1.5h-1.5zM331.7 496.8h1.5v1.5h-1.5zM338.8 490.2h1.5v1.5h-1.5zM320.7 517.2h1.5v1.5h-1.5zM322.7 516.7h1.5v1.5h-1.5zM338.5 515.4h1.5v1.5h-1.5zM329.1 500.0h1.5v1.5h-1.5zM339.9 503.2h1.5v1.5h-1.5zM327.6 507.4h1.5v1.5h-1.5zM318.1 505.1h1.5v1.5h-1.5zM330.2 525.9h1.5v1.5h-1.5zM330.1 506.1h1.5v1.5h-1.5zM333.1 506.9h1.5v1.5h-1.5zM323.2 498.2h1.5v1.5h-1.5zM326.6 513.6h1.5v1.5h-1.5zM348.2 511.3h1.5v1.5h-1.5zM325.7 501.7h1.5v1.5h-1.5zM344.3 470.0h1.5v1.5h-1.5zM320.8 512.2h1.5v1.5h-1.5zM332.5 478.2h1.5v1.5h-1.5zM333.8 516.3h1.5v1.5h-1.5zM338.1 503.7h1.5v1.5h-1.5zM330.5 516.4h1.5v1.5h-1.5zM325.0 486.8h1.5v1.5h-1.5zM331.5 502.7h1.5v1.5h-1.5zM317.7 501.8h1.5v1.5h-1.5zM309.0 491.1h1.5v1.5h-1.5zM317.2 487.5h1.5v1.5h-1.5zM344.1 512.8h1.5v1.5h-1.5zM337.8 501.1h1.5v1.5h-1.5zM346.5 510.6h1.5v1.5h-1.5zM334.8 489.4h1.5v1.5h-1.5zM322.0 476.1h1.5v1.5h-1.5zM333.3 507.2h1.5v1.5h-1.5zM322.4 500.6h1.5v1.5h-1.5zM321.2 515.1h1.5v1.5h-1.5zM324.0 503.8h1.5v1.5h-1.5zM314.1 502.7h1.5v1.5h-1.5zM334.2 490.5h1.5v1.5h-1.5zM324.3 527.8h1.5v1.5h-1.5zM341.5 499.2h1.5v1.5h-1.5zM344.8 489.4h1.5v1.5h-1.5zM330.0 521.0h1.5v1.5h-1.5zM339.6 494.6h1.5v1.5h-1.5zM340.0 493.8h1.5v1.5h-1.5zM332.3 511.2h1.5v1.5h-1.5zM329.0 528.9h1.5v1.5h-1.5zM341.6 502.2h1.5v1.5h-1.5zM336.2 510.3h1.5v1.5h-1.5zM329.0 484.1h1.5v1.5h-1.5zM326.2 507.2h1.5v1.5h-1.5zM330.6 495.1h1.5v1.5h-1.5zM338.6 499.7h1.5v1.5h-1.5zM336.5 501.7h1.5v1.5h-1.5zM325.5 520.2h1.5v1.5h-1.5zM329.2 513.6h1.5v1.5h-1.5zM332.0 502.9h1.5v1.5h-1.5zM327.0 505.3h1.5v1.5h-1.5zM329.8 505.6h1.5v1.5h-1.5zM322.2 494.3h1.5v1.5h-1.5zM323.6 503.6h1.5v1.5h-1.5zM333.0 495.0h1.5v1.5h-1.5zM332.6 503.1h1.5v1.5h-1.5zM327.9 499.3h1.5v1.5h-1.5zM349.2 510.9h1.5v1.5h-1.5zM329.1 523.5h1.5v1.5h-1.5zM336.6 493.3h1.5v1.5h-1.5zM333.0 493.1h1.5v1.5h-1.5zM326.5 495.8h1.5v1.5h-1.5zM336.4 514.6h1.5v1.5h-1.5zM340.0 490.0h1.5v1.5h-1.5zM330.7 502.9h1.5v1.5h-1.5zM334.9 502.0h1.5v1.5h-1.5zM354.9 512.8h1.5v1.5h-1.5zM323.0 510.5h1.5v1.5h-1.5zM328.8 512.3h1.5v1.5h-1.5zM335.5 499.5h1.5v1.5h-1.5zM330.6 513.0h1.5v1.5h-1.5zM323.6 504.6h1.5v1.5h-1.5zM326.5 511.3h1.5v1.5h-1.5zM328.6 520.7h1.5v1.5h-1.5zM328.3 503.5h1.5v1.5h-1.5zM331.1 502.6h1.5v1.5h-1.5zM344.2 503.2h1.5v1.5h-1.5zM327.4 490.9h1.5v1.5h-1.5zM336.5 504.3h1.5v1.5h-1.5zM336.2 516.5h1.5v1.5h-1.5zM321.5 479.6h1.5v1.5h-1.5zM325.4 503.9h1.5v1.5h-1.5zM321.3 494.7h1.5v1.5h-1.5zM333.5 502.5h1.5v1.5h-1.5zM328.8 488.8h1.5v1.5h-1.5zM341.2 518.9h1.5v1.5h-1.5zM325.8 490.3h1.5v1.5h-1.5zM327.9 505.9h1.5v1.5h-1.5zM330.1 515.3h1.5v1.5h-1.5zM344.8 510.3h1.5v1.5h-1.5zM321.2 517.2h1.5v1.5h-1.5zM335.5 503.8h1.5v1.5h-1.5zM331.3 518.4h1.5v1.5h-1.5zM340.7 495.0h1.5v1.5h-1.5zM319.3 511.1h1.5v1.5h-1.5zM320.8 510.0h1.5v1.5h-1.5zM345.2 478.7h1.5v1.5h-1.5zM341.4 494.1h1.5v1.5h-1.5zM339.9 512.5h1.5v1.5h-1.5zM329.6 499.5h1.5v1.5h-1.5zM339.7 525.0h1.5v1.5h-1.5zM330.8 513.9h1.5v1.5h-1.5zM321.4 506.5h1.5v1.5h-1.5zM329.5 513.8h1.5v1.5h-1.5zM328.4 517.2h1.5v1.5h-1.5zM321.8 496.0h1.5v1.5h-1.5zM325.8 512.0h1.5v1.5h-1.5zM324.8 514.7h1.5v1.5h-1.5zM335.1 512.0h1.5v1.5h-1.5zM339.0 512.7h1.5v1.5h-1.5zM340.2 494.2h1.5v1.5h-1.5zM340.0 500.5h1.5v1.5h-1.5zM321.6 523.5h1.5v1.5h-1.5zM335.5 487.2h1.5v1.5h-1.5zM337.6 490.5h1.5v1.5h-1.5zM334.2 508.0h1.5v1.5h-1.5zM322.7 517.0h1.5v1.5h-1.5zM305.9 504.0h1.5v1.5h-1.5zM332.0 511.7h1.5v1.5h-1.5zM323.6 497.7h1.5v1.5h-1.5zM338.3 504.8h1.5v1.5h-1.5zM318.1 488.1h1.5v1.5h-1.5zM335.3 525.1h1.5v1.5h-1.5zM327.0 512.2h1.5v1.5h-1.5zM319.4 500.7h1.5v1.5h-1.5zM326.8 510.7h1.5v1.5h-1.5zM329.4 509.7h1.5v1.5h-1.5zM337.7 519.1h1.5v1.5h-1.5zM337.4 479.9h1.5v1.5h-1.5zM341.2 506.7h1.5v1.5h-1.5zM337.1 495.5h1.5v1.5h-1.5zM326.7 514.3h1.5v1.5h-1.5zM326.9 510.3h1.5v1.5h-1.5zM332.0 505.3h1.5v1.5h-1.5zM327.7 483.4h1.5v1.5h-1.5zM316.6 486.9h1.5v1.5h-1.5zM313.1 477.8h1.5v1.5h-1.5zM337.1 485.0h1.5v1.5h-1.5zM331.6 485.4h1.5v1.5h-1.5zM347.4 507.1h1.5v1.5h-1.5zM326.3 513.2h1.5v1.5h-1.5zM339.5 487.6h1.5v1.5h-1.5zM331.9 513.5h1.5v1.5h-1.5zM334.8 497.5h1.5v1.5h-1.5zM331.2 512.2h1.5v1.5h-1.5zM340.0 517.7h1.5v1.5h-1.5zM335.0 503.6h1.5v1.5h-1.5zM326.6 515.7h1.5v1.5h-1.5zM329.7 508.3h1.5v1.5h-1.5zM328.6 493.2h1.5v1.5h-1.5zM331.3 506.8h1.5v1.5h-1.5zM332.5 491.6h1.5v1.5h-1.5zM327.0 510.1h1.5v1.5h-1.5zM325.7 499.9h1.5v1.5h-1.5zM330.5 517.2h1.5v1.5h-1.5zM315.5 487.6h1.5v1.5h-1.5zM334.1 530.3h1.5v1.5h-1.5zM333.8 500.7h1.5v1.5h-1.5zM304.2 497.2h1.5v1.5h-1.5zM330.4 525.2h1.5v1.5h-1.5zM311.4 523.8h1.5v1.5h-1.5zM334.3 505.4h1.5v1.5h-1.5zM339.0 507.7h1.5v1.5h-1.5zM334.6 508.7h1.5v1.5h-1.5zM338.6 496.6h1.5v1.5h-1.5zM329.7 475.4h1.5v1.5h-1.5zM337.8 517.3h1.5v1.5h-1.5zM336.5 499.8h1.5v1.5h-1.5zM329.5 503.8h1.5v1.5h-1.5zM331.3 490.6h1.5v1.5h-1.5zM319.1 525.0h1.5v1.5h-1.5zM339.2 518.1h1.5v1.5h-1.5zM339.4 518.2h1.5v1.5h-1.5zM323.6 501.3h1.5v1.5h-1.5zM317.5 510.5h1.5v1.5h-1.5zM313.7 530.0h1.5v1.5h-1.5zM340.4 513.9h1.5v1.5h-1.5zM333.5 525.0h1.5v1.5h-1.5zM346.8 514.2h1.5v1.5h-1.5zM341.4 506.9h1.5v1.5h-1.5zM347.8 514.5h1.5v1.5h-1.5zM337.6 489.0h1.5v1.5h-1.5zM325.8 475.8h1.5v1.5h-1.5zM327.6 498.1h1.5v1.5h-1.5zM340.0 524.2h1.5v1.5h-1.5zM318.4 486.3h1.5v1.5h-1.5zM335.4 477.8h1.5v1.5h-1.5zM327.0 506.9h1.5v1.5h-1.5zM341.5 499.7h1.5v1.5h-1.5zM325.8 490.5h1.5v1.5h-1.5zM324.3 501.9h1.5v1.5h-1.5zM338.7 488.5h1.5v1.5h-1.5zM303.1 497.4h1.5v1.5h-1.5zM339.6 512.3h1.5v1.5h-1.5zM333.0 510.7h1.5v1.5h-1.5zM325.4 507.7h1.5v1.5h-1.5zM336.2 513.2h1.5v1.5h-1.5zM326.4 487.8h1.5v1.5h-1.5zM335.8 500.4h1.5v1.5h-1.5zM331.3 507.0h1.5v1.5h-1.5zM337.0 494.2h1.5v1.5h-1.5zM322.4 503.5h1.5v1.5h-1.5zM324.7 491.3h1.5v1.5h-1.5zM346.2 483.9h1.5v1.5h-1.5zM333.1 502.3h1.5v1.5h-1.5zM328.9 512.0h1.5v1.5h-1.5zM322.8 519.5h1.5v1.5h-1.5zM326.0 482.0h1.5v1.5h-1.5zM332.5 499.6h1.5v1.5h-1.5zM320.2 512.1h1.5v1.5h-1.5zM330.1 505.7h1.5v1.5h-1.5zM328.3 518.9h1.5v1.5h-1.5zM313.8 487.5h1.5v1.5h-1.5zM330.5 500.6h1.5v1.5h-1.5zM340.9 509.2h1.5v1.5h-1.5zM326.8 523.3h1.5v1.5h-1.5zM328.6 477.6h1.5v1.5h-1.5zM332.7 503.0h1.5v1.5h-1.5zM315.6 511.8h1.5v1.5h-1.5zM330.7 504.9h1.5v1.5h-1.5zM326.7 502.6h1.5v1.5h-1.5zM324.9 518.4h1.5v1.5h-1.5zM342.3 489.9h1.5v1.5h-1.5zM331.4 497.1h1.5v1.5h-1.5zM324.1 504.0h1.5v1.5h-1.5zM324.6 512.9h1.5v1.5h-1.5zM344.0 527.2h1.5v1.5h-1.5zM337.4 510.4h1.5v1.5h-1.5zM315.3 507.2h1.5v1.5h-1.5zM335.6 519.6h1.5v1.5h-1.5zM326.2 500.8h1.5v1.5h-1.5zM325.5 494.4h1.5v1.5h-1.5zM340.0 510.6h1.5v1.5h-1.5zM336.6 509.7h1.5v1.5h-1.5zM323.2 504.8h1.5v1.5h-1.5zM330.3 483.4h1.5v1.5h-1.5zM335.9 486.4h1.5v1.5h-1.5zM329.4 525.7h1.5v1.5h-1.5zM334.0 510.9h1.5v1.5h-1.5zM324.5 472.1h1.5v1.5h-1.5zM341.5 508.8h1.5v1.5h-1.5zM342.8 482.3h1.5v1.5h-1.5zM324.8 498.1h1.5v1.5h-1.5zM318.3 488.5h1.5v1.5h-1.5zM326.4 509.1h1.5v1.5h-1.5zM337.9 503.4h1.5v1.5h-1.5zM332.2 497.6h1.5v1.5h-1.5zM330.0 504.7h1.5v1.5h-1.5zM332.0 505.2h1.5v1.5h-1.5zM317.8 486.3h1.5v1.5h-1.5zM330.1 506.6h1.5v1.5h-1.5zM329.6 487.7h1.5v1.5h-1.5zM325.1 512.1h1.5v1.5h-1.5zM337.2 508.5h1.5v1.5h-1.5zM324.9 495.2h1.5v1.5h-1.5zM325.0 498.0h1.5v1.5h-1.5zM336.4 492.1h1.5v1.5h-1.5zM335.9 504.0h1.5v1.5h-1.5zM331.1 504.8h1.5v1.5h-1.5zM332.4 510.5h1.5v1.5h-1.5zM333.8 524.5h1.5v1.5h-1.5zM333.3 509.7h1.5v1.5h-1.5zM322.1 491.3h1.5v1.5h-1.5zM337.6 505.3h1.5v1.5h-1.5zM347.7 501.9h1.5v1.5h-1.5zM333.8 488.6h1.5v1.5h-1.5zM328.2 516.1h1.5v1.5h-1.5zM340.5 500.0h1.5v1.5h-1.5zM335.8 511.5h1.5v1.5h-1.5zM324.1 490.1h1.5v1.5h-1.5zM329.7 523.0h1.5v1.5h-1.5zM325.6 508.9h1.5v1.5h-1.5zM339.2 510.9h1.5v1.5h-1.5zM319.3 508.7h1.5v1.5h-1.5zM341.2 511.5h1.5v1.5h-1.5zM324.7 480.7h1.5v1.5h-1.5zM333.0 507.2h1.5v1.5h-1.5zM326.8 506.3h1.5v1.5h-1.5zM333.8 522.7h1.5v1.5h-1.5zM340.4 521.2h1.5v1.5h-1.5zM335.9 514.0h1.5v1.5h-1.5zM320.1 519.8h1.5v1.5h-1.5zM328.3 498.0h1.5v1.5h-1.5zM331.6 511.8h1.5v1.5h-1.5zM346.6 510.2h1.5v1.5h-1.5zM326.1 506.2h1.5v1.5h-1.5zM327.1 516.0h1.5v1.5h-1.5zM323.9 520.4h1.5v1.5h-1.5zM330.0 513.0h1.5v1.5h-1.5zM336.1 501.8h1.5v1.5h-1.5zM322.0 505.8h1.5v1.5h-1.5zM342.5 515.2h1.5v1.5h-1.5zM341.3 484.3h1.5v1.5h-1.5zM337.4 499.8h1.5v1.5h-1.5zM335.8 496.0h1.5v1.5h-1.5zM351.4 485.0h1.5v1.5h-1.5zM321.5 516.0h1.5v1.5h-1.5zM325.8 492.3h1.5v1.5h-1.5zM348.9 501.2h1.5v1.5h-1.5zM320.0 500.7h1.5v1.5h-1.5zM333.2 523.6h1.5v1.5h-1.5zM329.0 514.6h1.5v1.5h-1.5zM322.5 504.3h1.5v1.5h-1.5zM322.4 505.0h1.5v1.5h-1.5zM328.7 484.9h1.5v1.5h-1.5zM332.8 509.2h1.5v1.5h-1.5zM334.7 501.3h1.5v1.5h-1.5zM335.6 508.3h1.5v1.5h-1.5zM331.1 520.8h1.5v1.5h-1.5zM330.8 508.7h1.5v1.5h-1.5zM335.7 503.1h1.5v1.5h-1.5zM325.1 482.5h1.5v1.5h-1.5zM319.1 488.7h1.5v1.5h-1.5zM337.7 511.1h1.5v1.5h-1.5zM312.7 515.7h1.5v1.5h-1.5zM335.3 504.7h1.5v1.5h-1.5zM341.4 511.5h1.5v1.5h-1.5zM319.8 473.3h1.5v1.5h-1.5zM311.4 493.7h1.5v1.5h-1.5zM323.2 505.0h1.5v1.5h-1.5zM333.1 511.1h1.5v1.5h-1.5zM322.2 517.8h1.5v1.5h-1.5zM339.3 505.5h1.5v1.5h-1.5zM322.0 509.2h1.5v1.5h-1.5zM337.0 510.0h1.5v1.5h-1.5zM318.2 485.1h1.5v1.5h-1.5zM326.6 526.3h1.5v1.5h-1.5zM332.4 492.9h1.5v1.5h-1.5zM341.8 508.5h1.5v1.5h-1.5zM337.2 494.5h1.5v1.5h-1.5zM343.3 513.6h1.5v1.5h-1.5zM318.1 499.1h1.5v1.5h-1.5zM358.0 493.7h1.5v1.5h-1.5zM322.9 472.1h1.5v1.5h-1.5zM332.8 514.4h1.5v1.5h-1.5zM343.9 505.8h1.5v1.5h-1.5zM334.9 505.5h1.5v1.5h-1.5zM340.8 511.6h1.5v1.5h-1.5zM320.0 505.4h1.5v1.5h-1.5zM320.8 503.9h1.5v1.5h-1.5zM326.7 508.5h1.5v1.5h-1.5zM325.6 525.8h1.5v1.5h-1.5zM331.4 500.9h1.5v1.5h-1.5zM327.7 522.4h1.5v1.5h-1.5zM320.5 505.3h1.5v1.5h-1.5zM332.4 491.5h1.5v1.5h-1.5zM318.4 520.2h1.5v1.5h-1.5zM324.5 505.8h1.5v1.5h-1.5zM333.2 501.7h1.5v1.5h-1.5zM322.8 504.8h1.5v1.5h-1.5zM330.3 510.1h1.5v1.5h-1.5zM336.1 504.0h1.5v1.5h-1.5zM343.2 495.6h1.5v1.5h-1.5zM340.8 516.9h1.5v1.5h-1.5zM338.1 506.3h1.5v1.5h-1.5zM334.7 495.2h1.5v1.5h-1.5zM319.7 511.6h1.5v1.5h-1.5zM323.1 519.2h1.5v1.5h-1.5zM322.9 494.6h1.5v1.5h-1.5zM325.8 495.4h1.5v1.5h-1.5zM329.3 492.1h1.5v1.5h-1.5zM322.2 504.3h1.5v1.5h-1.5zM326.7 512.3h1.5v1.5h-1.5zM340.0 485.1h1.5v1.5h-1.5zM326.6 488.5h1.5v1.5h-1.5zM313.8 494.1h1.5v1.5h-1.5zM328.0 510.3h1.5v1.5h-1.5zM329.2 502.6h1.5v1.5h-1.5zM327.3 515.1h1.5v1.5h-1.5zM348.8 517.2h1.5v1.5h-1.5zM338.4 503.0h1.5v1.5h-1.5zM345.0 500.1h1.5v1.5h-1.5zM325.1 497.1h1.5v1.5h-1.5zM336.9 502.8h1.5v1.5h-1.5zM332.5 478.5h1.5v1.5h-1.5zM329.6 516.3h1.5v1.5h-1.5zM323.2 487.6h1.5v1.5h-1.5zM332.2 509.1h1.5v1.5h-1.5zM313.7 492.3h1.5v1.5h-1.5zM338.6 515.6h1.5v1.5h-1.5zM354.3 476.5h1.5v1.5h-1.5zM343.1 486.0h1.5v1.5h-1.5zM312.4 524.1h1.5v1.5h-1.5zM332.0 487.6h1.5v1.5h-1.5zM323.9 501.7h1.5v1.5h-1.5zM325.1 492.6h1.5v1.5h-1.5zM328.0 503.9h1.5v1.5h-1.5zM340.4 505.6h1.5v1.5h-1.5zM336.6 521.2h1.5v1.5h-1.5zM323.1 509.8h1.5v1.5h-1.5zM335.1 504.2h1.5v1.5h-1.5zM331.7 524.8h1.5v1.5h-1.5zM347.8 516.2h1.5v1.5h-1.5zM317.7 503.7h1.5v1.5h-1.5zM329.3 498.2h1.5v1.5h-1.5zM322.2 509.5h1.5v1.5h-1.5zM330.0 486.3h1.5v1.5h-1.5zM313.0 510.3h1.5v1.5h-1.5zM322.3 496.0h1.5v1.5h-1.5zM329.3 487.3h1.5v1.5h-1.5zM325.2 513.6h1.5v1.5h-1.5zM322.7 489.3h1.5v1.5h-1.5zM329.2 505.4h1.5v1.5h-1.5zM325.4 514.3h1.5v1.5h-1.5zM322.3 483.5h1.5v1.5h-1.5zM328.2 483.1h1.5v1.5h-1.5zM330.5 507.5h1.5v1.5h-1.5zM333.0 490.2h1.5v1.5h-1.5zM315.4 491.2h1.5v1.5h-1.5zM326.7 503.9h1.5v1.5h-1.5zM340.3 476.0h1.5v1.5h-1.5zM317.9 505.0h1.5v1.5h-1.5zM331.3 511.8h1.5v1.5h-1.5zM326.0 503.2h1.5v1.5h-1.5zM339.5 504.9h1.5v1.5h-1.5zM340.7 509.0h1.5v1.5h-1.5zM332.5 507.0h1.5v1.5h-1.5zM325.9 520.3h1.5v1.5h-1.5zM316.7 495.8h1.5v1.5h-1.5zM325.7 520.5h1.5v1.5h-1.5zM323.0 489.6h1.5v1.5h-1.5zM330.5 494.7h1.5v1.5h-1.5zM343.4 508.3h1.5v1.5h-1.5zM346.4 508.3h1.5v1.5h-1.5zM332.8 511.7h1.5v1.5h-1.5zM331.3 503.3h1.5v1.5h-1.5zM329.1 481.3h1.5v1.5h-1.5zM332.8 499.3h1.5v1.5h-1.5zM328.5 508.7h1.5v1.5h-1.5zM345.2 481.3h1.5v1.5h-1.5zM323.9 508.4h1.5v1.5h-1.5zM331.3 507.8h1.5v1.5h-1.5zM325.0 476.4h1.5v1.5h-1.5zM338.3 494.9h1.5v1.5h-1.5zM345.6 488.3h1.5v1.5h-1.5zM335.9 495.5h1.5v1.5h-1.5zM332.0 496.6h1.5v1.5h-1.5zM330.8 494.7h1.5v1.5h-1.5zM335.2 493.7h1.5v1.5h-1.5zM326.4 475.5h1.5v1.5h-1.5zM344.4 518.0h1.5v1.5h-1.5zM338.9 506.8h1.5v1.5h-1.5zM337.3 521.9h1.5v1.5h-1.5zM327.0 501.3h1.5v1.5h-1.5zM345.9 518.3h1.5v1.5h-1.5zM318.7 502.8h1.5v1.5h-1.5zM324.3 489.4h1.5v1.5h-1.5zM348.4 509.7h1.5v1.5h-1.5zM327.0 512.6h1.5v1.5h-1.5zM323.6 493.4h1.5v1.5h-1.5zM316.5 512.8h1.5v1.5h-1.5zM339.3 504.3h1.5v1.5h-1.5zM340.6 505.1h1.5v1.5h-1.5zM332.3 519.5h1.5v1.5h-1.5zM316.8 491.4h1.5v1.5h-1.5zM329.8 517.1h1.5v1.5h-1.5zM323.9 492.0h1.5v1.5h-1.5zM338.2 498.6h1.5v1.5h-1.5zM343.0 516.8h1.5v1.5h-1.5zM334.3 507.8h1.5v1.5h-1.5zM334.2 492.5h1.5v1.5h-1.5zM343.7 506.9h1.5v1.5h-1.5zM345.0 475.6h1.5v1.5h-1.5zM320.6 515.9h1.5v1.5h-1.5zM334.5 488.3h1.5v1.5h-1.5zM320.8 524.2h1.5v1.5h-1.5zM324.2 506.6h1.5v1.5h-1.5zM340.3 490.8h1.5v1.5h-1.5zM321.3 527.5h1.5v1.5h-1.5zM329.3 500.0h1.5v1.5h-1.5zM341.2 517.3h1.5v1.5h-1.5zM334.6 520.2h1.5v1.5h-1.5zM316.9 512.7h1.5v1.5h-1.5zM329.9 510.4h1.5v1.5h-1.5zM328.8 509.7h1.5v1.5h-1.5zM323.2 511.0h1.5v1.5h-1.5zM348.0 514.4h1.5v1.5h-1.5zM331.3 486.5h1.5v1.5h-1.5zM339.5 476.8h1.5v1.5h-1.5zM332.2 497.8h1.5v1.5h-1.5zM319.7 507.1h1.5v1.5h-1.5zM330.9 516.0h1.5v1.5h-1.5zM334.5 500.0h1.5v1.5h-1.5zM332.3 500.0h1.5v1.5h-1.5zM339.8 515.0h1.5v1.5h-1.5zM338.3 505.8h1.5v1.5h-1.5zM335.3 494.1h1.5v1.5h-1.5zM329.6 499.8h1.5v1.5h-1.5zM331.3 504.2h1.5v1.5h-1.5zM347.3 502.0h1.5v1.5h-1.5zM317.1 512.8h1.5v1.5h-1.5zM340.5 504.3h1.5v1.5h-1.5zM334.8 502.6h1.5v1.5h-1.5zM325.2 513.0h1.5v1.5h-1.5zM331.0 505.1h1.5v1.5h-1.5zM336.2 492.1h1.5v1.5h-1.5zM319.3 490.4h1.5v1.5h-1.5zM335.9 521.8h1.5v1.5h-1.5zM323.6 490.9h1.5v1.5h-1.5zM332.2 498.2h1.5v1.5h-1.5zM342.8 498.0h1.5v1.5h-1.5zM332.8 521.3h1.5v1.5h-1.5zM323.9 502.7h1.5v1.5h-1.5zM317.8 496.2h1.5v1.5h-1.5zM316.3 498.2h1.5v1.5h-1.5zM339.4 512.8h1.5v1.5h-1.5zM329.4 510.9h1.5v1.5h-1.5zM330.3 499.7h1.5v1.5h-1.5zM329.3 501.3h1.5v1.5h-1.5zM324.9 487.1h1.5v1.5h-1.5zM336.9 511.2h1.5v1.5h-1.5zM343.6 487.9h1.5v1.5h-1.5zM321.1 518.2h1.5v1.5h-1.5zM336.2 502.3h1.5v1.5h-1.5zM336.6 485.4h1.5v1.5h-1.5zM321.6 516.5h1.5v1.5h-1.5zM323.8 499.4h1.5v1.5h-1.5zM324.3 479.3h1.5v1.5h-1.5zM339.7 519.8h1.5v1.5h-1.5zM333.0 528.8h1.5v1.5h-1.5zM325.2 490.2h1.5v1.5h-1.5zM337.0 509.8h1.5v1.5h-1.5zM325.6 504.3h1.5v1.5h-1.5zM332.2 502.7h1.5v1.5h-1.5zM330.5 487.9h1.5v1.5h-1.5zM324.0 507.3h1.5v1.5h-1.5zM339.1 491.0h1.5v1.5h-1.5zM331.6 493.9h1.5v1.5h-1.5zM312.0 503.8h1.5v1.5h-1.5zM329.6 490.3h1.5v1.5h-1.5zM343.7 499.8h1.5v1.5h-1.5zM312.4 504.9h1.5v1.5h-1.5zM338.7 465.2h1.5v1.5h-1.5zM333.1 529.1h1.5v1.5h-1.5zM320.9 518.4h1.5v1.5h-1.5zM331.0 516.7h1.5v1.5h-1.5zM321.6 509.1h1.5v1.5h-1.5zM318.3 501.5h1.5v1.5h-1.5zM334.4 506.5h1.5v1.5h-1.5zM333.5 474.8h1.5v1.5h-1.5zM316.0 510.3h1.5v1.5h-1.5zM326.6 517.5h1.5v1.5h-1.5zM331.4 503.5h1.5v1.5h-1.5zM317.9 509.3h1.5v1.5h-1.5zM340.2 510.0h1.5v1.5h-1.5zM324.9 492.0h1.5v1.5h-1.5zM334.4 499.8h1.5v1.5h-1.5zM336.5 489.4h1.5v1.5h-1.5zM323.2 517.3h1.5v1.5h-1.5zM334.0 496.0h1.5v1.5h-1.5zM332.1 503.6h1.5v1.5h-1.5zM334.5 511.7h1.5v1.5h-1.5zM327.5 523.8h1.5v1.5h-1.5zM339.2 504.8h1.5v1.5h-1.5zM337.1 518.6h1.5v1.5h-1.5zM344.0 494.6h1.5v1.5h-1.5zM340.0 498.0h1.5v1.5h-1.5zM319.8 497.7h1.5v1.5h-1.5zM326.4 468.2h1.5v1.5h-1.5zM334.7 487.6h1.5v1.5h-1.5zM339.5 529.6h1.5v1.5h-1.5zM325.3 496.3h1.5v1.5h-1.5zM331.2 501.2h1.5v1.5h-1.5zM333.7 501.1h1.5v1.5h-1.5zM330.2 510.2h1.5v1.5h-1.5zM339.5 492.1h1.5v1.5h-1.5zM335.4 520.9h1.5v1.5h-1.5zM324.5 496.0h1.5v1.5h-1.5zM334.7 501.5h1.5v1.5h-1.5zM323.4 492.2h1.5v1.5h-1.5zM328.7 508.7h1.5v1.5h-1.5zM338.9 510.7h1.5v1.5h-1.5zM323.1 493.9h1.5v1.5h-1.5zM331.7 501.8h1.5v1.5h-1.5zM336.5 526.0h1.5v1.5h-1.5zM330.2 491.8h1.5v1.5h-1.5zM328.8 517.8h1.5v1.5h-1.5zM331.2 492.6h1.5v1.5h-1.5zM323.7 501.5h1.5v1.5h-1.5zM337.4 496.5h1.5v1.5h-1.5zM337.1 490.8h1.5v1.5h-1.5zM345.6 516.9h1.5v1.5h-1.5zM333.5 495.5h1.5v1.5h-1.5zM340.2 504.7h1.5v1.5h-1.5zM327.0 507.2h1.5v1.5h-1.5zM335.1 503.8h1.5v1.5h-1.5zM323.5 510.4h1.5v1.5h-1.5zM333.1 503.4h1.5v1.5h-1.5zM328.5 500.8h1.5v1.5h-1.5zM339.1 512.1h1.5v1.5h-1.5zM314.2 489.9h1.5v1.5h-1.5zM329.7 502.7h1.5v1.5h-1.5zM328.6 518.0h1.5v1.5h-1.5zM336.6 498.1h1.5v1.5h-1.5zM325.2 497.3h1.5v1.5h-1.5zM327.6 522.2h1.5v1.5h-1.5zM341.6 500.2h1.5v1.5h-1.5zM325.9 508.7h1.5v1.5h-1.5zM327.9 500.6h1.5v1.5h-1.5zM340.6 506.1h1.5v1.5h-1.5zM313.6 499.0h1.5v1.5h-1.5zM334.5 501.6h1.5v1.5h-1.5zM333.3 502.9h1.5v1.5h-1.5zM316.3 496.9h1.5v1.5h-1.5zM319.3 494.7h1.5v1.5h-1.5zM324.2 488.1h1.5v1.5h-1.5zM324.0 499.6h1.5v1.5h-1.5zM336.7 487.1h1.5v1.5h-1.5zM327.4 492.9h1.5v1.5h-1.5zM342.9 510.0h1.5v1.5h-1.5zM330.9 512.8h1.5v1.5h-1.5zM336.2 487.6h1.5v1.5h-1.5zM325.6 494.9h1.5v1.5h-1.5zM326.2 526.3h1.5v1.5h-1.5zM334.7 517.4h1.5v1.5h-1.5zM338.4 489.0h1.5v1.5h-1.5zM325.6 501.9h1.5v1.5h-1.5zM341.8 526.0h1.5v1.5h-1.5zM329.1 498.3h1.5v1.5h-1.5zM344.1 491.2h1.5v1.5h-1.5zM320.9 495.5h1.5v1.5h-1.5zM328.2 504.5h1.5v1.5h-1.5zM336.5 506.4h1.5v1.5h-1.5zM330.5 510.7h1.5v1.5h-1.5zM326.3 510.5h1.5v1.5h-1.5zM336.5 500.4h1.5v1.5h-1.5zM339.0 471.6h1.5v1.5h-1.5zM327.8 470.7h1.5v1.5h-1.5zM337.5 506.1h1.5v1.5h-1.5zM327.6 522.9h1.5v1.5h-1.5zM324.6 505.1h1.5v1.5h-1.5zM341.8 507.5h1.5v1.5h-1.5zM326.5 507.1h1.5v1.5h-1.5zM327.1 525.3h1.5v1.5h-1.5zM337.4 504.8h1.5v1.5h-1.5zM323.0 512.3h1.5v1.5h-1.5zM323.3 503.3h1.5v1.5h-1.5zM329.0 523.8h1.5v1.5h-1.5zM331.9 503.5h1.5v1.5h-1.5zM338.8 519.5h1.5v1.5h-1.5zM329.6 514.6h1.5v1.5h-1.5zM325.7 512.3h1.5v1.5h-1.5zM320.5 511.0h1.5v1.5h-1.5zM328.4 511.0h1.5v1.5h-1.5zM327.3 511.2h1.5v1.5h-1.5zM340.3 511.9h1.5v1.5h-1.5zM317.8 513.0h1.5v1.5h-1.5zM316.4 511.4h1.5v1.5h-1.5zM315.6 508.4h1.5v1.5h-1.5zM329.1 479.8h1.5v1.5h-1.5zM334.7 492.2h1.5v1.5h-1.5zM344.4 511.6h1.5v1.5h-1.5zM317.6 521.6h1.5v1.5h-1.5zM332.3 489.4h1.5v1.5h-1.5zM325.9 504.1h1.5v1.5h-1.5zM344.4 499.5h1.5v1.5h-1.5zM333.9 489.0h1.5v1.5h-1.5zM343.6 528.4h1.5v1.5h-1.5zM330.8 511.8h1.5v1.5h-1.5zM339.9 501.6h1.5v1.5h-1.5zM334.0 486.0h1.5v1.5h-1.5zM325.7 505.0h1.5v1.5h-1.5zM338.8 502.9h1.5v1.5h-1.5zM328.5 504.4h1.5v1.5h-1.5zM312.3 504.5h1.5v1.5h-1.5zM330.1 502.0h1.5v1.5h-1.5zM320.8 511.3h1.5v1.5h-1.5zM335.4 513.1h1.5v1.5h-1.5zM343.7 508.8h1.5v1.5h-1.5zM333.5 495.9h1.5v1.5h-1.5zM335.6 488.9h1.5v1.5h-1.5zM320.8 502.3h1.5v1.5h-1.5zM324.4 507.4h1.5v1.5h-1.5zM326.1 488.2h1.5v1.5h-1.5zM347.3 496.8h1.5v1.5h-1.5zM327.5 494.5h1.5v1.5h-1.5zM333.3 505.5h1.5v1.5h-1.5zM315.7 509.3h1.5v1.5h-1.5zM326.8 497.7h1.5v1.5h-1.5zM332.0 505.9h1.5v1.5h-1.5zM329.8 488.9h1.5v1.5h-1.5zM328.5 515.3h1.5v1.5h-1.5zM334.6 499.7h1.5v1.5h-1.5zM335.0 503.7h1.5v1.5h-1.5zM320.9 517.0h1.5v1.5h-1.5zM319.8 508.5h1.5v1.5h-1.5zM335.6 517.4h1.5v1.5h-1.5zM337.7 508.4h1.5v1.5h-1.5zM319.6 507.4h1.5v1.5h-1.5zM336.6 469.9h1.5v1.5h-1.5zM319.3 517.3h1.5v1.5h-1.5zM329.5 495.6h1.5v1.5h-1.5zM341.5 509.8h1.5v1.5h-1.5zM317.3 499.2h1.5v1.5h-1.5zM330.9 508.2h1.5v1.5h-1.5zM329.1 514.2h1.5v1.5h-1.5zM321.4 485.6h1.5v1.5h-1.5zM337.2 489.6h1.5v1.5h-1.5zM323.0 526.2h1.5v1.5h-1.5zM325.3 505.8h1.5v1.5h-1.5zM321.7 508.5h1.5v1.5h-1.5zM334.5 524.3h1.5v1.5h-1.5zM335.5 501.8h1.5v1.5h-1.5zM342.2 497.4h1.5v1.5h-1.5zM328.8 503.3h1.5v1.5h-1.5zM323.9 498.0h1.5v1.5h-1.5zM343.3 481.2h1.5v1.5h-1.5zM325.7 509.7h1.5v1.5h-1.5zM336.5 487.9h1.5v1.5h-1.5zM344.3 475.9h1.5v1.5h-1.5zM315.6 506.8h1.5v1.5h-1.5zM322.0 486.5h1.5v1.5h-1.5zM324.2 499.5h1.5v1.5h-1.5zM337.8 511.7h1.5v1.5h-1.5zM324.2 485.5h1.5v1.5h-1.5zM337.2 492.5h1.5v1.5h-1.5zM332.6 524.4h1.5v1.5h-1.5zM332.1 493.3h1.5v1.5h-1.5zM330.6 506.1h1.5v1.5h-1.5zM324.4 501.2h1.5v1.5h-1.5zM342.2 518.9h1.5v1.5h-1.5zM331.8 496.8h1.5v1.5h-1.5zM343.3 501.7h1.5v1.5h-1.5zM323.1 515.9h1.5v1.5h-1.5zM316.5 508.1h1.5v1.5h-1.5zM342.4 485.5h1.5v1.5h-1.5zM320.9 484.1h1.5v1.5h-1.5zM331.6 522.9h1.5v1.5h-1.5zM327.5 497.3h1.5v1.5h-1.5zM329.3 507.6h1.5v1.5h-1.5zM327.8 510.3h1.5v1.5h-1.5zM321.4 500.6h1.5v1.5h-1.5zM320.5 484.3h1.5v1.5h-1.5zM332.4 496.7h1.5v1.5h-1.5zM324.6 516.0h1.5v1.5h-1.5zM345.0 503.0h1.5v1.5h-1.5zM331.2 498.0h1.5v1.5h-1.5zM342.3 489.5h1.5v1.5h-1.5zM326.5 504.6h1.5v1.5h-1.5zM337.2 501.9h1.5v1.5h-1.5zM325.5 500.7h1.5v1.5h-1.5zM322.6 495.3h1.5v1.5h-1.5zM328.5 527.8h1.5v1.5h-1.5zM328.8 485.8h1.5v1.5h-1.5zM352.3 499.5h1.5v1.5h-1.5zM319.3 503.5h1.5v1.5h-1.5zM325.0 517.6h1.5v1.5h-1.5zM336.5 500.3h1.5v1.5h-1.5zM329.1 478.3h1.5v1.5h-1.5zM331.7 511.3h1.5v1.5h-1.5zM337.0 524.5h1.5v1.5h-1.5zM329.3 498.0h1.5v1.5h-1.5zM324.4 503.3h1.5v1.5h-1.5zM319.0 504.3h1.5v1.5h-1.5zM329.9 523.2h1.5v1.5h-1.5zM335.0 498.2h1.5v1.5h-1.5zM332.2 495.4h1.5v1.5h-1.5zM326.9 501.6h1.5v1.5h-1.5zM332.8 493.8h1.5v1.5h-1.5zM323.4 515.2h1.5v1.5h-1.5zM335.3 502.5h1.5v1.5h-1.5zM326.4 476.1h1.5v1.5h-1.5zM335.8 499.0h1.5v1.5h-1.5zM325.2 474.7h1.5v1.5h-1.5zM317.4 499.3h1.5v1.5h-1.5zM322.7 506.5h1.5v1.5h-1.5zM327.8 513.6h1.5v1.5h-1.5zM324.6 485.4h1.5v1.5h-1.5zM328.0 520.8h1.5v1.5h-1.5zM335.0 511.5h1.5v1.5h-1.5zM330.2 509.0h1.5v1.5h-1.5zM334.3 499.8h1.5v1.5h-1.5zM329.0 503.0h1.5v1.5h-1.5zM324.5 522.7h1.5v1.5h-1.5zM376.8 491.8h1.5v1.5h-1.5zM448.1 487.4h1.5v1.5h-1.5zM362.5 481.1h1.5v1.5h-1.5zM398.6 482.9h1.5v1.5h-1.5zM407.3 501.0h1.5v1.5h-1.5zM407.6 481.7h1.5v1.5h-1.5zM435.7 498.1h1.5v1.5h-1.5zM384.1 493.4h1.5v1.5h-1.5zM371.0 476.5h1.5v1.5h-1.5zM374.6 488.2h1.5v1.5h-1.5zM392.9 489.9h1.5v1.5h-1.5zM445.3 506.1h1.5v1.5h-1.5zM475.7 478.7h1.5v1.5h-1.5zM367.7 491.5h1.5v1.5h-1.5zM409.5 487.7h1.5v1.5h-1.5zM459.2 494.3h1.5v1.5h-1.5zM369.5 498.2h1.5v1.5h-1.5zM359.5 490.2h1.5v1.5h-1.5zM362.0 508.1h1.5v1.5h-1.5zM418.1 480.5h1.5v1.5h-1.5zM435.8 480.0h1.5v1.5h-1.5zM432.4 494.5h1.5v1.5h-1.5zM406.7 495.2h1.5v1.5h-1.5zM484.1 482.6h1.5v1.5h-1.5zM375.8 488.8h1.5v1.5h-1.5zM425.1 493.3h1.5v1.5h-1.5zM482.6 484.2h1.5v1.5h-1.5zM374.6 498.9h1.5v1.5h-1.5zM411.5 500.7h1.5v1.5h-1.5zM437.3 479.4h1.5v1.5h-1.5zM382.5 484.5h1.5v1.5h-1.5zM385.2 500.3h1.5v1.5h-1.5zM401.7 487.3h1.5v1.5h-1.5zM403.6 486.1h1.5v1.5h-1.5zM382.8 474.1h1.5v1.5h-1.5zM444.8 475.0h1.5v1.5h-1.5zM434.7 473.9h1.5v1.5h-1.5zM364.6 492.5h1.5v1.5h-1.5zM370.9 478.7h1.5v1.5h-1.5zM390.0 494.3h1.5v1.5h-1.5zM466.6 491.6h1.5v1.5h-1.5zM419.5 468.1h1.5v1.5h-1.5zM416.0 494.6h1.5v1.5h-1.5zM379.5 476.1h1.5v1.5h-1.5zM356.4 494.6h1.5v1.5h-1.5zM378.3 494.4h1.5v1.5h-1.5zM458.4 470.1h1.5v1.5h-1.5zM356.2 508.7h1.5v1.5h-1.5zM378.0 488.1h1.5v1.5h-1.5zM431.8 481.9h1.5v1.5h-1.5zM453.6 490.8h1.5v1.5h-1.5zM376.7 498.7h1.5v1.5h-1.5zM365.8 498.6h1.5v1.5h-1.5zM365.8 468.4h1.5v1.5h-1.5zM368.9 506.9h1.5v1.5h-1.5zM461.7 493.2h1.5v1.5h-1.5zM377.7 492.3h1.5v1.5h-1.5zM379.7 501.5h1.5v1.5h-1.5zM436.4 479.6h1.5v1.5h-1.5zM365.0 498.5h1.5v1.5h-1.5zM396.5 492.2h1.5v1.5h-1.5zM429.1 487.2h1.5v1.5h-1.5zM482.3 489.7h1.5v1.5h-1.5zM372.2 485.9h1.5v1.5h-1.5zM365.8 503.5h1.5v1.5h-1.5zM368.3 490.9h1.5v1.5h-1.5zM384.0 481.2h1.5v1.5h-1.5zM385.2 479.5h1.5v1.5h-1.5zM379.7 501.3h1.5v1.5h-1.5zM356.7 505.4h1.5v1.5h-1.5zM368.6 470.1h1.5v1.5h-1.5zM363.5 481.0h1.5v1.5h-1.5zM406.3 505.0h1.5v1.5h-1.5zM431.0 478.5h1.5v1.5h-1.5zM420.8 484.3h1.5v1.5h-1.5zM370.1 484.6h1.5v1.5h-1.5zM435.3 473.4h1.5v1.5h-1.5zM367.3 490.9h1.5v1.5h-1.5zM420.0 481.4h1.5v1.5h-1.5zM403.3 491.7h1.5v1.5h-1.5zM365.3 474.6h1.5v1.5h-1.5zM464.1 479.6h1.5v1.5h-1.5zM403.3 476.2h1.5v1.5h-1.5zM375.6 484.5h1.5v1.5h-1.5zM348.4 503.5h1.5v1.5h-1.5zM393.1 488.4h1.5v1.5h-1.5zM369.1 490.0h1.5v1.5h-1.5zM441.9 483.2h1.5v1.5h-1.5zM389.5 496.0h1.5v1.5h-1.5zM416.8 492.0h1.5v1.5h-1.5zM473.3 488.5h1.5v1.5h-1.5zM377.6 500.3h1.5v1.5h-1.5zM380.0 486.5h1.5v1.5h-1.5zM430.6 492.2h1.5v1.5h-1.5zM370.3 476.5h1.5v1.5h-1.5zM347.7 496.2h1.5v1.5h-1.5zM445.9 500.0h1.5v1.5h-1.5zM376.8 488.1h1.5v1.5h-1.5zM400.9 477.4h1.5v1.5h-1.5zM413.9 477.0h1.5v1.5h-1.5zM443.3 492.0h1.5v1.5h-1.5zM382.1 492.8h1.5v1.5h-1.5zM349.5 493.9h1.5v1.5h-1.5zM385.9 484.5h1.5v1.5h-1.5zM352.4 495.5h1.5v1.5h-1.5zM453.7 506.6h1.5v1.5h-1.5zM384.6 479.3h1.5v1.5h-1.5zM437.9 481.4h1.5v1.5h-1.5zM449.5 494.6h1.5v1.5h-1.5zM376.2 491.0h1.5v1.5h-1.5zM394.5 492.9h1.5v1.5h-1.5zM424.7 495.2h1.5v1.5h-1.5zM351.3 488.8h1.5v1.5h-1.5zM479.0 492.5h1.5v1.5h-1.5zM354.0 492.2h1.5v1.5h-1.5zM363.8 483.7h1.5v1.5h-1.5zM468.6 470.6h1.5v1.5h-1.5zM368.2 488.5h1.5v1.5h-1.5zM362.2 484.7h1.5v1.5h-1.5zM451.0 480.9h1.5v1.5h-1.5zM357.7 496.2h1.5v1.5h-1.5zM453.0 500.4h1.5v1.5h-1.5zM440.1 494.1h1.5v1.5h-1.5zM379.7 506.2h1.5v1.5h-1.5zM448.5 484.9h1.5v1.5h-1.5zM440.3 473.7h1.5v1.5h-1.5zM376.3 482.6h1.5v1.5h-1.5zM471.4 467.3h1.5v1.5h-1.5zM361.1 486.5h1.5v1.5h-1.5zM479.4 465.0h1.5v1.5h-1.5zM445.9 470.4h1.5v1.5h-1.5zM429.9 480.0h1.5v1.5h-1.5zM377.9 471.7h1.5v1.5h-1.5zM359.1 494.1h1.5v1.5h-1.5zM387.2 499.1h1.5v1.5h-1.5zM369.2 484.4h1.5v1.5h-1.5zM421.9 473.1h1.5v1.5h-1.5zM399.7 481.2h1.5v1.5h-1.5zM363.6 481.9h1.5v1.5h-1.5zM377.1 487.9h1.5v1.5h-1.5zM483.4 487.4h1.5v1.5h-1.5zM373.3 482.5h1.5v1.5h-1.5zM441.6 479.2h1.5v1.5h-1.5zM370.7 493.2h1.5v1.5h-1.5zM376.8 476.1h1.5v1.5h-1.5zM369.7 472.1h1.5v1.5h-1.5zM383.0 506.9h1.5v1.5h-1.5zM391.1 484.0h1.5v1.5h-1.5zM407.9 498.8h1.5v1.5h-1.5zM426.2 489.5h1.5v1.5h-1.5zM378.1 487.7h1.5v1.5h-1.5zM479.2 478.3h1.5v1.5h-1.5zM452.1 480.3h1.5v1.5h-1.5zM397.2 481.0h1.5v1.5h-1.5zM418.0 484.1h1.5v1.5h-1.5zM390.6 494.5h1.5v1.5h-1.5zM370.3 485.3h1.5v1.5h-1.5zM405.6 490.2h1.5v1.5h-1.5zM361.2 483.3h1.5v1.5h-1.5zM469.4 484.6h1.5v1.5h-1.5zM445.2 484.3h1.5v1.5h-1.5zM366.3 505.2h1.5v1.5h-1.5zM393.4 484.7h1.5v1.5h-1.5zM395.7 492.2h1.5v1.5h-1.5zM377.4 492.2h1.5v1.5h-1.5zM400.7 470.9h1.5v1.5h-1.5zM446.7 474.7h1.5v1.5h-1.5zM388.8 468.5h1.5v1.5h-1.5zM370.7 494.2h1.5v1.5h-1.5zM420.9 482.0h1.5v1.5h-1.5zM375.2 490.0h1.5v1.5h-1.5zM409.1 493.2h1.5v1.5h-1.5zM350.9 484.3h1.5v1.5h-1.5zM445.3 490.9h1.5v1.5h-1.5zM414.9 467.0h1.5v1.5h-1.5zM399.1 488.5h1.5v1.5h-1.5zM385.2 481.5h1.5v1.5h-1.5zM372.6 492.5h1.5v1.5h-1.5zM409.5 488.2h1.5v1.5h-1.5zM440.6 488.7h1.5v1.5h-1.5zM361.8 475.7h1.5v1.5h-1.5zM385.4 477.9h1.5v1.5h-1.5zM361.1 484.5h1.5v1.5h-1.5zM481.5 487.2h1.5v1.5h-1.5zM368.7 488.0h1.5v1.5h-1.5zM488.2 478.4h1.5v1.5h-1.5zM390.0 495.6h1.5v1.5h-1.5zM388.4 484.0h1.5v1.5h-1.5zM389.7 503.9h1.5v1.5h-1.5zM408.3 492.0h1.5v1.5h-1.5zM426.7 490.3h1.5v1.5h-1.5zM404.1 489.6h1.5v1.5h-1.5zM369.3 471.9h1.5v1.5h-1.5zM382.2 501.4h1.5v1.5h-1.5zM389.6 486.1h1.5v1.5h-1.5zM380.6 492.9h1.5v1.5h-1.5zM467.4 492.0h1.5v1.5h-1.5zM451.4 490.1h1.5v1.5h-1.5zM393.7 500.7h1.5v1.5h-1.5zM411.4 484.3h1.5v1.5h-1.5zM372.6 485.1h1.5v1.5h-1.5zM473.5 492.6h1.5v1.5h-1.5zM354.2 487.6h1.5v1.5h-1.5zM425.0 486.6h1.5v1.5h-1.5zM429.6 508.6h1.5v1.5h-1.5zM364.4 491.3h1.5v1.5h-1.5zM384.5 495.0h1.5v1.5h-1.5zM375.9 498.3h1.5v1.5h-1.5zM375.5 500.3h1.5v1.5h-1.5zM382.7 509.0h1.5v1.5h-1.5zM398.7 497.7h1.5v1.5h-1.5zM436.0 504.7h1.5v1.5h-1.5zM438.4 480.9h1.5v1.5h-1.5zM379.6 498.5h1.5v1.5h-1.5zM458.2 478.9h1.5v1.5h-1.5zM390.4 491.8h1.5v1.5h-1.5zM415.9 485.5h1.5v1.5h-1.5zM393.0 494.1h1.5v1.5h-1.5zM355.1 494.6h1.5v1.5h-1.5zM375.4 488.2h1.5v1.5h-1.5zM376.0 492.8h1.5v1.5h-1.5zM443.5 481.5h1.5v1.5h-1.5zM375.7 500.8h1.5v1.5h-1.5zM391.0 495.6h1.5v1.5h-1.5zM374.9 502.7h1.5v1.5h-1.5zM359.1 475.0h1.5v1.5h-1.5zM409.7 474.1h1.5v1.5h-1.5zM387.7 488.3h1.5v1.5h-1.5zM388.4 485.1h1.5v1.5h-1.5zM386.9 492.2h1.5v1.5h-1.5zM425.1 488.6h1.5v1.5h-1.5zM361.9 470.5h1.5v1.5h-1.5zM401.3 484.8h1.5v1.5h-1.5zM373.7 489.3h1.5v1.5h-1.5zM377.4 492.6h1.5v1.5h-1.5zM380.7 484.9h1.5v1.5h-1.5zM418.7 481.6h1.5v1.5h-1.5zM369.4 494.6h1.5v1.5h-1.5zM366.5 491.5h1.5v1.5h-1.5zM366.3 482.9h1.5v1.5h-1.5zM362.7 488.3h1.5v1.5h-1.5zM407.2 491.5h1.5v1.5h-1.5zM384.3 486.2h1.5v1.5h-1.5zM378.1 488.0h1.5v1.5h-1.5zM365.3 491.2h1.5v1.5h-1.5zM369.2 493.8h1.5v1.5h-1.5zM439.6 482.6h1.5v1.5h-1.5zM359.3 494.6h1.5v1.5h-1.5zM409.2 497.1h1.5v1.5h-1.5zM368.6 497.0h1.5v1.5h-1.5zM382.8 489.6h1.5v1.5h-1.5zM425.4 492.8h1.5v1.5h-1.5zM367.5 501.3h1.5v1.5h-1.5zM364.8 480.2h1.5v1.5h-1.5zM413.6 499.7h1.5v1.5h-1.5zM426.5 493.3h1.5v1.5h-1.5zM386.1 479.3h1.5v1.5h-1.5zM385.1 494.9h1.5v1.5h-1.5zM379.7 493.0h1.5v1.5h-1.5zM418.2 499.6h1.5v1.5h-1.5zM378.3 489.1h1.5v1.5h-1.5zM406.4 503.6h1.5v1.5h-1.5zM371.4 482.0h1.5v1.5h-1.5zM371.5 494.1h1.5v1.5h-1.5zM423.2 482.0h1.5v1.5h-1.5zM370.5 494.3h1.5v1.5h-1.5zM479.1 493.5h1.5v1.5h-1.5zM366.4 496.7h1.5v1.5h-1.5zM372.2 476.5h1.5v1.5h-1.5zM428.7 484.7h1.5v1.5h-1.5zM369.2 491.4h1.5v1.5h-1.5zM400.3 477.2h1.5v1.5h-1.5zM466.0 497.1h1.5v1.5h-1.5zM383.4 492.1h1.5v1.5h-1.5zM375.6 480.3h1.5v1.5h-1.5zM397.7 496.2h1.5v1.5h-1.5zM395.2 484.6h1.5v1.5h-1.5zM368.5 493.1h1.5v1.5h-1.5zM446.3 474.5h1.5v1.5h-1.5zM396.9 482.7h1.5v1.5h-1.5zM397.3 485.9h1.5v1.5h-1.5zM366.5 492.0h1.5v1.5h-1.5zM353.3 496.2h1.5v1.5h-1.5zM381.2 501.4h1.5v1.5h-1.5zM388.0 497.2h1.5v1.5h-1.5zM374.3 508.2h1.5v1.5h-1.5zM375.6 491.1h1.5v1.5h-1.5zM446.1 482.8h1.5v1.5h-1.5zM421.9 469.2h1.5v1.5h-1.5zM385.1 485.2h1.5v1.5h-1.5zM450.2 473.0h1.5v1.5h-1.5zM463.2 492.4h1.5v1.5h-1.5zM364.5 496.0h1.5v1.5h-1.5zM400.4 484.4h1.5v1.5h-1.5zM416.2 493.0h1.5v1.5h-1.5zM425.2 479.4h1.5v1.5h-1.5zM363.8 481.2h1.5v1.5h-1.5zM347.6 491.9h1.5v1.5h-1.5zM413.8 491.0h1.5v1.5h-1.5zM399.2 490.1h1.5v1.5h-1.5zM410.1 494.5h1.5v1.5h-1.5zM379.3 473.6h1.5v1.5h-1.5zM373.9 488.8h1.5v1.5h-1.5zM429.6 473.5h1.5v1.5h-1.5zM425.2 494.3h1.5v1.5h-1.5zM410.3 470.5h1.5v1.5h-1.5zM400.8 491.5h1.5v1.5h-1.5zM365.9 490.5h1.5v1.5h-1.5zM391.0 482.6h1.5v1.5h-1.5zM395.9 477.9h1.5v1.5h-1.5zM387.9 474.7h1.5v1.5h-1.5zM420.5 485.5h1.5v1.5h-1.5zM439.9 493.5h1.5v1.5h-1.5zM382.5 474.1h1.5v1.5h-1.5zM393.6 489.2h1.5v1.5h-1.5zM396.2 498.1h1.5v1.5h-1.5zM449.4 495.1h1.5v1.5h-1.5zM365.0 493.3h1.5v1.5h-1.5zM357.4 511.5h1.5v1.5h-1.5zM363.1 492.3h1.5v1.5h-1.5zM376.0 493.9h1.5v1.5h-1.5zM368.2 475.3h1.5v1.5h-1.5zM365.5 481.8h1.5v1.5h-1.5zM360.0 491.4h1.5v1.5h-1.5zM371.3 511.3h1.5v1.5h-1.5zM467.6 492.8h1.5v1.5h-1.5zM369.8 493.7h1.5v1.5h-1.5zM484.5 478.9h1.5v1.5h-1.5zM396.5 503.4h1.5v1.5h-1.5zM393.2 491.2h1.5v1.5h-1.5zM387.5 501.9h1.5v1.5h-1.5zM460.1 474.2h1.5v1.5h-1.5zM422.5 490.5h1.5v1.5h-1.5zM473.4 491.4h1.5v1.5h-1.5zM403.5 486.6h1.5v1.5h-1.5zM418.3 493.4h1.5v1.5h-1.5zM414.0 491.5h1.5v1.5h-1.5zM379.0 488.4h1.5v1.5h-1.5zM368.9 495.1h1.5v1.5h-1.5zM377.4 494.8h1.5v1.5h-1.5zM419.1 473.3h1.5v1.5h-1.5zM383.8 488.4h1.5v1.5h-1.5zM355.8 496.3h1.5v1.5h-1.5zM402.4 474.0h1.5v1.5h-1.5zM370.6 484.6h1.5v1.5h-1.5zM372.9 476.4h1.5v1.5h-1.5zM379.8 494.4h1.5v1.5h-1.5zM378.9 490.2h1.5v1.5h-1.5zM378.2 484.3h1.5v1.5h-1.5zM398.9 481.5h1.5v1.5h-1.5zM367.0 493.1h1.5v1.5h-1.5zM403.9 470.0h1.5v1.5h-1.5zM356.1 500.6h1.5v1.5h-1.5zM400.4 482.5h1.5v1.5h-1.5zM387.3 490.4h1.5v1.5h-1.5zM390.3 490.4h1.5v1.5h-1.5zM368.5 490.5h1.5v1.5h-1.5zM389.0 467.0h1.5v1.5h-1.5zM395.5 493.9h1.5v1.5h-1.5zM460.0 498.6h1.5v1.5h-1.5zM484.3 475.4h1.5v1.5h-1.5zM382.4 485.5h1.5v1.5h-1.5zM361.4 485.3h1.5v1.5h-1.5zM386.6 481.7h1.5v1.5h-1.5zM401.5 470.8h1.5v1.5h-1.5zM367.4 496.4h1.5v1.5h-1.5zM406.0 490.1h1.5v1.5h-1.5zM402.1 480.6h1.5v1.5h-1.5zM362.7 492.0h1.5v1.5h-1.5zM377.0 486.7h1.5v1.5h-1.5zM384.2 500.0h1.5v1.5h-1.5zM456.9 489.1h1.5v1.5h-1.5zM356.5 482.0h1.5v1.5h-1.5zM414.2 514.9h1.5v1.5h-1.5zM388.5 484.7h1.5v1.5h-1.5zM396.7 509.7h1.5v1.5h-1.5zM430.6 466.4h1.5v1.5h-1.5zM469.2 475.2h1.5v1.5h-1.5zM362.8 474.1h1.5v1.5h-1.5zM372.3 473.6h1.5v1.5h-1.5zM360.3 498.1h1.5v1.5h-1.5zM366.8 488.7h1.5v1.5h-1.5zM401.4 495.5h1.5v1.5h-1.5zM409.5 482.3h1.5v1.5h-1.5zM386.5 490.7h1.5v1.5h-1.5zM385.2 483.7h1.5v1.5h-1.5zM436.2 489.8h1.5v1.5h-1.5zM460.4 483.4h1.5v1.5h-1.5zM424.3 493.5h1.5v1.5h-1.5zM445.2 489.6h1.5v1.5h-1.5zM375.9 496.0h1.5v1.5h-1.5zM486.9 485.0h1.5v1.5h-1.5zM380.9 484.2h1.5v1.5h-1.5zM475.0 475.7h1.5v1.5h-1.5zM363.3 497.9h1.5v1.5h-1.5zM366.4 481.6h1.5v1.5h-1.5zM414.8 494.1h1.5v1.5h-1.5zM356.1 475.6h1.5v1.5h-1.5zM405.2 487.5h1.5v1.5h-1.5zM409.2 494.5h1.5v1.5h-1.5zM460.5 485.6h1.5v1.5h-1.5zM360.5 481.8h1.5v1.5h-1.5zM368.3 489.0h1.5v1.5h-1.5zM371.9 484.3h1.5v1.5h-1.5zM373.5 489.2h1.5v1.5h-1.5zM405.4 467.8h1.5v1.5h-1.5zM396.6 478.4h1.5v1.5h-1.5zM413.5 484.4h1.5v1.5h-1.5zM456.7 481.4h1.5v1.5h-1.5zM368.9 467.3h1.5v1.5h-1.5zM378.2 485.1h1.5v1.5h-1.5zM449.5 483.1h1.5v1.5h-1.5zM429.0 494.0h1.5v1.5h-1.5zM404.7 478.6h1.5v1.5h-1.5zM395.7 493.0h1.5v1.5h-1.5zM397.6 489.1h1.5v1.5h-1.5zM417.8 467.2h1.5v1.5h-1.5zM374.6 496.6h1.5v1.5h-1.5zM452.0 476.8h1.5v1.5h-1.5zM379.1 492.8h1.5v1.5h-1.5zM452.3 496.5h1.5v1.5h-1.5zM389.2 494.1h1.5v1.5h-1.5zM383.9 494.0h1.5v1.5h-1.5zM380.8 489.8h1.5v1.5h-1.5zM369.5 492.5h1.5v1.5h-1.5zM387.0 492.2h1.5v1.5h-1.5zM415.2 488.8h1.5v1.5h-1.5zM351.8 479.3h1.5v1.5h-1.5zM364.9 481.9h1.5v1.5h-1.5zM469.1 490.0h1.5v1.5h-1.5zM367.3 488.8h1.5v1.5h-1.5zM476.8 487.0h1.5v1.5h-1.5zM362.5 478.6h1.5v1.5h-1.5zM452.7 496.3h1.5v1.5h-1.5zM424.9 481.7h1.5v1.5h-1.5zM365.1 482.5h1.5v1.5h-1.5zM419.3 489.8h1.5v1.5h-1.5zM438.4 489.5h1.5v1.5h-1.5zM399.7 484.6h1.5v1.5h-1.5zM382.1 502.5h1.5v1.5h-1.5zM428.3 492.1h1.5v1.5h-1.5zM387.0 501.4h1.5v1.5h-1.5zM355.4 485.6h1.5v1.5h-1.5zM372.2 498.7h1.5v1.5h-1.5zM363.0 493.0h1.5v1.5h-1.5zM416.3 504.7h1.5v1.5h-1.5zM384.5 494.0h1.5v1.5h-1.5zM381.9 479.2h1.5v1.5h-1.5zM384.3 484.8h1.5v1.5h-1.5zM418.5 475.5h1.5v1.5h-1.5zM470.3 504.9h1.5v1.5h-1.5zM405.2 511.6h1.5v1.5h-1.5zM396.6 472.2h1.5v1.5h-1.5zM355.2 485.8h1.5v1.5h-1.5zM364.5 502.6h1.5v1.5h-1.5zM403.7 480.0h1.5v1.5h-1.5zM463.4 480.7h1.5v1.5h-1.5zM432.7 482.6h1.5v1.5h-1.5zM394.7 483.2h1.5v1.5h-1.5zM353.5 481.2h1.5v1.5h-1.5zM407.2 481.6h1.5v1.5h-1.5zM355.1 486.9h1.5v1.5h-1.5zM405.6 482.7h1.5v1.5h-1.5zM364.3 486.6h1.5v1.5h-1.5zM465.5 483.4h1.5v1.5h-1.5zM377.4 488.2h1.5v1.5h-1.5zM445.0 487.4h1.5v1.5h-1.5zM449.4 483.4h1.5v1.5h-1.5zM373.3 482.1h1.5v1.5h-1.5zM377.2 489.7h1.5v1.5h-1.5zM449.6 485.8h1.5v1.5h-1.5zM414.0 472.1h1.5v1.5h-1.5zM479.1 470.3h1.5v1.5h-1.5zM357.8 488.2h1.5v1.5h-1.5zM407.1 493.3h1.5v1.5h-1.5zM376.8 475.0h1.5v1.5h-1.5zM389.4 502.0h1.5v1.5h-1.5zM442.4 472.9h1.5v1.5h-1.5zM349.8 477.3h1.5v1.5h-1.5zM382.4 492.8h1.5v1.5h-1.5zM445.6 486.2h1.5v1.5h-1.5zM354.0 500.0h1.5v1.5h-1.5zM407.4 485.5h1.5v1.5h-1.5zM439.4 494.4h1.5v1.5h-1.5zM411.6 499.0h1.5v1.5h-1.5zM435.8 484.2h1.5v1.5h-1.5zM361.4 495.6h1.5v1.5h-1.5zM372.9 490.0h1.5v1.5h-1.5zM394.4 490.5h1.5v1.5h-1.5zM466.0 490.0h1.5v1.5h-1.5zM371.5 487.2h1.5v1.5h-1.5zM358.1 498.9h1.5v1.5h-1.5zM372.7 484.7h1.5v1.5h-1.5zM356.8 495.4h1.5v1.5h-1.5zM434.6 476.2h1.5v1.5h-1.5zM381.8 493.1h1.5v1.5h-1.5zM355.0 483.5h1.5v1.5h-1.5zM364.5 481.1h1.5v1.5h-1.5zM391.6 489.1h1.5v1.5h-1.5zM438.3 495.9h1.5v1.5h-1.5zM356.1 482.9h1.5v1.5h-1.5zM428.7 497.1h1.5v1.5h-1.5zM369.3 485.6h1.5v1.5h-1.5zM407.2 500.6h1.5v1.5h-1.5zM405.1 491.3h1.5v1.5h-1.5zM384.3 489.9h1.5v1.5h-1.5zM368.9 495.2h1.5v1.5h-1.5zM405.3 485.7h1.5v1.5h-1.5zM387.7 483.4h1.5v1.5h-1.5zM448.1 484.4h1.5v1.5h-1.5zM391.2 486.6h1.5v1.5h-1.5zM405.5 475.8h1.5v1.5h-1.5zM364.3 482.6h1.5v1.5h-1.5zM381.9 485.3h1.5v1.5h-1.5zM441.9 490.1h1.5v1.5h-1.5zM370.4 500.2h1.5v1.5h-1.5zM382.7 494.5h1.5v1.5h-1.5zM372.1 480.8h1.5v1.5h-1.5zM420.3 485.9h1.5v1.5h-1.5zM374.5 482.6h1.5v1.5h-1.5zM364.6 502.9h1.5v1.5h-1.5zM397.8 504.7h1.5v1.5h-1.5zM386.7 487.5h1.5v1.5h-1.5zM457.4 504.5h1.5v1.5h-1.5zM380.1 492.0h1.5v1.5h-1.5zM368.4 505.2h1.5v1.5h-1.5zM367.4 489.0h1.5v1.5h-1.5zM435.8 496.7h1.5v1.5h-1.5zM399.5 478.4h1.5v1.5h-1.5zM393.7 485.5h1.5v1.5h-1.5zM402.2 489.5h1.5v1.5h-1.5zM379.9 498.5h1.5v1.5h-1.5zM391.2 497.0h1.5v1.5h-1.5zM377.6 492.3h1.5v1.5h-1.5zM379.1 481.0h1.5v1.5h-1.5zM357.6 491.4h1.5v1.5h-1.5zM370.5 505.7h1.5v1.5h-1.5zM375.0 505.7h1.5v1.5h-1.5zM358.1 488.0h1.5v1.5h-1.5zM361.1 492.9h1.5v1.5h-1.5zM392.2 480.9h1.5v1.5h-1.5zM394.7 483.8h1.5v1.5h-1.5zM398.9 480.5h1.5v1.5h-1.5zM378.1 478.2h1.5v1.5h-1.5zM467.0 478.0h1.5v1.5h-1.5zM371.0 508.1h1.5v1.5h-1.5zM401.1 481.7h1.5v1.5h-1.5zM353.5 481.6h1.5v1.5h-1.5zM383.4 483.7h1.5v1.5h-1.5zM374.8 500.5h1.5v1.5h-1.5zM433.0 482.3h1.5v1.5h-1.5zM434.7 477.5h1.5v1.5h-1.5zM399.9 483.8h1.5v1.5h-1.5zM384.8 491.8h1.5v1.5h-1.5zM375.0 508.4h1.5v1.5h-1.5zM392.2 495.8h1.5v1.5h-1.5zM372.5 471.9h1.5v1.5h-1.5zM422.3 486.0h1.5v1.5h-1.5zM415.7 478.4h1.5v1.5h-1.5zM386.8 490.1h1.5v1.5h-1.5zM427.8 495.8h1.5v1.5h-1.5zM403.3 475.8h1.5v1.5h-1.5zM398.2 483.2h1.5v1.5h-1.5zM369.3 477.6h1.5v1.5h-1.5zM359.5 488.7h1.5v1.5h-1.5zM376.2 499.7h1.5v1.5h-1.5zM374.4 475.1h1.5v1.5h-1.5zM444.1 487.8h1.5v1.5h-1.5zM409.6 484.1h1.5v1.5h-1.5zM440.5 482.9h1.5v1.5h-1.5zM406.0 479.5h1.5v1.5h-1.5zM382.7 483.9h1.5v1.5h-1.5zM389.9 475.5h1.5v1.5h-1.5zM481.9 484.2h1.5v1.5h-1.5zM409.0 477.8h1.5v1.5h-1.5zM376.4 473.8h1.5v1.5h-1.5zM436.7 487.8h1.5v1.5h-1.5zM389.4 498.0h1.5v1.5h-1.5zM382.2 489.3h1.5v1.5h-1.5zM442.8 475.1h1.5v1.5h-1.5zM387.2 485.3h1.5v1.5h-1.5zM362.3 479.6h1.5v1.5h-1.5zM367.4 489.1h1.5v1.5h-1.5zM450.9 499.7h1.5v1.5h-1.5zM387.2 496.3h1.5v1.5h-1.5zM385.2 501.2h1.5v1.5h-1.5zM401.6 504.4h1.5v1.5h-1.5zM392.3 490.5h1.5v1.5h-1.5zM351.1 479.3h1.5v1.5h-1.5zM406.7 482.2h1.5v1.5h-1.5zM372.0 485.1h1.5v1.5h-1.5zM445.1 481.4h1.5v1.5h-1.5zM407.1 490.1h1.5v1.5h-1.5zM348.0 474.0h1.5v1.5h-1.5zM372.3 481.5h1.5v1.5h-1.5zM375.2 482.9h1.5v1.5h-1.5zM388.7 507.8h1.5v1.5h-1.5zM447.0 477.2h1.5v1.5h-1.5zM373.0 478.1h1.5v1.5h-1.5zM381.9 489.1h1.5v1.5h-1.5zM380.9 504.2h1.5v1.5h-1.5zM390.0 479.6h1.5v1.5h-1.5zM389.0 492.2h1.5v1.5h-1.5zM484.0 485.5h1.5v1.5h-1.5zM372.5 492.4h1.5v1.5h-1.5zM449.9 487.1h1.5v1.5h-1.5zM369.5 499.1h1.5v1.5h-1.5zM401.1 484.3h1.5v1.5h-1.5zM388.3 476.6h1.5v1.5h-1.5zM439.0 486.1h1.5v1.5h-1.5zM387.1 498.8h1.5v1.5h-1.5zM359.3 493.3h1.5v1.5h-1.5zM371.1 491.0h1.5v1.5h-1.5zM369.6 491.5h1.5v1.5h-1.5zM428.5 483.6h1.5v1.5h-1.5zM408.5 488.3h1.5v1.5h-1.5zM377.8 489.0h1.5v1.5h-1.5zM454.3 484.7h1.5v1.5h-1.5zM447.3 494.9h1.5v1.5h-1.5zM407.7 483.8h1.5v1.5h-1.5zM390.9 479.5h1.5v1.5h-1.5zM381.0 485.8h1.5v1.5h-1.5zM378.2 487.4h1.5v1.5h-1.5zM356.6 462.4h1.5v1.5h-1.5zM386.5 484.9h1.5v1.5h-1.5zM459.2 468.5h1.5v1.5h-1.5zM479.9 489.1h1.5v1.5h-1.5zM410.6 494.5h1.5v1.5h-1.5zM474.2 494.7h1.5v1.5h-1.5zM404.2 496.8h1.5v1.5h-1.5zM402.1 496.0h1.5v1.5h-1.5zM422.1 487.3h1.5v1.5h-1.5zM412.4 485.3h1.5v1.5h-1.5zM382.4 491.9h1.5v1.5h-1.5zM366.0 489.4h1.5v1.5h-1.5zM383.8 495.2h1.5v1.5h-1.5zM398.6 496.2h1.5v1.5h-1.5zM448.3 493.5h1.5v1.5h-1.5zM470.3 487.3h1.5v1.5h-1.5zM366.6 477.3h1.5v1.5h-1.5zM390.2 510.2h1.5v1.5h-1.5zM387.3 482.4h1.5v1.5h-1.5zM390.8 482.0h1.5v1.5h-1.5zM363.6 493.8h1.5v1.5h-1.5zM365.9 484.0h1.5v1.5h-1.5zM409.7 474.9h1.5v1.5h-1.5zM413.9 493.3h1.5v1.5h-1.5zM406.5 485.1h1.5v1.5h-1.5zM388.7 492.9h1.5v1.5h-1.5zM368.4 492.0h1.5v1.5h-1.5zM384.0 489.1h1.5v1.5h-1.5zM421.7 487.1h1.5v1.5h-1.5zM414.7 492.6h1.5v1.5h-1.5zM369.3 494.2h1.5v1.5h-1.5zM376.1 478.0h1.5v1.5h-1.5zM409.9 473.8h1.5v1.5h-1.5zM402.6 484.5h1.5v1.5h-1.5zM429.7 478.9h1.5v1.5h-1.5zM479.7 486.0h1.5v1.5h-1.5zM411.3 491.1h1.5v1.5h-1.5zM472.8 482.4h1.5v1.5h-1.5zM363.6 478.5h1.5v1.5h-1.5zM409.2 485.1h1.5v1.5h-1.5zM388.0 500.4h1.5v1.5h-1.5zM360.9 480.5h1.5v1.5h-1.5zM374.8 468.5h1.5v1.5h-1.5zM352.3 486.3h1.5v1.5h-1.5zM365.7 505.3h1.5v1.5h-1.5zM382.8 486.4h1.5v1.5h-1.5zM366.4 470.4h1.5v1.5h-1.5zM369.6 491.6h1.5v1.5h-1.5zM431.8 482.6h1.5v1.5h-1.5zM408.4 489.5h1.5v1.5h-1.5zM406.4 483.3h1.5v1.5h-1.5zM369.1 509.4h1.5v1.5h-1.5zM388.2 495.2h1.5v1.5h-1.5zM387.8 491.7h1.5v1.5h-1.5zM371.8 484.5h1.5v1.5h-1.5zM351.7 488.9h1.5v1.5h-1.5zM390.7 495.7h1.5v1.5h-1.5zM453.6 487.5h1.5v1.5h-1.5zM390.9 499.1h1.5v1.5h-1.5zM377.4 497.2h1.5v1.5h-1.5zM387.9 493.4h1.5v1.5h-1.5zM380.9 485.8h1.5v1.5h-1.5zM378.6 472.9h1.5v1.5h-1.5zM353.7 493.2h1.5v1.5h-1.5zM359.9 495.0h1.5v1.5h-1.5zM378.6 488.2h1.5v1.5h-1.5zM371.0 511.1h1.5v1.5h-1.5zM434.3 480.4h1.5v1.5h-1.5zM429.7 478.2h1.5v1.5h-1.5zM435.9 493.4h1.5v1.5h-1.5zM362.3 495.0h1.5v1.5h-1.5zM395.2 472.2h1.5v1.5h-1.5zM482.1 483.1h1.5v1.5h-1.5zM405.1 491.7h1.5v1.5h-1.5zM380.1 495.1h1.5v1.5h-1.5zM408.6 472.8h1.5v1.5h-1.5zM401.3 488.6h1.5v1.5h-1.5zM395.0 495.0h1.5v1.5h-1.5zM456.4 481.9h1.5v1.5h-1.5zM428.4 471.3h1.5v1.5h-1.5zM382.9 497.9h1.5v1.5h-1.5zM449.8 499.4h1.5v1.5h-1.5zM386.8 473.7h1.5v1.5h-1.5zM396.2 487.5h1.5v1.5h-1.5zM390.5 477.6h1.5v1.5h-1.5zM380.9 480.7h1.5v1.5h-1.5zM429.3 496.6h1.5v1.5h-1.5zM391.8 502.3h1.5v1.5h-1.5zM379.2 477.1h1.5v1.5h-1.5zM403.8 492.6h1.5v1.5h-1.5zM372.1 485.6h1.5v1.5h-1.5zM384.4 498.4h1.5v1.5h-1.5zM461.3 478.5h1.5v1.5h-1.5zM393.1 495.2h1.5v1.5h-1.5zM352.9 500.1h1.5v1.5h-1.5zM401.7 477.9h1.5v1.5h-1.5zM407.3 481.2h1.5v1.5h-1.5zM367.6 490.6h1.5v1.5h-1.5zM388.8 478.3h1.5v1.5h-1.5zM364.7 502.0h1.5v1.5h-1.5zM435.3 477.4h1.5v1.5h-1.5zM364.5 475.4h1.5v1.5h-1.5zM367.6 482.8h1.5v1.5h-1.5zM449.7 487.2h1.5v1.5h-1.5zM385.0 496.5h1.5v1.5h-1.5zM414.3 485.8h1.5v1.5h-1.5zM443.2 494.2h1.5v1.5h-1.5zM372.8 487.1h1.5v1.5h-1.5zM407.5 489.8h1.5v1.5h-1.5zM434.6 487.3h1.5v1.5h-1.5zM428.6 484.1h1.5v1.5h-1.5zM366.8 498.4h1.5v1.5h-1.5zM404.1 487.3h1.5v1.5h-1.5zM404.8 486.4h1.5v1.5h-1.5zM380.6 503.1h1.5v1.5h-1.5zM391.7 474.3h1.5v1.5h-1.5zM385.4 490.5h1.5v1.5h-1.5zM424.3 487.9h1.5v1.5h-1.5zM385.4 479.4h1.5v1.5h-1.5zM401.0 480.7h1.5v1.5h-1.5zM447.5 500.6h1.5v1.5h-1.5zM439.6 470.3h1.5v1.5h-1.5zM384.4 473.4h1.5v1.5h-1.5zM392.7 492.4h1.5v1.5h-1.5zM393.4 483.0h1.5v1.5h-1.5zM396.4 483.0h1.5v1.5h-1.5zM385.7 497.4h1.5v1.5h-1.5zM390.3 486.2h1.5v1.5h-1.5zM399.8 484.8h1.5v1.5h-1.5zM448.8 472.8h1.5v1.5h-1.5zM477.3 499.8h1.5v1.5h-1.5zM386.6 491.5h1.5v1.5h-1.5zM379.0 498.3h1.5v1.5h-1.5zM385.2 475.7h1.5v1.5h-1.5zM396.1 496.7h1.5v1.5h-1.5zM390.9 497.3h1.5v1.5h-1.5zM373.1 497.1h1.5v1.5h-1.5zM448.6 484.2h1.5v1.5h-1.5zM371.0 486.5h1.5v1.5h-1.5zM360.0 485.9h1.5v1.5h-1.5zM394.3 491.3h1.5v1.5h-1.5zM374.3 489.9h1.5v1.5h-1.5zM480.2 489.5h1.5v1.5h-1.5zM426.0 492.4h1.5v1.5h-1.5zM364.9 495.9h1.5v1.5h-1.5zM369.7 499.7h1.5v1.5h-1.5zM407.9 469.4h1.5v1.5h-1.5zM365.8 489.4h1.5v1.5h-1.5zM404.4 487.3h1.5v1.5h-1.5zM424.9 489.5h1.5v1.5h-1.5zM475.9 485.7h1.5v1.5h-1.5zM367.8 473.7h1.5v1.5h-1.5zM391.4 471.8h1.5v1.5h-1.5zM410.2 491.1h1.5v1.5h-1.5zM351.1 491.1h1.5v1.5h-1.5zM428.6 470.4h1.5v1.5h-1.5zM400.5 497.6h1.5v1.5h-1.5zM377.7 488.0h1.5v1.5h-1.5zM382.6 481.7h1.5v1.5h-1.5zM456.2 489.6h1.5v1.5h-1.5zM388.9 479.3h1.5v1.5h-1.5zM389.4 501.1h1.5v1.5h-1.5zM361.2 482.5h1.5v1.5h-1.5zM478.4 472.5h1.5v1.5h-1.5zM467.2 492.8h1.5v1.5h-1.5zM420.0 482.1h1.5v1.5h-1.5zM434.7 472.7h1.5v1.5h-1.5zM378.6 492.7h1.5v1.5h-1.5zM355.9 489.2h1.5v1.5h-1.5zM430.9 486.7h1.5v1.5h-1.5zM380.0 501.4h1.5v1.5h-1.5zM397.7 487.9h1.5v1.5h-1.5zM444.1 471.5h1.5v1.5h-1.5zM359.7 490.6h1.5v1.5h-1.5zM376.0 476.2h1.5v1.5h-1.5zM349.7 519.8h1.5v1.5h-1.5zM463.7 485.6h1.5v1.5h-1.5zM373.0 511.5h1.5v1.5h-1.5zM356.8 501.2h1.5v1.5h-1.5zM373.2 486.6h1.5v1.5h-1.5zM414.1 474.7h1.5v1.5h-1.5zM380.8 492.7h1.5v1.5h-1.5zM367.5 474.9h1.5v1.5h-1.5zM462.6 485.0h1.5v1.5h-1.5zM352.5 492.4h1.5v1.5h-1.5zM385.6 502.0h1.5v1.5h-1.5zM367.7 501.0h1.5v1.5h-1.5zM387.4 494.9h1.5v1.5h-1.5zM396.4 488.9h1.5v1.5h-1.5zM391.1 472.1h1.5v1.5h-1.5zM381.4 472.2h1.5v1.5h-1.5zM357.6 479.0h1.5v1.5h-1.5zM390.8 487.1h1.5v1.5h-1.5zM377.3 484.2h1.5v1.5h-1.5zM378.2 476.6h1.5v1.5h-1.5zM380.3 501.8h1.5v1.5h-1.5zM373.7 490.1h1.5v1.5h-1.5zM428.5 479.3h1.5v1.5h-1.5zM423.1 495.1h1.5v1.5h-1.5zM445.7 472.3h1.5v1.5h-1.5zM390.9 483.6h1.5v1.5h-1.5zM385.8 485.0h1.5v1.5h-1.5zM381.7 485.9h1.5v1.5h-1.5zM484.8 486.3h1.5v1.5h-1.5zM423.2 482.5h1.5v1.5h-1.5zM401.8 491.1h1.5v1.5h-1.5zM374.1 494.0h1.5v1.5h-1.5zM432.7 486.7h1.5v1.5h-1.5zM378.6 476.2h1.5v1.5h-1.5zM422.2 495.2h1.5v1.5h-1.5zM390.4 480.9h1.5v1.5h-1.5zM369.1 479.2h1.5v1.5h-1.5zM399.9 488.9h1.5v1.5h-1.5zM447.4 488.3h1.5v1.5h-1.5zM403.4 482.6h1.5v1.5h-1.5zM392.8 493.6h1.5v1.5h-1.5zM369.9 505.0h1.5v1.5h-1.5zM355.1 475.5h1.5v1.5h-1.5zM364.6 502.8h1.5v1.5h-1.5zM368.8 495.0h1.5v1.5h-1.5zM449.9 491.0h1.5v1.5h-1.5zM367.7 490.9h1.5v1.5h-1.5zM429.0 478.9h1.5v1.5h-1.5zM379.0 493.2h1.5v1.5h-1.5zM382.0 491.5h1.5v1.5h-1.5zM392.8 485.3h1.5v1.5h-1.5zM430.5 491.3h1.5v1.5h-1.5zM488.2 479.7h1.5v1.5h-1.5zM394.7 476.6h1.5v1.5h-1.5zM389.9 483.8h1.5v1.5h-1.5zM393.6 471.0h1.5v1.5h-1.5zM388.5 482.3h1.5v1.5h-1.5zM435.4 480.7h1.5v1.5h-1.5zM364.2 515.2h1.5v1.5h-1.5zM371.5 494.3h1.5v1.5h-1.5zM414.4 478.5h1.5v1.5h-1.5zM366.1 501.3h1.5v1.5h-1.5zM420.0 488.5h1.5v1.5h-1.5zM363.3 481.5h1.5v1.5h-1.5zM379.0 478.2h1.5v1.5h-1.5zM418.2 485.1h1.5v1.5h-1.5zM371.1 489.1h1.5v1.5h-1.5zM419.4 483.3h1.5v1.5h-1.5zM407.3 505.1h1.5v1.5h-1.5zM400.0 485.7h1.5v1.5h-1.5zM382.6 496.6h1.5v1.5h-1.5zM373.2 491.9h1.5v1.5h-1.5zM447.8 496.5h1.5v1.5h-1.5zM428.2 502.5h1.5v1.5h-1.5zM382.5 490.8h1.5v1.5h-1.5zM370.0 484.8h1.5v1.5h-1.5zM375.4 485.4h1.5v1.5h-1.5zM360.6 503.7h1.5v1.5h-1.5zM383.8 496.1h1.5v1.5h-1.5zM374.3 499.0h1.5v1.5h-1.5zM449.2 482.3h1.5v1.5h-1.5zM443.1 478.2h1.5v1.5h-1.5zM423.9 482.2h1.5v1.5h-1.5zM379.4 483.9h1.5v1.5h-1.5zM410.6 472.9h1.5v1.5h-1.5zM362.5 490.5h1.5v1.5h-1.5zM385.2 489.6h1.5v1.5h-1.5zM421.2 478.4h1.5v1.5h-1.5zM463.7 494.9h1.5v1.5h-1.5zM466.9 493.5h1.5v1.5h-1.5zM367.8 488.8h1.5v1.5h-1.5zM416.9 470.8h1.5v1.5h-1.5zM414.3 495.0h1.5v1.5h-1.5zM475.2 483.2h1.5v1.5h-1.5zM431.4 492.1h1.5v1.5h-1.5zM394.4 481.6h1.5v1.5h-1.5zM401.3 483.9h1.5v1.5h-1.5zM404.2 486.7h1.5v1.5h-1.5zM405.1 492.7h1.5v1.5h-1.5zM380.7 492.1h1.5v1.5h-1.5zM395.0 503.3h1.5v1.5h-1.5zM379.1 498.9h1.5v1.5h-1.5zM455.5 480.8h1.5v1.5h-1.5zM377.2 513.5h1.5v1.5h-1.5zM366.8 475.1h1.5v1.5h-1.5zM448.1 493.0h1.5v1.5h-1.5zM453.0 481.5h1.5v1.5h-1.5zM414.2 473.6h1.5v1.5h-1.5zM362.2 516.4h1.5v1.5h-1.5zM365.1 503.8h1.5v1.5h-1.5zM391.1 496.0h1.5v1.5h-1.5zM375.4 489.0h1.5v1.5h-1.5zM398.4 477.8h1.5v1.5h-1.5zM403.5 470.8h1.5v1.5h-1.5zM426.8 489.9h1.5v1.5h-1.5zM402.9 475.2h1.5v1.5h-1.5zM359.9 491.7h1.5v1.5h-1.5zM440.0 488.4h1.5v1.5h-1.5zM368.1 480.0h1.5v1.5h-1.5zM368.1 497.6h1.5v1.5h-1.5zM393.7 499.8h1.5v1.5h-1.5zM444.6 476.0h1.5v1.5h-1.5zM370.3 486.3h1.5v1.5h-1.5zM396.3 487.4h1.5v1.5h-1.5zM384.4 486.1h1.5v1.5h-1.5zM360.8 509.3h1.5v1.5h-1.5zM395.6 482.5h1.5v1.5h-1.5zM366.1 471.3h1.5v1.5h-1.5zM353.0 489.9h1.5v1.5h-1.5zM376.9 483.0h1.5v1.5h-1.5zM377.7 486.5h1.5v1.5h-1.5zM395.5 476.5h1.5v1.5h-1.5zM419.5 481.0h1.5v1.5h-1.5zM378.8 509.1h1.5v1.5h-1.5zM428.0 479.2h1.5v1.5h-1.5zM440.3 477.3h1.5v1.5h-1.5zM486.3 497.1h1.5v1.5h-1.5zM402.8 489.3h1.5v1.5h-1.5zM406.3 479.1h1.5v1.5h-1.5zM359.9 475.4h1.5v1.5h-1.5zM379.4 494.2h1.5v1.5h-1.5zM404.5 464.4h1.5v1.5h-1.5zM428.0 481.7h1.5v1.5h-1.5zM373.8 487.5h1.5v1.5h-1.5zM398.4 482.9h1.5v1.5h-1.5zM421.2 481.3h1.5v1.5h-1.5zM407.9 479.1h1.5v1.5h-1.5zM346.9 499.7h1.5v1.5h-1.5zM391.5 481.7h1.5v1.5h-1.5zM384.8 483.2h1.5v1.5h-1.5zM366.4 459.9h1.5v1.5h-1.5zM394.9 483.3h1.5v1.5h-1.5zM478.9 484.5h1.5v1.5h-1.5zM423.9 491.3h1.5v1.5h-1.5zM359.4 487.2h1.5v1.5h-1.5zM374.1 490.5h1.5v1.5h-1.5zM385.0 500.8h1.5v1.5h-1.5zM432.4 495.9h1.5v1.5h-1.5zM429.6 487.7h1.5v1.5h-1.5zM393.9 490.9h1.5v1.5h-1.5zM440.8 472.8h1.5v1.5h-1.5zM385.7 479.1h1.5v1.5h-1.5zM481.5 482.6h1.5v1.5h-1.5zM421.7 477.7h1.5v1.5h-1.5zM384.5 490.4h1.5v1.5h-1.5zM447.1 493.4h1.5v1.5h-1.5zM372.9 504.9h1.5v1.5h-1.5zM454.5 483.9h1.5v1.5h-1.5zM359.7 484.3h1.5v1.5h-1.5zM425.0 477.4h1.5v1.5h-1.5zM366.8 513.7h1.5v1.5h-1.5zM448.4 491.9h1.5v1.5h-1.5zM368.9 488.8h1.5v1.5h-1.5zM403.2 489.1h1.5v1.5h-1.5zM434.6 502.8h1.5v1.5h-1.5zM369.1 489.6h1.5v1.5h-1.5zM437.8 488.8h1.5v1.5h-1.5zM384.7 479.5h1.5v1.5h-1.5zM405.4 497.1h1.5v1.5h-1.5zM413.9 473.0h1.5v1.5h-1.5zM400.3 497.0h1.5v1.5h-1.5zM465.4 471.2h1.5v1.5h-1.5zM377.6 488.8h1.5v1.5h-1.5zM396.0 479.2h1.5v1.5h-1.5zM425.5 488.4h1.5v1.5h-1.5zM432.1 495.5h1.5v1.5h-1.5zM386.6 476.1h1.5v1.5h-1.5zM369.7 492.6h1.5v1.5h-1.5zM373.3 478.5h1.5v1.5h-1.5zM405.3 494.9h1.5v1.5h-1.5zM379.0 496.9h1.5v1.5h-1.5zM397.4 488.6h1.5v1.5h-1.5zM380.1 476.0h1.5v1.5h-1.5zM360.1 494.1h1.5v1.5h-1.5zM405.5 466.7h1.5v1.5h-1.5zM423.2 485.6h1.5v1.5h-1.5zM394.1 473.1h1.5v1.5h-1.5zM357.8 503.3h1.5v1.5h-1.5zM468.6 486.1h1.5v1.5h-1.5zM373.3 479.6h1.5v1.5h-1.5zM420.4 475.3h1.5v1.5h-1.5zM349.0 493.1h1.5v1.5h-1.5zM417.5 466.6h1.5v1.5h-1.5zM382.9 496.9h1.5v1.5h-1.5zM382.9 485.0h1.5v1.5h-1.5zM363.4 474.0h1.5v1.5h-1.5zM354.1 479.5h1.5v1.5h-1.5zM403.5 483.5h1.5v1.5h-1.5zM423.1 476.1h1.5v1.5h-1.5zM417.8 491.6h1.5v1.5h-1.5zM417.3 478.0h1.5v1.5h-1.5zM363.8 502.0h1.5v1.5h-1.5zM435.7 492.9h1.5v1.5h-1.5zM374.3 478.0h1.5v1.5h-1.5zM366.6 479.6h1.5v1.5h-1.5zM366.2 490.3h1.5v1.5h-1.5zM361.4 498.9h1.5v1.5h-1.5zM420.2 487.5h1.5v1.5h-1.5zM460.2 488.8h1.5v1.5h-1.5zM456.7 472.0h1.5v1.5h-1.5zM399.3 465.4h1.5v1.5h-1.5zM376.9 496.0h1.5v1.5h-1.5zM420.6 482.4h1.5v1.5h-1.5zM369.2 484.2h1.5v1.5h-1.5zM437.8 480.2h1.5v1.5h-1.5zM390.9 483.8h1.5v1.5h-1.5zM387.8 479.2h1.5v1.5h-1.5zM396.8 506.8h1.5v1.5h-1.5zM387.0 492.1h1.5v1.5h-1.5zM375.5 494.0h1.5v1.5h-1.5zM417.8 489.3h1.5v1.5h-1.5zM385.3 499.4h1.5v1.5h-1.5zM384.8 492.7h1.5v1.5h-1.5zM367.8 492.6h1.5v1.5h-1.5zM405.4 482.3h1.5v1.5h-1.5zM440.6 482.3h1.5v1.5h-1.5zM416.7 495.5h1.5v1.5h-1.5zM370.4 500.1h1.5v1.5h-1.5zM346.8 505.9h1.5v1.5h-1.5zM455.7 488.8h1.5v1.5h-1.5zM385.4 493.4h1.5v1.5h-1.5zM428.1 490.4h1.5v1.5h-1.5zM420.3 479.8h1.5v1.5h-1.5zM371.3 486.9h1.5v1.5h-1.5zM374.9 480.3h1.5v1.5h-1.5zM395.5 484.6h1.5v1.5h-1.5zM366.2 484.7h1.5v1.5h-1.5zM367.7 479.2h1.5v1.5h-1.5zM363.9 479.0h1.5v1.5h-1.5zM370.1 464.3h1.5v1.5h-1.5zM399.1 487.3h1.5v1.5h-1.5zM366.0 493.5h1.5v1.5h-1.5zM433.2 499.9h1.5v1.5h-1.5zM369.9 478.7h1.5v1.5h-1.5zM373.4 471.9h1.5v1.5h-1.5zM382.9 487.3h1.5v1.5h-1.5zM380.5 490.9h1.5v1.5h-1.5zM382.4 496.4h1.5v1.5h-1.5zM446.7 484.7h1.5v1.5h-1.5zM374.8 511.8h1.5v1.5h-1.5zM399.9 480.2h1.5v1.5h-1.5zM378.7 495.6h1.5v1.5h-1.5zM366.5 483.8h1.5v1.5h-1.5zM350.3 472.0h1.5v1.5h-1.5zM386.2 503.6h1.5v1.5h-1.5zM415.9 489.5h1.5v1.5h-1.5zM370.9 497.7h1.5v1.5h-1.5zM362.5 498.8h1.5v1.5h-1.5zM397.6 478.8h1.5v1.5h-1.5zM372.3 479.8h1.5v1.5h-1.5zM412.2 481.4h1.5v1.5h-1.5zM376.3 483.6h1.5v1.5h-1.5zM445.3 488.0h1.5v1.5h-1.5zM427.2 483.9h1.5v1.5h-1.5zM359.5 481.0h1.5v1.5h-1.5zM414.5 478.9h1.5v1.5h-1.5zM389.0 491.0h1.5v1.5h-1.5zM432.2 481.7h1.5v1.5h-1.5zM350.1 495.8h1.5v1.5h-1.5zM394.7 500.4h1.5v1.5h-1.5zM376.7 470.2h1.5v1.5h-1.5zM369.2 488.0h1.5v1.5h-1.5zM418.8 486.2h1.5v1.5h-1.5zM360.7 496.1h1.5v1.5h-1.5zM463.1 483.0h1.5v1.5h-1.5zM368.6 493.5h1.5v1.5h-1.5zM372.6 481.5h1.5v1.5h-1.5zM403.2 473.9h1.5v1.5h-1.5zM370.8 493.4h1.5v1.5h-1.5zM412.1 493.6h1.5v1.5h-1.5zM408.1 487.1h1.5v1.5h-1.5zM377.4 486.8h1.5v1.5h-1.5zM438.0 488.5h1.5v1.5h-1.5zM362.5 502.6h1.5v1.5h-1.5zM382.7 484.9h1.5v1.5h-1.5zM390.3 486.5h1.5v1.5h-1.5zM438.3 485.7h1.5v1.5h-1.5zM447.6 489.5h1.5v1.5h-1.5zM370.2 488.3h1.5v1.5h-1.5zM373.2 490.3h1.5v1.5h-1.5zM445.2 491.6h1.5v1.5h-1.5zM431.5 484.7h1.5v1.5h-1.5zM426.0 487.5h1.5v1.5h-1.5zM478.0 480.6h1.5v1.5h-1.5zM470.0 485.3h1.5v1.5h-1.5zM358.1 484.7h1.5v1.5h-1.5zM400.5 500.8h1.5v1.5h-1.5zM455.9 484.5h1.5v1.5h-1.5zM439.7 498.1h1.5v1.5h-1.5zM451.3 472.1h1.5v1.5h-1.5zM382.9 488.6h1.5v1.5h-1.5zM416.8 482.1h1.5v1.5h-1.5zM383.0 490.6h1.5v1.5h-1.5zM372.8 486.1h1.5v1.5h-1.5zM377.9 486.1h1.5v1.5h-1.5zM375.8 491.3h1.5v1.5h-1.5zM372.0 503.1h1.5v1.5h-1.5zM391.6 495.2h1.5v1.5h-1.5zM356.1 486.7h1.5v1.5h-1.5zM360.7 482.9h1.5v1.5h-1.5zM394.9 491.1h1.5v1.5h-1.5zM381.3 494.9h1.5v1.5h-1.5zM398.8 488.1h1.5v1.5h-1.5zM368.8 494.7h1.5v1.5h-1.5zM382.7 483.9h1.5v1.5h-1.5zM378.4 507.3h1.5v1.5h-1.5zM445.2 494.8h1.5v1.5h-1.5zM353.4 480.8h1.5v1.5h-1.5zM437.9 484.1h1.5v1.5h-1.5zM388.9 466.6h1.5v1.5h-1.5zM355.7 499.6h1.5v1.5h-1.5zM383.7 476.4h1.5v1.5h-1.5zM395.6 485.2h1.5v1.5h-1.5zM384.7 472.2h1.5v1.5h-1.5zM437.6 472.8h1.5v1.5h-1.5zM399.2 495.7h1.5v1.5h-1.5zM382.1 494.6h1.5v1.5h-1.5zM358.4 494.0h1.5v1.5h-1.5zM452.9 465.3h1.5v1.5h-1.5zM391.4 481.7h1.5v1.5h-1.5zM394.7 497.8h1.5v1.5h-1.5zM416.6 501.1h1.5v1.5h-1.5zM370.4 484.0h1.5v1.5h-1.5zM395.8 484.6h1.5v1.5h-1.5zM360.4 493.4h1.5v1.5h-1.5zM408.4 484.2h1.5v1.5h-1.5zM390.9 502.9h1.5v1.5h-1.5zM353.6 487.9h1.5v1.5h-1.5zM487.4 480.1h1.5v1.5h-1.5zM422.3 482.5h1.5v1.5h-1.5zM385.7 493.8h1.5v1.5h-1.5zM441.8 483.4h1.5v1.5h-1.5zM353.1 493.5h1.5v1.5h-1.5zM456.1 502.2h1.5v1.5h-1.5zM355.0 512.7h1.5v1.5h-1.5zM419.5 479.0h1.5v1.5h-1.5zM413.6 495.6h1.5v1.5h-1.5zM417.7 480.2h1.5v1.5h-1.5zM382.0 496.0h1.5v1.5h-1.5zM401.3 482.5h1.5v1.5h-1.5zM377.2 475.2h1.5v1.5h-1.5zM378.5 466.5h1.5v1.5h-1.5zM383.6 490.1h1.5v1.5h-1.5zM380.6 472.1h1.5v1.5h-1.5zM386.3 483.6h1.5v1.5h-1.5zM361.6 520.1h1.5v1.5h-1.5zM395.5 509.6h1.5v1.5h-1.5zM413.5 481.4h1.5v1.5h-1.5zM427.7 475.2h1.5v1.5h-1.5zM371.0 490.9h1.5v1.5h-1.5zM363.9 489.6h1.5v1.5h-1.5zM385.8 494.4h1.5v1.5h-1.5zM400.0 494.0h1.5v1.5h-1.5zM469.6 474.9h1.5v1.5h-1.5zM372.4 490.5h1.5v1.5h-1.5zM435.0 490.5h1.5v1.5h-1.5zM422.3 481.2h1.5v1.5h-1.5zM356.1 495.6h1.5v1.5h-1.5zM448.5 482.3h1.5v1.5h-1.5zM434.8 489.0h1.5v1.5h-1.5zM370.4 485.2h1.5v1.5h-1.5zM422.5 488.0h1.5v1.5h-1.5zM368.1 505.4h1.5v1.5h-1.5zM421.0 477.6h1.5v1.5h-1.5zM366.6 481.0h1.5v1.5h-1.5zM414.5 485.9h1.5v1.5h-1.5zM452.3 488.5h1.5v1.5h-1.5zM366.3 476.7h1.5v1.5h-1.5zM356.0 498.4h1.5v1.5h-1.5zM471.9 480.9h1.5v1.5h-1.5zM370.0 483.6h1.5v1.5h-1.5zM375.7 482.4h1.5v1.5h-1.5zM417.8 488.0h1.5v1.5h-1.5zM388.2 491.3h1.5v1.5h-1.5zM408.4 470.1h1.5v1.5h-1.5zM387.2 495.4h1.5v1.5h-1.5zM367.6 506.1h1.5v1.5h-1.5zM435.0 497.9h1.5v1.5h-1.5zM367.3 488.7h1.5v1.5h-1.5zM361.6 497.2h1.5v1.5h-1.5zM365.8 481.6h1.5v1.5h-1.5zM445.8 476.3h1.5v1.5h-1.5zM389.3 504.6h1.5v1.5h-1.5zM466.8 497.6h1.5v1.5h-1.5zM406.6 489.7h1.5v1.5h-1.5zM418.3 485.0h1.5v1.5h-1.5zM361.8 501.8h1.5v1.5h-1.5zM407.0 491.7h1.5v1.5h-1.5zM411.6 503.2h1.5v1.5h-1.5zM394.2 482.0h1.5v1.5h-1.5zM365.2 476.1h1.5v1.5h-1.5zM417.5 484.8h1.5v1.5h-1.5zM382.5 484.6h1.5v1.5h-1.5zM377.6 482.8h1.5v1.5h-1.5zM370.6 477.0h1.5v1.5h-1.5zM374.3 478.5h1.5v1.5h-1.5zM393.0 481.2h1.5v1.5h-1.5zM397.7 479.2h1.5v1.5h-1.5zM450.1 494.9h1.5v1.5h-1.5zM401.2 410.0h1.5v1.5h-1.5zM345.2 429.4h1.5v1.5h-1.5zM400.1 465.7h1.5v1.5h-1.5zM381.2 440.2h1.5v1.5h-1.5zM382.1 466.4h1.5v1.5h-1.5zM405.3 439.6h1.5v1.5h-1.5zM389.4 469.6h1.5v1.5h-1.5zM365.4 453.0h1.5v1.5h-1.5zM465.0 469.8h1.5v1.5h-1.5zM385.1 433.5h1.5v1.5h-1.5zM401.8 472.9h1.5v1.5h-1.5zM368.1 418.4h1.5v1.5h-1.5zM353.7 445.4h1.5v1.5h-1.5zM345.0 463.4h1.5v1.5h-1.5zM383.1 441.0h1.5v1.5h-1.5zM380.0 464.8h1.5v1.5h-1.5zM408.1 457.2h1.5v1.5h-1.5zM360.0 459.5h1.5v1.5h-1.5zM435.0 460.3h1.5v1.5h-1.5zM422.0 437.6h1.5v1.5h-1.5zM356.9 432.0h1.5v1.5h-1.5zM382.3 424.5h1.5v1.5h-1.5zM399.9 469.0h1.5v1.5h-1.5zM394.0 434.6h1.5v1.5h-1.5zM363.4 450.0h1.5v1.5h-1.5zM451.1 464.0h1.5v1.5h-1.5zM355.9 415.1h1.5v1.5h-1.5zM345.2 448.7h1.5v1.5h-1.5zM382.2 462.1h1.5v1.5h-1.5zM392.0 468.4h1.5v1.5h-1.5zM377.0 451.8h1.5v1.5h-1.5zM396.7 430.2h1.5v1.5h-1.5zM375.5 456.0h1.5v1.5h-1.5zM432.5 469.9h1.5v1.5h-1.5zM351.0 465.9h1.5v1.5h-1.5zM352.8 426.3h1.5v1.5h-1.5zM400.1 462.7h1.5v1.5h-1.5zM391.7 472.6h1.5v1.5h-1.5zM394.9 452.9h1.5v1.5h-1.5zM376.3 455.2h1.5v1.5h-1.5zM315.9 460.2h1.5v1.5h-1.5zM389.5 471.0h1.5v1.5h-1.5zM343.0 465.5h1.5v1.5h-1.5zM408.3 458.7h1.5v1.5h-1.5zM391.5 445.2h1.5v1.5h-1.5zM379.3 440.7h1.5v1.5h-1.5zM356.1 473.9h1.5v1.5h-1.5zM418.8 461.1h1.5v1.5h-1.5zM373.9 466.5h1.5v1.5h-1.5zM419.9 441.4h1.5v1.5h-1.5zM460.4 442.0h1.5v1.5h-1.5zM418.4 450.4h1.5v1.5h-1.5zM391.8 460.9h1.5v1.5h-1.5zM340.9 469.4h1.5v1.5h-1.5zM362.7 463.9h1.5v1.5h-1.5zM409.9 462.3h1.5v1.5h-1.5zM414.9 464.6h1.5v1.5h-1.5zM382.0 439.9h1.5v1.5h-1.5zM422.4 455.0h1.5v1.5h-1.5zM459.7 441.1h1.5v1.5h-1.5zM380.7 471.5h1.5v1.5h-1.5zM407.3 426.0h1.5v1.5h-1.5zM401.9 472.8h1.5v1.5h-1.5zM407.0 447.6h1.5v1.5h-1.5zM435.8 414.2h1.5v1.5h-1.5zM351.2 463.2h1.5v1.5h-1.5zM330.5 464.3h1.5v1.5h-1.5zM357.4 464.9h1.5v1.5h-1.5zM351.5 430.4h1.5v1.5h-1.5zM347.2 448.5h1.5v1.5h-1.5zM410.2 421.2h1.5v1.5h-1.5zM416.7 466.5h1.5v1.5h-1.5zM337.1 445.6h1.5v1.5h-1.5zM371.7 436.9h1.5v1.5h-1.5zM370.5 434.3h1.5v1.5h-1.5zM324.7 466.1h1.5v1.5h-1.5zM378.1 438.0h1.5v1.5h-1.5zM416.7 472.0h1.5v1.5h-1.5zM376.0 453.1h1.5v1.5h-1.5zM400.2 474.0h1.5v1.5h-1.5zM398.0 471.3h1.5v1.5h-1.5zM349.3 433.0h1.5v1.5h-1.5zM379.8 465.5h1.5v1.5h-1.5zM341.2 470.0h1.5v1.5h-1.5zM335.9 455.5h1.5v1.5h-1.5zM329.0 424.2h1.5v1.5h-1.5zM380.5 453.7h1.5v1.5h-1.5zM364.4 429.6h1.5v1.5h-1.5zM369.6 436.7h1.5v1.5h-1.5zM425.9 472.0h1.5v1.5h-1.5zM396.6 450.4h1.5v1.5h-1.5zM391.9 455.0h1.5v1.5h-1.5zM404.1 470.3h1.5v1.5h-1.5zM383.9 451.4h1.5v1.5h-1.5zM424.1 435.9h1.5v1.5h-1.5zM398.7 453.7h1.5v1.5h-1.5zM359.4 458.7h1.5v1.5h-1.5zM364.5 443.7h1.5v1.5h-1.5zM404.6 429.6h1.5v1.5h-1.5zM342.2 455.8h1.5v1.5h-1.5zM376.4 432.5h1.5v1.5h-1.5zM374.9 450.7h1.5v1.5h-1.5zM365.7 468.9h1.5v1.5h-1.5zM370.4 469.5h1.5v1.5h-1.5zM395.7 427.1h1.5v1.5h-1.5zM422.1 460.0h1.5v1.5h-1.5zM456.1 469.0h1.5v1.5h-1.5zM396.3 473.2h1.5v1.5h-1.5zM407.1 446.2h1.5v1.5h-1.5zM417.8 446.1h1.5v1.5h-1.5zM320.8 461.2h1.5v1.5h-1.5zM410.1 449.2h1.5v1.5h-1.5zM394.2 429.9h1.5v1.5h-1.5zM354.2 472.1h1.5v1.5h-1.5zM408.7 467.4h1.5v1.5h-1.5zM345.9 472.8h1.5v1.5h-1.5zM325.0 442.2h1.5v1.5h-1.5zM391.7 423.6h1.5v1.5h-1.5zM392.8 458.8h1.5v1.5h-1.5zM406.6 472.4h1.5v1.5h-1.5zM356.4 473.4h1.5v1.5h-1.5zM413.6 431.3h1.5v1.5h-1.5zM351.2 449.9h1.5v1.5h-1.5zM371.3 456.1h1.5v1.5h-1.5zM375.8 412.0h1.5v1.5h-1.5zM445.4 454.0h1.5v1.5h-1.5zM366.2 440.8h1.5v1.5h-1.5zM433.1 441.7h1.5v1.5h-1.5zM381.4 457.0h1.5v1.5h-1.5zM425.8 471.3h1.5v1.5h-1.5zM362.2 466.5h1.5v1.5h-1.5zM324.5 419.5h1.5v1.5h-1.5zM340.1 434.5h1.5v1.5h-1.5zM426.2 435.1h1.5v1.5h-1.5zM338.9 434.4h1.5v1.5h-1.5zM400.1 449.5h1.5v1.5h-1.5zM425.6 442.7h1.5v1.5h-1.5zM438.5 467.2h1.5v1.5h-1.5zM389.1 440.5h1.5v1.5h-1.5zM387.7 468.4h1.5v1.5h-1.5zM378.4 419.4h1.5v1.5h-1.5zM419.2 471.9h1.5v1.5h-1.5zM357.8 472.3h1.5v1.5h-1.5zM416.9 455.9h1.5v1.5h-1.5zM385.4 459.0h1.5v1.5h-1.5zM399.4 464.5h1.5v1.5h-1.5zM354.7 464.7h1.5v1.5h-1.5zM433.0 426.1h1.5v1.5h-1.5zM407.1 461.1h1.5v1.5h-1.5zM348.6 437.5h1.5v1.5h-1.5zM379.6 467.7h1.5v1.5h-1.5zM365.0 430.2h1.5v1.5h-1.5zM395.6 462.7h1.5v1.5h-1.5zM412.7 423.7h1.5v1.5h-1.5zM398.2 421.0h1.5v1.5h-1.5zM423.3 473.3h1.5v1.5h-1.5zM397.7 452.4h1.5v1.5h-1.5zM373.2 456.7h1.5v1.5h-1.5zM410.9 453.8h1.5v1.5h-1.5zM336.0 423.7h1.5v1.5h-1.5zM352.6 449.8h1.5v1.5h-1.5zM347.1 441.1h1.5v1.5h-1.5zM328.3 467.0h1.5v1.5h-1.5zM390.6 421.8h1.5v1.5h-1.5zM388.8 451.7h1.5v1.5h-1.5zM394.1 436.2h1.5v1.5h-1.5zM414.9 405.3h1.5v1.5h-1.5zM358.4 440.2h1.5v1.5h-1.5zM378.1 467.1h1.5v1.5h-1.5zM323.8 469.1h1.5v1.5h-1.5zM332.4 466.0h1.5v1.5h-1.5zM418.2 413.3h1.5v1.5h-1.5zM390.6 453.8h1.5v1.5h-1.5zM330.4 469.6h1.5v1.5h-1.5zM356.9 464.9h1.5v1.5h-1.5zM326.6 437.2h1.5v1.5h-1.5zM418.7 471.1h1.5v1.5h-1.5zM391.3 432.0h1.5v1.5h-1.5zM444.2 465.5h1.5v1.5h-1.5zM371.5 418.2h1.5v1.5h-1.5zM371.1 434.9h1.5v1.5h-1.5zM348.9 428.1h1.5v1.5h-1.5zM343.7 456.0h1.5v1.5h-1.5zM353.7 464.7h1.5v1.5h-1.5zM340.1 458.2h1.5v1.5h-1.5zM359.7 448.7h1.5v1.5h-1.5zM386.5 467.2h1.5v1.5h-1.5zM351.1 465.1h1.5v1.5h-1.5zM454.4 468.1h1.5v1.5h-1.5zM360.9 466.4h1.5v1.5h-1.5zM425.9 440.0h1.5v1.5h-1.5zM452.8 466.1h1.5v1.5h-1.5zM355.9 468.3h1.5v1.5h-1.5zM432.5 464.7h1.5v1.5h-1.5zM400.5 439.9h1.5v1.5h-1.5zM331.0 465.8h1.5v1.5h-1.5zM360.1 438.8h1.5v1.5h-1.5zM344.5 461.7h1.5v1.5h-1.5zM390.5 468.1h1.5v1.5h-1.5zM346.2 442.2h1.5v1.5h-1.5zM372.9 472.6h1.5v1.5h-1.5zM361.6 418.5h1.5v1.5h-1.5zM357.6 456.5h1.5v1.5h-1.5zM369.4 468.7h1.5v1.5h-1.5zM357.3 446.7h1.5v1.5h-1.5zM360.4 468.8h1.5v1.5h-1.5zM403.4 468.2h1.5v1.5h-1.5zM471.0 462.8h1.5v1.5h-1.5zM348.1 453.3h1.5v1.5h-1.5zM376.1 459.2h1.5v1.5h-1.5zM360.7 470.5h1.5v1.5h-1.5zM351.1 470.9h1.5v1.5h-1.5zM392.2 468.6h1.5v1.5h-1.5zM381.7 463.9h1.5v1.5h-1.5zM436.9 459.0h1.5v1.5h-1.5zM425.6 459.6h1.5v1.5h-1.5zM351.8 450.8h1.5v1.5h-1.5zM389.2 467.3h1.5v1.5h-1.5zM414.2 467.0h1.5v1.5h-1.5zM404.4 466.5h1.5v1.5h-1.5zM381.0 473.2h1.5v1.5h-1.5zM373.6 443.5h1.5v1.5h-1.5zM373.9 469.7h1.5v1.5h-1.5zM365.4 449.2h1.5v1.5h-1.5zM383.4 422.2h1.5v1.5h-1.5zM398.3 470.5h1.5v1.5h-1.5zM360.9 461.1h1.5v1.5h-1.5zM319.0 434.6h1.5v1.5h-1.5zM391.5 462.0h1.5v1.5h-1.5zM345.9 423.5h1.5v1.5h-1.5zM385.5 469.2h1.5v1.5h-1.5zM357.4 469.7h1.5v1.5h-1.5zM365.8 402.3h1.5v1.5h-1.5zM373.5 452.9h1.5v1.5h-1.5zM409.4 465.0h1.5v1.5h-1.5zM400.7 441.5h1.5v1.5h-1.5zM389.8 440.7h1.5v1.5h-1.5zM389.5 428.8h1.5v1.5h-1.5zM428.7 462.3h1.5v1.5h-1.5zM333.3 421.9h1.5v1.5h-1.5zM449.2 464.5h1.5v1.5h-1.5zM446.7 455.2h1.5v1.5h-1.5zM387.0 419.4h1.5v1.5h-1.5zM344.3 464.3h1.5v1.5h-1.5zM440.0 470.1h1.5v1.5h-1.5zM364.4 465.0h1.5v1.5h-1.5zM386.5 461.7h1.5v1.5h-1.5zM377.2 422.0h1.5v1.5h-1.5zM389.4 445.7h1.5v1.5h-1.5zM360.2 443.2h1.5v1.5h-1.5zM399.7 427.3h1.5v1.5h-1.5zM387.3 466.5h1.5v1.5h-1.5zM364.0 466.7h1.5v1.5h-1.5zM409.6 471.6h1.5v1.5h-1.5zM399.4 445.2h1.5v1.5h-1.5zM359.4 408.7h1.5v1.5h-1.5zM364.0 454.3h1.5v1.5h-1.5zM406.4 446.5h1.5v1.5h-1.5zM314.8 469.4h1.5v1.5h-1.5zM388.9 423.3h1.5v1.5h-1.5zM385.1 463.8h1.5v1.5h-1.5zM320.1 456.7h1.5v1.5h-1.5zM357.9 451.5h1.5v1.5h-1.5zM442.0 470.9h1.5v1.5h-1.5zM408.8 458.7h1.5v1.5h-1.5zM337.2 465.0h1.5v1.5h-1.5zM367.3 429.5h1.5v1.5h-1.5zM361.8 438.8h1.5v1.5h-1.5zM349.2 449.5h1.5v1.5h-1.5zM345.9 469.4h1.5v1.5h-1.5zM373.1 439.5h1.5v1.5h-1.5zM360.7 427.3h1.5v1.5h-1.5zM446.8 458.0h1.5v1.5h-1.5zM457.8 472.5h1.5v1.5h-1.5zM387.4 446.0h1.5v1.5h-1.5zM369.6 456.1h1.5v1.5h-1.5zM316.0 473.0h1.5v1.5h-1.5zM349.2 462.4h1.5v1.5h-1.5zM349.5 440.7h1.5v1.5h-1.5zM386.8 455.6h1.5v1.5h-1.5zM455.4 421.1h1.5v1.5h-1.5zM359.9 440.9h1.5v1.5h-1.5zM442.8 444.5h1.5v1.5h-1.5zM387.7 437.4h1.5v1.5h-1.5zM393.2 448.0h1.5v1.5h-1.5zM376.5 454.7h1.5v1.5h-1.5zM343.8 463.2h1.5v1.5h-1.5zM366.7 448.9h1.5v1.5h-1.5zM400.8 411.6h1.5v1.5h-1.5zM337.9 472.7h1.5v1.5h-1.5zM361.2 429.6h1.5v1.5h-1.5zM327.7 466.0h1.5v1.5h-1.5zM365.5 459.8h1.5v1.5h-1.5zM344.1 420.4h1.5v1.5h-1.5zM411.3 457.5h1.5v1.5h-1.5zM339.6 473.4h1.5v1.5h-1.5zM334.3 457.5h1.5v1.5h-1.5zM372.2 456.3h1.5v1.5h-1.5zM426.9 462.9h1.5v1.5h-1.5zM377.6 452.7h1.5v1.5h-1.5zM373.7 453.5h1.5v1.5h-1.5zM404.6 459.0h1.5v1.5h-1.5zM378.9 465.7h1.5v1.5h-1.5zM410.8 448.4h1.5v1.5h-1.5zM410.9 437.9h1.5v1.5h-1.5zM378.9 449.6h1.5v1.5h-1.5zM390.7 469.7h1.5v1.5h-1.5zM405.4 469.4h1.5v1.5h-1.5zM426.7 459.2h1.5v1.5h-1.5zM345.8 462.3h1.5v1.5h-1.5zM339.4 463.9h1.5v1.5h-1.5zM387.9 464.8h1.5v1.5h-1.5zM375.9 466.2h1.5v1.5h-1.5zM382.5 398.4h1.5v1.5h-1.5zM352.8 438.1h1.5v1.5h-1.5zM374.4 461.6h1.5v1.5h-1.5zM374.2 474.0h1.5v1.5h-1.5zM422.7 473.2h1.5v1.5h-1.5zM355.5 439.4h1.5v1.5h-1.5zM372.5 445.1h1.5v1.5h-1.5zM357.6 396.4h1.5v1.5h-1.5zM326.1 459.9h1.5v1.5h-1.5zM356.6 453.4h1.5v1.5h-1.5zM352.1 418.9h1.5v1.5h-1.5zM453.2 465.1h1.5v1.5h-1.5zM390.7 455.7h1.5v1.5h-1.5zM432.7 431.6h1.5v1.5h-1.5zM363.1 444.0h1.5v1.5h-1.5zM327.2 439.2h1.5v1.5h-1.5zM398.9 418.2h1.5v1.5h-1.5zM441.0 470.9h1.5v1.5h-1.5zM378.4 433.5h1.5v1.5h-1.5zM366.7 459.3h1.5v1.5h-1.5zM419.8 448.1h1.5v1.5h-1.5zM440.3 449.8h1.5v1.5h-1.5zM357.5 436.7h1.5v1.5h-1.5zM371.8 427.6h1.5v1.5h-1.5zM326.6 454.4h1.5v1.5h-1.5zM354.8 456.3h1.5v1.5h-1.5zM429.9 415.8h1.5v1.5h-1.5zM340.3 465.7h1.5v1.5h-1.5zM395.3 463.3h1.5v1.5h-1.5zM384.7 462.5h1.5v1.5h-1.5zM353.4 454.4h1.5v1.5h-1.5zM342.7 467.9h1.5v1.5h-1.5zM359.6 462.6h1.5v1.5h-1.5zM395.2 463.0h1.5v1.5h-1.5zM405.8 469.8h1.5v1.5h-1.5zM380.4 428.3h1.5v1.5h-1.5zM378.1 431.4h1.5v1.5h-1.5zM344.1 444.6h1.5v1.5h-1.5zM354.1 459.2h1.5v1.5h-1.5zM344.1 468.6h1.5v1.5h-1.5zM360.5 464.4h1.5v1.5h-1.5zM378.8 419.2h1.5v1.5h-1.5zM373.8 460.2h1.5v1.5h-1.5zM314.6 463.1h1.5v1.5h-1.5zM333.5 455.4h1.5v1.5h-1.5zM414.8 461.2h1.5v1.5h-1.5zM330.7 435.8h1.5v1.5h-1.5zM384.3 436.1h1.5v1.5h-1.5zM437.2 445.7h1.5v1.5h-1.5zM440.7 471.3h1.5v1.5h-1.5zM370.5 461.2h1.5v1.5h-1.5zM353.0 442.0h1.5v1.5h-1.5zM338.9 450.1h1.5v1.5h-1.5zM410.9 461.3h1.5v1.5h-1.5zM380.0 399.9h1.5v1.5h-1.5zM430.1 441.4h1.5v1.5h-1.5zM317.5 448.8h1.5v1.5h-1.5zM364.4 469.6h1.5v1.5h-1.5zM371.9 448.2h1.5v1.5h-1.5zM430.1 449.0h1.5v1.5h-1.5zM356.5 463.5h1.5v1.5h-1.5zM394.8 460.7h1.5v1.5h-1.5zM427.2 472.8h1.5v1.5h-1.5zM366.3 467.3h1.5v1.5h-1.5zM348.4 468.0h1.5v1.5h-1.5zM323.5 462.0h1.5v1.5h-1.5zM347.5 466.9h1.5v1.5h-1.5zM362.9 421.1h1.5v1.5h-1.5zM465.4 413.3h1.5v1.5h-1.5zM329.1 446.9h1.5v1.5h-1.5zM354.4 428.5h1.5v1.5h-1.5zM418.6 460.6h1.5v1.5h-1.5zM483.5 473.1h1.5v1.5h-1.5zM399.2 466.0h1.5v1.5h-1.5zM342.0 470.2h1.5v1.5h-1.5zM442.3 470.4h1.5v1.5h-1.5zM406.3 473.2h1.5v1.5h-1.5zM389.3 465.8h1.5v1.5h-1.5zM423.9 457.7h1.5v1.5h-1.5zM382.3 461.3h1.5v1.5h-1.5zM371.2 439.1h1.5v1.5h-1.5zM393.8 454.1h1.5v1.5h-1.5zM372.1 464.2h1.5v1.5h-1.5zM421.1 442.8h1.5v1.5h-1.5zM401.8 465.9h1.5v1.5h-1.5zM400.4 465.1h1.5v1.5h-1.5zM375.4 439.2h1.5v1.5h-1.5zM401.2 444.9h1.5v1.5h-1.5zM364.8 454.0h1.5v1.5h-1.5zM433.1 416.5h1.5v1.5h-1.5zM324.9 412.5h1.5v1.5h-1.5zM443.6 469.0h1.5v1.5h-1.5zM368.6 456.7h1.5v1.5h-1.5zM339.1 460.4h1.5v1.5h-1.5zM405.5 432.9h1.5v1.5h-1.5zM355.8 459.7h1.5v1.5h-1.5zM453.6 473.2h1.5v1.5h-1.5zM354.7 426.9h1.5v1.5h-1.5zM318.4 473.7h1.5v1.5h-1.5zM383.3 470.9h1.5v1.5h-1.5zM473.4 451.8h1.5v1.5h-1.5zM408.9 421.5h1.5v1.5h-1.5zM372.8 454.9h1.5v1.5h-1.5zM393.8 432.4h1.5v1.5h-1.5zM350.0 423.1h1.5v1.5h-1.5zM372.8 451.0h1.5v1.5h-1.5zM373.0 437.8h1.5v1.5h-1.5zM400.4 464.4h1.5v1.5h-1.5zM345.9 457.3h1.5v1.5h-1.5zM402.4 447.7h1.5v1.5h-1.5zM424.2 465.6h1.5v1.5h-1.5zM368.0 449.3h1.5v1.5h-1.5zM400.1 420.1h1.5v1.5h-1.5zM365.9 437.7h1.5v1.5h-1.5zM349.5 443.5h1.5v1.5h-1.5zM383.4 473.5h1.5v1.5h-1.5zM360.7 471.4h1.5v1.5h-1.5zM339.3 471.5h1.5v1.5h-1.5zM365.7 435.8h1.5v1.5h-1.5zM362.0 441.5h1.5v1.5h-1.5zM414.7 439.8h1.5v1.5h-1.5zM429.6 463.8h1.5v1.5h-1.5zM339.0 447.5h1.5v1.5h-1.5zM423.1 406.1h1.5v1.5h-1.5zM318.2 473.5h1.5v1.5h-1.5zM320.9 454.4h1.5v1.5h-1.5zM335.6 416.8h1.5v1.5h-1.5zM359.8 446.0h1.5v1.5h-1.5zM417.6 459.3h1.5v1.5h-1.5zM456.6 467.7h1.5v1.5h-1.5zM375.7 468.4h1.5v1.5h-1.5zM393.2 466.1h1.5v1.5h-1.5zM399.4 457.6h1.5v1.5h-1.5zM380.2 440.0h1.5v1.5h-1.5zM393.9 447.6h1.5v1.5h-1.5zM400.3 425.2h1.5v1.5h-1.5zM409.9 453.9h1.5v1.5h-1.5zM329.6 450.0h1.5v1.5h-1.5zM385.2 439.1h1.5v1.5h-1.5zM392.4 411.9h1.5v1.5h-1.5zM400.5 431.9h1.5v1.5h-1.5zM442.7 462.9h1.5v1.5h-1.5zM406.8 439.8h1.5v1.5h-1.5zM479.5 471.7h1.5v1.5h-1.5zM357.8 472.2h1.5v1.5h-1.5zM332.5 398.5h1.5v1.5h-1.5zM409.3 434.6h1.5v1.5h-1.5zM435.2 473.6h1.5v1.5h-1.5zM339.6 428.3h1.5v1.5h-1.5zM374.4 448.3h1.5v1.5h-1.5zM446.4 442.5h1.5v1.5h-1.5zM384.3 448.4h1.5v1.5h-1.5zM418.2 427.8h1.5v1.5h-1.5zM334.4 427.1h1.5v1.5h-1.5zM386.4 424.3h1.5v1.5h-1.5zM430.0 467.5h1.5v1.5h-1.5zM387.1 428.0h1.5v1.5h-1.5zM338.3 469.8h1.5v1.5h-1.5zM360.0 459.5h1.5v1.5h-1.5zM399.7 468.9h1.5v1.5h-1.5zM390.3 457.6h1.5v1.5h-1.5zM418.4 455.4h1.5v1.5h-1.5zM370.5 470.9h1.5v1.5h-1.5zM317.7 473.0h1.5v1.5h-1.5zM422.3 438.0h1.5v1.5h-1.5zM393.6 452.6h1.5v1.5h-1.5zM369.7 437.9h1.5v1.5h-1.5zM320.4 466.2h1.5v1.5h-1.5zM482.7 469.6h1.5v1.5h-1.5zM365.3 440.7h1.5v1.5h-1.5zM377.0 472.4h1.5v1.5h-1.5zM420.2 429.7h1.5v1.5h-1.5zM317.6 459.2h1.5v1.5h-1.5zM406.5 439.3h1.5v1.5h-1.5zM369.9 441.9h1.5v1.5h-1.5zM394.9 451.9h1.5v1.5h-1.5zM398.1 451.7h1.5v1.5h-1.5zM379.3 467.6h1.5v1.5h-1.5zM393.6 451.1h1.5v1.5h-1.5zM401.2 465.2h1.5v1.5h-1.5zM416.5 400.1h1.5v1.5h-1.5zM454.9 460.9h1.5v1.5h-1.5zM368.2 455.4h1.5v1.5h-1.5zM380.8 465.6h1.5v1.5h-1.5zM421.5 446.9h1.5v1.5h-1.5zM457.7 470.2h1.5v1.5h-1.5zM339.7 413.9h1.5v1.5h-1.5zM377.2 455.5h1.5v1.5h-1.5zM385.1 444.6h1.5v1.5h-1.5zM438.3 462.9h1.5v1.5h-1.5zM393.3 403.5h1.5v1.5h-1.5zM476.7 470.8h1.5v1.5h-1.5zM411.4 458.0h1.5v1.5h-1.5zM350.4 417.0h1.5v1.5h-1.5zM348.9 466.0h1.5v1.5h-1.5zM370.0 454.5h1.5v1.5h-1.5zM375.9 438.4h1.5v1.5h-1.5zM346.9 452.9h1.5v1.5h-1.5zM388.3 464.9h1.5v1.5h-1.5zM419.1 472.8h1.5v1.5h-1.5zM362.2 468.0h1.5v1.5h-1.5zM423.6 453.4h1.5v1.5h-1.5zM408.4 427.5h1.5v1.5h-1.5zM394.9 446.8h1.5v1.5h-1.5zM443.5 453.8h1.5v1.5h-1.5zM442.2 456.8h1.5v1.5h-1.5zM324.8 440.0h1.5v1.5h-1.5zM389.2 429.6h1.5v1.5h-1.5zM402.6 456.8h1.5v1.5h-1.5zM327.2 414.7h1.5v1.5h-1.5zM371.3 445.8h1.5v1.5h-1.5zM333.5 408.2h1.5v1.5h-1.5zM367.4 473.6h1.5v1.5h-1.5zM320.7 466.4h1.5v1.5h-1.5zM407.4 442.7h1.5v1.5h-1.5zM324.8 461.2h1.5v1.5h-1.5zM362.5 470.5h1.5v1.5h-1.5zM379.4 473.6h1.5v1.5h-1.5zM328.3 461.1h1.5v1.5h-1.5zM392.6 435.0h1.5v1.5h-1.5zM323.0 456.6h1.5v1.5h-1.5zM455.1 464.9h1.5v1.5h-1.5zM394.9 442.3h1.5v1.5h-1.5zM397.8 463.2h1.5v1.5h-1.5zM380.9 459.0h1.5v1.5h-1.5zM380.7 464.6h1.5v1.5h-1.5zM390.5 473.5h1.5v1.5h-1.5zM406.8 412.0h1.5v1.5h-1.5zM337.0 473.1h1.5v1.5h-1.5zM384.9 468.6h1.5v1.5h-1.5zM325.8 451.5h1.5v1.5h-1.5zM416.5 465.1h1.5v1.5h-1.5zM379.1 432.1h1.5v1.5h-1.5zM447.6 413.4h1.5v1.5h-1.5zM415.5 464.9h1.5v1.5h-1.5zM353.0 407.9h1.5v1.5h-1.5zM387.0 438.2h1.5v1.5h-1.5zM461.7 413.9h1.5v1.5h-1.5zM437.4 433.6h1.5v1.5h-1.5zM354.9 403.7h1.5v1.5h-1.5zM331.5 414.4h1.5v1.5h-1.5zM349.5 403.1h1.5v1.5h-1.5zM337.5 464.8h1.5v1.5h-1.5zM353.9 455.1h1.5v1.5h-1.5zM397.4 464.1h1.5v1.5h-1.5zM444.4 465.3h1.5v1.5h-1.5zM331.4 435.4h1.5v1.5h-1.5zM397.5 473.3h1.5v1.5h-1.5zM417.3 471.8h1.5v1.5h-1.5zM344.3 468.8h1.5v1.5h-1.5zM337.5 472.6h1.5v1.5h-1.5zM409.7 469.1h1.5v1.5h-1.5zM419.8 453.6h1.5v1.5h-1.5zM353.0 473.1h1.5v1.5h-1.5zM330.2 462.5h1.5v1.5h-1.5zM444.9 463.4h1.5v1.5h-1.5zM375.2 423.5h1.5v1.5h-1.5zM364.9 416.4h1.5v1.5h-1.5zM457.4 450.5h1.5v1.5h-1.5zM365.6 466.9h1.5v1.5h-1.5zM423.0 456.1h1.5v1.5h-1.5zM352.7 447.8h1.5v1.5h-1.5zM420.5 460.9h1.5v1.5h-1.5zM335.0 451.7h1.5v1.5h-1.5zM348.9 467.0h1.5v1.5h-1.5zM403.9 471.4h1.5v1.5h-1.5zM429.5 472.1h1.5v1.5h-1.5zM392.4 434.7h1.5v1.5h-1.5zM419.3 420.1h1.5v1.5h-1.5zM436.6 433.1h1.5v1.5h-1.5zM373.2 461.1h1.5v1.5h-1.5zM339.3 434.0h1.5v1.5h-1.5zM396.5 426.6h1.5v1.5h-1.5zM439.1 453.2h1.5v1.5h-1.5zM354.9 456.7h1.5v1.5h-1.5zM390.0 423.2h1.5v1.5h-1.5zM427.4 470.1h1.5v1.5h-1.5zM402.8 451.6h1.5v1.5h-1.5zM321.3 446.7h1.5v1.5h-1.5zM444.1 453.9h1.5v1.5h-1.5zM396.3 433.2h1.5v1.5h-1.5zM376.1 463.1h1.5v1.5h-1.5zM370.0 446.7h1.5v1.5h-1.5zM424.8 435.1h1.5v1.5h-1.5zM397.3 454.3h1.5v1.5h-1.5zM377.8 460.4h1.5v1.5h-1.5zM385.2 462.0h1.5v1.5h-1.5zM385.8 451.8h1.5v1.5h-1.5zM380.1 470.0h1.5v1.5h-1.5zM374.3 420.3h1.5v1.5h-1.5zM384.5 455.9h1.5v1.5h-1.5zM440.2 402.1h1.5v1.5h-1.5zM328.5 410.1h1.5v1.5h-1.5zM339.8 465.7h1.5v1.5h-1.5zM393.8 425.7h1.5v1.5h-1.5zM356.5 413.8h1.5v1.5h-1.5zM376.1 449.5h1.5v1.5h-1.5zM406.6 446.1h1.5v1.5h-1.5zM391.4 440.8h1.5v1.5h-1.5zM396.8 454.4h1.5v1.5h-1.5zM411.5 471.8h1.5v1.5h-1.5zM398.7 425.7h1.5v1.5h-1.5zM476.2 463.7h1.5v1.5h-1.5zM473.8 403.7h1.5v1.5h-1.5zM448.8 450.4h1.5v1.5h-1.5zM438.4 458.0h1.5v1.5h-1.5zM455.8 443.2h1.5v1.5h-1.5zM478.8 450.7h1.5v1.5h-1.5zM477.7 470.8h1.5v1.5h-1.5zM398.6 436.2h1.5v1.5h-1.5zM399.2 428.5h1.5v1.5h-1.5zM464.1 467.6h1.5v1.5h-1.5zM483.2 452.9h1.5v1.5h-1.5zM317.3 473.5h1.5v1.5h-1.5zM317.7 468.4h1.5v1.5h-1.5zM485.0 427.7h1.5v1.5h-1.5zM387.8 441.5h1.5v1.5h-1.5zM476.9 450.5h1.5v1.5h-1.5zM450.4 417.1h1.5v1.5h-1.5zM479.4 459.0h1.5v1.5h-1.5zM345.2 429.2h1.5v1.5h-1.5zM431.1 468.6h1.5v1.5h-1.5zM335.4 447.3h1.5v1.5h-1.5zM457.6 448.8h1.5v1.5h-1.5zM349.5 469.0h1.5v1.5h-1.5zM326.1 450.9h1.5v1.5h-1.5zM446.3 455.5h1.5v1.5h-1.5zM438.3 424.8h1.5v1.5h-1.5zM451.2 467.8h1.5v1.5h-1.5zM361.3 466.5h1.5v1.5h-1.5zM418.3 456.3h1.5v1.5h-1.5zM350.5 466.9h1.5v1.5h-1.5zM355.4 451.3h1.5v1.5h-1.5zM403.8 410.0h1.5v1.5h-1.5zM408.7 422.6h1.5v1.5h-1.5zM378.0 441.4h1.5v1.5h-1.5zM382.7 406.9h1.5v1.5h-1.5zM475.3 424.2h1.5v1.5h-1.5zM341.8 440.6h1.5v1.5h-1.5zM422.3 469.1h1.5v1.5h-1.5zM412.0 460.6h1.5v1.5h-1.5zM345.3 465.3h1.5v1.5h-1.5zM348.4 448.6h1.5v1.5h-1.5zM368.3 468.8h1.5v1.5h-1.5zM398.3 462.0h1.5v1.5h-1.5zM397.5 459.4h1.5v1.5h-1.5zM431.8 435.1h1.5v1.5h-1.5zM407.3 469.1h1.5v1.5h-1.5zM386.6 470.7h1.5v1.5h-1.5zM428.8 427.7h1.5v1.5h-1.5zM390.4 449.1h1.5v1.5h-1.5zM487.6 467.7h1.5v1.5h-1.5zM448.0 457.0h1.5v1.5h-1.5zM373.5 451.9h1.5v1.5h-1.5zM352.6 440.7h1.5v1.5h-1.5zM338.2 463.9h1.5v1.5h-1.5zM388.5 441.8h1.5v1.5h-1.5zM461.6 461.4h1.5v1.5h-1.5zM324.1 467.4h1.5v1.5h-1.5zM374.8 461.6h1.5v1.5h-1.5zM441.3 434.3h1.5v1.5h-1.5zM380.7 465.5h1.5v1.5h-1.5zM422.1 456.0h1.5v1.5h-1.5zM445.0 421.3h1.5v1.5h-1.5zM398.0 438.5h1.5v1.5h-1.5zM415.0 444.0h1.5v1.5h-1.5zM326.1 457.8h1.5v1.5h-1.5zM344.1 472.8h1.5v1.5h-1.5zM337.8 442.4h1.5v1.5h-1.5zM319.6 467.0h1.5v1.5h-1.5zM488.1 460.2h1.5v1.5h-1.5zM396.8 444.8h1.5v1.5h-1.5zM402.2 444.4h1.5v1.5h-1.5zM417.0 439.6h1.5v1.5h-1.5zM458.0 469.3h1.5v1.5h-1.5zM475.3 434.2h1.5v1.5h-1.5zM389.5 444.4h1.5v1.5h-1.5zM332.7 456.5h1.5v1.5h-1.5zM393.3 471.1h1.5v1.5h-1.5zM444.0 466.4h1.5v1.5h-1.5zM479.6 465.3h1.5v1.5h-1.5zM333.3 414.3h1.5v1.5h-1.5zM383.3 471.6h1.5v1.5h-1.5zM433.1 443.4h1.5v1.5h-1.5zM364.2 410.4h1.5v1.5h-1.5zM435.7 455.1h1.5v1.5h-1.5zM439.2 436.9h1.5v1.5h-1.5zM442.1 463.2h1.5v1.5h-1.5zM365.7 447.6h1.5v1.5h-1.5zM416.6 472.7h1.5v1.5h-1.5zM409.3 468.9h1.5v1.5h-1.5zM363.4 443.3h1.5v1.5h-1.5zM424.0 471.3h1.5v1.5h-1.5zM335.0 459.9h1.5v1.5h-1.5zM422.1 466.4h1.5v1.5h-1.5zM342.2 396.4h1.5v1.5h-1.5zM404.0 473.5h1.5v1.5h-1.5zM344.0 388.1h1.5v1.5h-1.5zM421.6 434.0h1.5v1.5h-1.5zM456.7 461.6h1.5v1.5h-1.5zM361.8 450.3h1.5v1.5h-1.5zM358.9 419.3h1.5v1.5h-1.5zM465.8 468.5h1.5v1.5h-1.5zM413.1 455.0h1.5v1.5h-1.5zM376.5 453.1h1.5v1.5h-1.5zM418.8 441.7h1.5v1.5h-1.5zM384.3 463.1h1.5v1.5h-1.5zM420.0 472.1h1.5v1.5h-1.5zM389.7 455.1h1.5v1.5h-1.5zM479.1 445.9h1.5v1.5h-1.5zM334.8 448.9h1.5v1.5h-1.5zM364.0 469.3h1.5v1.5h-1.5zM360.8 453.9h1.5v1.5h-1.5zM435.8 455.7h1.5v1.5h-1.5zM369.8 428.7h1.5v1.5h-1.5zM366.2 470.0h1.5v1.5h-1.5zM447.2 440.8h1.5v1.5h-1.5zM389.0 439.0h1.5v1.5h-1.5zM395.3 421.8h1.5v1.5h-1.5zM425.8 442.3h1.5v1.5h-1.5zM487.3 470.6h1.5v1.5h-1.5zM404.8 461.6h1.5v1.5h-1.5zM484.8 465.3h1.5v1.5h-1.5zM470.0 467.6h1.5v1.5h-1.5zM475.7 457.7h1.5v1.5h-1.5zM355.5 443.0h1.5v1.5h-1.5zM400.4 422.9h1.5v1.5h-1.5zM486.0 431.6h1.5v1.5h-1.5zM387.3 449.9h1.5v1.5h-1.5zM375.5 410.2h1.5v1.5h-1.5zM388.0 458.2h1.5v1.5h-1.5zM332.1 462.9h1.5v1.5h-1.5zM393.8 468.3h1.5v1.5h-1.5zM365.8 422.1h1.5v1.5h-1.5zM436.8 466.3h1.5v1.5h-1.5zM357.9 466.6h1.5v1.5h-1.5zM474.0 467.5h1.5v1.5h-1.5zM377.1 452.3h1.5v1.5h-1.5zM461.6 457.1h1.5v1.5h-1.5zM379.3 465.5h1.5v1.5h-1.5zM400.6 432.9h1.5v1.5h-1.5zM327.7 449.9h1.5v1.5h-1.5zM408.2 455.4h1.5v1.5h-1.5zM334.6 469.1h1.5v1.5h-1.5zM479.5 456.0h1.5v1.5h-1.5zM358.0 473.5h1.5v1.5h-1.5zM418.5 444.1h1.5v1.5h-1.5zM454.2 466.9h1.5v1.5h-1.5zM388.8 470.5h1.5v1.5h-1.5zM438.1 445.2h1.5v1.5h-1.5zM484.5 471.3h1.5v1.5h-1.5zM345.3 454.6h1.5v1.5h-1.5zM399.6 450.8h1.5v1.5h-1.5zM402.3 448.4h1.5v1.5h-1.5zM367.5 449.9h1.5v1.5h-1.5zM440.7 464.0h1.5v1.5h-1.5zM402.9 447.7h1.5v1.5h-1.5zM416.3 467.8h1.5v1.5h-1.5zM376.8 386.0h1.5v1.5h-1.5zM438.1 405.6h1.5v1.5h-1.5zM392.8 410.4h1.5v1.5h-1.5zM352.4 470.6h1.5v1.5h-1.5zM397.9 472.8h1.5v1.5h-1.5zM399.8 444.5h1.5v1.5h-1.5zM438.0 433.7h1.5v1.5h-1.5zM457.9 458.2h1.5v1.5h-1.5zM378.3 444.6h1.5v1.5h-1.5zM358.2 444.7h1.5v1.5h-1.5zM483.5 466.8h1.5v1.5h-1.5zM454.7 459.2h1.5v1.5h-1.5zM432.4 462.3h1.5v1.5h-1.5zM445.6 439.8h1.5v1.5h-1.5zM336.4 454.3h1.5v1.5h-1.5zM348.7 470.9h1.5v1.5h-1.5zM414.7 430.2h1.5v1.5h-1.5zM330.0 473.1h1.5v1.5h-1.5zM480.7 450.5h1.5v1.5h-1.5zM380.9 459.4h1.5v1.5h-1.5zM319.9 428.3h1.5v1.5h-1.5zM410.0 455.5h1.5v1.5h-1.5zM368.7 439.0h1.5v1.5h-1.5zM393.0 456.6h1.5v1.5h-1.5zM405.5 460.1h1.5v1.5h-1.5zM432.6 429.3h1.5v1.5h-1.5zM487.5 432.0h1.5v1.5h-1.5zM336.0 473.4h1.5v1.5h-1.5zM394.6 458.4h1.5v1.5h-1.5zM327.8 461.8h1.5v1.5h-1.5zM406.3 463.3h1.5v1.5h-1.5zM320.9 465.7h1.5v1.5h-1.5zM322.0 457.4h1.5v1.5h-1.5zM444.1 466.9h1.5v1.5h-1.5zM439.6 454.8h1.5v1.5h-1.5zM386.4 445.7h1.5v1.5h-1.5zM334.9 465.2h1.5v1.5h-1.5zM353.6 452.0h1.5v1.5h-1.5zM470.0 464.1h1.5v1.5h-1.5zM409.6 444.9h1.5v1.5h-1.5zM390.7 435.5h1.5v1.5h-1.5zM468.1 468.5h1.5v1.5h-1.5zM416.7 454.0h1.5v1.5h-1.5zM484.6 458.6h1.5v1.5h-1.5zM452.1 458.2h1.5v1.5h-1.5zM403.7 451.0h1.5v1.5h-1.5zM427.7 471.3h1.5v1.5h-1.5zM329.2 454.7h1.5v1.5h-1.5zM319.9 434.2h1.5v1.5h-1.5zM382.9 452.8h1.5v1.5h-1.5zM436.2 450.6h1.5v1.5h-1.5zM338.3 451.3h1.5v1.5h-1.5zM362.8 468.1h1.5v1.5h-1.5zM476.1 427.1h1.5v1.5h-1.5zM461.3 459.8h1.5v1.5h-1.5zM374.2 425.1h1.5v1.5h-1.5zM478.4 446.5h1.5v1.5h-1.5zM336.9 473.6h1.5v1.5h-1.5zM384.3 469.2h1.5v1.5h-1.5zM370.7 466.5h1.5v1.5h-1.5zM482.6 471.1h1.5v1.5h-1.5zM389.2 473.2h1.5v1.5h-1.5zM335.0 454.5h1.5v1.5h-1.5zM350.1 472.8h1.5v1.5h-1.5zM455.4 459.2h1.5v1.5h-1.5zM411.3 432.4h1.5v1.5h-1.5zM345.8 457.4h1.5v1.5h-1.5zM407.6 449.5h1.5v1.5h-1.5zM449.2 467.7h1.5v1.5h-1.5zM432.5 455.0h1.5v1.5h-1.5zM353.3 464.6h1.5v1.5h-1.5zM486.1 467.4h1.5v1.5h-1.5zM345.5 444.8h1.5v1.5h-1.5zM364.5 473.9h1.5v1.5h-1.5zM450.0 425.4h1.5v1.5h-1.5zM362.5 453.0h1.5v1.5h-1.5zM429.1 448.3h1.5v1.5h-1.5zM344.5 444.2h1.5v1.5h-1.5zM320.7 468.6h1.5v1.5h-1.5zM411.6 473.8h1.5v1.5h-1.5zM315.7 463.2h1.5v1.5h-1.5zM349.3 461.0h1.5v1.5h-1.5zM478.3 458.4h1.5v1.5h-1.5zM425.8 428.3h1.5v1.5h-1.5zM407.3 463.3h1.5v1.5h-1.5zM433.7 473.3h1.5v1.5h-1.5zM414.3 467.8h1.5v1.5h-1.5zM434.4 474.0h1.5v1.5h-1.5zM380.9 459.1h1.5v1.5h-1.5zM466.0 461.7h1.5v1.5h-1.5zM338.8 462.5h1.5v1.5h-1.5zM428.3 460.1h1.5v1.5h-1.5zM380.1 430.7h1.5v1.5h-1.5zM323.4 455.5h1.5v1.5h-1.5zM374.5 441.9h1.5v1.5h-1.5zM386.8 464.2h1.5v1.5h-1.5zM360.0 454.0h1.5v1.5h-1.5zM446.2 441.0h1.5v1.5h-1.5zM429.7 455.8h1.5v1.5h-1.5zM415.5 455.0h1.5v1.5h-1.5zM345.1 464.1h1.5v1.5h-1.5zM378.9 469.5h1.5v1.5h-1.5zM349.3 442.2h1.5v1.5h-1.5zM440.9 438.8h1.5v1.5h-1.5zM349.4 463.8h1.5v1.5h-1.5zM414.5 448.3h1.5v1.5h-1.5zM372.1 460.1h1.5v1.5h-1.5zM430.3 424.8h1.5v1.5h-1.5zM465.1 459.4h1.5v1.5h-1.5zM398.3 431.5h1.5v1.5h-1.5zM386.1 455.8h1.5v1.5h-1.5zM400.0 469.3h1.5v1.5h-1.5zM374.0 457.4h1.5v1.5h-1.5zM457.0 436.9h1.5v1.5h-1.5zM339.9 474.0h1.5v1.5h-1.5zM366.4 449.6h1.5v1.5h-1.5zM358.1 460.8h1.5v1.5h-1.5zM442.9 454.3h1.5v1.5h-1.5zM345.9 424.4h1.5v1.5h-1.5zM450.7 461.6h1.5v1.5h-1.5zM467.8 449.4h1.5v1.5h-1.5zM371.8 463.0h1.5v1.5h-1.5zM484.4 439.9h1.5v1.5h-1.5zM355.1 443.9h1.5v1.5h-1.5zM423.6 428.1h1.5v1.5h-1.5zM368.1 441.3h1.5v1.5h-1.5zM349.1 413.0h1.5v1.5h-1.5zM432.4 431.9h1.5v1.5h-1.5zM429.7 473.7h1.5v1.5h-1.5zM456.9 449.9h1.5v1.5h-1.5zM473.7 437.3h1.5v1.5h-1.5zM346.3 432.3h1.5v1.5h-1.5zM324.3 447.9h1.5v1.5h-1.5zM320.3 433.5h1.5v1.5h-1.5zM348.2 469.6h1.5v1.5h-1.5zM361.4 469.5h1.5v1.5h-1.5zM422.2 445.4h1.5v1.5h-1.5zM354.4 431.9h1.5v1.5h-1.5zM424.4 463.1h1.5v1.5h-1.5zM425.8 463.6h1.5v1.5h-1.5zM347.6 459.0h1.5v1.5h-1.5zM415.1 465.0h1.5v1.5h-1.5zM402.2 469.8h1.5v1.5h-1.5zM444.6 445.2h1.5v1.5h-1.5zM323.4 447.1h1.5v1.5h-1.5zM369.0 467.8h1.5v1.5h-1.5zM470.4 471.4h1.5v1.5h-1.5zM327.0 460.7h1.5v1.5h-1.5zM353.5 468.0h1.5v1.5h-1.5zM430.3 412.0h1.5v1.5h-1.5zM319.7 459.7h1.5v1.5h-1.5zM366.6 466.9h1.5v1.5h-1.5zM443.5 473.5h1.5v1.5h-1.5zM443.7 439.1h1.5v1.5h-1.5zM462.0 465.0h1.5v1.5h-1.5zM350.2 470.5h1.5v1.5h-1.5zM422.6 427.3h1.5v1.5h-1.5zM315.7 461.4h1.5v1.5h-1.5zM325.0 452.0h1.5v1.5h-1.5zM324.4 464.4h1.5v1.5h-1.5zM353.8 464.4h1.5v1.5h-1.5zM463.4 433.9h1.5v1.5h-1.5zM361.9 421.0h1.5v1.5h-1.5zM346.8 470.1h1.5v1.5h-1.5zM347.3 448.5h1.5v1.5h-1.5zM324.3 468.0h1.5v1.5h-1.5zM475.4 433.6h1.5v1.5h-1.5zM331.0 460.6h1.5v1.5h-1.5zM380.5 467.3h1.5v1.5h-1.5zM447.5 459.6h1.5v1.5h-1.5zM394.3 466.0h1.5v1.5h-1.5zM419.6 432.3h1.5v1.5h-1.5zM427.1 470.8h1.5v1.5h-1.5zM409.6 456.5h1.5v1.5h-1.5zM327.9 467.0h1.5v1.5h-1.5zM395.3 464.9h1.5v1.5h-1.5zM370.3 453.2h1.5v1.5h-1.5zM474.1 452.0h1.5v1.5h-1.5zM460.8 469.1h1.5v1.5h-1.5zM436.0 415.7h1.5v1.5h-1.5zM482.2 448.5h1.5v1.5h-1.5zM435.1 436.8h1.5v1.5h-1.5zM479.3 436.3h1.5v1.5h-1.5zM476.7 466.5h1.5v1.5h-1.5zM418.3 466.1h1.5v1.5h-1.5zM392.6 438.2h1.5v1.5h-1.5zM330.6 454.2h1.5v1.5h-1.5zM460.8 417.2h1.5v1.5h-1.5zM450.5 468.2h1.5v1.5h-1.5zM421.5 455.2h1.5v1.5h-1.5zM375.9 459.2h1.5v1.5h-1.5zM463.5 452.9h1.5v1.5h-1.5zM435.6 450.4h1.5v1.5h-1.5zM404.8 472.9h1.5v1.5h-1.5zM451.7 467.2h1.5v1.5h-1.5zM326.1 449.6h1.5v1.5h-1.5zM451.9 347.8h1.5v1.5h-1.5zM436.5 362.2h1.5v1.5h-1.5zM446.9 367.9h1.5v1.5h-1.5zM440.4 372.8h1.5v1.5h-1.5zM439.0 375.6h1.5v1.5h-1.5zM478.0 358.9h1.5v1.5h-1.5z"/><line x1="290.50" y1="337.30" x2="490.50" y2="337.30" stroke="#111" stroke-width="1.4"/><line x1="290.50" y1="336.60" x2="290.50" y2="534.00" stroke="#111" stroke-width="1.6"/><line x1="490.50" y1="336.60" x2="490.50" y2="534.00" stroke="#111" stroke-width="1.6"/><line x1="289.70" y1="532.80" x2="491.30" y2="532.80" stroke="#111" stroke-width="2.6"/><line x1="290.50" y1="472.90" x2="490.50" y2="472.90" stroke="#111" stroke-width="2.0"/><line x1="287.30" y1="532.80" x2="290.50" y2="532.80" stroke="#111" stroke-width="1.3"/><line x1="288.50" y1="518.09" x2="290.50" y2="518.09" stroke="#111" stroke-width="1.1"/><line x1="288.50" y1="509.48" x2="290.50" y2="509.48" stroke="#111" stroke-width="1.1"/><line x1="288.50" y1="503.37" x2="290.50" y2="503.37" stroke="#111" stroke-width="1.1"/><line x1="288.50" y1="498.64" x2="290.50" y2="498.64" stroke="#111" stroke-width="1.1"/><line x1="288.50" y1="494.77" x2="290.50" y2="494.77" stroke="#111" stroke-width="1.1"/><line x1="288.50" y1="491.50" x2="290.50" y2="491.50" stroke="#111" stroke-width="1.1"/><line x1="288.50" y1="488.66" x2="290.50" y2="488.66" stroke="#111" stroke-width="1.1"/><line x1="288.50" y1="486.16" x2="290.50" y2="486.16" stroke="#111" stroke-width="1.1"/><line x1="287.30" y1="483.92" x2="290.50" y2="483.92" stroke="#111" stroke-width="1.3"/><line x1="288.50" y1="469.21" x2="290.50" y2="469.21" stroke="#111" stroke-width="1.1"/><line x1="288.50" y1="460.61" x2="290.50" y2="460.61" stroke="#111" stroke-width="1.1"/><line x1="288.50" y1="454.50" x2="290.50" y2="454.50" stroke="#111" stroke-width="1.1"/><line x1="288.50" y1="449.76" x2="290.50" y2="449.76" stroke="#111" stroke-width="1.1"/><line x1="288.50" y1="445.89" x2="290.50" y2="445.89" stroke="#111" stroke-width="1.1"/><line x1="288.50" y1="442.62" x2="290.50" y2="442.62" stroke="#111" stroke-width="1.1"/><line x1="288.50" y1="439.79" x2="290.50" y2="439.79" stroke="#111" stroke-width="1.1"/><line x1="288.50" y1="437.29" x2="290.50" y2="437.29" stroke="#111" stroke-width="1.1"/><line x1="287.30" y1="435.05" x2="290.50" y2="435.05" stroke="#111" stroke-width="1.3"/><line x1="288.50" y1="420.34" x2="290.50" y2="420.34" stroke="#111" stroke-width="1.1"/><line x1="288.50" y1="411.73" x2="290.50" y2="411.73" stroke="#111" stroke-width="1.1"/><line x1="288.50" y1="405.62" x2="290.50" y2="405.62" stroke="#111" stroke-width="1.1"/><line x1="288.50" y1="400.89" x2="290.50" y2="400.89" stroke="#111" stroke-width="1.1"/><line x1="288.50" y1="397.02" x2="290.50" y2="397.02" stroke="#111" stroke-width="1.1"/><line x1="288.50" y1="393.75" x2="290.50" y2="393.75" stroke="#111" stroke-width="1.1"/><line x1="288.50" y1="390.91" x2="290.50" y2="390.91" stroke="#111" stroke-width="1.1"/><line x1="288.50" y1="388.41" x2="290.50" y2="388.41" stroke="#111" stroke-width="1.1"/><line x1="287.30" y1="386.18" x2="290.50" y2="386.18" stroke="#111" stroke-width="1.3"/><line x1="288.50" y1="371.46" x2="290.50" y2="371.46" stroke="#111" stroke-width="1.1"/><line x1="288.50" y1="362.86" x2="290.50" y2="362.86" stroke="#111" stroke-width="1.1"/><line x1="288.50" y1="356.75" x2="290.50" y2="356.75" stroke="#111" stroke-width="1.1"/><line x1="288.50" y1="352.01" x2="290.50" y2="352.01" stroke="#111" stroke-width="1.1"/><line x1="288.50" y1="348.14" x2="290.50" y2="348.14" stroke="#111" stroke-width="1.1"/><line x1="288.50" y1="344.87" x2="290.50" y2="344.87" stroke="#111" stroke-width="1.1"/><line x1="288.50" y1="342.04" x2="290.50" y2="342.04" stroke="#111" stroke-width="1.1"/><line x1="288.50" y1="339.54" x2="290.50" y2="339.54" stroke="#111" stroke-width="1.1"/><line x1="287.30" y1="337.30" x2="290.50" y2="337.30" stroke="#111" stroke-width="1.3"/><line x1="291.00" y1="532.80" x2="291.00" y2="538.30" stroke="#111" stroke-width="1.4"/><line x1="298.78" y1="532.80" x2="298.78" y2="536.30" stroke="#111" stroke-width="1.2"/><line x1="306.55" y1="532.80" x2="306.55" y2="536.30" stroke="#111" stroke-width="1.2"/><line x1="314.33" y1="532.80" x2="314.33" y2="536.30" stroke="#111" stroke-width="1.2"/><line x1="322.10" y1="532.80" x2="322.10" y2="536.30" stroke="#111" stroke-width="1.2"/><line x1="329.88" y1="532.80" x2="329.88" y2="538.30" stroke="#111" stroke-width="1.4"/><line x1="337.66" y1="532.80" x2="337.66" y2="536.30" stroke="#111" stroke-width="1.2"/><line x1="345.43" y1="532.80" x2="345.43" y2="536.30" stroke="#111" stroke-width="1.2"/><line x1="353.21" y1="532.80" x2="353.21" y2="536.30" stroke="#111" stroke-width="1.2"/><line x1="360.98" y1="532.80" x2="360.98" y2="536.30" stroke="#111" stroke-width="1.2"/><line x1="368.76" y1="532.80" x2="368.76" y2="538.30" stroke="#111" stroke-width="1.4"/><line x1="376.54" y1="532.80" x2="376.54" y2="536.30" stroke="#111" stroke-width="1.2"/><line x1="384.31" y1="532.80" x2="384.31" y2="536.30" stroke="#111" stroke-width="1.2"/><line x1="392.09" y1="532.80" x2="392.09" y2="536.30" stroke="#111" stroke-width="1.2"/><line x1="399.86" y1="532.80" x2="399.86" y2="536.30" stroke="#111" stroke-width="1.2"/><line x1="407.64" y1="532.80" x2="407.64" y2="538.30" stroke="#111" stroke-width="1.4"/><line x1="415.42" y1="532.80" x2="415.42" y2="536.30" stroke="#111" stroke-width="1.2"/><line x1="423.19" y1="532.80" x2="423.19" y2="536.30" stroke="#111" stroke-width="1.2"/><line x1="430.97" y1="532.80" x2="430.97" y2="536.30" stroke="#111" stroke-width="1.2"/><line x1="438.74" y1="532.80" x2="438.74" y2="536.30" stroke="#111" stroke-width="1.2"/><line x1="446.52" y1="532.80" x2="446.52" y2="538.30" stroke="#111" stroke-width="1.4"/><line x1="454.30" y1="532.80" x2="454.30" y2="536.30" stroke="#111" stroke-width="1.2"/><line x1="462.07" y1="532.80" x2="462.07" y2="536.30" stroke="#111" stroke-width="1.2"/><line x1="469.85" y1="532.80" x2="469.85" y2="536.30" stroke="#111" stroke-width="1.2"/><line x1="477.62" y1="532.80" x2="477.62" y2="536.30" stroke="#111" stroke-width="1.2"/><line x1="485.40" y1="532.80" x2="485.40" y2="538.30" stroke="#111" stroke-width="1.4"/><text transform="translate(1.13,18.73) scale(1.0513,1.0524)" font-family='"Liberation Sans", sans-serif' font-size="24" font-weight="bold" text-anchor="start">A</text><text transform="translate(32.02,60.05) scale(1.1296,0.9535)" font-family='"Liberation Serif", serif' font-size="13.5" font-weight="normal" text-anchor="end" stroke="#000" stroke-width="0.25">8</text><text transform="translate(31.48,147.65) scale(1.0245,0.9521)" font-family='"Liberation Serif", serif' font-size="13.5" font-weight="normal" text-anchor="end" stroke="#000" stroke-width="0.25">4</text><text transform="translate(32.85,192.67) scale(1.0538,1.0131)" font-family='"Liberation Serif", serif' font-size="13.5" font-weight="normal" text-anchor="end" stroke="#000" stroke-width="0.25">2</text><text transform="translate(10.20,130.21) rotate(-90) scale(0.9959,0.8708)" font-family='"Liberation Serif", serif' font-size="13" font-weight="bold" text-anchor="middle" stroke="#000" stroke-width="0.4">% HbF</text><text transform="translate(155.90,18.62) scale(1.0058,1.0397)" font-family='"Liberation Sans", sans-serif' font-size="24" font-weight="bold" text-anchor="start">B</text><text transform="translate(187.44,45.57) scale(1.0443,1.0303)" font-family='"Liberation Serif", serif' font-size="13.5" font-weight="normal" text-anchor="end" stroke="#000" stroke-width="0.25">10</text><text transform="translate(188.72,84.98) scale(1.0060,0.9312)" font-family='"Liberation Serif", serif' font-size="13.5" font-weight="normal" text-anchor="end" stroke="#000" stroke-width="0.25">8</text><text transform="translate(187.37,118.93) scale(1.0314,1.0037)" font-family='"Liberation Serif", serif' font-size="13.5" font-weight="normal" text-anchor="end" stroke="#000" stroke-width="0.25">6</text><text transform="translate(186.65,158.26) scale(1.0040,1.0110)" font-family='"Liberation Serif", serif' font-size="13.5" font-weight="normal" text-anchor="end" stroke="#000" stroke-width="0.25">4</text><text transform="translate(187.74,195.69) scale(1.0804,0.9905)" font-family='"Liberation Serif", serif' font-size="13.5" font-weight="normal" text-anchor="end" stroke="#000" stroke-width="0.25">2</text><text transform="translate(220.51,246.02) scale(0.9812,0.8908)" font-family='"Liberation Serif", serif' font-size="13.5" font-weight="normal" text-anchor="middle" stroke="#000" stroke-width="0.25">0</text><text transform="translate(258.48,245.65) scale(1.0526,1.0355)" font-family='"Liberation Serif", serif' font-size="13.5" font-weight="normal" text-anchor="middle" stroke="#000" stroke-width="0.25">10</text><text transform="translate(296.69,245.54) scale(1.0257,0.9207)" font-family='"Liberation Serif", serif' font-size="13.5" font-weight="normal" text-anchor="middle" stroke="#000" stroke-width="0.25">15</text><text transform="translate(259.51,272.74) scale(0.9923,0.9570)" font-family='"Liberation Serif", serif' font-size="13.8" font-weight="bold" text-anchor="middle" stroke="#000" stroke-width="0.4">MTH (nM)</text><text transform="translate(166.28,129.15) rotate(-90) scale(0.9869,0.8473)" font-family='"Liberation Serif", serif' font-size="14" font-weight="bold" text-anchor="middle" stroke="#000" stroke-width="0.4">% HbF</text><text transform="translate(385.96,46.25) scale(0.9771,0.9420)" font-family='"Liberation Serif", serif' font-size="13.5" font-weight="normal" text-anchor="end" stroke="#000" stroke-width="0.25">1.2</text><text transform="translate(385.55,78.31) scale(0.8189,1.0283)" font-family='"Liberation Serif", serif' font-size="13.5" font-weight="normal" text-anchor="end" stroke="#000" stroke-width="0.25">1</text><text transform="translate(386.33,109.44) scale(1.0313,1.0511)" font-family='"Liberation Serif", serif' font-size="13.5" font-weight="normal" text-anchor="end" stroke="#000" stroke-width="0.25">0.8</text><text transform="translate(387.35,137.73) scale(1.0280,1.0062)" font-family='"Liberation Serif", serif' font-size="13.5" font-weight="normal" text-anchor="end" stroke="#000" stroke-width="0.25">0.6</text><text transform="translate(387.22,170.41) scale(1.0475,0.9266)" font-family='"Liberation Serif", serif' font-size="13.5" font-weight="normal" text-anchor="end" stroke="#000" stroke-width="0.25">0.4</text><text transform="translate(387.59,199.15) scale(1.0283,0.9218)" font-family='"Liberation Serif", serif' font-size="13.5" font-weight="normal" text-anchor="end" stroke="#000" stroke-width="0.25">0.2</text><text transform="translate(419.45,245.41) scale(1.0008,0.9328)" font-family='"Liberation Serif", serif' font-size="13.5" font-weight="normal" text-anchor="middle" stroke="#000" stroke-width="0.25">0</text><text transform="translate(456.63,245.01) scale(1.0222,0.9277)" font-family='"Liberation Serif", serif' font-size="13.5" font-weight="normal" text-anchor="middle" stroke="#000" stroke-width="0.25">10</text><text transform="translate(494.98,245.44) scale(0.9723,0.9166)" font-family='"Liberation Serif", serif' font-size="13.5" font-weight="normal" text-anchor="middle" stroke="#000" stroke-width="0.25">15</text><text transform="translate(457.63,270.26) scale(1.0003,0.9528)" font-family='"Liberation Serif", serif' font-size="13.8" font-weight="bold" text-anchor="middle" stroke="#000" stroke-width="0.4">MTH (nM)</text><text transform="translate(360.70,203.85) rotate(-90) scale(1.0364,1.0326)" font-family='"Liberation Serif", serif' font-size="13.5" font-weight="bold" text-anchor="start" stroke="#000" stroke-width="0.4">number of cells/mL x 10<tspan font-size="9.5" dy="-7" dx="1.5">-6</tspan></text><text transform="translate(0.38,321.03) scale(0.9942,0.9773)" font-family='"Liberation Sans", sans-serif' font-size="24" font-weight="bold" text-anchor="start">C</text><text transform="translate(31.07,533.05) rotate(-90) scale(1.0456,0.8531)" font-family='"Liberation Serif", serif' font-size="12" font-weight="bold" text-anchor="middle" stroke="#000" stroke-width="0.4">10<tspan font-size="9" dy="-8" dx="0.5">0</tspan></text><text transform="translate(31.42,483.29) rotate(-90) scale(0.8946,0.8330)" font-family='"Liberation Serif", serif' font-size="12" font-weight="bold" text-anchor="middle" stroke="#000" stroke-width="0.4">10<tspan font-size="9" dy="-8" dx="0.5">1</tspan></text><text transform="translate(31.44,433.57) rotate(-90) scale(0.8907,0.9902)" font-family='"Liberation Serif", serif' font-size="12" font-weight="bold" text-anchor="middle" stroke="#000" stroke-width="0.4">10<tspan font-size="9" dy="-8" dx="0.5">2</tspan></text><text transform="translate(30.52,384.17) rotate(-90) scale(0.9842,0.9719)" font-family='"Liberation Serif", serif' font-size="12" font-weight="bold" text-anchor="middle" stroke="#000" stroke-width="0.4">10<tspan font-size="9" dy="-8" dx="0.5">3</tspan></text><text transform="translate(30.62,336.51) rotate(-90) scale(0.8920,1.0146)" font-family='"Liberation Serif", serif' font-size="12" font-weight="bold" text-anchor="middle" stroke="#000" stroke-width="0.4">10<tspan font-size="9" dy="-8" dx="0.5">4</tspan></text><text transform="translate(38.88,551.18) scale(1.0098,1.0558)" font-family='"Liberation Serif", serif' font-size="11" font-weight="bold" text-anchor="middle" stroke="#000" stroke-width="0.4">0</text><text transform="translate(75.97,550.51) scale(0.9974,0.8520)" font-family='"Liberation Serif", serif' font-size="11" font-weight="bold" text-anchor="middle" stroke="#000" stroke-width="0.4">200</text><text transform="translate(117.87,550.86) scale(1.0406,0.9980)" font-family='"Liberation Serif", serif' font-size="11" font-weight="bold" text-anchor="middle" stroke="#000" stroke-width="0.4">400</text><text transform="translate(154.99,552.11) scale(1.0683,0.9717)" font-family='"Liberation Serif", serif' font-size="11" font-weight="bold" text-anchor="middle" stroke="#000" stroke-width="0.4">600</text><text transform="translate(190.29,551.65) scale(0.9979,0.9225)" font-family='"Liberation Serif", serif' font-size="11" font-weight="bold" text-anchor="middle" stroke="#000" stroke-width="0.4">800</text><text transform="translate(228.00,551.98) scale(1.0159,0.9260)" font-family='"Liberation Serif", serif' font-size="11" font-weight="bold" text-anchor="middle" stroke="#000" stroke-width="0.4">1000</text><text transform="translate(56.53,358.25) scale(1.0211,0.8628)" font-family='"Liberation Serif", serif' font-size="13.5" font-weight="bold" text-anchor="start" stroke="#000" stroke-width="0.4">untreated cells</text><text transform="translate(10.97,434.15) rotate(-90) scale(1.0012,0.9385)" font-family='"Liberation Serif", serif' font-size="14" font-weight="bold" text-anchor="middle" stroke="#000" stroke-width="0.4">Fetal Hemoglobin</text><text transform="translate(136.89,574.57) scale(0.9925,0.9924)" font-family='"Liberation Serif", serif' font-size="13.5" font-weight="bold" text-anchor="middle" stroke="#000" stroke-width="0.4">FSC-H</text><text transform="translate(284.53,530.29) rotate(-90) scale(0.9247,0.9022)" font-family='"Liberation Serif", serif' font-size="12" font-weight="bold" text-anchor="middle" stroke="#000" stroke-width="0.4">10<tspan font-size="9" dy="-8" dx="0.5">0</tspan></text><text transform="translate(283.45,482.23) rotate(-90) scale(0.8356,0.8785)" font-family='"Liberation Serif", serif' font-size="12" font-weight="bold" text-anchor="middle" stroke="#000" stroke-width="0.4">10<tspan font-size="9" dy="-8" dx="0.5">1</tspan></text><text transform="translate(283.44,433.53) rotate(-90) scale(0.8919,0.8922)" font-family='"Liberation Serif", serif' font-size="12" font-weight="bold" text-anchor="middle" stroke="#000" stroke-width="0.4">10<tspan font-size="9" dy="-8" dx="0.5">2</tspan></text><text transform="translate(283.54,383.97) rotate(-90) scale(0.9832,0.9835)" font-family='"Liberation Serif", serif' font-size="12" font-weight="bold" text-anchor="middle" stroke="#000" stroke-width="0.4">10<tspan font-size="9" dy="-8" dx="0.5">3</tspan></text><text transform="translate(283.50,336.13) rotate(-90) scale(0.9068,0.9159)" font-family='"Liberation Serif", serif' font-size="12" font-weight="bold" text-anchor="middle" stroke="#000" stroke-width="0.4">10<tspan font-size="9" dy="-8" dx="0.5">4</tspan></text><text transform="translate(290.92,549.52) scale(0.9908,1.0577)" font-family='"Liberation Serif", serif' font-size="11" font-weight="bold" text-anchor="middle" stroke="#000" stroke-width="0.4">0</text><text transform="translate(332.47,548.47) scale(0.9658,0.9764)" font-family='"Liberation Serif", serif' font-size="11" font-weight="bold" text-anchor="middle" stroke="#000" stroke-width="0.4">200</text><text transform="translate(369.79,548.52) scale(0.9913,0.8205)" font-family='"Liberation Serif", serif' font-size="11" font-weight="bold" text-anchor="middle" stroke="#000" stroke-width="0.4">400</text><text transform="translate(409.49,548.38) scale(1.0661,1.0025)" font-family='"Liberation Serif", serif' font-size="11" font-weight="bold" text-anchor="middle" stroke="#000" stroke-width="0.4">600</text><text transform="translate(449.41,550.13) scale(1.0767,0.9501)" font-family='"Liberation Serif", serif' font-size="11" font-weight="bold" text-anchor="middle" stroke="#000" stroke-width="0.4">800</text><text transform="translate(486.15,548.63) scale(1.0270,0.9548)" font-family='"Liberation Serif", serif' font-size="11" font-weight="bold" text-anchor="middle" stroke="#000" stroke-width="0.4">1000</text><text transform="translate(309.63,357.55) scale(1.0177,0.8707)" font-family='"Liberation Serif", serif' font-size="13.5" font-weight="bold" text-anchor="start" stroke="#000" stroke-width="0.4">MTH-treated cells</text><text transform="translate(263.42,432.50) rotate(-90) scale(0.9936,0.9382)" font-family='"Liberation Serif", serif' font-size="14" font-weight="bold" text-anchor="middle" stroke="#000" stroke-width="0.4">Fetal Hemoglobin</text><text transform="translate(390.46,573.20) scale(0.9741,0.9095)" font-family='"Liberation Serif", serif' font-size="13.5" font-weight="bold" text-anchor="middle" stroke="#000" stroke-width="0.4">FSC-H</text></svg></body></html>
